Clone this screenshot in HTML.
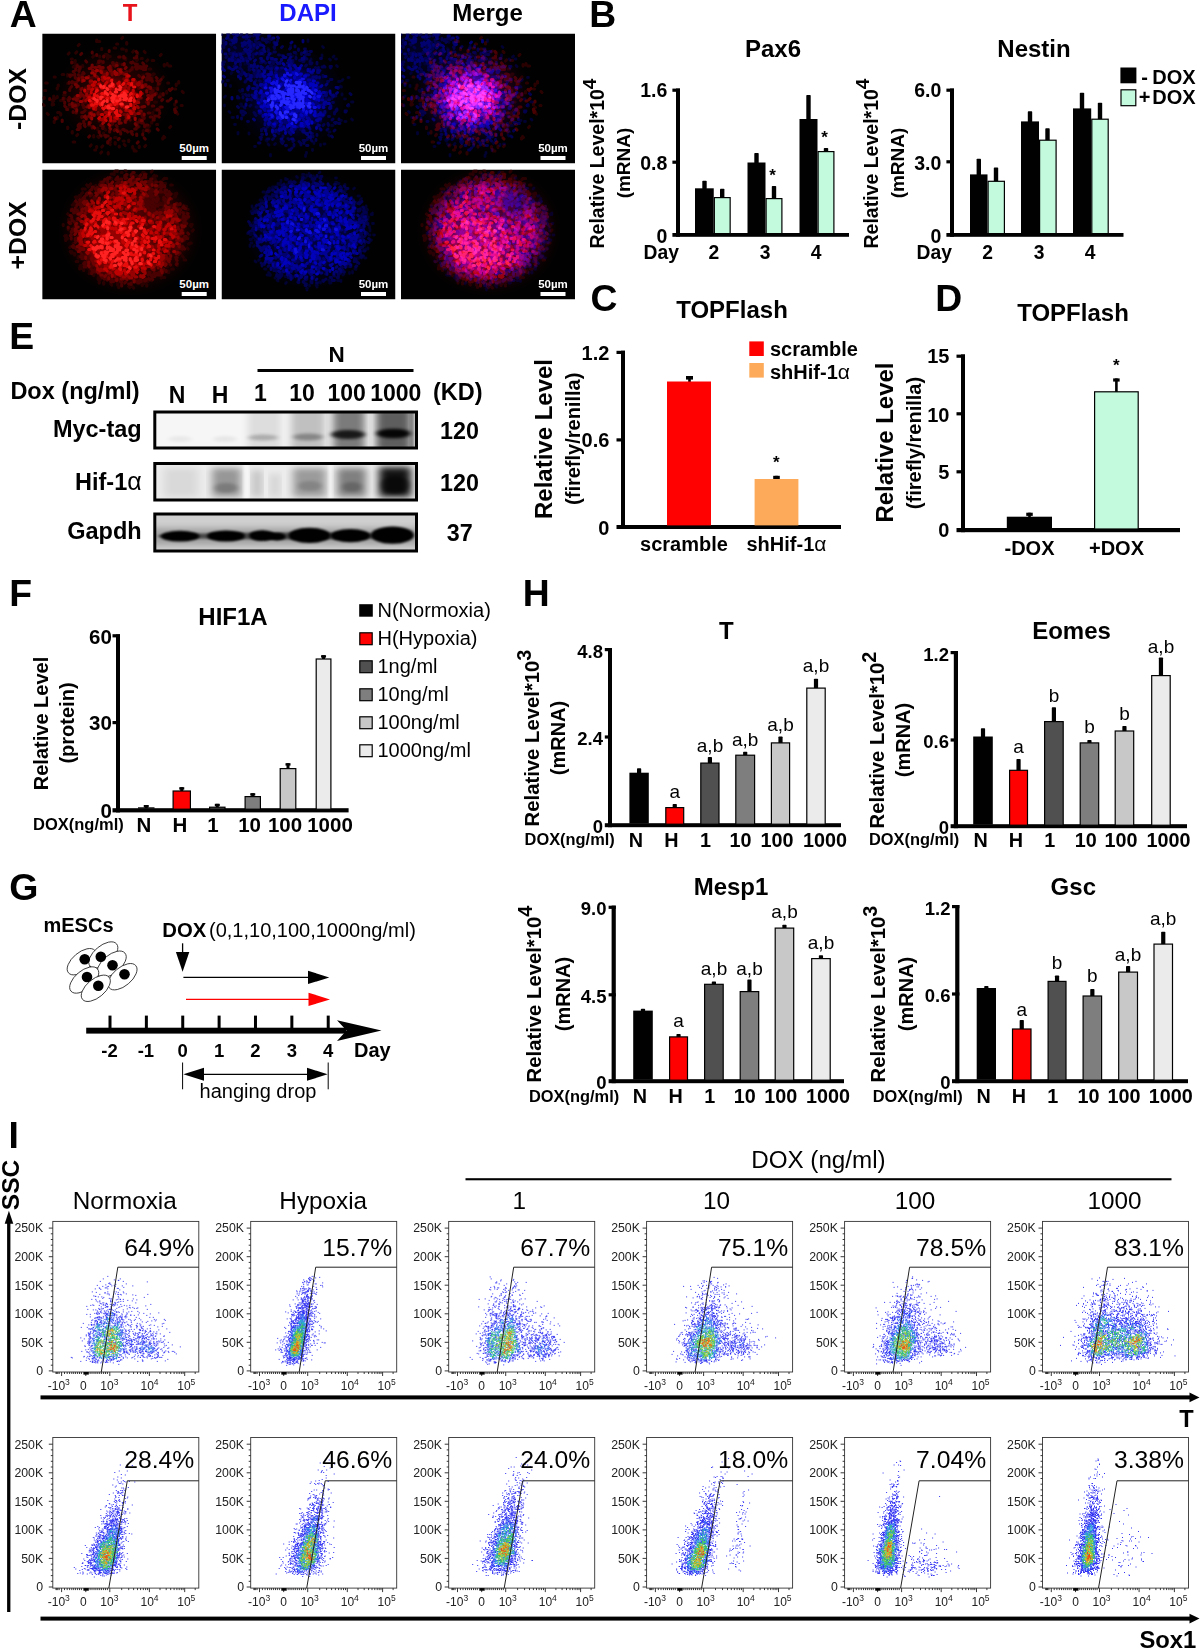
<!DOCTYPE html>
<html><head><meta charset="utf-8"><title>Figure</title>
<style>
html,body{margin:0;padding:0;background:#fff;}
svg{display:block;font-family:"Liberation Sans",sans-serif;}
</style></head><body>
<svg width="1200" height="1649" viewBox="0 0 1200 1649">
<defs>
<filter id="b1" x="-10%" y="-10%" width="120%" height="120%"><feGaussianBlur stdDeviation="0.7"/></filter>
<filter id="b6" x="-30%" y="-30%" width="160%" height="160%"><feGaussianBlur stdDeviation="6"/></filter>
<filter id="b12" x="-40%" y="-40%" width="180%" height="180%"><feGaussianBlur stdDeviation="11"/></filter>
<g id="fr0">
<ellipse cx="70" cy="63" rx="20" ry="17" fill="#ff0000" opacity="0.45" filter="url(#b6)"/>
<ellipse cx="72" cy="61" rx="44" ry="34" fill="#900000" opacity="0.28" filter="url(#b12)"/>
<g filter="url(#b1)">
<path transform="scale(.5)" d="M67 39l2-2M119 227l2-2M202 194v3M265 111h2M184 232v3M268 101v3M234 124v3M103 204v3M144 29h3M269 159l2 2M30 126v2M213 197l2-2M105 233h2M111 60v2M154 225v2M229 182h2M225 137h3M251 99h2M69 204l2-2M273 96v3M240 89l2-2M219 177v2M141 58h2M201 83h2M169 18v3M237 121l2 2M234 100l2-2M109 226v2M221 158v3M37 160v3M43 132l2-2M20 141v2M51 187v3M278 144h2M2 142l2 2M133 46h3M4 128v2M24 87h2M131 48v2M151 61h3M189 54l2-2M10 160l2 2M159 10l2-2M223 110h3M21 133l2 2M178 73h2M67 62h3M96 225l2-2M250 60v3M204 36l2 2M113 16h2M151 193h3M117 239l2-2M149 21h2M244 62v3M51 100h2M51 131l2-2M62 67h3M134 220l2 2M23 125v3M132 238v3M168 33v2M66 54v3M81 64v2M205 226l2-2M5 114h2M123 199v3M192 186h2M235 147v2M191 61v3M63 66h3M159 31h3M58 147h3M136 214v3M63 58l2-2M119 30v2M236 44l2-2M214 71h3M101 47l2-2M32 103v2M37 134h3M111 189v3M218 88l2 2M225 153h2M62 217h3M52 148l2-2M125 191l2 2M249 116v3M198 50h2M209 55l2-2M181 226v3M23 130h3M30 109v2M74 81v3M255 188l2-2M116 59l2 2M126 42h2M181 37l2-2M194 225v3M111 206l2 2M209 188v2M267 150l2-2M254 65h3M173 213v3M241 209v2M20 133v2M220 83h2M265 141v2M167 49v3M222 81h2M71 74l2-2M7 99h3M43 123h3M220 54h3M30 167v3M21 140l2 2M60 196v3M205 184v3M129 45l2-2M51 82v3M24 175v3M58 51h2M280 116l2 2M52 41l2-2M109 13v3M163 46l2 2M145 208h3M164 222l2 2M231 105v3M115 45v2M31 158h3M212 193h2M243 206l2 2M40 82h3M162 215h2M185 235h3M189 39l2 2M146 218v3M72 24l2-2M213 187l2-2" stroke="#2c0000" stroke-width="6.2" stroke-linecap="round" fill="none"/>
<path transform="scale(.5)" d="M73 67l2 2M236 94l2-2M222 172l2-2M175 75l2-2M135 68l2 2M89 122h2M129 205h3M76 186v3M114 55h3M83 179l2 2M42 129v2M144 194l2-2M179 59l2-2M207 69v3M214 106l2 2M201 201v2M53 132v3M66 87v2M70 64v2M63 147l2 2M177 58h3M195 172v2M204 168v2M116 203l2 2M218 127v3M122 185v2M122 56v2M122 74v2M189 45v3M239 134l2-2M96 90l2 2M56 86l2-2M193 177h3M209 89l2-2M138 183l2-2M144 64l2 2M185 191h3M201 168h2M193 84l2 2M231 110v2M198 174l2 2M110 161l2-2M186 61h2M83 145v3M229 94l2 2M187 127l2-2M216 118l2 2M84 156l2-2M215 91v2M66 127h2M76 67v3M232 165l2 2M104 105l2-2M131 167v2M149 59v2M180 58h2M166 78h2M122 87v2M169 76v2M258 112l2-2M99 89v3M52 133l2-2M254 112l2 2M113 55v3M113 69l2 2M55 83h3M100 37v2M86 109l2 2M54 97v2M72 83l2 2M195 66v3M156 196v2M134 34v2M88 109v3M235 158v2M84 184l2 2M109 42v2M219 116l2-2M81 141v2M215 82v2M40 173v3M256 132l2-2M148 184l2 2M127 205v2M135 212l2-2M79 166h3M237 147h3M81 79h2M141 162h2M192 146v3M61 98h3M151 79h2M232 152l2 2M201 87v2M200 161v2M219 117v3M206 102h2M212 91l2-2M45 137v3M87 55l2 2M197 66v2M77 110v2M152 212l2-2M79 168l2-2M58 83h2M250 135h2M268 135v2M191 149h2M114 196v2M85 137h2M45 145l2 2M202 66v3M68 157v2M212 159h3M175 153h3M181 163l2 2M220 145h3M216 90h2M161 192h3M225 165h3M93 207l2-2M189 105l2 2M101 186l2 2M188 71h2M98 67v2M80 83v2M222 173h2M189 66h2M174 171l2 2M72 183v3M135 69h3M68 147l2-2M212 138l2-2M242 120v3M167 155l2 2M187 190l2-2M201 59l2 2M209 90v3M100 105v3M140 175l2-2M141 58v2M65 81v2M70 135l2-2M68 98l2-2M71 142h2M94 122v2M100 186v3M82 78l2 2M228 88l2 2M74 73v3M25 169l2 2M57 108l2-2M207 65h2M114 173v2M196 106l2-2M121 187v3M198 161l2-2M49 152h2M123 45v2M220 117l2-2M146 172v2M55 111v3M87 116h3M234 127h2M265 151v3M186 67l2-2M62 76h2M177 196h3M125 204h3M204 209l2 2M208 137l2-2M117 184h3M54 128l2 2M220 94v2M59 57v2M74 181h3M143 62h2M137 78v2M184 49h2M163 192l2 2M157 199v2M101 87h3M120 79h2M112 162l2 2M190 219l2-2M211 86l2 2M141 178v3M60 96v3M68 90h2M209 81h3M126 78l2-2M153 47h3M70 192h3M190 185l2 2M193 156h2M131 216v3M232 101h2M67 101l2 2M180 68v3M186 180l2-2M187 62h3M176 163v2M77 42l2-2M188 63v3M150 190v3M199 179h3M78 125l2-2M205 183v3M179 200l2 2M169 195l2 2M230 151v2M163 47l2 2M216 167h3M198 70h2M189 201v3M71 106h2M135 194v3M83 175v2M230 191l2 2M62 156v2M44 118h2M208 183h3M67 71v2M228 119v2M63 141h3M15 130v2M163 46v3M167 175v3M190 182v3M160 62h2M202 72h3M208 194h3M93 183h2M142 61v2M266 158l2-2M200 162v3M95 129l2 2M193 108v2M214 108v3M54 142h2M79 158h2M95 178h2M74 127v3M188 36l2 2" stroke="#4a0000" stroke-width="6.2" stroke-linecap="round" fill="none"/>
<path transform="scale(.5)" d="M121 105h3M172 98l2 2M217 108v2M121 144l2-2M157 77v3M94 110l2 2M209 114v3M94 178v2M102 128h3M179 153v3M84 167l2-2M204 161v2M198 174h2M99 158v2M94 70h3M91 113v3M78 112l2-2M155 72v2M194 97h3M168 97v3M69 130h2M127 135l2-2M186 160v2M126 91h2M79 88h3M123 135v3M143 161v3M139 94l2-2M118 172l2 2M149 194l2 2M137 137l2 2M132 145h2M152 172h3M82 134h2M154 160l2-2M147 167h3M103 187l2 2M216 126v3M168 166v3M195 129h3M161 79l2 2M175 100h2M135 189l2 2M186 181l2 2M89 147h3M186 99l2-2M114 103l2-2M155 72h3M135 176h3M129 101l2 2M169 169v3M136 102h2M108 85v2M66 131l2 2M152 72l2 2M61 144v2M93 165l2 2M202 146h3M174 104l2-2M172 115l2 2M133 103h2M60 139v3M148 64h2M69 152v3M119 74v2M99 145v2M107 139h3M98 106l2 2M195 99v2M112 117l2-2M168 144l2-2M65 144h2M187 103v2M136 65v3M88 168v3M196 155h2M166 70l2-2M163 162h3M220 124v3M174 135v3M174 166v2M163 91l2 2M77 118v3M181 94h2M119 68h3M153 82l2-2M211 107h3M141 78h2M132 68h3M212 138v3M154 177v3M204 103v3M101 73v2M74 124l2 2M105 68h3M91 128l2 2M195 124v3M199 147h2M201 89l2-2M112 158v3M155 179h3M93 86v2M197 108h3M108 87h2M205 105l2-2M114 136l2-2M123 82h3M140 80v3M68 133h2M73 90v3M81 123l2 2M118 111l2-2M164 60v3M99 102l2-2M66 102h2M88 88h3M105 76l2 2M217 132h2M100 63v3M80 93v3M156 103v2M181 118h2M136 75l2-2M184 103v3M132 158v2M211 124h3M181 144l2-2M92 144h2M199 95v3M96 95v3M124 174v3M69 107l2-2M225 121v2M134 95v3M84 125v3M95 159v2M171 93l2 2M192 131v3M134 70v2M87 118h2M189 121v2M191 122h2M113 66h2M103 136h3M129 144v3M166 174v3M62 131h2M117 69v3M118 76v2M183 115v2" stroke="#6e0000" stroke-width="6.2" stroke-linecap="round" fill="none"/>
<path transform="scale(.5)" d="M210 132l2-2M135 119l2-2M191 138h2M116 172h2M163 123h3M99 168v3M190 146l2 2M192 100l2 2M155 139h2M170 83l2 2M141 111l2-2M104 144v3M92 110h3M95 124v2M143 175h3M153 105h3M131 112l2-2M88 89h3M149 165l2 2M164 145v3M120 87h3M105 82v2M187 136l2 2M181 117v3M121 171l2 2M149 145v2M138 108l2 2M177 134h3M174 130h2M92 105h2M117 125l2 2M159 140v3M161 133v2M97 160l2 2M96 95h3M107 149v3M168 114l2 2M87 134l2-2M194 98v3M156 73v2M186 121l2 2M118 107h2M145 76l2 2M186 169v3M121 180l2-2M180 156h3M107 109h3M168 130l2 2M110 128v3M173 108v3M70 124h2M180 145h3M180 98l2-2M159 109h3M133 182l2 2M190 101l2 2M104 104l2-2M149 79v3M99 79h2M167 104v3M128 91h3M172 154h3M158 110h3M89 121v3M110 130v3M200 104v3M120 92l2 2M82 94h2M126 120l2 2M129 125h3M144 140v2M184 140h3M135 104l2-2M126 158h3M165 112v2M101 135l2-2M197 120h3M166 101v2M146 79v2M143 123l2 2M174 126l2-2M149 163l2-2M171 169h2M188 139l2-2M109 136h2M104 162v2M168 88l2 2M142 141l2 2M171 162v2M117 76l2 2M125 87h3M131 93l2 2M167 154h2M94 145v3M76 136h3M108 74h3M166 127v3M127 107l2 2M144 169l2 2M134 165h2M167 82h3M156 75l2 2M133 150l2 2M112 122h2M120 137h2M147 78v3M130 79v3M147 82l2-2M194 124v2M165 97l2-2M139 155h2M191 160h3" stroke="#960202" stroke-width="6.2" stroke-linecap="round" fill="none"/>
<path transform="scale(.5)" d="M100 129h2M182 113v2M107 142l2 2M151 100h3M116 137l2-2M167 94h3M150 168v2M134 156h3M145 137l2 2M145 142l2-2M98 142v2M183 150l2-2M176 103l2-2M167 132l2 2M113 101h2M173 127v3M141 105h2M143 102v2M135 145h2M129 164h3M125 120l2 2M140 143l2-2M137 129v3M124 121h3M121 127h2M127 122l2 2M137 130l2-2M85 113v2M159 145l2-2M107 136l2 2M171 146h2M97 138h3M151 139v2M171 85h3M153 105h3M137 142h2M115 133h3M173 166v2M106 143v3M195 125l2-2M103 148v3M145 127l2-2M102 102v2M140 150v2M132 89h2M175 156h2M181 92h3M93 128h3M100 103h3M134 109l2 2M197 117v3M137 171v3M182 120v2M113 91v2M118 162h3M172 100h3M147 168l2-2M124 88l2 2M168 148v3M147 123v3M137 167v2M156 155l2 2M185 148v3M98 117v2M99 113l2-2M130 127h3M109 112l2 2M104 123v3M127 100l2-2M113 170l2-2M154 97v2M104 97h3M177 160h3M153 128l2 2M125 167h2M126 172l2 2M181 127l2 2M117 134v2M129 123v3" stroke="#c00606" stroke-width="6.2" stroke-linecap="round" fill="none"/>
<path transform="scale(.5)" d="M136 118l2 2M139 93v2M150 134h3M99 143h3M127 146v2M129 130h2M133 143h3M146 131l2 2M108 116l2-2M159 120l2-2M179 100v3M115 141l2 2M147 139h2M123 107l2-2M184 133v3M119 109h2M140 104l2 2M161 102l2-2M145 126l2 2M119 120h2M121 149l2 2M134 159v2M167 130v3M176 122l2-2M149 127l2 2M149 154v3M150 161v3M110 125l2 2M168 117h2M190 123v3M94 134h2M146 139v3M183 107h2M146 158l2 2M102 130h2M165 115h2M106 140h3M177 141v3M154 164h2M124 121l2-2M105 121v3" stroke="#e80c0c" stroke-width="6.2" stroke-linecap="round" fill="none"/>
<path transform="scale(.5)" d="M154 112h2M140 150h3M155 106l2 2M130 134v2M148 111v2M176 131l2-2M149 135h2M165 123h3M163 132h3M139 129l2-2M157 141h3M139 104l2-2M122 137l2-2M146 117h3M157 124h3M132 149h3M162 123v3M117 127h3M140 100v3M141 122l2 2M143 129v3M154 125h3M117 127v3M123 106v2M140 135l2 2M117 104v2M129 110l2 2M126 116v3M167 130h2M156 131v2M157 124v2M120 139v3M143 125h3M135 105h2M168 147h3M104 130l2 2M174 134h3M110 133v3M129 120l2 2M165 130l2-2M164 119l2 2M131 146h2" stroke="#ff2424" stroke-width="6.2" stroke-linecap="round" fill="none"/>
</g>
</g>
<g id="fb0">
<ellipse cx="69" cy="65" rx="30" ry="27" fill="#0000ff" opacity="0.4" filter="url(#b6)"/>
<ellipse cx="69" cy="65" rx="42" ry="38" fill="#0000a0" opacity="0.3" filter="url(#b12)"/>
<ellipse cx="18" cy="18" rx="30" ry="20" fill="#000080" opacity="0.3" filter="url(#b12)"/>
<g filter="url(#b1)">
<path transform="scale(.5)" d="M40 79h3M19 80l2-2M179 51v2M230 64l2 2M106 222l2-2M215 197h2M205 221h2M89 213l2 2M201 43v3M238 105l2 2M168 243v3M21 168h3M198 222v2M75 39l2 2M6 143v2M253 88h2M18 104v2M84 36v3M96 15v3M185 218v2M42 122h2M26 182h2M223 47l2-2M67 69v2M6 127l2-2M98 242v3M39 145h2M93 221l2 2M228 51h2M173 13v3M170 238v2M238 174h2M141 45h2M36 114l2 2M260 137h3M11 94h3M253 145h2M99 40h2M15 156l2 2M33 198v3M110 19v3M241 94l2-2M47 61h3M234 96h3M247 176h2M202 26l2 2M55 199v2M38 141h2M260 171l2 2M214 203l2 2M138 25v3M66 226h2M216 51l2 2M60 68v2M182 232v2M220 184h3M241 121v2M246 131h2M55 43l2 2M82 42h3M149 40v2M93 30l2 2" stroke="#000030" stroke-width="5.8" stroke-linecap="round" fill="none"/>
<path transform="scale(.5)" d="M136 43l2-2M191 58v3M43 127v2M218 143v3M87 71h3M79 209v3M43 77v2M234 180h3M136 31l2-2M166 45l2-2M169 38l2-2M100 54h2M58 85h2M102 212l2-2M65 158l2 2M247 157h2M165 218v2M57 145l2-2M65 79l2 2M201 67h3M32 126v3M133 210l2 2M196 166v3M247 155h3M107 54l2 2M235 171v2M170 224h3M80 114h3M46 157l2 2M211 193l2-2M48 122l2 2M84 190h2M94 44v3M122 216h2M145 38h3M42 163h2M88 177v2M162 196l2 2M98 63l2 2M225 195l2-2M192 74v3M39 155v3M191 202v2M145 222v3M76 94l2 2M189 212v2M183 205v2M130 196h3M128 66h2M198 50h2M69 125h2M121 44l2 2M231 151v3M191 70v3M221 173l2-2M114 43h2M214 166h2M226 158v3M155 216l2 2M205 65l2 2M158 192l2-2M198 173v2M67 96l2-2M77 208h3M67 162l2 2M177 36h3M92 187l2-2M149 48v3M233 110l2-2M52 109v2M53 132h3M204 158l2-2M74 82l2 2M193 181v3M141 72h2M74 219h3M160 39v3M107 67l2-2M173 42h3M32 146l2 2M72 75h2M74 74v3M68 79v2M33 127l2 2M213 180v2M52 176h2M226 125h3M165 214h3M198 129h3M195 145v3M88 163v2M180 59v2M105 68h3M252 144l2-2M218 66v3M221 128v2M179 59h2M139 231l2-2M52 83l2-2M70 80v2M172 210v2M105 37h3M229 153v3M214 182v2M135 233h3M119 216h2M159 220v3M143 54v3M215 129v2M123 186l2-2M66 84v3M89 192v3M80 202h2M132 195l2-2M226 178l2 2M166 31h2M80 83h3M104 59v2M69 147h3M113 198l2 2M217 66h3M32 166v2M133 42h3M100 67v2M203 84v3M93 46h2M203 184l2-2M120 218l2 2M186 178l2-2M193 183v3M116 70l2 2M212 96h2M45 147l2 2M43 155v2M111 72v3M177 55v2M162 56h3M58 131l2 2M55 73h2M257 120l2 2M222 138h2M76 83v3M48 95v2M47 97l2-2M209 130v2M220 205l2 2M57 84v3M228 178h2M188 68l2 2M143 216l2-2M90 82h3M169 182l2-2M123 205v2M180 202l2-2M40 169v2M169 49l2 2M128 224h2M92 172l2 2M75 159l2-2M92 211h3M163 214h2M194 68v3M218 92h3M55 123v2M179 213l2 2M154 31v3M80 192v3M65 26v2M88 88v2M16 13h3M68 13v3M49 11h2M-3 58v3M72 8l2 2M26 27l2 2M38 81l2 2M70 21l2-2M5 20l2 2M64 5l2-2M79 55v3M-28 44l2 2M142 -17l2 2M41 73v3M-54 77h3M22 39v3M36 70h2M25 66l2-2M69 -25l2-2M-28 79l2 2M-6 -2v2M51 22l2-2M-34 13v2M-42 36l2 2M18 52v2M105 17v2M77 36v3M74 -10l2 2M-82 49h2M-6 67v3M75 -9v2M164 53h2M33 -4h3M42 26h2M120 28l2-2M23 -5h2M-26 19v2M60 29h2M80 34v3M76 87l2-2M42 112v3M-12 94h2M46 -14h3M63 46v2M56 7l2-2M79 79l2 2M32 42l2-2M48 50h2M25 14l2 2M-48 62l2 2M-23 112v3M56 39v2M-3 2h3M99 102h3M82 10v3M-38 39v2M51 1v3M-69 24l2-2M61 22v3M-27 57v3M77 19v2M100 57l2-2M70 22v3M98 10l2 2M12 2h3M177 58v3M75 41h3M-101 48v2M106 21h3M56 18h3M74 18v2M-6 -22l2-2M38 3l2-2M94 34v3M38 40v2M52 59l2 2M80 34l2-2M-59 50l2 2M93 10h2M145 -4h3M-13 59v3M51 35v2M66 25h2M34 41v2M41 -15l2-2M50 26h2M112 14v2M105 27l2-2M86 57l2 2M18 21l2 2M64 -4v2M8 101v3M121 -15h2M27 51v3M168 65l2-2M43 55h2M26 38l2 2M147 25v2M-3 28v3M62 33l2-2M113 -7l2-2M111 85l2-2M-59 52v3M49 52l2-2M106 28v2M75 1h2M69 73l2-2M59 18h2M42 40h2M15 11l2 2M53 36h2M86 14l2-2M39 -13h2M-36 -23l2-2M-13 47h3M9 48l2-2M63 41h3M55 67v2M2 64l2-2M89 126v3M16 40h3M89 -12l2 2M1 97l2-2M78 58h3M-2 63l2-2M20 46l2-2M-78 51l2 2M-13 38h3M4 13v2M98 74v3M30 11v3M-65 39h3M-10 1h2M90 18l2-2M156 54h2M36 45h3M65 -3h3M5 25v3M44 38h2M14 67v2M-14 68v3M53 38v3M33 52v3M68 65l2 2M-91 4h3M-21 18l2 2M-14 46v2M-26 52h3M-17 -34h3M38 61v3M3 57h3M-16 19v3" stroke="#00004e" stroke-width="5.8" stroke-linecap="round" fill="none"/>
<path transform="scale(.5)" d="M165 48v3M208 141h2M77 140v3M123 186v3M95 164h2M144 92h3M188 121v3M112 167l2-2M197 190l2 2M182 90l2-2M134 76l2 2M85 133l2 2M101 184l2 2M153 166l2 2M119 185v3M108 177l2 2M99 50h3M121 187v2M193 109l2-2M207 124h3M172 200v3M148 83h2M184 138h3M131 99v3M101 139l2-2M174 111l2 2M111 58l2 2M168 199l2 2M183 87v3M153 82v2M88 193v2M209 103l2-2M136 62l2 2M136 181v2M104 185l2 2M177 72v2M187 146l2-2M193 75v2M163 196l2-2M126 48h3M145 193l2-2M140 211h3M87 172l2 2M214 133h2M171 186h2M190 141h3M151 169l2 2M76 159h3M229 108h3M195 76l2-2M104 185v2M197 191l2 2M196 87v2M74 134v2M145 187h3M190 86v3M153 86l2 2M193 73l2 2M201 143l2 2M176 159h2M82 107l2 2M161 50v2M64 171l2 2M88 152l2 2M104 98v2M131 179l2 2M169 182l2-2M63 124v3M86 149h2M102 195v3M90 200v2M139 59l2 2M207 86h2M108 72h3M131 93h3M191 132v2M230 120l2-2M126 191h3M186 87h3M120 52v2M87 180v3M132 59h3M175 189l2 2M109 195l2-2M183 104l2 2M198 158v3M49 141v3M101 101h3M105 84v3M126 85h2M61 123l2 2M131 160h2M208 142l2-2M181 177v3M100 70v2M84 74h3M218 121l2 2M117 101l2 2M168 86v3M134 54l2-2M86 91l2 2M97 182l2-2M91 145v2M101 158v3M224 123v3M139 200v2M86 98h2M108 145v2M193 184h3M117 58v2M196 170h3M51 131v3M106 103h3M70 103l2 2M128 103l2 2M144 65l2-2M127 175v3M143 77h3M70 126v3M130 77l2 2M136 197v2M203 161l2 2M92 156h2M90 147l2 2M193 172v3M163 194l2 2M210 118v3M84 106h3M121 169v3M116 155l2 2M68 125l2-2M192 78h3M195 167h2M175 207h3M81 137h2M71 84v3M62 110h3M79 82v2M180 79h2M202 126v2M121 93v3M136 75l2 2M217 147l2-2M137 49l2-2M177 197l2 2M116 190v3M216 150h2M98 78v3M91 143v3M80 70l2-2M161 152h2M82 131l2-2M105 203l2 2M70 110l2-2M190 143v3M72 134l2-2M140 191v3M201 163l2 2M119 211h2M148 76h3M139 54v2M108 194v3M108 78l2 2M88 173l2-2M133 179v2M73 80v3M100 110h3M95 58h2M103 104v2M190 139v2M121 166h3M207 156v3M216 149h3M178 206v3M173 95l2 2M154 186l2-2M94 5h3M-64 63h3M73 -19h3M33 53v3M107 52h3M12 -5v3M38 -69h3M153 154h3M-46 80h3M107 19h3M52 91h3M-61 75h3M79 66v2M29 -9l2 2M-3 -8l2 2M16 68l2 2M26 8v3M95 42l2-2M24 13l2-2M-27 41h2M21 -5h3M-31 46l2-2M-14 42v3M10 10l2-2M49 82v3M-48 55h2M165 38l2-2M21 14l2 2M43 7h3M93 68l2 2M66 61v3M-56 -22v2M63 72l2 2M15 32v2M83 24l2 2M68 -22h2M-25 38h3M13 5v2M56 21v3M59 64v2M74 1v3M77 23h3M-9 78h2M23 19h2M41 19l2 2M28 58v2M-48 16v2M55 106v3M-8 77h2M26 17l2-2M66 1h3M-16 22l2 2M-9 -2h2M91 68l2-2M34 85v2M30 42v3M21 72h3M120 69h3M26 13v3M-48 32l2-2M104 -20h3M66 98v3M-40 58v3M92 48v3M15 51v3M0 35v2M39 49l2-2M-28 -8h3M-24 66h2M-21 -30l2 2M108 22h3M9 18v3M53 110v3M20 52h2M51 55h2M-16 40h3M82 -25v2M-50 -39h2M29 69l2-2M42 23v2M58 94h2M27 12l2-2M-15 1h2M-32 48l2 2M-65 48v2M77 86h2M56 49l2 2M37 42h2M54 33l2-2M2 69v3M30 4h2M38 89v2M66 55l2-2M21 54h2M46 32l2 2M21 49l2-2M46 17v3M-43 7h2M-4 27h2M53 40h3M-15 43v3M48 33h3M-6 49v2M23 1h3M-32 48v3M55 16h2M29 14v3M34 -38h2M64 64v3M103 9h2M58 84h2M71 29l2-2M72 9v2M4 85l2 2M-37 81h3M-23 15l2 2M139 19l2-2M21 128v3M71 6v2M36 54l2 2M81 -5h2M79 40h3M52 18h3M-7 32h2M163 14v3M74 75h2M65 22v2M112 7l2 2M32 75l2 2M-46 62v3M29 14v3M85 31v2M47 22l2-2M50 5l2 2M100 -13h2M33 -23l2-2M50 33v3M85 34l2 2M55 14l2 2M119 106v2M-5 -19v3M124 45v3M-10 19v2M54 -14l2 2M60 -26l2 2M-3 34v3M47 32h2M78 50h2M57 36h2M81 55h3M19 -9v2M28 69l2-2M24 41v2M46 -30h2M58 25v3M71 67l2-2M69 3l2 2M46 79v2M-25 5l2 2M69 41l2-2M-61 -7v3M32 -1v3M7 41h2M-26 62l2 2M57 88h3M-2 62h2M62 -7l2-2M4 72l2 2M-28 63h3M-2 -32l2 2M54 -43h3M55 45l2-2M43 51v3M-46 30h2M-13 29h2M-3 23l2 2" stroke="#000070" stroke-width="5.8" stroke-linecap="round" fill="none"/>
<path transform="scale(.5)" d="M76 119h2M171 83h3M150 124v3M87 173l2-2M128 165h2M110 69h2M124 153h2M124 164v3M126 84h2M159 164l2 2M79 114v3M173 72v3M178 77h3M169 102h2M105 134h3M152 91l2-2M147 187h3M165 124h2M111 99l2-2M88 106l2 2M138 70v2M157 168h2M153 76l2-2M66 129h2M147 126h2M152 73v2M134 183l2-2M159 156h3M191 174h2M126 98h3M186 162l2-2M194 162h2M159 168h2M188 133h2M123 60l2 2M162 128v3M175 173l2 2M173 185l2 2M84 86h3M95 82v2M78 102v2M169 138h3M100 80v2M114 156h3M107 116v3M168 85v2M138 70v3M143 137v2M82 123l2 2M190 173h2M126 128v3M149 158v3M139 130h2M90 125l2-2M141 155h3M125 190l2 2M107 181v3M151 156l2-2M67 125v2M113 134l2-2M174 155l2 2M86 149v2M195 171h3M83 81v3M147 88v3M149 151h2M108 97h3M200 163h3M191 165l2-2M205 139v3M191 99h2M188 112l2-2M190 188v2M136 107h2M187 114v3M110 105v3M83 122h2M151 176l2-2M146 64l2 2M92 96h3M174 93h3M177 100h3M150 106l2 2M140 184l2-2M116 165v3M94 179v3M86 136h2M169 153h3M157 164h3M163 168l2-2M217 115v3M89 167h2M93 145l2 2M167 181l2-2M80 132v3M104 105h2M154 152v2M120 100l2 2M130 136h2M126 122l2-2M201 133h2M168 150h2M164 173l2 2M94 140v2M141 78v3M162 107l2-2M165 160v3M135 63v2M106 121v3M93 141v3M117 184l2-2M150 122l2-2M139 192l2-2M162 113l2 2M67 119l2 2M91 136v2M174 174l2-2M144 184l2 2M93 83h3M203 148h2M136 73h2M203 118h3M102 193v3M164 187l2-2M95 178h2M150 84v2M125 100h2M181 145h3M199 106l2-2M152 121v2M84 150l2-2M94 172h2M75 155h3M128 198v2M159 183v3M144 136h3M197 121l2-2M140 186h2M108 106v2M158 66l2-2M175 176l2-2M213 140h3M116 191v3M100 120v3M156 83h3M115 165v3M119 179h2M184 73v2M81 127l2-2M156 101v3M196 144v3M196 126v2M100 77v3M165 151l2 2M92 164l2-2M195 125v2M83 164v2M125 187v2M134 174l2 2M120 191v2M78 102h3M149 70h2M207 137h2M86 76v2M166 163l2-2M170 123h3M138 69v3M159 127l2-2M169 83h2M117 120l2-2M198 159v2M152 70v3M171 169h3M126 116l2 2M68 116h2M142 196l2 2M86 103v3M157 88l2 2M147 76l2 2M160 143h3M80 115v3M105 95l2-2M148 68l2 2M79 146l2-2M85 152l2 2" stroke="#020296" stroke-width="5.8" stroke-linecap="round" fill="none"/>
<path transform="scale(.5)" d="M166 85h2M109 143l2-2M89 102v2M181 177v2M176 136v3M79 147h3M178 155h3M101 115h2M116 143h2M172 181h3M91 146h2M139 113v2M168 161l2 2M197 122h2M158 94l2 2M161 109l2-2M159 184h3M188 124v2M90 120h3M194 123l2-2M183 106v3M120 120v3M100 122l2 2M137 148v2M170 124l2-2M132 149l2 2M94 90h3M138 107v3M113 90v2M115 150l2 2M177 101h2M131 122l2-2M123 148h2M177 158h2M143 148h2M164 136v2M136 121l2-2M106 122h3M175 114v3M73 139h2M94 155h3M95 97l2-2M154 172h2M135 149v3M187 156v3M132 184v3M94 143v2M98 170l2-2M149 172l2 2M116 130h3M170 177l2-2M185 112h2M124 154h3M137 101l2-2M184 128v2M133 111h2M131 99v2M127 113h2M159 143v3M183 95h3M155 70h2M156 123v3M182 103l2-2M104 140v3M103 140v3M182 140l2 2M117 174v2M134 140v3M195 132v2M86 141v3M149 97h3M104 134l2 2M152 128l2 2M128 71l2 2M119 120l2-2M177 102v3M194 118l2-2M131 93l2-2M104 181h2M185 163l2 2M187 104h3M138 139h2M120 90l2-2M152 95v2M175 139v2M112 115h3M138 128v2M159 162l2 2M134 170v3M138 133v2M110 84v3M113 165l2 2M170 126h3M144 186h3M103 166v2M131 164v3M144 167l2-2M163 119h2M95 162h3M132 139l2 2M169 128h2M89 95l2-2M163 106l2-2M182 113v2M128 87l2 2M136 181v3M172 139v2M112 134h3M146 81l2 2M157 121h2M177 140v2M128 84v3M119 142h2M118 102v3M112 134h3M157 81h3M87 162h2M152 103l2 2M176 156l2-2M153 136h3M172 124l2 2M160 108v2M141 157l2 2M149 116l2 2M112 164v3M146 87v2M144 79h3M151 99v3M79 116v2M159 180h3M193 146l2 2M189 131h3M151 150h2M170 134h3M163 156h2M133 137l2-2" stroke="#0606bc" stroke-width="5.8" stroke-linecap="round" fill="none"/>
<path transform="scale(.5)" d="M147 163h2M131 142h3M122 91l2 2M118 134h2M185 148h3M141 141l2-2M141 113v3M149 175v3M108 117v2M170 110v3M108 119l2 2M179 155v2M111 129h3M118 168l2 2M174 148h2M110 102l2 2M165 104l2-2M183 121h3M164 123v3M142 172h2M162 108l2-2M136 119v2M140 136v3M93 129l2 2M141 179v2M132 79v2M90 119h2M97 125h2M86 135l2 2M137 95l2-2M164 119v2M193 126h3M141 105h2M100 112h3M147 123v3M165 98h2M156 129h3M100 100h3M101 163v3M104 97l2 2M131 147h2M95 128l2-2M154 133h2M170 156v3M87 109h2M185 128v2M126 83v2M112 117l2-2M101 151v2M110 154l2-2M99 114v3M146 122v3M113 108l2-2M188 114h2M126 162l2 2M108 157l2 2M112 170l2-2M138 161h3M136 83h3M151 139h2M113 124h3M143 137l2 2M149 146l2-2M156 94l2 2M111 96v3M169 140l2 2M130 109l2 2M164 151v2M161 91h3M132 149v3M160 119h2M128 148h3M97 109h3M121 129l2 2M144 130h2M150 80l2 2" stroke="#0c0ce0" stroke-width="5.8" stroke-linecap="round" fill="none"/>
<path transform="scale(.5)" d="M134 118h2M115 105v3M102 138v3M118 159v3M112 148v2M159 146l2-2M152 144v3M134 113v3M101 125h3M123 124h2M149 122h3M163 131v2M137 116h3M179 117l2 2M131 130h3M144 134l2-2M152 127l2-2M108 115l2 2M137 118v2M107 117l2 2M125 129v3M138 111h2M162 115v3M115 129l2-2M143 113v3M145 141v2M100 128h2M153 114l2 2M128 102v2M149 164v3M173 114h3M176 125l2 2M166 120h3M110 124h3M131 136v2M155 98h3M149 98h3M131 157h2M134 113v2M157 124h2M143 105h3M124 134v2M141 113l2-2M121 117v3M107 111v3M140 146h2M162 128h2M159 141h3M124 135h2M139 105v2M164 115v3M156 138l2 2M140 130l2-2M137 147h2M129 96l2-2M117 158v3M153 142l2 2M127 158l2-2M158 119v3M133 138l2-2M156 119l2 2M133 105l2-2M157 129l2-2M170 107l2 2M135 111l2 2M114 128l2-2M115 116h2M141 118h2M173 145h2M150 112v3M108 129v2M162 107l2-2M153 121v2M157 122v2M111 114h2M146 161v3M144 138l2 2M124 120v3M155 103h2M126 135v2M129 168h2M133 114l2-2M109 145v2M121 166l2 2M118 144l2-2M101 131h2M144 171l2 2M175 145l2 2M149 141l2 2M123 118l2 2M120 136v3M165 110l2 2M156 146v3M121 164l2 2M99 143h3M138 119l2 2M125 138h3M138 143l2 2M123 126l2-2M140 123v2M150 108h2M163 137v3M100 147l2-2M153 139h3M121 119l2-2M154 114v3M156 132l2-2M125 120h3M93 134l2-2M142 148h2M163 147l2-2M139 147v3M130 141h3M132 122h3M175 140h2M156 107l2-2M141 125h2" stroke="#2626ff" stroke-width="5.8" stroke-linecap="round" fill="none"/>
</g>
</g>
<g id="fr1">
<ellipse cx="76" cy="78" rx="30" ry="26" fill="#ff0000" opacity="0.5" filter="url(#b6)"/>
<ellipse cx="88" cy="61" rx="54" ry="47" fill="#b00000" opacity="0.45" filter="url(#b12)"/>
<g filter="url(#b1)">
<path transform="scale(.5)" d="M167 225h2M235 56v2M248 194h2M114 212v3M83 39h3M94 208h3M64 115h3M286 89l2 2M235 209l2-2M227 13h2M92 32v3M158 223h2M225 23l2 2M123 226v3M230 63v2M290 157l2 2M42 110v2M116 25l2 2M236 57h2M201 230l2-2M66 55h3M208 224h3M297 110h3M79 48l2-2M200 229v3M188 222v3M224 26h2M150 1v3M269 47v2M218 71v2M76 192h3M219 219v3M264 55h2M251 206h2M58 79h2M221 72v3M50 137v2M240 45l2 2M151 228v3M67 73l2 2M48 132v3M68 69h3M218 71l2 2M137 229l2 2M51 89l2 2M228 210h3M236 76h3M209 230v3M60 71h2M296 112l2 2M144 8v2M166 1l2 2M75 55l2-2M222 64v2M72 174v3M89 31l2 2M181 235l2 2M55 156l2-2M101 210l2 2M286 85h2M257 31h3M77 198h2M145 4l2-2M138 17v2M69 80h3M265 49l2 2M86 189h2M138 9h3M242 20l2-2M276 160h2M284 181h3M280 173l2 2M47 139v3M75 196v3M251 205l2-2M95 31l2-2M285 73l2 2M125 25h3M95 203l2-2M231 60v3M234 51l2-2M63 68l2-2M222 14l2-2M173 234l2 2M273 159l2-2M265 54h2M217 69l2-2M201 223v3M290 80h2M115 221l2-2M236 60l2 2M203 16h3M242 216h3M235 54h2M59 130v2M268 184v3M65 65l2-2M236 211l2 2M65 168v3M224 63l2-2M150 225h2M54 102l2-2M285 74h3M56 164h3M187 12h2M290 95l2 2M68 184h3M80 39h3M246 18h3M292 149h2M62 156h3M201 6h3M238 217l2-2M300 123l2-2M45 133l2 2M62 148h2M282 72l2 2M182 9v2M218 5l2-2M259 199h3M206 9h2M83 200v2M226 19v3M105 34l2-2M58 167h3M251 58l2-2M52 120l2-2M53 99v3M91 194v3M69 57v2M295 147h3M79 193l2-2M233 204h3M288 134l2 2M213 221h3M289 135h3M242 41h3M236 53l2-2M96 204v3M244 28h3M218 222l2-2M181 223h2M80 192h3M243 203l2 2M217 66v3M270 190v2M112 217v3M114 225v2M279 159l2 2M125 19v2M158 6h2M153 234v2M274 160l2 2M74 52h2M286 74h3M229 79h2" stroke="#2c0000" stroke-width="6.2" stroke-linecap="round" fill="none"/>
<path transform="scale(.5)" d="M281 86l2 2M98 192v2M231 96h3M195 19h3M118 214l2 2M269 122v2M208 82v3M262 74l2 2M183 24v2M213 71h2M246 189v2M260 131h3M165 227l2-2M269 111l2-2M233 206h2M224 108v2M100 35h2M139 222v3M128 214l2-2M284 134h3M147 20h3M237 188h3M88 72l2-2M98 80l2 2M235 103v3M215 65v2M106 192h3M111 49l2-2M165 16l2-2M153 24v3M66 139v2M55 106l2 2M103 71l2 2M80 147h3M253 46v3M140 36l2 2M221 81v3M187 223h2M282 92v2M222 44l2-2M234 43h3M248 119h3M111 38h2M285 78h2M95 47v2M131 41h3M230 211h2M239 178h2M275 142l2 2M279 154v2M67 83h2M223 214h2M105 54h3M236 32h3M159 230v3M90 65l2 2M218 24l2 2M205 69l2 2M139 35v3M193 214l2 2M236 45h3M79 178h3M76 66v3M288 134v2M178 214v2M204 56l2-2M70 87v2M219 218l2 2M275 86v3M221 43v2M119 25h2M246 58v3M78 168l2 2M286 101l2-2M96 51v2M205 221v2M121 213h2M138 223h3M75 60v3M290 88h2M265 91v3M147 29l2-2M66 138l2 2M246 183v2M218 80l2 2M208 33h3M234 114l2-2M257 73h2M243 177v2M139 219v3M279 155h2M266 70l2-2M217 29l2-2M241 80l2-2M232 58v3M206 24h3M213 30v3M287 106l2 2M124 219l2-2M223 208h2M83 59l2-2M284 94h2M271 70h2M83 93v2M199 84h3M263 157v3M268 180l2 2M217 53l2-2M97 184h3M181 6h3M90 184l2 2M251 110v3M110 36v2M270 68v2M63 84v3M289 138h2M141 44l2-2M263 165h2M270 146h2M233 34l2-2M78 77h2M143 224l2-2M212 24h3M118 204h2M158 211h2M243 82l2 2M78 62v3M99 49v2M219 74h3M272 158h3M260 80v2M245 32v3M209 31h3M236 25h2M272 85l2 2M286 108h3M83 58l2 2M282 126v2M105 200v3M71 135l2 2M83 188l2-2M225 79v3M149 17l2-2M190 27v3M213 53h3M109 37v2M252 53v2M184 19v3M159 220l2-2M273 167h3M155 27v2M92 181v3M67 158l2-2M81 58l2 2M86 189v3M179 204v2M281 76l2-2M70 82l2 2M76 71h2M60 154l2-2M70 98v3M182 59v2M126 53v3M59 94v3M84 195h3M274 147v2M63 104l2 2M148 19l2-2M270 153v2M254 44v2M291 127l2 2M179 23h3M207 37h2M229 62v3M82 61v2M227 36l2 2M243 199v2M173 229h3M237 177h2M198 40v2M178 10v3M238 37l2-2M100 203v3M216 68v2M288 95h3M62 156l2-2M85 67v3M226 91h2M268 190l2-2M246 43v3M165 12h3M198 221v3M245 44v2M84 90v2M79 69h2M83 56l2-2M203 203h3M153 211l2-2M264 154v3M69 160h2M275 79l2 2M128 219l2 2M225 52l2-2M137 224h3M227 25h3M196 57v3M240 188l2 2M228 51l2 2M99 61h3M68 84v2M226 210l2-2M273 170l2-2M75 92l2 2M85 189v3M207 14v2M99 38v2M66 146l2-2M266 78v3M281 98l2-2M124 22l2-2M279 156l2-2M213 36h3M97 198l2 2M189 20h2M280 156h3M204 55v3M237 29h3M204 10h3M134 65v2M238 35v2M219 106h2M227 45v3M225 60l2 2M52 115v2M167 15l2 2M148 217h2M283 104v2M106 39l2 2M274 131h3M104 56l2 2M84 66h3M79 149v3M60 119h2M196 71v3M184 66v3M290 94h3M63 123h3M118 48l2 2M233 83l2-2M247 76h2M115 30v2M75 92l2-2M225 106v3M195 13l2-2M60 100v2M256 51l2-2M100 193h2M131 23v3M53 106l2 2M280 138v2M195 96v2M237 40v2M208 32v2M67 63l2 2M217 19h3M76 174h3M233 92h3M89 48v3M95 43l2-2M203 91l2-2M77 157v2M66 112h2M276 68v2M137 40h2M117 200v2M213 38l2 2M191 227h3M254 182v2M254 94v2M157 218l2-2M201 17l2-2M256 59h3M284 136l2 2M243 56l2 2M66 77v2M267 176h3M182 220l2-2M88 49l2-2M217 20v3M283 157l2 2M77 150l2-2M130 36l2 2M77 75h3M267 135v3M279 120l2 2M190 29l2 2M97 183h2M215 44l2-2M191 226l2-2M94 192v3M225 198v3M69 72l2-2M121 37v2M129 19l2-2M217 54h3M152 22l2 2M238 29l2-2M196 50v2M133 18l2-2M208 219v3M97 51h2M215 53l2 2M220 40l2 2M166 18l2-2M251 78v3M58 124v2M232 45h3M178 227v3M215 46h3M118 32v2M251 60v2M56 92h2M153 220l2 2M170 214v3M281 98l2-2M214 47h3M278 157l2 2M236 92h3M255 189l2 2M93 183l2 2M277 111h3M246 41h3M226 30l2 2M249 81v3M213 218l2 2M216 65h2M89 84l2 2M58 82l2-2M269 166h3M75 162l2-2M272 101h2M193 222h2M268 161l2 2M79 107v3M108 38l2-2M157 19h2M85 173h3M270 78v3M248 202v2M218 211v2M99 206v2M213 206h3M256 74l2 2M206 223l2-2M222 65v3M259 152h3M60 122v3M244 183h3M75 67l2-2M209 64h3M199 25h2M230 53v3M56 132h2M281 125v2M190 223l2 2M58 137v2M168 10h2M119 28h3M104 205h3M167 29h3M243 60l2 2M238 184l2 2M157 225h2M247 71v3M151 15v2M114 203v3M224 207l2 2M248 49v2M247 67v3M222 59v2M191 78h2M269 71h3M195 57l2 2M212 211l2-2M247 186h2M284 139v2M207 96h3M204 11v3M236 211h2M78 72h3" stroke="#4a0000" stroke-width="6.2" stroke-linecap="round" fill="none"/>
<path transform="scale(.5)" d="M110 179h2M274 152v3M126 122h3M126 113l2 2M253 116v2M190 19h3M130 45v2M251 100v3M87 81h3M185 40l2-2M89 82h3M212 144h2M84 68h3M223 188l2 2M177 31l2-2M72 124h3M228 170l2-2M74 151h3M204 29l2 2M76 139h3M184 213h3M67 110l2-2M239 135h3M270 142l2-2M223 198v3M102 100v2M184 222v3M260 82l2 2M169 69v3M106 91v3M264 70h2M121 187h3M121 108l2 2M248 130h2M238 116v3M240 204v3M260 97v2M133 98v2M102 159l2-2M132 208h2M201 78l2-2M167 218h2M80 158v2M271 129h3M92 162v2M168 204v2M185 26h3M243 159h2M262 149l2 2M162 41h2M113 42v3M133 216v3M217 89l2 2M115 74l2-2M248 78l2-2M135 203v2M114 58v2M252 64v3M253 87h3M234 183h3M254 179h2M162 68l2 2M226 32h3M176 42l2 2M198 115v3M122 65v2M239 94h2M102 188l2 2M270 81v2M72 164h2M136 186l2 2M132 207l2 2M206 95v2M134 33h2M246 172h2M186 121v2M187 37h3M93 185v3M181 81v3M246 86h3M178 210v2M207 48v3M224 166h2M188 24v2M222 195v2M153 210l2 2M227 182v3M201 149h2M83 158v2M76 148h2M226 99h2M118 32h3M178 113v2M232 194v3M270 134l2-2M140 70l2-2M271 117l2 2M142 97h2M238 143l2 2M72 98l2 2M238 185l2-2M163 193l2 2M139 84l2-2M242 188l2-2M187 74h2M246 117l2 2M110 202v2M200 145l2 2M279 127h2M149 219v3M133 204v3M107 47l2 2M261 99h2M185 75v2M277 124l2-2M138 33h3M92 120l2-2M207 108l2 2M254 60l2-2M224 194l2-2M116 193h3M68 115v3M65 130l2-2M136 131v3M150 53l2-2M159 76h2M180 106v3M166 86v2M76 88l2-2M267 94h2M237 117l2 2M180 53l2 2M140 50l2-2M75 163l2-2M107 170l2 2M89 63v2M252 182l2 2M118 133v3M87 175v3M145 211v3M190 74h2M96 138l2-2M103 168h2M231 175l2-2M180 42h2M135 55h2M226 164v2M160 31v3M245 160l2-2M238 97h3M241 126v3M220 114h2M158 219l2-2M241 178l2 2M163 87h3M130 83h2M263 76h3M199 43l2-2M209 53h2M108 52l2-2M169 25v2M224 88v2M217 154h2M252 93v2M216 101l2-2M141 206h2M265 89h2M257 172v2M79 81l2-2M198 25h3M274 101h2M184 146v3M182 41l2 2M215 91h3M118 69h2M264 118h2M254 156v3M133 110l2 2M214 90l2 2M133 39l2 2M162 216v3M180 206h3M134 30v2M238 200v3M177 22v2M202 53v3M227 50l2-2M273 150v3M253 85h2M236 109l2 2M160 25l2 2M246 192l2-2M181 42h2M94 47h2M66 119v3M92 148h2M156 202h3M192 29h3M96 71l2-2M125 214l2-2M173 23l2 2M103 179l2 2M145 81v3M160 99h3M143 209l2-2M83 67l2 2M268 166v3M133 105h3M72 142l2 2M267 79l2 2M227 152v3M70 154h3M250 179l2 2M209 35v3M110 175h2M198 141l2-2M112 207h2M231 112l2 2M217 103v3M266 127h3M162 38l2-2M254 123v3M236 161h2M249 89v3M223 160h3M128 97l2-2M217 161l2-2M108 175h3M144 55v3M132 100v2M113 40h3M177 208l2-2M251 76h3M178 182v3M268 119l2-2M68 123h2M191 117l2 2M182 138h2M92 192l2 2M252 152v2M140 116h2M130 40h2M150 112h2M79 94l2-2M138 135l2-2M168 218l2 2M226 44l2-2M193 145v3M247 176h3M86 86v3M98 178l2-2M166 131h2M134 36h2M75 158h3M256 107v3M212 131h2M72 89h2M146 37v3M191 97l2 2M179 28l2 2M171 37l2-2M125 32v2M98 137v2M115 179v2M186 124v3M246 73l2 2M86 142v3M96 110h2M82 66l2-2M248 117l2-2M241 183l2 2M247 112h3M236 107l2 2M256 137v3M280 115h3M270 117l2-2M124 32h3M66 121v2M160 106v2M244 176v2M227 140v3M168 196l2-2M219 121h3M208 32v3M274 141l2-2M175 215l2-2M127 93v2M70 115h2M219 198l2 2M220 30v2M235 86h3M148 178h2M229 165v3M86 125l2-2M259 102h3M229 85v3M187 62v3M211 161h3M117 45h2M231 163h2M212 86v3M80 82v3M92 82l2 2M118 124v2M207 49l2 2M202 97v2M117 99h2M205 191l2 2M117 211h3M116 121l2-2M270 166h2M164 134l2 2M144 60l2 2M244 181l2-2M280 140v3M169 201v2M215 137l2-2M143 198v2M201 63v3M78 129h2M203 201v3M279 112l2 2M171 94h2M247 80l2-2M137 65h3M149 48v2M227 134l2-2M76 100v2M205 25h2M87 80h3M142 195v2M215 151v3M235 89v3M180 17l2-2M160 209l2 2M164 27v2M273 150h2M211 38h2M222 193l2 2M175 20h2M130 104v3M195 132h2M191 79l2-2M157 78h3M139 27l2-2M261 136v2M149 43v3M253 166v2M235 101h3M108 101h2M230 152v3M283 113h3M252 83h3M198 39h3M228 45h3M200 71l2-2M112 192v3M223 179l2-2M99 181h2M239 183l2-2M185 37v2M198 52h3M267 105h3M100 183h3M121 115h3M261 120h3M199 166l2-2M124 202h2M86 77h2M269 142h2M200 67l2 2M174 64l2 2M230 116l2-2M124 152l2 2" stroke="#6e0000" stroke-width="6.2" stroke-linecap="round" fill="none"/>
<path transform="scale(.5)" d="M213 159l2 2M176 170l2-2M196 138h2M192 142l2 2M206 206v2M149 33h2M242 99l2-2M161 160l2-2M85 93l2 2M168 79h3M186 135h3M212 194h3M208 35h2M155 33l2 2M181 96v2M122 121l2-2M126 196h2M169 53h3M113 65v2M157 150l2-2M170 58v2M78 126h2M252 154h2M135 106h2M221 154v3M161 131v3M183 123v2M173 149h3M123 100h2M220 194v2M167 108v2M123 79h2M249 127h3M206 80v3M218 105v2M175 206l2-2M193 79h2M236 192h3M177 217h2M119 136h2M120 182l2 2M154 210l2 2M120 150l2 2M149 120l2-2M137 38h3M197 212v2M118 199v3M235 178h3M84 105v3M81 132h3M238 173l2 2M219 195h3M140 200h2M134 57h2M161 54l2-2M128 37v2M118 122l2 2M205 99v2M156 154v2M135 206h2M241 175l2 2M182 121l2 2M114 141h2M238 179v2M206 41h2M261 101v3M178 180l2-2M183 147v2M76 144h3M200 185l2-2M184 53l2 2M222 114v3M136 195h3M113 161v2M142 126v2M146 169v3M176 105v2M214 87v3M166 88h3M119 163l2-2M108 83h3M199 62v2M263 99h2M169 161h3M159 135l2 2M100 138l2-2M110 144l2-2M196 61v2M263 135h3M244 159v2M181 53v3M123 200v2M104 89v2M135 81h3M138 152v2M200 157h3M146 96v2M171 153h2M106 97l2-2M122 81h2M130 146l2 2M91 150v3M196 30l2 2M217 119v3M157 188h3M256 153h2M137 77l2 2M183 203v2M183 42l2 2M198 178v2M193 35l2 2M92 146v2M166 26v3M239 181l2-2M183 209v3M232 122h2M165 100h2M115 200v3M255 118v2M203 126l2-2M87 114h2M94 75v2M178 57h3M174 134v2M247 143v2M158 36v2M73 137v2M170 167v3M169 62l2-2M138 155h3M111 62h3M186 81l2 2M147 75l2 2M174 74v3M99 63l2 2M247 154h3M77 146v3M251 152h3M104 147v2M76 134l2-2M258 89l2 2M148 109h3M256 130l2-2M164 158v3M174 105h3M151 175h3M190 192v3M233 106h2M119 42h2M162 86h2M126 193h3M98 113l2-2M96 153h3M186 177h3M104 142h3M171 175l2 2M229 106h2M155 49h3M182 97l2-2M221 173v2M218 107h3M132 112h2M256 87v2M79 94l2-2M207 137v3M89 166l2 2M92 164v3M87 101h3M162 215h3M240 172h3M195 161l2 2M169 165v2M158 44v2M150 68h2M241 187v3M265 129h3M217 191l2-2M151 202l2-2M130 150l2-2M140 211v3M200 202l2 2M87 132v2M97 124v3M127 39v2M215 106l2-2M201 213v3M187 79h3M196 71l2-2M132 145v2M142 85v2M246 85v2M173 121h3M158 31v2M200 38h3M130 179l2 2M141 127v3M114 95h2M159 93l2 2M232 155h2M155 62v3M152 109h3M80 149l2 2M249 88h2M208 186l2-2M168 34h2M262 151v3M131 54v2M159 56l2 2M226 135h2M237 143v3M165 104l2 2M258 125h3M109 191v2M78 104h3M133 174v3M115 138l2-2M241 133v2M230 96h2M201 176v2M110 157l2-2M181 89v2M258 106h3M165 37h3M114 100h3M272 135v2M181 41h2M205 99v3M203 201l2 2M96 82v2M115 163l2-2M99 163h2M197 78h3M236 192l2 2M156 211h2M202 212l2 2M122 131v3M131 79h3M166 67v3M219 153v2M114 136v2M249 163h2M229 123h2M193 114l2-2M155 123h2M127 124v3M166 132l2-2M164 30v3M191 101l2-2M181 66v3M235 111l2 2M230 190h3M266 99h2M234 114l2 2M183 150v3M174 113v2M148 57h3M143 56l2 2M111 198v2M180 209v2M199 109v2M98 162l2-2M271 102h2M99 79l2 2M232 150v2M90 124v3M76 140l2-2M104 169h3M269 101l2-2M104 73v3M159 118l2-2M166 132h2M220 104v3M113 159h3M203 203l2 2M148 182l2-2M121 39l2-2M203 157l2-2M259 82v3M173 73h3M224 131v2M122 92l2-2M169 185v3M157 169v3M191 28v3M222 92v2M173 215l2 2M87 99h2M121 175h2M100 86v3M174 92v3M90 71l2-2M180 147l2-2M101 67h2M192 66v3M242 159h3M116 137h3M197 109h2M133 122v3M117 176l2 2M269 148h2M186 215h3M190 156v2M147 112h3M93 108v3M211 172v2M252 84l2-2M263 164h2M168 212l2-2M153 104h3M78 121v2M196 56h2M107 183h3M141 65h2M197 74v2M133 132l2 2M139 92h3M136 156h2M151 204h3M261 100h2M204 119l2 2M183 50l2-2M81 126h3M113 118h2M232 128v2M202 48l2 2M157 79h2M75 128v2M207 196v2M202 160h3M244 97l2 2M237 168v2M119 128h2M196 109v2M166 198l2-2M179 39l2 2M188 38v2M164 115v2M260 133l2 2M92 100l2 2M193 193h3M105 82l2-2M139 99h3M114 57v2M102 106h2M135 143v3M110 150v3" stroke="#960202" stroke-width="6.2" stroke-linecap="round" fill="none"/>
<path transform="scale(.5)" d="M237 105v2M152 103h2M247 163h2M178 122l2 2M174 44h3M243 120h3M254 93h3M192 159h2M157 88v2M203 124l2-2M111 76h3M178 158h3M183 42h2M85 152h2M119 115l2-2M203 138v3M196 155h3M266 121v2M174 97l2 2M133 109l2 2M87 107v2M197 104v2M129 172l2-2M88 102l2-2M164 118h3M173 142h3M120 73l2-2M203 196l2 2M207 143v2M166 103v3M250 92v3M169 142h3M130 72l2 2M182 97l2 2M112 94v3M111 183h3M232 111h3M200 197h2M182 40v2M202 164v2M233 152v2M227 126h2M130 145l2 2M201 97v3M194 160v3M218 125l2 2M166 168h2M184 187l2-2M124 166v3M185 199l2-2M172 64h2M252 109v3M225 141v3M158 57v2M228 135h2M142 101h2M127 140h2M190 198l2 2M222 175h2M135 68h2M209 137l2-2M210 156l2-2M172 93l2 2M156 37h2M217 127h3M111 65v2M173 95l2-2M234 185v3M114 177l2-2M155 70l2-2M161 124h3M160 61h3M118 179v2M83 122h2M94 122h3M175 194h3M233 118v2M115 189l2-2M205 134v2M167 207v2M231 114v3M150 122v2M147 117v2M157 168l2-2M231 164l2 2M185 94h3M135 108h2M176 98h2M182 68h3M189 191l2 2M155 73v3M157 193v3M134 96v3M144 74l2 2M203 188v3M161 145l2 2M147 205l2-2M145 64l2-2M114 178h2M152 171l2 2M185 46v2M165 42l2 2M164 34l2 2M152 148v3M107 78l2-2M118 133h2M112 87l2 2M129 52l2 2M133 171h3M248 115l2-2M96 133l2-2M184 81l2-2M134 67l2-2M157 99v2M166 49l2 2M167 128v2M253 150v3M214 103h3M213 171v2M193 97l2-2M141 117l2 2M196 164h2M133 75l2 2M155 43h3M189 146v2M131 110l2-2M209 188h2M129 64l2-2M185 198l2 2M136 116l2 2M233 119l2-2M253 109l2 2M191 136v2M97 116l2 2M196 117h2M248 145l2-2M257 129l2 2M150 59v3M237 134v2M161 143l2 2M153 209h3M139 85h3M171 57h3M135 194v3M148 58v3M240 146h3M233 139h2M145 172l2-2M173 90l2-2M103 146l2-2M257 117l2-2M131 47l2-2M228 117l2-2M164 202l2 2M148 207l2 2M154 201v3M189 173h2M227 182l2-2M134 185l2-2M153 152v3M202 129v3M159 205v2M193 114h3M175 62h2M82 134l2-2M196 115v3M154 56v3M99 83h2M200 139h2M122 105h3M199 100h2M120 72v3M214 137v2M172 40h2M142 198h2M149 73h2M233 116l2 2M169 106v2M128 201l2 2M261 136l2-2M171 146h2M247 152h3M210 135h3M114 87h3M81 127v2M96 104l2 2M172 42h2M244 126v2M105 91h2M181 39v3M150 58v2M105 97v2M94 83l2-2M231 137l2-2M160 65v3M97 121h2M184 126v3M188 204l2 2M245 164l2-2M113 83l2 2M153 58h3M130 114h2M113 75h3M148 170v2M201 106h3M199 145v2M232 161l2-2M107 106v3M184 127h2M210 124l2-2M245 119v2M170 123l2 2M201 151l2 2M125 199h3M265 113v2M255 146h3M89 146l2 2M126 53v2M159 47h2" stroke="#c00606" stroke-width="6.2" stroke-linecap="round" fill="none"/>
<path transform="scale(.5)" d="M123 115h3M122 165v3M161 133v2M167 152l2 2M198 156v3M144 101l2-2M118 143v2M211 135v2M117 143l2-2M139 81h2M199 112l2-2M183 171h2M182 129v3M118 181h2M211 146l2-2M258 119h2M120 72v2M123 133h3M180 151v3M227 178h2M126 99h2M111 88h2M123 102h2M213 154h2M171 205l2-2M151 102v3M112 185l2 2M187 169h2M138 190v2M117 94h3M140 185l2-2M144 109l2-2M97 122l2-2M185 195h3M104 163v3M143 144l2 2M213 152v2M146 89h3M88 111l2-2M106 134h2M205 143v3M105 113l2-2M172 146h2M156 113v2M91 130v3M238 151h2M235 143l2 2M123 143v2M123 106l2-2M152 180v2M169 99h2M184 182h2M123 146l2 2M233 173v3M177 110v3M201 102h3M148 107v3M196 189h3M126 114h3M192 155v3M103 145h3M112 155l2 2M223 114h2M125 67l2-2M91 145h2M178 167v3M177 181l2 2M163 99v2M126 175h3M99 158h3M142 97h2M154 183h2M143 161v3M221 168h2M132 126l2 2M211 183l2 2M131 55v2M234 143v3M173 130v3M125 186h2M129 137l2 2M126 143v2M106 86h2M107 173l2 2M172 75l2-2M130 130h3M135 147l2-2M86 117v2M216 189l2 2M224 184h3M121 146h2M105 143v2M170 191v3M105 87l2-2M156 190v2M206 126l2 2M120 82h3M97 152l2 2M137 195h3M222 161h2M111 100l2-2M112 87h3M200 131l2 2M94 126v2M163 105l2 2M191 173v3M160 104l2-2M102 91l2 2M244 140h3M162 132h2M155 106h3M166 189l2-2M200 179v3M93 160h3M205 165v2M178 154v2M150 126h2M163 192h3M102 99v3M204 120v2M129 87l2 2M213 170v2M169 149l2 2M169 188v3M179 107h3M181 157l2 2M110 113l2 2M164 130h3M155 198l2 2M217 178v3M220 138h3M162 47h2M201 152v2M185 156v2M98 103h2M190 160h2M121 174l2 2M97 117v3M227 136v3M158 124v2M105 124h2M125 168h2M114 94l2-2M99 129l2-2M188 102l2 2M131 86h3M162 118h2M131 109h2" stroke="#e80c0c" stroke-width="6.2" stroke-linecap="round" fill="none"/>
<path transform="scale(.5)" d="M131 116v3M150 151h2M121 173l2 2M136 157h2M187 122v3M158 108h2M120 154v2M146 183l2-2M174 123l2-2M155 121h2M212 186l2 2M118 142v2M166 174l2 2M141 162l2-2M139 174h2M180 187v2M149 143v2M125 172v3M128 181v2M137 136h3M164 179v2M167 162h2M129 132l2 2M110 154l2 2M168 126h2M139 172h3M107 156h3M168 161h3M149 180l2-2M146 152v2M154 179h2M176 178v3M189 181h2M136 162h3M162 166l2 2M150 163v3M118 139h3M146 105l2 2M139 170h3M196 169v2M199 158v2M130 149l2-2M184 143h2M128 106l2-2M186 123h3M166 180l2 2M160 176h2M128 147l2 2M111 175l2-2M121 171v2M179 185v2M126 164v2M118 166v2M156 190l2-2M186 138h2M166 140l2 2M135 177l2 2M166 173l2-2M172 167v3M166 174v2M107 160l2-2M115 144h3M186 182h3M150 158h2M128 165h3M175 116h3M110 136l2-2M166 181l2-2M146 166v3M134 155l2 2M155 159v2M108 170v2M156 156h2M174 196l2 2M121 145v2M157 119h3M144 192h3M130 136v3M160 135v2M130 155v3M117 153v3M146 143h3M137 159h2M140 174h2M187 152l2 2M171 132l2-2M129 103l2 2M121 112l2-2M133 129v2M180 147v3M216 171l2 2M150 152h2M186 178l2-2M134 105v2M153 189l2 2M135 157l2 2M188 165l2-2M102 156v3M197 117h2M120 155v2M127 170l2-2M124 178v3M183 160h2M151 150l2-2M195 188h3M128 166v3" stroke="#ff2424" stroke-width="6.2" stroke-linecap="round" fill="none"/>
</g>
</g>
<g id="fb1">
<ellipse cx="88" cy="61" rx="48" ry="43" fill="#0000a0" opacity="0.4" filter="url(#b12)"/>
<g filter="url(#b1)">
<path transform="scale(.5)" d="M84 64v2M146 27l2-2M201 223l2-2M214 221l2 2M286 177h3M66 83l2 2M57 151v3M191 233v2M295 138l2 2M128 18v2M243 211l2-2M262 204v3M85 188v2M79 66h2M152 225l2-2M289 159v2M299 90h3M291 79v3M280 78l2-2M94 39h3M57 130h3M77 61h3M97 209v3M196 14v2M280 174v3M283 162l2-2M63 80l2-2M127 214h2M280 77v2M204 223l2-2M74 182l2-2M89 49l2 2M245 206v2M170 11l2 2M121 36l2-2M162 10h3M232 222l2-2M189 232h3M129 32l2-2M289 73v2M298 143l2-2M180 21h3M113 28v2M138 23v3M104 202h2M67 83l2 2M96 211h2M165 17h3M111 221l2 2M59 147h2M297 120v3M284 83h3M102 39v3M300 89l2-2M64 154l2-2M171 238v3M286 149v3M304 131h2M270 177l2 2M296 114v3M64 106h3M109 34l2 2M118 29v2M96 37v3M129 20h3M216 227h3M269 197v3M116 29l2-2M290 79l2 2M239 222v2M150 14l2 2M228 17h2M52 128h2M273 53h3M67 183l2 2M176 231v2M83 45h3M264 39l2-2M293 157v2M267 199h2M61 73v2M288 90h3M86 199h3M91 211h3M293 97v3M253 194h3M117 215v2M119 22v2M134 215l2 2M128 228l2-2M295 131h2M175 8v3M287 76v3M67 141h3M161 15l2 2M277 63h3M195 7l2-2M273 177h2M278 60l2-2M256 206v2M247 30v2M57 140h3M102 35h3M170 238h2M228 26h3M270 66l2 2M184 13v3M196 225l2 2M76 72l2 2M269 193h2M232 28h3M59 84h2M68 77v2M292 95h2M302 108h2M63 136h2M62 85h3M247 40l2 2M66 111l2 2M107 217l2-2M233 222h3M94 206l2 2M56 109h3" stroke="#000030" stroke-width="5.6" stroke-linecap="round" fill="none"/>
<path transform="scale(.5)" d="M212 74l2-2M167 218l2-2M175 205v2M77 70l2-2M75 143l2 2M65 111l2 2M276 146h2M244 44l2 2M276 157h3M232 75v3M241 45h2M242 201v2M293 146h2M274 67l2 2M105 202h2M103 191l2-2M278 174l2 2M261 68l2 2M177 14l2-2M261 74h3M117 60h3M149 204l2-2M248 190h2M208 171v3M271 184v2M188 127v3M217 181l2-2M203 143v2M67 101v3M132 205v2M114 158h2M293 108v2M245 33l2 2M190 227h2M91 163h3M218 66v3M241 204h2M91 130v3M211 129v2M250 38h3M85 119l2 2M221 141l2-2M119 179v2M206 187l2-2M81 191v2M269 145h2M121 210v2M158 179l2-2M228 67l2 2M61 88h2M212 168h3M278 156h2M181 225v2M111 190l2-2M250 50v2M233 209v3M151 182v2M86 56l2-2M164 147v3M187 64l2-2M187 17v2M129 172v3M234 43h2M104 84v3M88 153v3M123 31l2-2M147 38h3M235 76h2M127 49v2M54 104l2 2M119 42v3M155 75l2-2M277 162l2 2M184 24v2M238 206v2M260 82h2M167 232h3M103 194v3M122 93l2-2M174 27v2M265 102v2M232 160h2M67 109h2M192 181h3M79 75h2M258 90h2M139 25v3M171 46l2 2M150 52l2-2M216 73v3M254 143v2M117 213v3M234 211v3M279 117h3M135 195v2M77 155l2 2M109 175v3M252 65l2 2M212 89v2M183 114l2 2M88 162l2 2M165 28v3M168 48h2M94 45l2-2M117 205h2M223 76l2 2M144 85l2-2M180 127l2 2M73 117v2M119 83h2M163 190v3M247 57l2-2M134 199l2-2M180 218l2 2M153 133h3M199 14h2M232 73h3M108 196v3M269 141h3M112 55v2M281 139l2-2M254 138h3M181 18l2 2M121 32h2M273 80l2 2M287 94h2M191 12v2M127 36v2M283 75l2 2M95 54l2 2M83 67l2 2M281 97l2-2M231 216h3M108 202l2 2M130 145h3M276 109v3M246 189h3M131 202v3M167 38l2 2M92 95l2 2M133 216h2M161 20h2M110 44l2 2M175 189h2M266 182l2-2M131 201v3M70 135l2 2M241 60l2 2M58 112h2M279 133v2M145 194l2 2M118 204l2 2M120 90h2M184 125l2 2M212 139l2-2M111 210v2M87 77v3M264 61v2M290 126l2 2M168 27h2M273 109l2-2M106 95l2 2M280 92v2M184 60l2 2M122 39l2 2M155 197h3M178 210l2 2M128 43l2-2M266 166v3M96 171l2-2M133 205h3M207 221l2-2M116 46l2 2M121 106h2M169 105l2-2M266 178v3M69 73l2-2M167 228l2 2M78 120l2 2M86 187v3M73 113l2-2M190 73h3M253 100h2M277 79v3M222 86v3M183 216l2-2M287 86h3M102 41h2M127 99l2-2M75 70l2 2M200 71h3M281 93h2M279 142l2-2M168 229h2M131 73v3M66 84l2 2M157 194h3M294 138l2 2M285 135l2-2M89 72v3M141 154v3M221 220v2M273 68l2-2M225 47v3M283 117v2M169 46h3M197 196h2M217 216h3M268 195l2-2M156 72v2M191 194h3M124 201h3M283 114h3M202 184l2 2M152 186l2-2M280 118h2M135 212v2M284 82h2M137 215l2-2M105 53l2-2M71 82l2 2M162 18l2-2M288 130v2M97 94v3M154 110v2M169 221l2-2M285 87h2M279 66l2-2M223 222h3M120 90l2-2M190 64v2M161 25h3M286 97v2M108 36h3M100 101l2-2M281 133v2M130 36l2 2M164 224v2M287 108h2M153 226h2M63 115l2-2M196 191h2M88 55l2-2M131 206v3M238 39l2-2M273 83h3M254 75l2-2M254 145l2 2M252 58h3M265 69v3M115 211h3M91 180l2 2M242 201l2 2M79 94v3M113 83v3M110 211v2M208 209l2-2M158 122v3M278 139h2M258 153h2M162 137h2M98 114h3M287 146l2-2M166 204l2 2M282 89v2M197 179h3M257 194h2M273 139v3M207 188v3M111 197h2M124 78v2M95 58v2M114 106l2 2M291 106v2M145 24l2 2M137 64v3M97 140l2 2M98 181v3M224 211l2 2M231 83v3M166 85v2M204 222v2M182 197v2M189 28h3M176 45v3M111 109h2M285 163h2M262 80h2M202 179l2 2M221 65l2-2M278 167v2M106 186v2M147 171l2 2M234 202l2 2M158 211h3M244 205h2M266 104h3M98 184h2M179 223v3M198 57l2-2M164 62l2-2M161 40h2M102 50v2M134 153h3M144 86h3M156 212v3M158 127v2M239 172v2M205 61h2M98 58h2M65 126v3M253 153h2M150 154v2M118 61v2M268 145v3M119 211v3M207 104l2-2M62 119l2 2M142 174h3M237 139h2M104 108l2 2M72 144l2 2M274 130l2 2M281 98l2 2M117 142v3M91 45l2-2M111 47v2M141 27l2-2M243 85v3M79 187l2 2M184 214v3M170 33v3M118 198h3M267 162v2M98 81l2 2M214 39v2M161 34l2 2M104 142h3M166 40h2M183 80l2 2M114 177h2M149 174v2M183 70v3M163 225l2-2M108 156v2M236 36l2-2M183 134l2 2M139 52l2 2M273 186l2 2M270 140v3M59 123h2M106 144l2 2M278 128h3M154 223v2M126 204h2M177 202v3M100 54l2-2M143 153l2-2M213 157l2-2M54 126l2-2M266 150v3M279 126v2M93 194l2-2M260 56v2M265 184h2M101 183v2M114 215v3M274 117h2M252 183l2 2M215 69v2M211 183l2-2M225 209v3M115 122h3M240 196h2M260 69h3M134 175v3M105 176h2M267 180h2M117 161h2M201 44l2-2M128 55l2 2M114 184l2 2M142 214v3M129 75h2M281 173h3M281 156l2-2M226 30h2M182 29l2-2M159 28h2M186 165l2-2M262 158v2M135 25v2M141 40v2M206 138v3M197 17l2 2M105 177h3M244 182v3" stroke="#00004e" stroke-width="5.6" stroke-linecap="round" fill="none"/>
<path transform="scale(.5)" d="M68 106h2M132 70l2-2M98 90l2-2M180 159v2M111 187v3M211 207v3M79 97v2M138 95v2M213 40h2M121 146v3M267 140l2 2M272 91l2 2M231 171l2 2M181 35v2M202 141v3M165 95h3M176 167h2M167 36v3M284 120v2M138 33h2M107 152l2-2M96 100l2 2M173 129h2M76 108l2 2M253 158v2M187 27l2 2M188 33h2M261 147v3M74 145h2M210 98v2M148 103l2-2M240 185h3M264 78h3M235 156h3M174 89v2M136 75l2-2M221 42v2M109 88l2 2M209 202h3M120 186l2 2M157 112v2M164 171v2M140 201v3M239 202v2M226 110l2 2M69 114v3M180 145v3M173 43v2M159 40h2M280 146v2M125 170h2M108 149l2-2M189 185v3M97 107l2-2M201 50h3M98 146l2 2M194 68l2-2M206 92l2 2M78 161l2 2M143 97l2-2M268 144l2-2M110 53v2M192 202h3M131 200v3M157 36h3M176 52l2 2M252 189l2-2M112 128h2M77 79h3M201 72h3M142 133h2M166 101v2M160 182h3M146 79l2 2M270 124l2-2M209 146h3M126 68v3M113 194v3M157 50v3M214 37h3M241 157h3M245 103l2-2M262 91h3M143 101h3M262 128h3M247 95h3M122 85h2M129 175v2M241 170h3M242 144v3M209 79l2-2M150 117v2M193 195l2 2M148 212v2M253 171v2M239 133l2 2M169 28h3M114 106l2 2M77 89v3M236 75l2 2M145 197l2 2M72 153h2M219 127h2M191 112v3M175 115l2 2M102 125l2-2M229 196l2-2M263 65h3M109 109h3M155 218v2M205 132v3M210 66v2M227 132v3M285 111v3M252 106h3M81 74l2 2M153 201h2M241 103l2 2M206 51h2M267 151h2M116 164l2-2M199 139h2M139 217v3M107 88v2M108 177l2-2M123 141l2 2M265 81v3M111 90l2-2M103 70v2M105 195h3M179 210l2-2M138 193v2M219 174l2 2M92 177v3M256 112h3M135 123l2 2M87 157l2-2M245 181v2M178 132v2M254 183h3M121 49v2M223 134l2-2M171 48v3M135 174l2 2M169 32l2 2M244 92l2-2M240 59v2M196 47h2M203 94h3M85 125h2M190 85h3M218 138h2M79 99h2M150 191l2 2M114 203l2 2M198 194l2-2M131 139h3M184 80h3M197 136h3M264 163h2M168 206v2M77 174l2-2M149 62v2M79 173l2-2M155 177l2 2M164 210l2-2M88 183v3M145 73l2-2M79 133v2M125 150h3M265 66v3M73 87l2-2M112 88v2M225 206v3M241 107v2M174 160h2M67 131l2 2M90 63v2M76 157h3M234 101h3M197 183v2M197 124h2M287 125v3M238 168v3M214 121v2M179 138l2-2M187 192v2M111 190h2M113 172l2-2M173 111v3M170 203h3M273 135h3M99 131l2 2M141 30l2 2M159 213v2M198 207h3M233 113v2M202 157h3M124 158v3M161 28v3M235 137l2 2M126 177l2-2M228 83v2M216 33l2 2M97 96l2 2M149 124h2M194 31l2 2M231 47l2-2M193 116v3M235 199h2M217 66l2-2M143 64h3M117 128l2-2M159 139l2 2M245 141v3M230 72v3M103 111h2M230 140h3M75 115l2-2M183 70l2 2M129 195h3M165 28l2-2M216 108h2M118 151l2 2M129 132v3M123 94l2-2M161 162v3M80 138l2 2M80 145l2-2M147 181v3M225 145v3M280 103h3M115 123h3M201 65v3M212 53v3M208 106l2-2M182 193v2M171 34h2M89 140v3M105 127l2-2M247 67h3M175 202v3M154 197v3M256 107v2M188 63h3M264 72v3M170 48v3M258 144v2M179 66l2 2M119 168v3M260 82v3M93 118h2M174 61v2M167 218l2-2M245 59v3M234 55l2 2M130 159h2M167 41v2M90 126v3M252 133v2M162 86l2-2M285 95h3M140 32h2M103 61h2M268 150h2M216 149l2 2M210 37v2M113 40l2 2M107 72h2M171 32v3M264 138v3M251 84l2 2M177 153l2 2M137 124v3M187 41v2M265 166h3M94 138v3M155 94h2M110 142v2M146 33l2 2M253 65l2 2M217 65v2M240 97l2 2M170 74l2-2M79 78l2-2M204 160v3M109 132l2-2M192 160l2 2M233 139v2M171 67l2-2M285 142v2M145 93l2-2M247 122v3M216 151h2M75 89v2M202 134l2-2M129 157v2M136 90v2M207 62v3M138 211v2M238 121h3M118 140l2-2M144 121v3M151 80v3M194 127l2 2M131 165v3M184 187l2-2M160 24v2M200 29h3M174 121v2M72 150v3M237 42h3M144 160l2 2M257 189l2 2M154 91h3M104 132l2-2M274 105h2M125 36v2M127 35v2M249 64h2M169 157v3M96 124l2-2M109 127v2M98 109l2-2M211 42l2-2M153 87v3M136 135h3M81 110h2M99 197v3M164 104l2 2M264 132v3M119 69h2M226 120l2-2M132 208v3M188 165h2M233 77l2-2M157 39h2M71 145v2M192 80v2M176 184l2-2M155 201h2M152 35v2M140 82l2 2M234 61v2M106 111v2M242 183l2 2M197 24l2 2M152 193l2 2M83 160l2-2M161 110h2M146 137v3M175 172l2 2M221 125h2M193 177l2-2M130 82v2M130 106v3M151 34l2 2M172 102l2 2M257 130h3M94 186h3M154 119l2 2M94 170l2-2M206 201l2-2M240 61l2-2M199 37h3M119 40l2-2M134 141v3M147 84h3M170 116v3M219 89v2M129 115v3M107 45h3M88 113l2-2M81 78h2M143 105l2 2M144 84l2-2M243 141v3M214 47v3M88 59v2M266 125v3M277 106h3M135 184v2M159 26l2 2M199 139h3M276 161v3M82 82l2-2M137 186l2 2M237 73v2M161 190h3M112 86v2M169 144l2 2M168 215h3M119 167v2M285 107v3M110 110l2 2M204 178l2 2M175 205l2 2M288 102l2-2M201 183l2 2M201 56h2M115 76l2 2M121 171h3M150 90l2-2M209 84h3M206 89v2M90 171h2M137 72v2M240 99v2M123 203l2 2M154 139v2M205 46h2M86 127l2 2M161 200l2-2M229 51l2-2M174 131v3M107 145l2-2M169 99v3M153 65h3M135 196l2-2M147 109l2-2M93 161h2M177 69l2 2M160 78l2 2M230 102h2M222 139l2-2M90 103l2 2M159 216l2-2M252 72l2 2M275 100l2-2M108 63l2 2M181 143v2M68 98l2 2M141 187v2M236 92v3M213 29v2M74 105v3M189 221l2-2M210 131v3M227 86v3M116 62l2-2M83 156l2-2M75 140l2 2M223 117v3M132 82v3M246 154h2M264 139h2M229 203l2 2M181 75l2-2M219 176l2 2M249 95v3M265 164h3M125 99h3M251 160l2 2M220 170v2M102 187h3M248 194v2M90 168l2 2M71 106h3M272 106v3M199 50h2M234 131l2-2M191 30h3M134 149h2" stroke="#000070" stroke-width="5.6" stroke-linecap="round" fill="none"/>
<path transform="scale(.5)" d="M255 150v3M199 128v3M103 67h3M137 34h3M101 124v3M125 178v3M108 86l2-2M207 166h3M192 91h3M225 38l2-2M260 153v2M270 115h3M147 81l2 2M152 68h2M134 112l2-2M154 168h2M164 30l2 2M140 162h3M201 68v3M90 72v3M120 121l2-2M163 79l2 2M256 84h3M191 46v3M263 77h3M258 174l2 2M154 197v3M185 111l2 2M174 65l2-2M162 37l2-2M179 132l2-2M187 123h2M228 63h2M238 85h3M140 190l2-2M189 197v2M242 157l2-2M123 131h2M120 176v3M146 79l2-2M212 70v2M131 72v2M164 33v2M169 147v2M246 158v2M160 73l2-2M89 66v3M157 140l2 2M131 183v3M144 95l2 2M137 144h2M190 166l2 2M217 191l2 2M143 154l2 2M246 135v3M272 112h2M191 139h2M238 85l2-2M227 50l2-2M123 47v2M147 140v3M127 130h3M147 60l2 2M183 85h2M231 178h3M177 124l2 2M76 107l2 2M256 132v3M74 102l2 2M105 145l2-2M148 47v3M266 156h2M238 57v2M239 53h2M180 200v2M190 177v2M127 130v3M175 142v3M224 66l2 2M169 101v3M125 152v2M113 70v2M208 43h3M150 90l2-2M205 60l2 2M236 68h2M198 114v3M242 135l2 2M163 149h3M69 118v3M209 53v3M243 186v3M156 168l2-2M196 177v2M94 112v3M240 104v2M103 190v2M136 87h2M214 181l2 2M90 159v3M160 89v3M150 211l2 2M151 86v3M208 170l2 2M247 173h2M128 69v2M191 55h2M254 180v3M224 165l2 2M185 128l2 2M180 112v2M192 41v2M119 46h2M185 168v2M158 128v3M176 80l2 2M128 108l2 2M166 54l2-2M198 187l2-2M169 138h2M158 49l2-2M197 50h3M96 178v2M92 92l2 2M171 94h3M249 79l2-2M271 133l2-2M227 82v3M164 30v2M114 172v2M185 204v2M103 93l2 2M232 127v2M214 48v2M138 45v3M108 73h3M101 66l2-2M247 54h2M181 81v2M114 100v2M257 131h3M195 189l2 2M127 159v3M206 46h3M230 50v2M218 68l2 2M252 73l2 2M159 119l2 2M144 196v3M158 172l2-2M248 75v3M141 197l2 2M113 145l2-2M180 205h2M127 52h2M168 46v3M257 60l2-2M150 193v3M99 178h3M186 57l2 2M256 109v3M177 78h2M89 177v2M183 34v2M240 101l2 2M168 150h2M247 146v2M231 62v3M181 98v3M199 105h2M206 154h3M264 163v3M166 77v3M269 139v3M220 45l2 2M181 55h3M126 55v2M252 86h2M170 55h2M220 191l2-2M187 153l2 2M172 139v2M131 57l2-2M196 71h3M164 35l2-2M215 157l2-2M179 54v2M181 166h2M194 56l2-2M220 139v2M255 102h3M99 180v2M175 30v2M116 162l2 2M205 168l2-2M99 127h3M127 44l2 2M136 82v3M138 57v3M234 153v3M147 158h3M249 86l2 2M128 115h2M170 189l2-2M170 65h3M262 95l2 2M156 32v3M190 80v3M137 66h2M114 64l2 2M178 106v3M184 37v2M225 91v3M215 117v3M94 140h3M187 178v2M158 193v3M181 216v2M90 84h3M139 119l2 2M130 184l2 2M155 147v3M141 118h2M264 114l2 2M258 65l2 2M195 122v3M262 138h3M97 160l2 2M206 153l2 2M238 67v3M264 146h3M266 107h3M248 172v3M184 34v2M212 46v2M186 172l2-2M235 134v3M141 151l2 2M124 148h3M211 84l2 2M231 168l2 2M224 52l2 2M249 137h3M230 65l2 2M210 175l2 2M164 93l2 2M243 73h3M91 172v3M199 110v3M181 112v2M125 98v2M194 63l2-2M104 108l2 2M190 116h3M245 110h3M204 144v3M268 132v3M165 112v3M197 101l2 2M213 163l2-2M173 53h3M104 118v3M176 146v3M242 74h2M136 71l2 2M235 110v3M265 77h2M206 162l2 2M208 106v3M231 166h2M95 162v2M150 52l2 2M238 187h3M163 75v2M110 80v3M113 101h2M223 55v2M212 176h2M249 120h2M236 157l2-2M258 140l2 2M225 86h2M214 64h2M248 99v3M157 172l2-2M209 48v3M257 167l2 2M190 65l2 2M85 140h2M116 196l2 2M256 116v2M117 166l2 2M193 207l2-2M215 147h3M111 64l2-2M250 85h2M268 135l2 2M150 84l2-2M97 168l2-2M78 108h2M101 137v2M228 154h3M205 77v2M209 124h3M142 96l2 2M231 99v3M93 90v2M171 100l2-2M202 151l2 2M223 198v2M115 86l2 2M142 181h3M220 178v3M168 34l2 2M246 188h3M126 142v3M269 133l2 2M203 117l2 2M164 124l2-2M113 78v2M159 61v3M278 122h2M159 180l2 2M257 130v2M250 169h2M238 166v3M194 136v3M93 130h3M140 128l2 2M264 136v2M261 106h2M129 192h3M262 81v3M211 68v2M184 70v2M169 137v3M151 35h2M213 105v2M208 98v2M228 186l2-2M276 144l2-2M230 159v2M193 46h2M132 121l2-2M196 159v2M167 170v2M111 124v3M208 156h2M154 170h2M190 48v3M189 46v3M127 150h2M166 192l2 2M258 101l2 2M270 168h2M205 160v3M230 116h3M166 206v3M236 189l2 2M145 60v2M168 127h2M187 101h2M130 136l2-2M199 168h2M85 99l2 2M95 168v2M171 46l2 2M86 166h3M104 139l2-2M118 89v2M217 202v2M86 97l2-2M160 73h3M136 147h2M237 177h2M192 172v2M256 133l2 2M83 141h2M186 139v2M231 169v3M88 95v2M144 66h3M132 174l2-2M77 101l2-2M187 130h2M96 130v3M180 76v3M246 190l2-2M144 192h2M159 148h3M94 154l2 2M78 88l2-2M247 104v2M172 50h2M124 62v2M121 185l2-2M111 190v3M96 91v3M92 178h3M187 117v3M188 49l2 2M133 205l2 2M151 39h3M226 178l2 2M155 61h2M230 147l2-2M255 106v2M225 164v3M217 90h3M103 143v3M189 46l2-2M257 107h3M85 139l2-2M75 139h2M75 108v3M220 106h3M124 126h3M137 51v2" stroke="#020296" stroke-width="5.6" stroke-linecap="round" fill="none"/>
<path transform="scale(.5)" d="M197 117v2M263 152l2-2M150 172v3M112 124l2 2M241 176v2M108 168l2 2M96 137h2M217 85v2M259 114v3M123 149v3M146 135h2M159 151l2-2M124 77v2M234 69l2 2M189 134h2M200 108l2-2M109 134l2 2M245 173v2M152 164h2M196 44l2-2M265 153l2 2M107 86h3M242 141l2 2M168 176h3M119 81l2 2M139 89h2M264 115l2 2M129 180v2M141 81l2 2M168 113h2M238 170v3M228 183l2 2M204 118h2M178 181v3M253 133l2 2M267 111l2 2M197 132h3M207 68l2-2M169 90v2M158 205l2 2M148 45h3M231 121l2 2M187 186l2 2M221 59h2M206 103l2-2M182 179h3M210 142h2M266 127v2M100 166v3M251 118h3M249 178l2 2M203 198h2M229 90l2 2M120 88l2 2M238 96v2M133 145v3M155 72v2M218 51h3M114 94l2-2M227 124l2 2M194 150l2-2M135 41l2 2M249 112l2-2M156 156h2M191 63l2-2M115 123l2 2M113 84h2M194 155h2M138 139h3M222 71v2M131 106l2 2M234 185h3M137 133v2M148 59l2 2M138 154v3M166 62l2-2M119 83h2M228 125l2 2M148 97v3M218 176v3M217 121v3M209 75l2 2M247 180l2-2M203 141l2-2M133 98v3M209 64l2-2M205 37h3M190 107l2-2M195 52l2 2M198 37h2M127 147l2-2M194 92v2M190 209h2M194 147h3M143 138v3M138 104l2 2M252 83v3M196 151l2 2M127 185l2 2M171 124h2M198 99h2M200 157l2-2M171 113h2M129 119v3M219 135h3M209 117l2-2M194 153v3M87 131l2 2M258 89l2 2M251 169h3M154 161h2M139 130v3M222 69v2M236 116v2M122 112l2 2M176 147h3M183 169v3M169 163h3M108 74h3M194 71h3M134 186l2 2M203 52h2M122 116l2-2M209 68l2 2M163 38l2 2M113 188v3M233 122v2M249 71v2M131 76v2M117 91v2M126 79l2-2M176 155v3M218 61l2-2M125 188h3M166 60h2M128 73l2 2M138 114v2M141 117v3M191 49h3M236 103h3M228 117l2 2M186 164l2 2M226 169l2-2M148 39l2 2M211 146h2M104 108v3M186 87v3M88 135h3M145 160v3M151 115h3M192 105l2 2M181 172v3M246 100l2-2M167 39l2-2M137 94l2 2M144 111l2 2M180 158v3M225 144v3M121 193l2-2M169 171h3M127 140h2M222 109h2M130 201v2M211 76v3M186 45l2 2M115 131l2-2M186 173v2M231 131h2M124 144l2 2M159 75v2M120 100h3M194 136v2M251 113l2 2M124 116v3M98 125h2M223 94v2M112 156h2M181 195h3M135 152v3M121 176v2M110 93l2-2M241 54l2-2M233 144v3M168 138h3M167 167h3M145 167l2 2M190 66v3M206 143v2M211 63h2M221 168v3M149 176v2M222 198v2M153 109h2M210 100v2M230 181l2 2M158 155v3M119 179l2 2M135 159v2M180 74v2M180 80v3M80 112v3M204 187l2-2M214 90h2M115 138l2 2M215 56h3M119 54h3M213 71h2M247 105l2-2M204 119l2-2M232 154v3M191 88v2M192 166l2 2M195 90v3M151 146v3M155 93v2M92 100v2M122 125v2M85 113v2M191 113h2M173 45h3M159 132h3M181 60h3M231 71l2 2M234 160l2-2M158 175l2 2M242 167h3M158 67h3M170 97l2-2M180 58h2M160 204l2-2M85 103l2-2M159 46h3M124 129v3M161 190l2 2M185 81h3M167 205h2M236 87h3M155 59l2 2M233 59l2 2M181 160v3M195 107v3M166 75v3M202 154v3M242 133l2 2M121 109h3M230 82h2M122 123l2 2M101 113v2M249 105h2" stroke="#0606bc" stroke-width="5.6" stroke-linecap="round" fill="none"/>
<path transform="scale(.5)" d="M191 88h3M192 125h2M208 112h3M159 100h2M140 109h3M205 99l2 2M165 79v3M176 125l2 2M148 159v3M215 146l2 2M201 161h3M188 122h3M149 163v3M156 136v2M153 139l2-2M175 151v3M207 113l2-2M168 143v2M209 133v2M196 113v2M151 121h3M138 124h2M203 120h3M175 126l2-2M228 120h2M132 104v2M170 120v3" stroke="#0c0ce0" stroke-width="5.6" stroke-linecap="round" fill="none"/>
</g>
</g>
<clipPath id="c00"><rect x="42.2" y="33.5" width="174" height="130"/></clipPath>
<clipPath id="c01"><rect x="221.5" y="33.5" width="174" height="130"/></clipPath>
<clipPath id="c02"><rect x="401" y="33.5" width="174" height="130"/></clipPath>
<clipPath id="c10"><rect x="42.2" y="169.5" width="174" height="130"/></clipPath>
<clipPath id="c11"><rect x="221.5" y="169.5" width="174" height="130"/></clipPath>
<clipPath id="c12"><rect x="401" y="169.5" width="174" height="130"/></clipPath>
<filter id="wb" x="-20%" y="-50%" width="140%" height="200%"><feGaussianBlur stdDeviation="2.6 1.8"/></filter>
<filter id="wb2" x="-20%" y="-50%" width="140%" height="200%"><feGaussianBlur stdDeviation="4 3"/></filter>
<filter id="wb3" x="-20%" y="-50%" width="140%" height="200%"><feGaussianBlur stdDeviation="1.6 1.1"/></filter>
<clipPath id="wbc0"><rect x="154.8" y="412.0" width="261.7" height="36.0"/></clipPath>
<clipPath id="wbc1"><rect x="154.8" y="463.5" width="261.7" height="36.5"/></clipPath>
<clipPath id="wbc2"><rect x="154.8" y="514.0" width="261.7" height="37.0"/></clipPath>
</defs>
<rect width="1200" height="1649" fill="#fff"/>
<g opacity="0.999">
<text x="9.7" y="26.8" font-size="37.3" font-weight="bold">A</text>
<text x="130" y="20.5" font-size="24" font-weight="bold" text-anchor="middle" fill="#e8141c">T</text>
<text x="308" y="20.5" font-size="24" font-weight="bold" text-anchor="middle" fill="#1a1aff">DAPI</text>
<text x="487.5" y="20.5" font-size="24" font-weight="bold" text-anchor="middle">Merge</text>
<text x="25.8" y="99" font-size="24.8" font-weight="bold" text-anchor="middle" transform="rotate(-90 25.8 99)">-DOX</text>
<text x="25.8" y="235.3" font-size="24.8" font-weight="bold" text-anchor="middle" transform="rotate(-90 25.8 235.3)">+DOX</text>
<g clip-path="url(#c00)" style="isolation:isolate"><rect x="42.2" y="33.5" width="174" height="130" fill="#000"/>
<use href="#fr0" x="42.2" y="33.5"/>
</g>
<rect x="181.7" y="156.0" width="25" height="4" fill="#fff"/>
<text x="194.2" y="151.5" font-size="11.5" font-weight="bold" fill="#fff" text-anchor="middle">50µm</text>
<g clip-path="url(#c01)" style="isolation:isolate"><rect x="221.5" y="33.5" width="174" height="130" fill="#000"/>
<use href="#fb0" x="221.5" y="33.5"/>
</g>
<rect x="361.0" y="156.0" width="25" height="4" fill="#fff"/>
<text x="373.5" y="151.5" font-size="11.5" font-weight="bold" fill="#fff" text-anchor="middle">50µm</text>
<g clip-path="url(#c02)" style="isolation:isolate"><rect x="401" y="33.5" width="174" height="130" fill="#000"/>
<use href="#fr0" x="401" y="33.5"/>
<use href="#fb0" x="401" y="33.5" style="mix-blend-mode:screen" opacity="1"/>
</g>
<rect x="540.5" y="156.0" width="25" height="4" fill="#fff"/>
<text x="553" y="151.5" font-size="11.5" font-weight="bold" fill="#fff" text-anchor="middle">50µm</text>
<g clip-path="url(#c10)" style="isolation:isolate"><rect x="42.2" y="169.5" width="174" height="130" fill="#000"/>
<use href="#fr1" x="42.2" y="169.5"/>
</g>
<rect x="181.7" y="292.0" width="25" height="4" fill="#fff"/>
<text x="194.2" y="287.5" font-size="11.5" font-weight="bold" fill="#fff" text-anchor="middle">50µm</text>
<g clip-path="url(#c11)" style="isolation:isolate"><rect x="221.5" y="169.5" width="174" height="130" fill="#000"/>
<use href="#fb1" x="221.5" y="169.5"/>
</g>
<rect x="361.0" y="292.0" width="25" height="4" fill="#fff"/>
<text x="373.5" y="287.5" font-size="11.5" font-weight="bold" fill="#fff" text-anchor="middle">50µm</text>
<g clip-path="url(#c12)" style="isolation:isolate"><rect x="401" y="169.5" width="174" height="130" fill="#000"/>
<use href="#fr1" x="401" y="169.5"/>
<use href="#fb1" x="401" y="169.5" style="mix-blend-mode:screen" opacity="0.8"/>
</g>
<rect x="540.5" y="292.0" width="25" height="4" fill="#fff"/>
<text x="553" y="287.5" font-size="11.5" font-weight="bold" fill="#fff" text-anchor="middle">50µm</text>
<text x="589.2" y="26.8" font-size="37.3" font-weight="bold">B</text>
<text x="773" y="56.5" font-size="24" font-weight="bold" text-anchor="middle">Pax6</text>
<rect x="676.00" y="88.50" width="4.00" height="148.30" fill="#000"/>
<rect x="672.40" y="233.00" width="176.60" height="3.80" fill="#000"/>
<rect x="672.40" y="88.60" width="7.60" height="3.20" fill="#000"/>
<rect x="672.40" y="160.60" width="7.60" height="3.20" fill="#000"/>
<text x="667.3" y="97.4" font-size="19.5" font-weight="bold" text-anchor="end">1.6</text>
<text x="667.3" y="169.6" font-size="19.5" font-weight="bold" text-anchor="end">0.8</text>
<text x="667.3" y="243.4" font-size="19.5" font-weight="bold" text-anchor="end">0</text>
<rect x="702.30" y="180.70" width="4.4" height="8.60" rx="0.7" fill="#000"/>
<rect x="695.00" y="188.30" width="18.75" height="44.70" fill="#000"/>
<rect x="720.00" y="188.80" width="4.4" height="9.20" rx="0.7" fill="#000"/>
<rect x="714.35" y="197.60" width="15.80" height="36.00" fill="#c3f9dd" stroke="#000" stroke-width="1.2"/>
<rect x="754.30" y="153.00" width="4.4" height="10.50" rx="0.7" fill="#000"/>
<rect x="747.50" y="162.50" width="18.00" height="70.50" fill="#000"/>
<rect x="771.80" y="186.00" width="4.4" height="13.00" rx="0.7" fill="#000"/>
<rect x="766.10" y="198.60" width="15.80" height="35.00" fill="#c3f9dd" stroke="#000" stroke-width="1.2"/>
<rect x="806.30" y="95.00" width="4.4" height="25.00" rx="0.7" fill="#000"/>
<rect x="799.50" y="119.00" width="18.00" height="114.00" fill="#000"/>
<rect x="823.80" y="148.00" width="4.4" height="4.00" rx="0.7" fill="#000"/>
<rect x="818.10" y="151.60" width="15.80" height="82.00" fill="#c3f9dd" stroke="#000" stroke-width="1.2"/>
<text x="772.5" y="181" font-size="17" font-weight="bold" text-anchor="middle">*</text>
<text x="824.5" y="143" font-size="17" font-weight="bold" text-anchor="middle">*</text>
<text x="643.5" y="258.8" font-size="19.3" font-weight="bold">Day</text>
<text x="713.75" y="258.8" font-size="19.3" font-weight="bold" text-anchor="middle">2</text>
<text x="765" y="258.8" font-size="19.3" font-weight="bold" text-anchor="middle">3</text>
<text x="816" y="258.8" font-size="19.3" font-weight="bold" text-anchor="middle">4</text>
<text x="604" y="163.5" font-size="19.5" font-weight="bold" text-anchor="middle" transform="rotate(-90 604 163.5)">Relative Level*10<tspan dy="-8.2" font-size="19.1">4</tspan></text>
<text x="630.3" y="163" font-size="19" font-weight="bold" text-anchor="middle" transform="rotate(-90 630.3 163)">(mRNA)</text>
<text x="1034" y="56.5" font-size="24" font-weight="bold" text-anchor="middle">Nestin</text>
<rect x="950.00" y="88.50" width="4.00" height="148.30" fill="#000"/>
<rect x="946.40" y="233.00" width="177.10" height="3.80" fill="#000"/>
<rect x="946.40" y="88.60" width="7.60" height="3.20" fill="#000"/>
<rect x="946.40" y="160.20" width="7.60" height="3.20" fill="#000"/>
<text x="941.3" y="97.4" font-size="19.5" font-weight="bold" text-anchor="end">6.0</text>
<text x="941.3" y="169.6" font-size="19.5" font-weight="bold" text-anchor="end">3.0</text>
<text x="941.3" y="243.4" font-size="19.5" font-weight="bold" text-anchor="end">0</text>
<rect x="976.60" y="158.80" width="4.4" height="16.60" rx="0.7" fill="#000"/>
<rect x="970.00" y="174.40" width="17.50" height="58.60" fill="#000"/>
<rect x="993.80" y="167.40" width="4.4" height="14.30" rx="0.7" fill="#000"/>
<rect x="988.10" y="181.30" width="16.30" height="52.30" fill="#c3f9dd" stroke="#000" stroke-width="1.2"/>
<rect x="1027.80" y="111.20" width="4.4" height="11.20" rx="0.7" fill="#000"/>
<rect x="1021.00" y="121.40" width="18.00" height="111.60" fill="#000"/>
<rect x="1045.30" y="128.20" width="4.4" height="12.40" rx="0.7" fill="#000"/>
<rect x="1039.60" y="140.20" width="16.50" height="93.40" fill="#c3f9dd" stroke="#000" stroke-width="1.2"/>
<rect x="1079.80" y="92.80" width="4.4" height="16.60" rx="0.7" fill="#000"/>
<rect x="1073.00" y="108.40" width="18.20" height="124.60" fill="#000"/>
<rect x="1097.80" y="102.70" width="4.4" height="16.90" rx="0.7" fill="#000"/>
<rect x="1091.80" y="119.20" width="16.40" height="114.40" fill="#c3f9dd" stroke="#000" stroke-width="1.2"/>
<text x="916.5" y="258.8" font-size="19.3" font-weight="bold">Day</text>
<text x="987.5" y="258.8" font-size="19.3" font-weight="bold" text-anchor="middle">2</text>
<text x="1039" y="258.8" font-size="19.3" font-weight="bold" text-anchor="middle">3</text>
<text x="1090" y="258.8" font-size="19.3" font-weight="bold" text-anchor="middle">4</text>
<text x="877.5" y="163.5" font-size="19.5" font-weight="bold" text-anchor="middle" transform="rotate(-90 877.5 163.5)">Relative Level*10<tspan dy="-8.2" font-size="19.1">4</tspan></text>
<text x="903.8" y="163" font-size="19" font-weight="bold" text-anchor="middle" transform="rotate(-90 903.8 163)">(mRNA)</text>
<rect x="1120.40" y="67.50" width="16.00" height="15.80" fill="#000"/>
<rect x="1121.00" y="89.80" width="14.80" height="15.90" fill="#c3f9dd" stroke="#000" stroke-width="1.2"/>
<text x="1141.2" y="83.75" font-size="20" font-weight="bold">-</text>
<text x="1152.3" y="83.75" font-size="20" font-weight="bold">DOX</text>
<text x="1138.8" y="104.2" font-size="20" font-weight="bold">+</text>
<text x="1152.3" y="104.2" font-size="20" font-weight="bold">DOX</text>
<text x="590.6" y="310.8" font-size="37.3" font-weight="bold">C</text>
<text x="732" y="317.6" font-size="24" font-weight="bold" text-anchor="middle">TOPFlash</text>
<rect x="621.00" y="350.70" width="4.00" height="178.30" fill="#000"/>
<rect x="616.50" y="525.00" width="224.50" height="4.00" fill="#000"/>
<rect x="616.50" y="350.80" width="8.50" height="3.20" fill="#000"/>
<rect x="616.50" y="438.30" width="8.50" height="3.20" fill="#000"/>
<text x="609.4" y="360.3" font-size="20" font-weight="bold" text-anchor="end">1.2</text>
<text x="609.4" y="446.5" font-size="20" font-weight="bold" text-anchor="end">0.6</text>
<text x="609.4" y="534.9" font-size="20" font-weight="bold" text-anchor="end">0</text>
<rect x="688.20" y="376.00" width="2.6" height="6.50" fill="#000"/>
<rect x="686.00" y="376.00" width="7" height="3.6" fill="#000"/>
<rect x="667.00" y="381.50" width="44.00" height="143.90" fill="#ff0000"/>
<rect x="775.20" y="475.80" width="2.6" height="4.20" fill="#000"/>
<rect x="773.20" y="475.80" width="6.6" height="3.4" fill="#000"/>
<rect x="754.60" y="479.00" width="43.80" height="46.40" fill="#fdab5b"/>
<text x="776.3" y="468" font-size="17" font-weight="bold" text-anchor="middle">*</text>
<text x="684" y="551" font-size="20" font-weight="bold" text-anchor="middle">scramble</text>
<text x="746.5" y="551" font-size="20" font-weight="bold">shHif-1<tspan font-weight="normal" font-size="21">α</tspan></text>
<text x="552" y="439" font-size="24" font-weight="bold" text-anchor="middle" transform="rotate(-90 552 439)">Relative Level</text>
<text x="580" y="438.8" font-size="20" font-weight="bold" text-anchor="middle" transform="rotate(-90 580 438.8)">(firefly/renilla)</text>
<rect x="749.30" y="341.40" width="14.50" height="14.60" fill="#ff0000"/>
<rect x="749.30" y="363.00" width="14.50" height="14.60" fill="#fdab5b"/>
<text x="770" y="356.4" font-size="20" font-weight="bold">scramble</text>
<text x="770" y="379.4" font-size="20" font-weight="bold">shHif-1<tspan font-weight="normal" font-size="21">α</tspan></text>
<text x="935.2" y="311.2" font-size="37.3" font-weight="bold">D</text>
<text x="1073" y="320.6" font-size="24" font-weight="bold" text-anchor="middle">TOPFlash</text>
<rect x="961.00" y="354.40" width="4.00" height="177.80" fill="#000"/>
<rect x="956.50" y="528.00" width="223.50" height="4.20" fill="#000"/>
<rect x="956.50" y="354.60" width="8.50" height="3.20" fill="#000"/>
<rect x="956.50" y="412.20" width="8.50" height="3.20" fill="#000"/>
<rect x="956.50" y="470.20" width="8.50" height="3.20" fill="#000"/>
<text x="949.4" y="363.3" font-size="20" font-weight="bold" text-anchor="end">15</text>
<text x="949.4" y="421.70000000000005" font-size="20" font-weight="bold" text-anchor="end">10</text>
<text x="949.4" y="479.0" font-size="20" font-weight="bold" text-anchor="end">5</text>
<text x="949.4" y="537.1" font-size="20" font-weight="bold" text-anchor="end">0</text>
<rect x="1028.20" y="512.70" width="2.6" height="5.00" fill="#000"/>
<rect x="1026.25" y="512.70" width="6.5" height="3.2" fill="#000"/>
<rect x="1006.80" y="516.70" width="45.20" height="11.70" fill="#000"/>
<rect x="1115.10" y="378.40" width="2.6" height="13.80" fill="#000"/>
<rect x="1113.15" y="378.40" width="6.5" height="3.2" fill="#000"/>
<rect x="1094.60" y="391.80" width="43.60" height="137.20" fill="#c3f9dd" stroke="#000" stroke-width="1.2"/>
<text x="1116.4" y="371" font-size="17" font-weight="bold" text-anchor="middle">*</text>
<text x="1029.5" y="555" font-size="20" font-weight="bold" text-anchor="middle">-DOX</text>
<text x="1116.5" y="555" font-size="20" font-weight="bold" text-anchor="middle">+DOX</text>
<text x="892.7" y="442.5" font-size="24" font-weight="bold" text-anchor="middle" transform="rotate(-90 892.7 442.5)">Relative Level</text>
<text x="920.5" y="443" font-size="20" font-weight="bold" text-anchor="middle" transform="rotate(-90 920.5 443)">(firefly/renilla)</text>
<text x="9.2" y="349.3" font-size="37.3" font-weight="bold">E</text>
<text x="336.7" y="362.3" font-size="22.5" font-weight="bold" text-anchor="middle">N</text>
<rect x="257.50" y="369.00" width="156.00" height="3.00" fill="#000"/>
<text x="10.4" y="398.5" font-size="23.5" font-weight="bold">Dox (ng/ml)</text>
<text x="177" y="403" font-size="23" font-weight="bold" text-anchor="middle">N</text>
<text x="220" y="403" font-size="23" font-weight="bold" text-anchor="middle">H</text>
<text x="260.4" y="400.8" font-size="23" font-weight="bold" text-anchor="middle">1</text>
<text x="302" y="400.8" font-size="23" font-weight="bold" text-anchor="middle">10</text>
<text x="346.7" y="400.8" font-size="23" font-weight="bold" text-anchor="middle">100</text>
<text x="395.8" y="400.8" font-size="23" font-weight="bold" text-anchor="middle">1000</text>
<text x="433" y="400" font-size="23.5" font-weight="bold">(KD)</text>
<text x="141.7" y="437" font-size="23.5" font-weight="bold" text-anchor="end">Myc-tag</text>
<text x="141.7" y="490" font-size="23.5" font-weight="bold" text-anchor="end">Hif-1<tspan font-weight="normal" font-size="25">α</tspan></text>
<text x="141.7" y="538.5" font-size="23.5" font-weight="bold" text-anchor="end">Gapdh</text>
<text x="459.5" y="438.8" font-size="23.3" font-weight="bold" text-anchor="middle">120</text>
<text x="459.5" y="490.8" font-size="23.3" font-weight="bold" text-anchor="middle">120</text>
<text x="459.8" y="541.3" font-size="23.3" font-weight="bold" text-anchor="middle">37</text>
<rect x="154.8" y="412.0" width="261.7" height="36.0" fill="#f6f6f6"/>
<g clip-path="url(#wbc0)">
<rect x="248" y="408" width="33" height="44" fill="#000" opacity="0.1" filter="url(#wb2)"/>
<rect x="291" y="408" width="34" height="44" fill="#000" opacity="0.22" filter="url(#wb2)"/>
<rect x="333" y="408" width="32" height="44" fill="#000" opacity="0.5" filter="url(#wb2)"/>
<rect x="376" y="408" width="35" height="44" fill="#000" opacity="0.62" filter="url(#wb2)"/>
<ellipse cx="263" cy="437.5" rx="15" ry="3.0" fill="#000" opacity="0.22" filter="url(#wb)"/>
<ellipse cx="308" cy="437" rx="15" ry="3.4" fill="#000" opacity="0.3" filter="url(#wb)"/>
<ellipse cx="348" cy="434.5" rx="17" ry="4.6" fill="#000" opacity="0.8" filter="url(#wb)"/>
<ellipse cx="393.5" cy="433.5" rx="17" ry="4.8" fill="#000" opacity="0.95" filter="url(#wb)"/>
<ellipse cx="180" cy="439" rx="12" ry="3" fill="#000" opacity="0.05" filter="url(#wb)"/>
<ellipse cx="225" cy="439" rx="12" ry="3" fill="#000" opacity="0.06" filter="url(#wb)"/>
<rect x="410.5" y="408" width="3.5" height="44" fill="#000" opacity="0.35" filter="url(#wb3)"/>
</g>
<rect x="154.8" y="412.0" width="261.7" height="36.0" fill="none" stroke="#000" stroke-width="3"/>
<rect x="154.8" y="463.5" width="261.7" height="36.5" fill="#ececec"/>
<g clip-path="url(#wbc1)">
<rect x="164" y="468" width="34" height="29" fill="#000" opacity="0.08" filter="url(#wb2)"/>
<rect x="212" y="468" width="29" height="29" fill="#000" opacity="0.36" filter="url(#wb2)"/>
<rect x="252" y="470" width="10" height="27" fill="#000" opacity="0.18" filter="url(#wb2)"/>
<rect x="270" y="474" width="10" height="23" fill="#000" opacity="0.1" filter="url(#wb2)"/>
<rect x="293" y="468" width="33" height="29" fill="#000" opacity="0.34" filter="url(#wb2)"/>
<rect x="337" y="468" width="29" height="29" fill="#000" opacity="0.46" filter="url(#wb2)"/>
<ellipse cx="352" cy="487" rx="10" ry="5" fill="#000" opacity="0.2" filter="url(#wb)"/>
<rect x="379" y="467" width="32" height="30" fill="#000" opacity="0.92" filter="url(#wb2)"/>
<ellipse cx="395" cy="485" rx="14" ry="9" fill="#000" opacity="0.5" filter="url(#wb)"/>
<ellipse cx="226" cy="488" rx="12" ry="5" fill="#000" opacity="0.18" filter="url(#wb)"/>
<ellipse cx="310" cy="486" rx="12" ry="5" fill="#000" opacity="0.14" filter="url(#wb)"/>
<rect x="243.5" y="460" width="5.0" height="45" fill="#fff" opacity="0.7" filter="url(#wb3)"/>
<rect x="328.5" y="460" width="4.5" height="45" fill="#fff" opacity="0.6" filter="url(#wb3)"/>
</g>
<rect x="154.8" y="463.5" width="261.7" height="36.5" fill="none" stroke="#000" stroke-width="3"/>
<rect x="154.8" y="514.0" width="261.7" height="37.0" fill="#cfcfcf"/>
<g clip-path="url(#wbc2)">
<rect x="150" y="528" width="270" height="17" fill="#000" opacity="0.22" filter="url(#wb2)"/>
<ellipse cx="180" cy="536.2" rx="19.5" ry="5.4" fill="#000" opacity="1" filter="url(#wb3)"/>
<ellipse cx="226" cy="536" rx="19" ry="5.6" fill="#000" opacity="1" filter="url(#wb3)"/>
<ellipse cx="262" cy="535.6" rx="13" ry="5.4" fill="#000" opacity="1" filter="url(#wb3)"/>
<ellipse cx="277" cy="536.6" rx="9" ry="3.8" fill="#000" opacity="1" filter="url(#wb3)"/>
<ellipse cx="309.5" cy="535.4" rx="21" ry="7.6" fill="#000" opacity="1" filter="url(#wb3)"/>
<ellipse cx="350.5" cy="535.6" rx="20" ry="6.6" fill="#000" opacity="1" filter="url(#wb3)"/>
<ellipse cx="392.5" cy="535.2" rx="21.5" ry="8.6" fill="#000" opacity="1" filter="url(#wb3)"/>
<ellipse cx="285" cy="536" rx="128" ry="3.4" fill="#000" opacity="0.55" filter="url(#wb3)"/>
</g>
<rect x="154.8" y="514.0" width="261.7" height="37.0" fill="none" stroke="#000" stroke-width="3"/>
<text x="9.2" y="605.7" font-size="37.3" font-weight="bold">F</text>
<text x="233" y="624.5" font-size="24" font-weight="bold" text-anchor="middle">HIF1A</text>
<rect x="116.00" y="634.40" width="4.00" height="178.00" fill="#000"/>
<rect x="112.50" y="808.20" width="236.10" height="4.20" fill="#000"/>
<rect x="112.50" y="634.20" width="7.50" height="3.20" fill="#000"/>
<rect x="112.50" y="721.00" width="7.50" height="3.20" fill="#000"/>
<text x="111.8" y="643.8" font-size="20.5" font-weight="bold" text-anchor="end">60</text>
<text x="111.8" y="730.3" font-size="20.5" font-weight="bold" text-anchor="end">30</text>
<text x="111.8" y="818.3" font-size="20.5" font-weight="bold" text-anchor="end">0</text>
<rect x="144.75" y="805.00" width="3" height="3.30" fill="#000"/>
<rect x="143.75" y="805.00" width="5" height="2.4" fill="#000"/>
<rect x="138.00" y="807.30" width="16.50" height="1.30" fill="#000"/>
<rect x="180.25" y="787.20" width="3" height="4.20" fill="#000"/>
<rect x="179.25" y="787.20" width="5" height="2.4" fill="#000"/>
<rect x="173.10" y="791.00" width="17.30" height="18.20" fill="#ff0000" stroke="#000" stroke-width="1.2"/>
<rect x="215.80" y="803.80" width="3" height="3.80" fill="#000"/>
<rect x="214.80" y="803.80" width="5" height="2.4" fill="#000"/>
<rect x="209.60" y="807.20" width="15.40" height="2.00" fill="#505050" stroke="#000" stroke-width="1.2"/>
<rect x="251.25" y="793.20" width="3" height="3.80" fill="#000"/>
<rect x="250.25" y="793.20" width="5" height="2.4" fill="#000"/>
<rect x="245.10" y="796.60" width="15.30" height="12.60" fill="#7e7e7e" stroke="#000" stroke-width="1.2"/>
<rect x="286.50" y="763.20" width="3" height="5.80" fill="#000"/>
<rect x="285.50" y="763.20" width="5" height="2.4" fill="#000"/>
<rect x="280.20" y="768.60" width="15.60" height="40.60" fill="#c8c8c8" stroke="#000" stroke-width="1.2"/>
<rect x="322.05" y="655.20" width="3" height="4.20" fill="#000"/>
<rect x="321.05" y="655.20" width="5" height="2.4" fill="#000"/>
<rect x="316.20" y="659.00" width="14.70" height="150.20" fill="#ebebeb" stroke="#000" stroke-width="1.2"/>
<text x="33" y="830" font-size="16.5" font-weight="bold">DOX(ng/ml)</text>
<text x="144" y="832" font-size="20.5" font-weight="bold" text-anchor="middle">N</text>
<text x="180" y="832" font-size="20.5" font-weight="bold" text-anchor="middle">H</text>
<text x="213" y="832" font-size="20.5" font-weight="bold" text-anchor="middle">1</text>
<text x="249.6" y="832" font-size="20.5" font-weight="bold" text-anchor="middle">10</text>
<text x="285" y="832" font-size="20.5" font-weight="bold" text-anchor="middle">100</text>
<text x="330" y="832" font-size="20.5" font-weight="bold" text-anchor="middle">1000</text>
<text x="47.5" y="723.5" font-size="20" font-weight="bold" text-anchor="middle" transform="rotate(-90 47.5 723.5)">Relative Level</text>
<text x="73.5" y="723" font-size="20" font-weight="bold" text-anchor="middle" transform="rotate(-90 73.5 723)">(protein)</text>
<rect x="359.20" y="604.20" width="13.60" height="12.50" fill="#000"/>
<text x="377.5" y="616.7" font-size="20">N(Normoxia)</text>
<rect x="359.80" y="632.80" width="12.40" height="11.90" fill="#ff0000" stroke="#000" stroke-width="1.2"/>
<text x="377.5" y="644.7" font-size="20">H(Hypoxia)</text>
<rect x="359.80" y="660.80" width="12.40" height="11.90" fill="#505050" stroke="#000" stroke-width="1.2"/>
<text x="377.5" y="672.7" font-size="20">1ng/ml</text>
<rect x="359.80" y="688.80" width="12.40" height="11.90" fill="#7e7e7e" stroke="#000" stroke-width="1.2"/>
<text x="377.5" y="700.7" font-size="20">10ng/ml</text>
<rect x="359.80" y="716.80" width="12.40" height="11.90" fill="#c8c8c8" stroke="#000" stroke-width="1.2"/>
<text x="377.5" y="728.7" font-size="20">100ng/ml</text>
<rect x="359.80" y="744.80" width="12.40" height="11.90" fill="#ebebeb" stroke="#000" stroke-width="1.2"/>
<text x="377.5" y="756.7" font-size="20">1000ng/ml</text>
<text x="9.3" y="899.8" font-size="37.5" font-weight="bold">G</text>
<text x="43.5" y="931.6" font-size="20" font-weight="bold">mESCs</text>
<text x="162.3" y="936.7" font-size="20.3" font-weight="bold">DOX</text>
<text x="209" y="936.7" font-size="20">(0,1,10,100,1000ng/ml)</text>
<ellipse cx="81.7" cy="961.7" rx="17.3" ry="9.2" fill="#fff" stroke="#222" stroke-width="0.8" transform="rotate(-40 81.7 961.7)"/>
<ellipse cx="103.3" cy="955" rx="17.3" ry="9.2" fill="#fff" stroke="#222" stroke-width="0.8" transform="rotate(-40 103.3 955)"/>
<ellipse cx="111.7" cy="964.2" rx="17.3" ry="9.2" fill="#fff" stroke="#222" stroke-width="0.8" transform="rotate(-40 111.7 964.2)"/>
<ellipse cx="84.2" cy="980" rx="17.3" ry="9.2" fill="#fff" stroke="#222" stroke-width="0.8" transform="rotate(-40 84.2 980)"/>
<ellipse cx="122.5" cy="976.7" rx="17.3" ry="9.2" fill="#fff" stroke="#222" stroke-width="0.8" transform="rotate(-40 122.5 976.7)"/>
<ellipse cx="95.8" cy="988.3" rx="17.3" ry="9.2" fill="#fff" stroke="#222" stroke-width="0.8" transform="rotate(-40 95.8 988.3)"/>
<circle cx="84.7" cy="959.2" r="5.3" fill="#000"/>
<circle cx="100.8" cy="956.7" r="5.3" fill="#000"/>
<circle cx="112.5" cy="965.3" r="5.3" fill="#000"/>
<circle cx="124.5" cy="974.2" r="5.3" fill="#000"/>
<circle cx="87" cy="977" r="5.3" fill="#000"/>
<circle cx="98.3" cy="985.8" r="5.3" fill="#000"/>
<line x1="182.60" y1="943.30" x2="182.60" y2="958.00" stroke="#000" stroke-width="1.3"/>
<path d="M175.9 952 L189.3 952 L182.6 971.8Z" fill="#000"/>
<line x1="183.40" y1="977.40" x2="312.00" y2="977.40" stroke="#000" stroke-width="1.4"/>
<path d="M308 970.7 L329.3 977.4 L308 984.1Z" fill="#000"/>
<line x1="186.00" y1="999.40" x2="312.00" y2="999.40" stroke="#ff0000" stroke-width="1.4"/>
<path d="M308.5 992.7 L330 999.4 L308.5 1006.1Z" fill="#ff0000"/>
<rect x="86.20" y="1027.70" width="259.80" height="5.90" fill="#000"/>
<path d="M381.5 1030.6 L337 1020.2 L346.5 1030.6 L337 1041Z" fill="#000"/>
<rect x="108.50" y="1015.60" width="3.00" height="12.40" fill="#000"/>
<text x="109.5" y="1057.2" font-size="18.5" font-weight="bold" text-anchor="middle">-2</text>
<rect x="144.87" y="1015.60" width="3.00" height="12.40" fill="#000"/>
<text x="145.87" y="1057.2" font-size="18.5" font-weight="bold" text-anchor="middle">-1</text>
<rect x="181.24" y="1015.60" width="3.00" height="12.40" fill="#000"/>
<text x="182.74" y="1057.2" font-size="18.5" font-weight="bold" text-anchor="middle">0</text>
<rect x="217.61" y="1015.60" width="3.00" height="12.40" fill="#000"/>
<text x="219.10999999999999" y="1057.2" font-size="18.5" font-weight="bold" text-anchor="middle">1</text>
<rect x="253.98" y="1015.60" width="3.00" height="12.40" fill="#000"/>
<text x="255.48" y="1057.2" font-size="18.5" font-weight="bold" text-anchor="middle">2</text>
<rect x="290.35" y="1015.60" width="3.00" height="12.40" fill="#000"/>
<text x="291.85" y="1057.2" font-size="18.5" font-weight="bold" text-anchor="middle">3</text>
<rect x="326.72" y="1015.60" width="3.00" height="12.40" fill="#000"/>
<text x="328.21999999999997" y="1057.2" font-size="18.5" font-weight="bold" text-anchor="middle">4</text>
<text x="354" y="1057.2" font-size="20" font-weight="bold">Day</text>
<line x1="182.60" y1="1062.50" x2="182.60" y2="1089.30" stroke="#000" stroke-width="1"/>
<line x1="328.20" y1="1062.50" x2="328.20" y2="1089.30" stroke="#000" stroke-width="1"/>
<line x1="200.00" y1="1074.30" x2="310.00" y2="1074.30" stroke="#000" stroke-width="1.3"/>
<path d="M183.4 1074.3 L204 1067.8 L204 1080.8Z" fill="#000"/>
<path d="M327.6 1074.3 L307 1067.8 L307 1080.8Z" fill="#000"/>
<text x="258" y="1097.5" font-size="20" text-anchor="middle">hanging drop</text>
<text x="522.8" y="605.8" font-size="37.3" font-weight="bold">H</text>
<text x="726.4" y="638.5" font-size="24" font-weight="bold" text-anchor="middle">T</text>
<rect x="608.00" y="648.00" width="4.00" height="179.20" fill="#000"/>
<rect x="604.80" y="823.20" width="236.20" height="4.00" fill="#000"/>
<rect x="604.80" y="648.00" width="7.20" height="3.20" fill="#000"/>
<rect x="604.80" y="735.40" width="7.20" height="3.20" fill="#000"/>
<text x="603" y="657.6" font-size="18.5" font-weight="bold" text-anchor="end">4.8</text>
<text x="603" y="745.1" font-size="18.5" font-weight="bold" text-anchor="end">2.4</text>
<text x="603" y="832.6" font-size="18.5" font-weight="bold" text-anchor="end">0</text>
<rect x="637.00" y="768.30" width="4.2" height="5.40" rx="0.7" fill="#000"/>
<rect x="629.40" y="772.70" width="19.40" height="50.90" fill="#000"/>
<rect x="672.65" y="804.00" width="4.2" height="4.00" rx="0.7" fill="#000"/>
<rect x="665.80" y="807.60" width="17.90" height="16.60" fill="#ff0000" stroke="#000" stroke-width="1.2"/>
<rect x="707.80" y="757.00" width="4.2" height="6.50" rx="0.7" fill="#000"/>
<rect x="700.80" y="763.10" width="18.20" height="61.10" fill="#505050" stroke="#000" stroke-width="1.2"/>
<rect x="743.10" y="751.70" width="4.2" height="3.90" rx="0.7" fill="#000"/>
<rect x="735.80" y="755.20" width="18.80" height="69.00" fill="#7e7e7e" stroke="#000" stroke-width="1.2"/>
<rect x="778.40" y="736.50" width="4.2" height="6.80" rx="0.7" fill="#000"/>
<rect x="771.40" y="742.90" width="18.20" height="81.30" fill="#c8c8c8" stroke="#000" stroke-width="1.2"/>
<rect x="813.90" y="678.70" width="4.2" height="9.80" rx="0.7" fill="#000"/>
<rect x="806.80" y="688.10" width="18.40" height="136.10" fill="#ebebeb" stroke="#000" stroke-width="1.2"/>
<text x="674.7" y="798.3" font-size="19" text-anchor="middle">a</text>
<text x="710" y="751.7" font-size="19" text-anchor="middle">a,b</text>
<text x="745.2" y="745.8" font-size="19" text-anchor="middle">a,b</text>
<text x="780.5" y="730.7" font-size="19" text-anchor="middle">a,b</text>
<text x="816" y="672.3" font-size="19" text-anchor="middle">a,b</text>
<text x="524.6" y="845.0" font-size="16.4" font-weight="bold">DOX(ng/ml)</text>
<text x="636" y="846.5" font-size="19.8" font-weight="bold" text-anchor="middle">N</text>
<text x="671.3" y="846.5" font-size="19.8" font-weight="bold" text-anchor="middle">H</text>
<text x="705.4" y="846.5" font-size="19.8" font-weight="bold" text-anchor="middle">1</text>
<text x="740.4" y="846.5" font-size="19.8" font-weight="bold" text-anchor="middle">10</text>
<text x="776.9" y="846.5" font-size="19.8" font-weight="bold" text-anchor="middle">100</text>
<text x="825" y="846.5" font-size="19.8" font-weight="bold" text-anchor="middle">1000</text>
<text x="539" y="738" font-size="20.3" font-weight="bold" text-anchor="middle" transform="rotate(-90 539 738)">Relative Level*10<tspan dy="-8.5" font-size="19.9">3</tspan></text>
<text x="565" y="738" font-size="20" font-weight="bold" text-anchor="middle" transform="rotate(-90 565 738)">(mRNA)</text>
<text x="1071.5" y="639.4" font-size="24" font-weight="bold" text-anchor="middle">Eomes</text>
<rect x="953.80" y="651.00" width="4.20" height="177.20" fill="#000"/>
<rect x="950.60" y="824.20" width="236.40" height="4.00" fill="#000"/>
<rect x="950.60" y="651.00" width="7.40" height="3.20" fill="#000"/>
<rect x="950.60" y="738.40" width="7.40" height="3.20" fill="#000"/>
<text x="949" y="660.6" font-size="18.5" font-weight="bold" text-anchor="end">1.2</text>
<text x="949" y="747.6" font-size="18.5" font-weight="bold" text-anchor="end">0.6</text>
<text x="949" y="833.6" font-size="18.5" font-weight="bold" text-anchor="end">0</text>
<rect x="980.90" y="728.30" width="4.2" height="9.20" rx="0.7" fill="#000"/>
<rect x="973.20" y="736.50" width="19.60" height="88.10" fill="#000"/>
<rect x="1016.45" y="759.00" width="4.2" height="11.70" rx="0.7" fill="#000"/>
<rect x="1009.60" y="770.30" width="17.90" height="54.90" fill="#ff0000" stroke="#000" stroke-width="1.2"/>
<rect x="1051.80" y="707.30" width="4.2" height="14.70" rx="0.7" fill="#000"/>
<rect x="1044.60" y="721.60" width="18.60" height="103.60" fill="#505050" stroke="#000" stroke-width="1.2"/>
<rect x="1087.35" y="740.00" width="4.2" height="3.30" rx="0.7" fill="#000"/>
<rect x="1080.20" y="742.90" width="18.50" height="82.30" fill="#7e7e7e" stroke="#000" stroke-width="1.2"/>
<rect x="1122.35" y="726.00" width="4.2" height="5.40" rx="0.7" fill="#000"/>
<rect x="1115.20" y="731.00" width="18.50" height="94.20" fill="#c8c8c8" stroke="#000" stroke-width="1.2"/>
<rect x="1158.85" y="657.50" width="4.2" height="18.50" rx="0.7" fill="#000"/>
<rect x="1151.70" y="675.60" width="18.50" height="149.60" fill="#ebebeb" stroke="#000" stroke-width="1.2"/>
<text x="1018.5" y="753" font-size="19" text-anchor="middle">a</text>
<text x="1054" y="701.5" font-size="19" text-anchor="middle">b</text>
<text x="1089.5" y="732.7" font-size="19" text-anchor="middle">b</text>
<text x="1124.5" y="719.6" font-size="19" text-anchor="middle">b</text>
<text x="1161" y="652.5" font-size="19" text-anchor="middle">a,b</text>
<text x="869" y="845.0" font-size="16.4" font-weight="bold">DOX(ng/ml)</text>
<text x="980.7" y="846.5" font-size="19.8" font-weight="bold" text-anchor="middle">N</text>
<text x="1016" y="846.5" font-size="19.8" font-weight="bold" text-anchor="middle">H</text>
<text x="1049.8" y="846.5" font-size="19.8" font-weight="bold" text-anchor="middle">1</text>
<text x="1085.7" y="846.5" font-size="19.8" font-weight="bold" text-anchor="middle">10</text>
<text x="1121" y="846.5" font-size="19.8" font-weight="bold" text-anchor="middle">100</text>
<text x="1168.5" y="846.5" font-size="19.8" font-weight="bold" text-anchor="middle">1000</text>
<text x="884.4" y="740" font-size="20.3" font-weight="bold" text-anchor="middle" transform="rotate(-90 884.4 740)">Relative Level*10<tspan dy="-8.5" font-size="19.9">2</tspan></text>
<text x="909.8" y="740" font-size="20" font-weight="bold" text-anchor="middle" transform="rotate(-90 909.8 740)">(mRNA)</text>
<text x="731" y="894.8" font-size="24" font-weight="bold" text-anchor="middle">Mesp1</text>
<rect x="611.60" y="905.60" width="4.20" height="177.60" fill="#000"/>
<rect x="608.60" y="1079.20" width="235.40" height="4.00" fill="#000"/>
<rect x="608.60" y="905.70" width="7.20" height="3.20" fill="#000"/>
<rect x="608.60" y="993.20" width="7.20" height="3.20" fill="#000"/>
<text x="606.5" y="915.1" font-size="18.5" font-weight="bold" text-anchor="end">9.0</text>
<text x="606.5" y="1002.6" font-size="18.5" font-weight="bold" text-anchor="end">4.5</text>
<text x="606.5" y="1088.6" font-size="18.5" font-weight="bold" text-anchor="end">0</text>
<rect x="640.90" y="1008.80" width="4.2" height="2.80" rx="0.7" fill="#000"/>
<rect x="633.20" y="1010.60" width="19.60" height="69.00" fill="#000"/>
<rect x="676.45" y="1034.00" width="4.2" height="3.30" rx="0.7" fill="#000"/>
<rect x="669.60" y="1036.90" width="17.90" height="43.30" fill="#ff0000" stroke="#000" stroke-width="1.2"/>
<rect x="711.80" y="981.40" width="4.2" height="3.30" rx="0.7" fill="#000"/>
<rect x="704.60" y="984.30" width="18.60" height="95.90" fill="#505050" stroke="#000" stroke-width="1.2"/>
<rect x="747.35" y="979.40" width="4.2" height="12.60" rx="0.7" fill="#000"/>
<rect x="740.20" y="991.60" width="18.50" height="88.60" fill="#7e7e7e" stroke="#000" stroke-width="1.2"/>
<rect x="782.35" y="924.80" width="4.2" height="3.70" rx="0.7" fill="#000"/>
<rect x="775.20" y="928.10" width="18.50" height="152.10" fill="#c8c8c8" stroke="#000" stroke-width="1.2"/>
<rect x="818.85" y="955.20" width="4.2" height="3.80" rx="0.7" fill="#000"/>
<rect x="811.70" y="958.60" width="18.50" height="121.60" fill="#ebebeb" stroke="#000" stroke-width="1.2"/>
<text x="678.5" y="1027" font-size="19" text-anchor="middle">a</text>
<text x="714" y="975" font-size="19" text-anchor="middle">a,b</text>
<text x="749.5" y="975" font-size="19" text-anchor="middle">a,b</text>
<text x="784.5" y="918" font-size="19" text-anchor="middle">a,b</text>
<text x="821" y="949.3" font-size="19" text-anchor="middle">a,b</text>
<text x="529" y="1101.8" font-size="16.4" font-weight="bold">DOX(ng/ml)</text>
<text x="639.8" y="1103.3" font-size="19.8" font-weight="bold" text-anchor="middle">N</text>
<text x="675.7" y="1103.3" font-size="19.8" font-weight="bold" text-anchor="middle">H</text>
<text x="709.8" y="1103.3" font-size="19.8" font-weight="bold" text-anchor="middle">1</text>
<text x="744.8" y="1103.3" font-size="19.8" font-weight="bold" text-anchor="middle">10</text>
<text x="780.7" y="1103.3" font-size="19.8" font-weight="bold" text-anchor="middle">100</text>
<text x="828" y="1103.3" font-size="19.8" font-weight="bold" text-anchor="middle">1000</text>
<text x="540.6" y="994" font-size="20.3" font-weight="bold" text-anchor="middle" transform="rotate(-90 540.6 994)">Relative Level*10<tspan dy="-8.5" font-size="19.9">4</tspan></text>
<text x="569.8" y="994" font-size="20" font-weight="bold" text-anchor="middle" transform="rotate(-90 569.8 994)">(mRNA)</text>
<text x="1073.3" y="894.8" font-size="24" font-weight="bold" text-anchor="middle">Gsc</text>
<rect x="955.20" y="905.00" width="4.20" height="178.20" fill="#000"/>
<rect x="952.00" y="1079.20" width="236.00" height="4.00" fill="#000"/>
<rect x="952.00" y="905.00" width="7.40" height="3.20" fill="#000"/>
<rect x="952.00" y="992.40" width="7.40" height="3.20" fill="#000"/>
<text x="950.5" y="914.6" font-size="18.5" font-weight="bold" text-anchor="end">1.2</text>
<text x="950.5" y="1002.1" font-size="18.5" font-weight="bold" text-anchor="end">0.6</text>
<text x="950.5" y="1088.6" font-size="18.5" font-weight="bold" text-anchor="end">0</text>
<rect x="984.25" y="986.00" width="4.2" height="3.00" rx="0.7" fill="#000"/>
<rect x="976.70" y="988.00" width="19.30" height="91.60" fill="#000"/>
<rect x="1019.65" y="1020.00" width="4.2" height="9.40" rx="0.7" fill="#000"/>
<rect x="1012.50" y="1029.00" width="18.50" height="51.20" fill="#ff0000" stroke="#000" stroke-width="1.2"/>
<rect x="1054.95" y="975.60" width="4.2" height="6.20" rx="0.7" fill="#000"/>
<rect x="1048.10" y="981.40" width="17.90" height="98.80" fill="#505050" stroke="#000" stroke-width="1.2"/>
<rect x="1090.25" y="989.00" width="4.2" height="7.40" rx="0.7" fill="#000"/>
<rect x="1083.10" y="996.00" width="18.50" height="84.20" fill="#7e7e7e" stroke="#000" stroke-width="1.2"/>
<rect x="1126.00" y="966.00" width="4.2" height="6.50" rx="0.7" fill="#000"/>
<rect x="1118.70" y="972.10" width="18.80" height="108.10" fill="#c8c8c8" stroke="#000" stroke-width="1.2"/>
<rect x="1161.15" y="931.80" width="4.2" height="12.70" rx="0.7" fill="#000"/>
<rect x="1154.00" y="944.10" width="18.50" height="136.10" fill="#ebebeb" stroke="#000" stroke-width="1.2"/>
<text x="1021.7" y="1015.8" font-size="19" text-anchor="middle">a</text>
<text x="1057" y="969" font-size="19" text-anchor="middle">b</text>
<text x="1092.3" y="982.3" font-size="19" text-anchor="middle">b</text>
<text x="1128" y="961" font-size="19" text-anchor="middle">a,b</text>
<text x="1163.2" y="924.8" font-size="19" text-anchor="middle">a,b</text>
<text x="872.7" y="1101.8" font-size="16.4" font-weight="bold">DOX(ng/ml)</text>
<text x="983.6" y="1103.3" font-size="19.8" font-weight="bold" text-anchor="middle">N</text>
<text x="1019" y="1103.3" font-size="19.8" font-weight="bold" text-anchor="middle">H</text>
<text x="1052.7" y="1103.3" font-size="19.8" font-weight="bold" text-anchor="middle">1</text>
<text x="1088.6" y="1103.3" font-size="19.8" font-weight="bold" text-anchor="middle">10</text>
<text x="1124" y="1103.3" font-size="19.8" font-weight="bold" text-anchor="middle">100</text>
<text x="1170.8" y="1103.3" font-size="19.8" font-weight="bold" text-anchor="middle">1000</text>
<text x="885" y="994" font-size="20.3" font-weight="bold" text-anchor="middle" transform="rotate(-90 885 994)">Relative Level*10<tspan dy="-8.5" font-size="19.9">3</tspan></text>
<text x="912.7" y="994" font-size="20" font-weight="bold" text-anchor="middle" transform="rotate(-90 912.7 994)">(mRNA)</text>
<text x="8.4" y="1147.8" font-size="37.3" font-weight="bold">I</text>
<text x="18.9" y="1185" font-size="24.5" font-weight="bold" text-anchor="middle" transform="rotate(-90 18.9 1185)">SSC</text>
<rect x="7.10" y="1222.00" width="3.30" height="390.00" fill="#000"/>
<path d="M8.9 1210.8 L13.3 1223.8 L4.7 1223.8Z" fill="#000"/>
<rect x="40.50" y="1395.40" width="1150.50" height="4.00" fill="#000"/>
<path d="M1199.5 1397.4 L1189.5 1392.6 L1189.5 1402.2Z" fill="#000"/>
<rect x="40.50" y="1616.60" width="1150.50" height="4.00" fill="#000"/>
<path d="M1199.5 1618.6 L1189.5 1613.8 L1189.5 1623.4Z" fill="#000"/>
<text x="1186.5" y="1427.3" font-size="23.6" font-weight="bold" text-anchor="middle">T</text>
<text x="1196.3" y="1647.5" font-size="23.8" font-weight="bold" text-anchor="end">Sox1</text>
<text x="818.4" y="1167.5" font-size="24.2" text-anchor="middle">DOX (ng/ml)</text>
<rect x="465.50" y="1178.20" width="706.00" height="2.10" fill="#000"/>
<text x="124.8" y="1208.5" font-size="24.3" text-anchor="middle">Normoxia</text>
<text x="323.24" y="1208.5" font-size="24.3" text-anchor="middle">Hypoxia</text>
<text x="519.3800000000001" y="1208.5" font-size="24.3" text-anchor="middle">1</text>
<text x="716.4199999999998" y="1208.5" font-size="24.3" text-anchor="middle">10</text>
<text x="915.06" y="1208.5" font-size="24.3" text-anchor="middle">100</text>
<text x="1114.5" y="1208.5" font-size="24.3" text-anchor="middle">1000</text>
<g transform="translate(52.8 1221.4) scale(.5)" stroke-width="1.9" stroke-linecap="square" fill="none">
<path d="M56 280h0M255 251h0M228 215h0M212 183h0M186 169h0M234 222h0M230 276h0M141 120h0M68 170h0M68 186h0M189 176h0M190 146h0M57 212h0M147 145h0M225 279h0M247 265h0M70 176h0M209 280h0M78 156h0M188 188h0M210 211h0M61 204h0M110 110h0M76 168h0M101 115h0M64 249h0M173 183h0M58 260h0M183 152h0M166 163h0M147 125h0M79 141h0M168 157h0M166 148h0M39 273h0M132 118h0M189 121h0M160 129h0M231 242h0M123 117h0M100 130h0M161 155h0M242 260h0M196 166h0M219 210h0M197 275h0M219 205h0M156 188h0M157 199h0M163 188h0M160 147h0M80 167h0M85 135h0M155 173h0M75 191h0M126 126h0M95 120h0M244 262h0M93 133h0M139 129h0M149 175h0M131 118h0M223 229h0M142 132h0M227 248h0M195 214h0M176 197h0M196 207h0M215 225h0M150 158h0M212 217h0M98 151h0M231 260h0M207 197h0M163 198h0M132 286h0M158 180h0M59 239h0M96 136h0M203 208h0M81 177h0M93 168h0M155 197h0M37 272h0M159 159h0M170 173h0M125 130h0M171 187h0M86 156h0M164 275h0M63 235h0M223 196h0M87 159h0M102 152h0M194 192h0M201 192h0M114 123h0M75 186h0M182 184h0M193 208h0M149 185h0M222 230h0M104 143h0M222 263h0M152 196h0M169 204h0M239 260h0M203 196h0M224 249h0M170 271h0M63 270h0M114 125h0M94 134h0M143 168h0M89 128h0M173 194h0M87 142h0M205 199h0M123 141h0M56 233h0M168 174h0M123 128h0M141 177h0M132 172h0M174 205h0M168 211h0M82 149h0M225 198h0M109 131h0M62 271h0M163 270h0M195 185h0M84 184h0M127 157h0M129 134h0M133 280h0M158 206h0M105 133h0M135 156h0M147 187h0M218 272h0M153 228h0M167 208h0M155 211h0M82 168h0M138 185h0M118 155h0M168 208h0M86 150h0M222 204h0M206 224h0M160 172h0M148 191h0M158 273h0M66 257h0M90 283h0M135 115h0M152 181h0M239 247h0M190 200h0M160 272h0M149 273h0M148 183h0M69 212h0M184 272h0M125 145h0M127 141h0M153 172h0M232 262h0M195 220h0M110 141h0M134 137h0M216 272h0M153 217h0M153 221h0M121 151h0M98 281h0M141 181h0M137 147h0M198 199h0M232 253h0M154 168h0M78 198h0M110 135h0M80 282h0M67 278h0M100 154h0M67 227h0M171 268h0M88 185h0M187 202h0M218 255h0M107 133h0M220 268h0M131 146h0M170 180h0M181 271h0M90 161h0M135 156h0M136 166h0M179 201h0M141 156h0M156 187h0M95 164h0M210 262h0M206 274h0M167 192h0M85 150h0M77 202h0M146 271h0M77 206h0M219 259h0M138 170h0M115 166h0M129 280h0M196 220h0M102 281h0M112 145h0M91 183h0M185 220h0M170 280h0M204 267h0M202 235h0M130 156h0M221 240h0M223 245h0M180 278h0M94 146h0M65 250h0M148 169h0M131 142h0M74 270h0M90 181h0M134 171h0M153 257h0M204 272h0M129 280h0M118 166h0M141 141h0M195 218h0M136 160h0M180 280h0M130 146h0M182 265h0M112 124h0M86 283h0M222 252h0M113 147h0M179 277h0M142 143h0M131 134h0M107 164h0M68 261h0M106 127h0M179 218h0M157 211h0M162 232h0M141 160h0M109 145h0M93 184h0M230 254h0M204 273h0M127 181h0M137 267h0M169 229h0M216 235h0M108 170h0M119 160h0M216 239h0M133 182h0M205 230h0M116 171h0M174 223h0M209 272h0M119 168h0M210 241h0M163 174h0M217 242h0M165 196h0M203 235h0M113 154h0M178 214h0M110 282h0M213 272h0M141 201h0M135 267h0M116 126h0M194 221h0M97 165h0M169 210h0M162 262h0M111 130h0M192 237h0M102 184h0M175 272h0M203 244h0M128 189h0M203 248h0M181 271h0M94 161h0M146 250h0M157 216h0M71 262h0M162 237h0M139 191h0M224 237h0M68 273h0M132 161h0M163 216h0M91 151h0M168 213h0M116 158h0M210 254h0M69 261h0M116 155h0M75 234h0M87 276h0M182 229h0M226 259h0M105 143h0M145 267h0M124 162h0M72 207h0M132 153h0M131 192h0M153 266h0M92 174h0M118 129h0M200 274h0M168 240h0M73 215h0M187 233h0M162 226h0M161 224h0M89 281h0M80 280h0M189 226h0M213 241h0M141 274h0M75 232h0M156 256h0M110 170h0M187 232h0M193 245h0M158 246h0M147 220h0M224 261h0M90 278h0M74 253h0M157 202h0M156 258h0M159 261h0M180 214h0M146 193h0M154 258h0M176 207h0M155 261h0M126 163h0M117 174h0M146 209h0M143 262h0M210 244h0M94 159h0M198 235h0M105 172h0M208 240h0M154 220h0M202 240h0M169 243h0M129 167h0M67 229h0M116 161h0M181 210h0M128 182h0M72 241h0M207 257h0M152 224h0M223 262h0M84 194h0M164 250h0M88 184h0M139 202h0M121 277h0M207 235h0M211 269h0M212 253h0M131 181h0M202 242h0M205 258h0M79 282h0M216 256h0M199 270h0M206 229h0M150 206h0M135 146h0M160 220h0M70 241h0M149 247h0M175 209h0M131 150h0M200 229h0M220 242h0M190 230h0M150 206h0M100 163h0M195 268h0M146 217h0M178 211h0M182 264h0M75 222h0M72 243h0M74 270h0M208 221h0M208 225h0M128 174h0M96 182h0M173 233h0M121 283h0M198 228h0M132 272h0M152 208h0M93 176h0M152 265h0M72 225h0M105 184h0M181 217h0M82 220h0M114 176h0M83 282h0M159 240h0M155 208h0M200 224h0M179 231h0M131 279h0M85 193h0M148 201h0M73 265h0M194 231h0M151 229h0M117 276h0M185 218h0M89 179h0M81 207h0M138 277h0M136 276h0M146 189h0M174 231h0M70 244h0M191 266h0M198 249h0M173 216h0M142 197h0M212 239h0M201 227h0M147 261h0M210 266h0M164 238h0M72 215h0M154 252h0M80 216h0M207 248h0M141 272h0M189 273h0M164 242h0M87 193h0M85 214h0M100 175h0M145 190h0M110 177h0M207 265h0M183 234h0M134 199h0M130 162h0M79 254h0M78 206h0M173 233h0M102 163h0M151 218h0M94 191h0M191 223h0M142 223h0M96 200h0M201 232h0M142 231h0M196 229h0M138 270h0M174 231h0M90 192h0M85 220h0M129 196h0M81 229h0M139 187h0M165 227h0M190 269h0M79 280h0M96 283h0M116 160h0M172 237h0M74 241h0M137 208h0M189 215h0M80 197h0M188 260h0M174 217h0M164 228h0M80 259h0M97 171h0M147 262h0M76 216h0M109 186h0M185 222h0M129 280h0M177 229h0M153 241h0M73 276h0M175 272h0M155 246h0M135 261h0M80 263h0M135 259h0M185 249h0M166 224h0M210 247h0M86 277h0M202 253h0M74 261h0M207 259h0M171 226h0M179 225h0M207 243h0M70 270h0M101 167h0M116 201h0M165 267h0M157 249h0M210 267h0M97 179h0M83 273h0M173 245h0M72 274h0M169 224h0M87 198h0M92 196h0M184 240h0M181 232h0M122 166h0M125 204h0M118 176h0M142 259h0M86 281h0M107 204h0M116 188h0M121 204h0M128 195h0M180 234h0M158 239h0M171 240h0M86 177h0M79 235h0M140 222h0M184 243h0M140 227h0M188 271h0M83 271h0M72 247h0M89 192h0M91 226h0M120 197h0M125 165h0M208 272h0M79 274h0M107 164h0M129 199h0M167 246h0M149 244h0M121 184h0M108 191h0M121 193h0M116 198h0M97 192h0M137 219h0M142 235h0M177 212h0M176 255h0M87 207h0M126 199h0M137 192h0M116 184h0M147 232h0M166 234h0M188 226h0M197 264h0M129 201h0M142 250h0M154 244h0M82 277h0M203 254h0M180 219h0M88 183h0M182 242h0M200 252h0M108 280h0M138 194h0M139 221h0M90 210h0M135 257h0M87 228h0M146 218h0M76 220h0M136 201h0M197 261h0M175 232h0M187 220h0M145 225h0M128 187h0M193 255h0M86 218h0M136 207h0M179 243h0M108 165h0M122 169h0M168 250h0M124 203h0M192 236h0M167 255h0M155 246h0M169 246h0M72 225h0M185 232h0M97 175h0M137 230h0M74 236h0M124 188h0M151 232h0M144 263h0M168 253h0M170 264h0M93 225h0M108 279h0M89 281h0M94 176h0M211 262h0M156 251h0M74 226h0M188 250h0M82 238h0M105 167h0M130 211h0M98 274h0M191 249h0M135 240h0M93 222h0M91 207h0M202 221h0M115 281h0M150 262h0M98 183h0M109 171h0M122 185h0M201 235h0M72 228h0M136 189h0M107 196h0M90 186h0M90 223h0M170 233h0M147 236h0M115 194h0M174 254h0M101 277h0M109 184h0M125 165h0M190 247h0M184 254h0M112 272h0M181 241h0M93 207h0M101 204h0M144 257h0M76 251h0M164 253h0M137 196h0M144 260h0M71 256h0M92 279h0M176 263h0M128 181h0M211 264h0M171 231h0M195 260h0M195 251h0M148 259h0M78 214h0M109 166h0M149 264h0M138 212h0M124 186h0M135 199h0M71 223h0M84 203h0M144 191h0M119 271h0M183 252h0M165 223h0M122 166h0M140 218h0M189 236h0M101 174h0M193 242h0M81 212h0M79 277h0M105 201h0M176 246h0M125 208h0M143 215h0M141 211h0M82 273h0M209 256h0M186 228h0M118 209h0M118 183h0M139 247h0M92 196h0M123 187h0M194 241h0M156 260h0M82 263h0M78 208h0M202 261h0M95 193h0M117 276h0M172 223h0M179 235h0M157 243h0M105 168h0M94 197h0M107 193h0M124 168h0M110 200h0M84 219h0M145 242h0M114 274h0M180 268h0M200 255h0M175 217h0M89 192h0M112 185h0M135 278h0M102 274h0M114 208h0M167 235h0M183 224h0M116 275h0M72 239h0M195 269h0M200 257h0M195 243h0M130 265h0M118 278h0M118 200h0M74 233h0M101 190h0M172 243h0M95 180h0M79 274h0M177 268h0M133 228h0M197 244h0M114 209h0M207 247h0M130 195h0M166 257h0M103 179h0M80 235h0M201 245h0M199 263h0M103 270h0M140 207h0M171 227h0M89 206h0M129 204h0M83 217h0M179 260h0M107 171h0M130 226h0M113 201h0M196 225h0M154 234h0M129 206h0M114 271h0M101 210h0M102 271h0M111 272h0M81 243h0M106 282h0M118 214h0M137 249h0M73 248h0M113 176h0M193 266h0M210 270h0M81 261h0M84 267h0M93 207h0M121 265h0M107 179h0M136 211h0M187 239h0M152 248h0M195 246h0M103 231h0M168 253h0M75 267h0M77 207h0M175 218h0M144 202h0M151 243h0M135 235h0M78 250h0M148 244h0M211 269h0M115 183h0M107 281h0M136 191h0M114 185h0M178 237h0M82 238h0M178 240h0M204 254h0M170 233h0M179 225h0M78 239h0M144 203h0M124 185h0M110 195h0M156 235h0M130 223h0M98 202h0M192 232h0M141 237h0M141 247h0M144 253h0M179 269h0M183 235h0M179 246h0M107 204h0M160 257h0M179 251h0M102 210h0M86 274h0M89 230h0M118 177h0M95 202h0M196 239h0M127 274h0M130 202h0M192 262h0M101 167h0M89 202h0M140 223h0M84 272h0M199 262h0M188 241h0M97 204h0M101 204h0M158 255h0M124 267h0M109 197h0M74 227h0M75 230h0M204 245h0M168 239h0M84 199h0M148 244h0M132 215h0M179 247h0M96 219h0M135 223h0M117 214h0M107 186h0M110 171h0M73 230h0M93 185h0M174 222h0M88 241h0M118 195h0M105 213h0M114 271h0M147 244h0M103 205h0M74 244h0M91 191h0M168 260h0M86 232h0M120 275h0M93 273h0M104 181h0M106 282h0M73 225h0M86 198h0M114 189h0M145 228h0M123 275h0M75 280h0M121 199h0M175 218h0M169 263h0M94 228h0M141 255h0M116 197h0M194 247h0M136 249h0M180 265h0M137 223h0M195 263h0M160 254h0M165 262h0M81 273h0M178 261h0M127 192h0M115 176h0M145 221h0M182 255h0M141 249h0M197 227h0M130 228h0M183 243h0M111 267h0M80 254h0M182 230h0M119 203h0M111 267h0M143 260h0M161 236h0M123 187h0M121 178h0M85 266h0M106 270h0M106 188h0M129 208h0M94 269h0M103 221h0M117 270h0M94 217h0M139 238h0M124 270h0M80 224h0M97 198h0M105 211h0M131 224h0M103 233h0M110 229h0M154 230h0M84 209h0M138 193h0M138 256h0M74 242h0M85 266h0M140 197h0M142 256h0M101 277h0M119 183h0M98 194h0M193 244h0M108 187h0M128 267h0M89 201h0M110 215h0M132 202h0M181 229h0M193 263h0M181 245h0M129 223h0M107 195h0M101 245h0M125 177h0M109 192h0M146 247h0M77 248h0M136 216h0M148 239h0M136 254h0M105 189h0M127 269h0M93 193h0M126 220h0M94 202h0M149 226h0M103 185h0M84 245h0M72 235h0M109 228h0M104 202h0M148 261h0M73 245h0M138 235h0M192 254h0M93 211h0M165 257h0M121 276h0M141 248h0M121 198h0M106 212h0M153 238h0M125 243h0M95 271h0M97 210h0M114 204h0M89 271h0M135 228h0M134 267h0M84 247h0M84 249h0M113 204h0M106 246h0M108 185h0M112 237h0M134 272h0M95 225h0M77 268h0M78 233h0M115 270h0M103 228h0M149 239h0M114 205h0M200 260h0M113 237h0M174 254h0M171 231h0M138 226h0M123 208h0M106 232h0M121 272h0M76 215h0M160 258h0M109 276h0M142 256h0M155 250h0M91 245h0M181 261h0M130 205h0M180 244h0M119 196h0M134 225h0M91 236h0M97 210h0M127 234h0M181 239h0M99 217h0M145 248h0M135 241h0M90 195h0M173 259h0M90 229h0M83 263h0M89 271h0M147 225h0M124 185h0M112 231h0M101 278h0M157 250h0M171 244h0M133 212h0M121 188h0M98 223h0M206 250h0M191 252h0M193 255h0M89 200h0M104 251h0M89 240h0M202 256h0M89 239h0M187 234h0M157 246h0M158 248h0M146 232h0M102 244h0M139 219h0M106 242h0M174 262h0M88 204h0M197 249h0M142 261h0M93 191h0M172 246h0M91 216h0M147 255h0M104 243h0M97 243h0M76 224h0M119 213h0M179 259h0M161 246h0M125 236h0M164 236h0M74 239h0M160 246h0M140 234h0M165 258h0M187 250h0M81 212h0M81 218h0M77 255h0M103 203h0M129 269h0M86 247h0M190 263h0M132 200h0M162 260h0M105 219h0M101 275h0M79 248h0M202 261h0M188 257h0M114 192h0M137 242h0M183 241h0M122 195h0M96 230h0M134 225h0M82 269h0M91 277h0M175 262h0M104 261h0M168 256h0M114 195h0M84 269h0M127 275h0M126 245h0M134 191h0M111 242h0M107 278h0M109 271h0M85 280h0M148 236h0M121 238h0M134 191h0M129 216h0M84 218h0M133 195h0M120 260h0M116 180h0M89 238h0M176 263h0M140 244h0M181 241h0M87 265h0M184 235h0M104 236h0M128 258h0M97 227h0M116 278h0M103 230h0M87 230h0M101 219h0M116 213h0M114 194h0M100 248h0M187 248h0M186 260h0M101 199h0M133 248h0M81 222h0M92 221h0M156 238h0M84 278h0M111 278h0M111 180h0M139 204h0M112 254h0M112 238h0M99 230h0M115 214h0M139 235h0M89 204h0M151 238h0M179 229h0M116 237h0M101 193h0M137 228h0M175 255h0M186 260h0M122 242h0M106 182h0M139 245h0M89 206h0M142 263h0M95 228h0M182 256h0M180 257h0M99 216h0M90 209h0M95 251h0M112 258h0M117 261h0M194 270h0M102 240h0M102 241h0M103 236h0M85 254h0M158 237h0M100 220h0M78 258h0M137 223h0M144 236h0M89 252h0M118 188h0M125 207h0M115 221h0M137 206h0M175 257h0M132 272h0M113 277h0M192 269h0M116 239h0M195 269h0M118 227h0M132 247h0M147 240h0M173 259h0M101 217h0M96 201h0M112 203h0M98 240h0M152 237h0M91 209h0M135 218h0M157 239h0M110 250h0M101 249h0M109 193h0M107 185h0M89 213h0M108 257h0M123 234h0M160 252h0M88 220h0M195 245h0M94 273h0M121 269h0M132 258h0M104 223h0M107 191h0M121 272h0M93 217h0M81 268h0M98 225h0M85 200h0M198 254h0M89 200h0M157 239h0M176 259h0M186 260h0M176 242h0M188 261h0M139 233h0M139 196h0M157 237h0M179 234h0M109 258h0M103 271h0M108 192h0M82 227h0M93 234h0M106 197h0M97 211h0M120 183h0M117 192h0M75 257h0M125 199h0M96 240h0M83 206h0M107 236h0M83 229h0M98 273h0M109 228h0M192 252h0M106 244h0" stroke="#2a2af2"/>
<path d="M176 244h0M96 255h0M117 261h0M78 260h0M195 260h0M170 255h0M102 257h0M92 216h0M137 210h0M112 228h0M110 204h0M143 248h0M165 260h0M90 205h0M111 215h0M125 222h0M137 259h0M135 222h0M129 226h0M121 224h0M133 241h0M120 259h0M199 257h0M110 260h0M79 270h0M129 253h0M83 238h0M99 265h0M98 206h0M105 219h0M127 266h0M95 224h0M106 234h0M121 243h0M119 202h0M84 227h0M176 231h0M182 253h0M107 253h0M100 208h0M121 212h0M133 260h0M104 222h0M93 239h0M134 211h0M101 218h0M82 231h0M116 239h0M83 241h0M122 263h0M82 274h0M135 241h0M184 248h0M88 237h0M92 218h0M126 264h0M119 234h0M111 229h0M128 211h0M133 202h0M120 230h0M127 246h0M120 227h0M134 197h0M136 227h0M175 252h0M88 238h0M140 217h0M108 261h0M113 188h0M119 183h0M83 260h0M81 227h0M127 234h0M96 271h0M126 240h0M115 239h0M124 251h0M79 244h0M100 268h0M193 246h0M89 253h0M83 254h0M127 211h0M158 240h0M140 264h0M109 268h0M186 242h0M113 200h0M181 247h0M102 250h0M158 243h0M113 265h0M124 180h0M141 258h0M80 235h0M112 182h0M120 231h0M110 205h0M105 220h0M91 235h0M86 257h0M119 241h0M128 272h0M141 234h0M92 197h0M114 249h0M121 264h0M116 216h0M139 219h0M140 234h0M116 262h0M103 196h0M82 235h0M93 226h0M96 197h0M94 208h0M90 238h0M86 224h0M80 214h0M83 244h0M102 226h0M119 247h0M80 248h0M103 240h0M124 257h0M90 248h0M87 244h0M133 231h0M76 242h0M99 251h0M117 234h0M94 224h0M123 275h0M105 256h0M119 196h0M98 199h0M137 249h0M93 207h0M145 255h0M110 188h0M101 223h0M104 257h0M102 275h0M204 259h0M197 252h0M110 267h0M145 230h0M178 251h0M89 223h0M121 215h0M189 251h0M121 238h0M134 267h0M92 233h0M102 206h0M187 256h0M129 242h0M133 213h0M131 226h0M176 242h0M132 203h0M124 226h0M128 236h0M86 268h0M124 243h0M110 236h0M180 257h0M75 240h0M186 252h0M81 240h0M191 257h0M108 238h0M91 238h0M108 246h0M118 267h0M201 259h0M104 226h0M144 225h0M200 257h0M133 227h0M94 218h0M86 236h0M123 227h0M133 251h0M116 255h0M128 232h0M117 224h0M121 266h0M128 226h0M202 254h0M111 196h0M185 247h0M111 210h0M109 276h0M111 231h0M178 253h0M121 198h0M128 213h0M82 235h0M127 219h0M135 250h0M124 205h0M120 241h0M116 199h0M89 271h0M113 242h0M99 243h0M177 256h0M88 232h0M113 260h0M119 187h0M115 234h0M186 258h0M81 263h0M111 188h0M93 267h0M81 219h0M108 225h0M113 259h0M96 231h0M83 268h0M118 224h0M127 272h0M88 268h0M85 251h0M104 236h0M125 243h0M180 238h0M109 254h0M85 247h0M95 206h0M90 232h0M130 259h0M101 248h0M141 242h0M139 234h0M83 234h0M112 236h0M202 252h0M113 247h0M84 261h0M144 234h0M187 247h0M94 217h0M122 258h0M107 274h0M104 251h0M108 214h0M88 249h0M134 236h0M85 260h0M92 231h0M120 189h0M127 274h0M107 233h0M132 264h0M100 244h0M124 260h0M124 274h0M112 235h0M192 252h0M110 251h0M90 271h0M120 227h0M90 232h0M137 220h0M97 227h0M101 222h0M123 232h0M133 225h0M128 211h0M123 191h0M136 232h0M127 203h0M180 255h0M112 271h0M126 226h0M197 259h0M120 221h0M132 260h0M92 265h0M108 194h0M101 214h0M181 254h0M102 226h0M99 263h0M112 219h0M133 254h0M91 242h0M91 211h0M196 254h0M115 195h0M117 245h0M123 258h0M103 257h0M115 189h0M118 191h0M88 212h0M104 248h0M117 238h0M90 205h0M89 238h0M104 204h0M116 196h0M104 213h0M108 208h0M92 241h0M197 261h0M94 268h0M85 253h0M103 226h0M96 218h0M114 245h0M115 259h0M132 206h0M105 261h0M121 274h0M84 256h0M102 240h0" stroke="#2f74f5"/>
<path d="M100 257h0M91 244h0M191 261h0M124 225h0M84 256h0M81 253h0M103 218h0M113 245h0M88 212h0M126 274h0M101 226h0M131 242h0M102 205h0M85 225h0M96 254h0M133 203h0M103 200h0M96 237h0M131 214h0M136 255h0M128 273h0M136 228h0M98 262h0M116 258h0M84 256h0M89 258h0M94 217h0M101 267h0M103 240h0M110 217h0M84 266h0M89 217h0M194 256h0M129 245h0M94 232h0M198 251h0M129 229h0M119 185h0M105 272h0M115 231h0M102 257h0M196 254h0M100 249h0M105 272h0M126 211h0M99 232h0M117 226h0M128 225h0M100 271h0M95 262h0M113 218h0M119 263h0M126 213h0M112 224h0M95 247h0M118 225h0M99 251h0M134 258h0M129 269h0M119 220h0M106 215h0M120 234h0M84 252h0M86 248h0M118 270h0M124 216h0M109 198h0M99 222h0M104 240h0M121 229h0M111 268h0M117 258h0M91 237h0M133 252h0M139 217h0M119 229h0M97 210h0M123 211h0M125 236h0M127 252h0M131 254h0M95 249h0M91 241h0M103 244h0M118 240h0M100 262h0M113 196h0M125 239h0M100 269h0M128 250h0M118 225h0M109 209h0M133 246h0M100 248h0M127 266h0M106 241h0M124 237h0M89 207h0M108 202h0M86 246h0M109 227h0M89 256h0M98 262h0M116 251h0M92 205h0M111 208h0M131 208h0M122 211h0M139 224h0M114 211h0M110 254h0M81 245h0M91 254h0M123 246h0M85 260h0M101 214h0M89 209h0M101 242h0M108 210h0M128 252h0M128 213h0M107 235h0M97 274h0M114 206h0M108 272h0M94 259h0M110 193h0M91 244h0M134 232h0M103 255h0M92 254h0M96 218h0M108 213h0M109 273h0M130 235h0M89 226h0M96 272h0M139 254h0M87 223h0M193 255h0M114 255h0M89 213h0M105 235h0M105 226h0M131 255h0M92 235h0M119 261h0M88 219h0M96 216h0M115 219h0M104 228h0M127 254h0M128 216h0M125 248h0M84 244h0M85 252h0M91 208h0M129 210h0M101 269h0M134 221h0M88 252h0M96 259h0M126 236h0M137 242h0M91 264h0M82 259h0M98 252h0M121 255h0M117 257h0M93 254h0M121 212h0M106 271h0M127 213h0M92 256h0M98 229h0M120 233h0M91 235h0M134 224h0M117 252h0M112 254h0M111 204h0M108 211h0M112 210h0M111 244h0M104 259h0M132 220h0M113 225h0M131 257h0M121 268h0M94 212h0M85 262h0M92 215h0M107 260h0M116 242h0M100 230h0M94 245h0M120 210h0M94 265h0M137 250h0M91 232h0M115 212h0M136 247h0M110 268h0M107 260h0M88 236h0M122 244h0M129 206h0M107 246h0M111 270h0M128 242h0M120 230h0M127 219h0M108 212h0M121 263h0M129 232h0M92 212h0M121 233h0M129 213h0M108 213h0M105 267h0M81 255h0M116 238h0M137 241h0M111 195h0M95 242h0M110 195h0M136 226h0M101 219h0M118 255h0M84 243h0M108 262h0M126 267h0M133 230h0M105 241h0M135 244h0M109 253h0M106 268h0M120 230h0M98 267h0M103 255h0M117 222h0M125 247h0M102 228h0M112 223h0M91 243h0M114 257h0M119 263h0M115 235h0M85 213h0M97 260h0M124 215h0" stroke="#2cb8c4"/>
<path d="M126 262h0M132 235h0M127 232h0M120 227h0M97 251h0M133 252h0M112 246h0M127 250h0M129 269h0M102 261h0M94 242h0M94 252h0M128 215h0M93 215h0M108 243h0M129 243h0M94 267h0M105 221h0M117 245h0M107 239h0M95 265h0M132 251h0M132 219h0M112 244h0M119 229h0M86 259h0M119 248h0M110 228h0M93 261h0M113 274h0M117 215h0M99 217h0M105 248h0M107 248h0M110 243h0M91 252h0M137 245h0M134 244h0M114 243h0M114 227h0M114 235h0M118 248h0M116 216h0M109 230h0M119 232h0M117 215h0M96 251h0M108 214h0M85 266h0M127 255h0M89 236h0M91 247h0M129 243h0M85 232h0M127 239h0M114 266h0M130 216h0M115 233h0M126 251h0M88 243h0M133 236h0M124 214h0M87 210h0M93 261h0M96 241h0M130 265h0M117 233h0M111 223h0M112 214h0M88 251h0M114 244h0M107 264h0M104 267h0M118 229h0M128 230h0M116 246h0M96 261h0M126 267h0M89 263h0M130 247h0M98 222h0M123 255h0M128 224h0M104 250h0M96 262h0M123 256h0M117 267h0M102 238h0M94 238h0M112 218h0M100 240h0M108 235h0M123 210h0M86 251h0M112 258h0M128 212h0M134 243h0M87 261h0M90 261h0M103 267h0M89 263h0M117 253h0M101 266h0M97 237h0M96 252h0M109 245h0M127 244h0M114 247h0M121 222h0M138 247h0M126 248h0M106 262h0M104 247h0M90 237h0M139 248h0M98 261h0M134 243h0M125 260h0M122 224h0M131 242h0M133 218h0M117 238h0M86 253h0M118 242h0M89 255h0M109 245h0M93 269h0M127 220h0M129 250h0M95 238h0M121 270h0M106 230h0M123 259h0M115 257h0M129 236h0M115 216h0M124 233h0M129 252h0M111 252h0M130 223h0M94 264h0M98 264h0M102 262h0M86 269h0M125 219h0M100 227h0M130 235h0M118 221h0M94 256h0M89 260h0M125 262h0M117 243h0M132 240h0M123 257h0M112 267h0M113 265h0M102 237h0M108 268h0M111 212h0M93 268h0M119 230h0M129 258h0M115 246h0M90 239h0M89 253h0M122 252h0M90 270h0M109 250h0M112 263h0M113 225h0M106 225h0M129 262h0M95 267h0M120 216h0M101 227h0M113 217h0M90 231h0M114 225h0M130 221h0M109 254h0M100 221h0M121 264h0M107 255h0M118 256h0M120 233h0M121 233h0M119 215h0M133 253h0M100 222h0M119 226h0M119 251h0M111 260h0M96 249h0M99 263h0M92 234h0M119 251h0M106 253h0M107 216h0M121 217h0M101 223h0M128 231h0M128 230h0M87 241h0M108 261h0M99 263h0M90 261h0M131 240h0M101 225h0M109 242h0M124 217h0M124 231h0M115 235h0M89 246h0M107 249h0M106 228h0M89 250h0M93 265h0M94 258h0M109 261h0M123 234h0M117 224h0M111 220h0M107 266h0M120 238h0M94 250h0M128 236h0M91 245h0M112 227h0M108 258h0M99 245h0M118 238h0M118 252h0M93 240h0M103 270h0M120 259h0M121 232h0M118 239h0M113 261h0M131 251h0M125 253h0M117 246h0M111 260h0M118 260h0M115 226h0M132 247h0M132 249h0M122 247h0M87 248h0M123 217h0M96 262h0M125 262h0M97 262h0M105 249h0M96 250h0M85 253h0M92 243h0M91 267h0M114 246h0M105 254h0M107 221h0M116 242h0M102 254h0" stroke="#3cc45a"/>
<path d="M115 258h0M113 224h0M108 221h0M120 259h0M91 245h0M114 240h0M91 248h0M125 255h0M107 226h0M107 240h0M117 231h0M121 248h0M96 262h0M121 218h0M98 257h0M92 255h0M105 265h0M126 237h0M112 226h0M97 241h0M114 219h0M119 241h0M93 241h0M108 269h0M127 256h0M123 237h0M99 250h0M113 244h0M91 242h0M104 252h0M100 256h0M90 258h0M92 254h0M98 238h0M126 237h0M124 264h0M113 218h0M124 244h0M117 252h0M130 258h0M94 255h0M123 245h0M109 255h0M94 257h0M111 235h0M111 235h0M114 230h0M114 255h0M128 241h0M126 258h0M127 249h0M89 255h0M94 256h0M125 223h0M113 264h0M105 263h0M120 244h0M105 263h0M94 241h0M121 264h0M122 227h0M121 250h0M104 245h0M122 250h0M124 230h0M97 258h0M112 245h0M85 251h0M118 218h0M99 239h0M119 239h0M115 257h0M120 240h0M112 253h0M124 259h0M112 219h0M100 258h0M112 219h0M120 243h0M120 218h0M117 250h0M125 221h0M120 222h0M124 249h0M116 225h0M110 257h0M101 241h0M116 254h0M95 246h0M94 257h0M113 225h0M122 219h0M110 259h0M103 257h0M114 225h0M114 239h0M101 249h0M124 228h0" stroke="#b8d030"/>
<path d="M89 258h0M95 263h0M115 251h0M89 250h0M88 256h0M123 252h0M121 256h0M95 259h0M85 259h0M100 243h0M119 264h0M114 220h0M124 259h0M110 248h0M113 256h0M111 256h0M117 241h0M114 252h0M130 254h0M96 265h0M118 217h0M119 254h0M89 255h0M95 243h0M113 228h0M102 259h0M118 228h0M119 219h0M121 228h0M119 255h0M111 229h0M100 259h0M112 223h0M119 240h0M98 265h0M116 256h0M117 216h0M126 251h0M121 246h0M124 236h0M120 219h0M117 252h0M123 257h0M118 216h0M126 246h0M125 248h0M112 220h0M119 215h0M99 264h0M126 253h0M94 257h0" stroke="#f0a020"/>
<path d="M116 219h0M129 252h0M125 243h0M113 240h0M117 247h0M121 254h0M115 224h0M117 247h0M115 248h0M122 253h0M121 253h0M124 249h0M97 265h0M123 260h0M116 256h0M117 242h0M116 256h0M119 255h0M123 257h0M123 248h0M124 250h0M117 252h0" stroke="#ee4416"/>
</g>
<rect x="52.8" y="1221.4" width="146" height="150.6" fill="none" stroke="#333" stroke-width="0.9"/>
<text x="43.1" y="1232.4" font-size="12.3" text-anchor="end" fill="#222">250K</text>
<text x="43.1" y="1261.0" font-size="12.3" text-anchor="end" fill="#222">200K</text>
<text x="43.1" y="1289.5" font-size="12.3" text-anchor="end" fill="#222">150K</text>
<text x="43.1" y="1318.1" font-size="12.3" text-anchor="end" fill="#222">100K</text>
<text x="43.1" y="1346.6" font-size="12.3" text-anchor="end" fill="#222">50K</text>
<text x="43.1" y="1375.2" font-size="12.3" text-anchor="end" fill="#222">0</text>
<path d="M48.8 1228.1h4M48.8 1256.7h4M48.8 1285.2h4M48.8 1313.8h4M48.8 1342.3h4M48.8 1370.9h4M50.8 1233.8h2M50.8 1239.5h2M50.8 1245.2h2M50.8 1250.9h2M50.8 1262.4h2M50.8 1268.1h2M50.8 1273.8h2M50.8 1279.5h2M50.8 1290.9h2M50.8 1296.6h2M50.8 1302.4h2M50.8 1308.1h2M50.8 1319.5h2M50.8 1325.2h2M50.8 1330.9h2M50.8 1336.6h2M50.8 1348.1h2M50.8 1353.8h2M50.8 1359.5h2M50.8 1365.2h2M61.6 1372.0v4M85.8 1372.0v4M109.8 1372.0v4M149.4 1372.0v4M184.7 1372.0v4M64.5 1372.0v2M67.2 1372.0v2M69.6 1372.0v2M71.8 1372.0v2M73.7 1372.0v2M75.6 1372.0v2M77.6 1372.0v2M79.5 1372.0v2M81.4 1372.0v2M90.1 1372.0v2M92.0 1372.0v2M94.0 1372.0v2M95.9 1372.0v2M97.8 1372.0v2M99.7 1372.0v2M101.6 1372.0v2M103.6 1372.0v2M105.5 1372.0v2M107.4 1372.0v2M121.7 1372.0v2M128.7 1372.0v2M133.6 1372.0v2M137.5 1372.0v2M140.6 1372.0v2M143.3 1372.0v2M145.6 1372.0v2M147.6 1372.0v2M160.0 1372.0v2M166.2 1372.0v2M170.7 1372.0v2M174.1 1372.0v2M176.9 1372.0v2M179.2 1372.0v2M181.3 1372.0v2M183.1 1372.0v2M195.2 1372.0v2M59.2 1372.0v2M57.8 1372.0v2M56.8 1372.0v2M56.0 1372.0v2" stroke="#222" stroke-width="0.9" fill="none"/>
<rect x="83.4" y="1372.0" width="5.4" height="2.6" fill="#000"/>
<text x="58.8" y="1389.5" font-size="12" text-anchor="middle" fill="#222">-10<tspan dy="-4.5" font-size="8.5">3</tspan></text>
<text x="83.4" y="1389.5" font-size="12" text-anchor="middle" fill="#222">0</text>
<text x="109.4" y="1389.5" font-size="12" text-anchor="middle" fill="#222">10<tspan dy="-4.5" font-size="8.5">3</tspan></text>
<text x="149.5" y="1389.5" font-size="12" text-anchor="middle" fill="#222">10<tspan dy="-4.5" font-size="8.5">4</tspan></text>
<text x="186.3" y="1389.5" font-size="12" text-anchor="middle" fill="#222">10<tspan dy="-4.5" font-size="8.5">5</tspan></text>
<path d="M101.3 1372.0 L117.8 1267.2 L198.8 1267.2" stroke="#222" stroke-width="1" fill="none"/>
<text x="194.3" y="1255.7" font-size="24.7" text-anchor="end">64.9%</text>
<g transform="translate(250.7 1221.4) scale(.5)" stroke-width="1.9" stroke-linecap="square" fill="none">
<path d="M122 277h0M140 252h0M50 257h0M137 225h0M123 268h0M135 182h0M138 112h0M68 212h0M106 287h0M133 257h0M146 215h0M144 123h0M54 234h0M151 219h0M136 237h0M78 167h0M137 219h0M70 181h0M93 153h0M75 183h0M57 276h0M144 131h0M73 195h0M140 195h0M85 157h0M143 242h0M79 170h0M127 110h0M127 119h0M132 136h0M89 165h0M130 113h0M70 214h0M129 228h0M138 208h0M129 248h0M90 150h0M143 128h0M131 179h0M67 231h0M53 243h0M138 184h0M147 243h0M85 182h0M127 158h0M149 243h0M81 180h0M126 130h0M58 251h0M92 139h0M133 166h0M133 237h0M131 146h0M106 117h0M75 224h0M141 210h0M108 120h0M140 128h0M128 194h0M108 121h0M102 130h0M117 262h0M121 140h0M129 221h0M131 125h0M141 213h0M131 173h0M126 159h0M132 136h0M133 202h0M131 172h0M124 144h0M128 231h0M79 286h0M61 237h0M126 211h0M64 281h0M64 280h0M59 255h0M104 122h0M116 248h0M64 262h0M60 243h0M126 119h0M93 141h0M104 144h0M61 261h0M131 132h0M129 174h0M72 229h0M133 244h0M96 148h0M131 230h0M131 191h0M69 281h0M123 248h0M83 188h0M63 252h0M129 125h0M112 273h0M67 244h0M112 119h0M69 248h0M127 241h0M59 239h0M99 163h0M120 262h0M123 217h0M62 283h0M135 200h0M105 155h0M127 191h0M64 241h0M116 133h0M132 142h0M87 179h0M113 262h0M127 229h0M105 123h0M126 238h0M64 247h0M70 223h0M122 146h0M122 216h0M81 177h0M111 266h0M130 145h0M128 162h0M106 126h0M66 236h0M119 144h0M86 186h0M113 127h0M115 140h0M113 276h0M118 259h0M125 225h0M122 248h0M123 227h0M116 138h0M65 239h0M86 287h0M127 244h0M94 169h0M126 239h0M74 284h0M121 138h0M93 145h0M55 255h0M106 133h0M115 253h0M84 187h0M121 114h0M128 174h0M123 116h0M122 187h0M118 122h0M77 286h0M66 273h0M116 230h0M83 186h0M112 123h0M79 204h0M121 232h0M77 283h0M124 141h0M125 175h0M101 153h0M57 258h0M120 135h0M119 238h0M97 163h0M90 283h0M92 174h0M127 144h0M91 171h0M122 165h0M109 143h0M125 137h0M123 206h0M82 200h0M118 134h0M68 235h0M98 141h0M127 198h0M123 155h0M102 146h0M131 171h0M123 184h0M109 135h0M78 202h0M92 173h0M106 143h0M70 255h0M65 281h0M70 231h0M114 259h0M106 130h0M108 135h0M68 259h0M119 113h0M79 194h0M128 189h0M83 285h0M128 180h0M113 265h0M110 141h0M128 186h0M108 152h0M70 267h0M95 284h0M66 271h0M116 123h0M118 119h0M100 135h0M124 216h0M87 185h0M129 201h0M84 280h0M116 256h0M95 157h0M119 118h0M82 186h0M129 170h0M72 288h0M120 156h0M118 112h0M130 200h0M122 177h0M82 191h0M105 135h0M111 254h0M99 139h0M113 150h0M122 215h0M111 252h0M117 234h0M121 179h0M105 159h0M81 195h0M97 145h0M123 149h0M96 275h0M95 178h0M104 134h0M61 256h0M116 114h0M103 139h0M79 281h0M89 180h0M117 135h0M126 203h0M109 279h0M72 246h0M69 259h0M119 251h0M98 173h0M121 152h0M111 142h0M120 159h0M112 135h0M116 159h0M122 166h0M103 143h0M121 211h0M102 279h0M76 208h0M106 258h0M103 157h0M127 141h0M123 110h0M90 181h0M86 189h0M117 236h0M60 256h0M74 258h0M99 285h0M112 256h0M61 262h0M62 258h0M116 241h0M93 192h0M125 165h0M119 154h0M102 170h0M106 174h0M104 270h0M120 139h0M111 252h0M92 281h0M68 272h0M115 122h0M91 275h0M120 118h0M67 255h0M122 170h0M94 280h0M81 196h0M110 274h0M107 266h0M111 257h0M106 275h0M105 280h0M77 220h0M105 160h0M78 226h0M120 159h0M97 275h0M120 151h0M117 213h0M123 200h0M87 188h0M123 149h0M115 127h0M80 227h0M86 204h0M116 205h0M81 200h0M113 120h0M92 282h0M104 276h0M119 196h0M116 246h0M124 174h0M116 136h0M91 194h0M115 184h0M117 210h0M94 167h0M99 173h0M115 153h0M118 167h0M122 150h0M114 138h0M82 198h0M117 153h0M89 209h0M76 220h0M108 169h0M106 278h0M123 216h0M79 220h0M118 116h0M73 239h0M112 230h0M91 170h0M73 232h0M105 168h0M111 181h0M123 190h0M114 223h0M125 204h0M110 145h0M117 206h0M122 189h0M110 164h0M112 150h0M100 135h0M102 154h0M116 169h0M113 146h0M110 194h0M116 115h0M121 155h0M112 241h0M109 274h0M123 170h0M120 245h0M99 173h0M82 204h0M118 218h0M71 252h0M83 214h0M109 168h0M118 201h0M72 256h0M86 276h0M111 232h0M112 149h0M106 278h0M118 116h0M106 266h0M106 179h0M114 141h0M117 216h0M72 268h0M98 173h0M106 260h0M105 138h0M101 165h0M122 182h0M108 169h0M105 269h0M108 137h0M114 201h0M120 195h0M85 199h0M101 175h0M96 174h0M91 193h0M83 202h0M123 201h0M77 277h0M69 279h0M108 157h0M111 248h0M109 177h0M111 213h0M71 239h0M121 152h0M122 206h0M120 183h0M87 204h0M71 265h0M81 209h0M109 154h0M74 275h0M112 140h0M93 192h0M112 213h0M122 199h0M97 183h0M91 203h0M72 259h0M80 206h0M74 273h0M115 150h0M74 267h0M116 226h0M95 183h0M81 219h0M117 229h0M68 268h0M117 165h0M72 281h0M117 163h0M104 158h0M87 284h0M72 252h0M94 179h0M109 173h0M75 274h0M79 273h0M117 230h0M65 269h0M103 160h0M117 232h0M73 246h0M109 160h0M75 261h0M115 238h0M103 267h0M91 280h0M95 166h0M88 197h0M120 184h0M116 163h0M111 185h0M85 280h0M76 277h0M111 231h0M114 236h0M92 193h0M112 246h0M116 178h0M88 284h0M108 150h0M95 182h0M111 242h0M117 221h0M115 178h0M89 198h0M86 275h0M113 150h0M103 157h0M118 172h0M116 153h0M101 260h0M119 207h0M73 284h0M84 276h0M115 140h0M114 240h0M122 155h0M104 161h0M97 167h0M116 184h0M117 176h0M115 215h0M103 177h0M114 139h0M111 204h0M87 275h0M110 219h0M102 163h0M114 201h0M104 159h0M88 203h0M98 272h0M85 212h0M113 186h0M97 271h0M124 210h0M73 241h0M90 208h0M113 148h0M115 234h0M100 167h0M78 235h0M89 212h0M97 187h0M108 145h0M79 275h0M106 189h0M90 182h0M74 282h0M100 181h0M113 165h0M78 270h0M118 172h0M106 153h0M74 281h0M112 226h0M114 198h0M91 188h0M120 171h0M73 261h0M101 156h0M118 165h0M110 212h0M102 172h0M89 272h0M110 243h0M111 238h0M81 208h0M91 196h0M112 216h0M115 157h0M113 217h0M100 259h0M75 248h0M82 218h0M104 187h0M109 157h0M80 235h0M100 263h0M112 192h0M107 184h0M99 194h0M96 191h0M104 174h0M111 191h0M99 174h0M80 233h0M97 197h0M105 269h0M114 146h0M114 159h0M87 209h0M95 186h0M115 176h0M100 261h0M112 182h0M97 182h0M115 163h0M72 276h0M116 151h0M108 243h0M96 276h0M80 283h0M106 192h0M71 252h0M113 236h0M111 248h0M108 142h0M76 232h0M111 152h0M112 175h0M109 237h0M85 229h0M110 211h0M103 171h0M113 160h0M117 207h0M102 278h0M124 181h0M125 184h0M96 189h0M72 246h0M105 142h0M120 205h0M118 171h0M114 253h0M111 195h0M81 223h0M81 211h0M111 168h0M103 189h0M111 162h0M80 283h0M82 204h0M76 236h0M111 221h0M116 204h0M70 264h0M109 167h0M81 216h0M87 211h0M85 279h0M116 193h0M83 200h0M82 207h0M106 254h0M107 165h0M101 194h0M94 282h0M111 195h0M112 192h0M111 171h0M115 214h0M103 175h0M112 189h0M97 273h0M119 189h0M114 183h0M76 249h0M74 247h0M103 180h0M112 149h0M113 211h0M82 224h0M112 186h0M73 258h0M103 262h0M107 156h0M98 183h0M116 212h0M91 182h0M77 282h0M85 210h0M91 195h0M76 230h0M85 236h0M104 270h0M101 251h0M86 282h0M112 226h0M112 209h0M116 172h0M114 154h0M100 258h0M95 168h0M73 278h0M88 277h0M108 165h0M70 250h0M101 193h0M106 247h0M107 258h0M81 273h0M105 164h0M71 270h0M113 219h0M113 175h0M117 207h0M73 269h0M82 215h0M90 204h0M85 210h0M114 203h0M83 226h0M76 221h0M101 254h0M116 180h0M93 198h0M118 185h0M106 244h0M84 237h0M73 272h0M85 237h0M86 271h0M114 153h0M85 238h0M72 261h0M93 194h0M87 276h0M111 200h0M109 161h0M80 222h0M100 198h0M107 197h0M113 217h0M110 156h0M109 259h0M107 236h0M103 266h0M118 220h0M112 206h0M94 186h0M116 166h0M108 225h0M87 204h0M109 263h0M117 164h0M116 220h0M104 162h0M88 204h0M107 207h0M96 189h0M93 205h0M104 274h0M92 190h0M103 169h0M80 273h0M117 164h0M84 243h0M88 273h0M91 208h0M79 258h0M79 278h0M96 197h0M111 198h0M95 172h0M79 241h0M106 184h0M104 196h0M94 277h0M89 273h0M90 196h0M115 170h0M111 183h0M95 190h0M79 279h0M109 172h0M89 219h0M96 214h0M105 214h0M88 205h0M117 162h0M117 199h0M111 180h0M82 210h0M108 223h0M105 172h0M106 212h0M84 284h0M104 191h0M98 194h0M94 204h0M78 228h0M101 268h0M94 212h0M97 273h0M101 181h0M87 276h0M86 208h0M112 230h0M114 208h0M73 273h0M77 238h0M83 223h0M118 194h0M89 217h0M101 195h0M101 199h0M111 219h0M100 185h0M114 164h0M106 241h0M94 203h0M119 199h0M108 181h0M94 220h0M75 278h0M83 243h0M105 247h0M99 273h0M116 195h0M114 228h0M96 194h0M84 229h0M109 234h0M105 245h0M112 220h0M99 174h0M77 270h0M106 241h0M110 210h0M114 206h0M99 211h0M77 260h0M93 278h0M106 244h0M105 165h0M90 200h0M104 168h0M106 229h0M100 193h0M111 187h0M115 171h0M94 204h0M81 278h0M117 170h0M98 195h0M106 179h0M104 250h0M95 193h0M112 236h0M102 242h0M83 228h0M111 203h0M108 165h0M106 179h0M99 275h0M112 201h0M109 220h0M102 186h0M119 179h0M83 229h0M118 185h0M74 250h0M102 195h0M78 234h0M105 177h0M85 199h0M108 215h0M103 271h0M101 204h0M105 158h0M103 208h0M117 190h0M84 234h0M82 268h0M95 260h0M112 191h0M107 172h0M110 231h0M119 187h0M85 218h0M80 243h0M115 182h0M104 183h0M102 192h0M112 219h0M83 245h0M77 256h0M103 186h0M109 221h0M84 230h0M103 260h0M97 192h0M95 178h0M100 220h0M84 212h0M78 267h0M79 241h0M90 213h0M112 192h0M99 180h0M97 204h0M73 259h0M119 200h0M103 186h0M101 257h0M96 177h0M105 179h0M81 213h0M101 180h0M111 206h0M102 199h0M85 276h0M95 219h0M78 277h0M114 217h0M112 216h0M113 167h0M77 261h0M113 157h0M106 242h0M105 161h0M111 231h0M79 246h0M89 276h0M104 253h0M81 275h0M117 188h0M101 188h0M79 273h0M111 171h0M96 203h0M78 260h0M111 169h0M111 196h0M104 207h0M84 229h0M103 273h0M109 231h0M106 248h0M80 254h0M111 170h0M104 181h0M108 199h0M71 264h0M85 202h0M83 229h0M104 263h0M96 194h0M114 226h0M114 191h0M112 208h0M103 187h0M109 190h0M102 218h0M109 197h0M103 179h0M77 265h0M104 256h0M72 254h0M86 203h0M106 240h0M100 263h0M103 217h0M70 267h0M108 166h0M98 256h0M87 238h0M99 209h0M107 200h0M85 213h0M103 224h0M88 220h0M79 275h0M101 265h0M94 218h0M103 202h0M100 273h0M101 244h0M82 240h0M88 276h0M114 166h0M76 264h0M108 215h0M75 274h0M115 191h0M109 250h0M111 239h0M114 170h0M105 204h0M96 184h0M113 173h0M81 215h0M113 193h0M97 210h0M105 215h0M89 234h0M109 192h0M88 278h0M89 237h0M116 203h0M90 211h0M112 187h0M84 220h0M107 225h0M109 235h0M80 221h0M82 242h0M110 188h0M97 201h0M112 177h0M95 259h0M112 164h0M104 209h0M85 263h0M113 169h0M84 235h0M85 227h0M103 200h0M78 273h0M87 268h0M83 250h0M104 235h0M86 216h0M97 182h0M105 223h0M110 220h0M108 233h0M86 269h0M98 207h0M104 173h0M111 181h0M89 216h0M89 230h0M82 228h0M116 187h0M92 223h0M97 201h0M107 230h0M113 178h0M112 180h0M78 234h0M95 268h0M107 225h0M112 174h0M79 257h0M102 211h0M85 212h0M82 247h0M97 211h0M99 181h0M105 224h0M80 269h0M102 233h0M108 247h0M107 185h0M112 181h0M104 214h0M110 196h0M102 219h0M88 233h0M113 229h0M110 167h0M104 200h0M102 221h0M93 274h0M86 228h0M89 238h0M80 272h0M89 215h0M104 255h0M101 232h0M108 205h0M86 234h0M102 263h0M78 235h0M107 194h0M81 247h0M93 203h0M98 239h0M112 169h0M77 262h0M79 241h0M88 279h0M85 200h0M77 238h0M83 212h0M100 186h0M102 264h0M109 214h0M78 240h0M106 232h0M110 213h0M83 241h0M84 258h0M75 251h0M106 192h0M105 232h0M85 277h0M113 221h0M83 219h0M97 270h0M82 277h0M89 266h0M89 221h0M99 252h0M107 250h0M106 193h0M80 232h0M83 243h0M107 179h0M103 229h0M76 245h0M86 227h0M112 208h0M99 257h0M95 199h0M100 212h0M93 269h0M100 267h0M95 221h0M100 208h0M104 186h0M98 255h0M91 275h0M75 260h0M89 228h0M97 215h0M82 250h0M98 224h0M113 227h0M102 217h0M101 232h0M94 217h0M102 251h0M77 267h0M79 248h0M106 237h0M104 209h0M97 187h0M104 229h0M105 183h0M80 269h0M78 265h0M113 218h0M107 192h0M105 254h0M104 188h0M113 203h0M112 185h0M106 233h0M95 242h0M106 183h0M105 183h0M106 184h0M78 259h0M85 279h0M104 203h0M103 243h0M94 222h0M89 224h0M106 236h0M94 230h0M113 209h0M92 237h0M91 231h0M104 212h0M78 253h0M104 247h0M77 272h0M98 237h0M94 208h0M86 244h0M95 239h0M80 255h0M103 204h0M87 248h0M96 269h0M106 202h0M80 247h0M86 274h0M99 267h0M99 212h0M103 218h0M107 183h0M98 261h0M89 246h0M104 186h0M82 240h0M83 244h0M78 274h0M97 242h0M100 251h0M105 206h0M93 204h0M113 209h0M108 243h0M112 194h0M91 241h0M93 240h0M96 209h0M93 210h0M107 194h0M88 234h0M97 218h0M113 199h0M108 207h0M106 182h0M99 206h0M104 196h0M104 189h0M96 191h0M84 261h0M99 206h0M105 240h0M108 192h0M88 213h0M102 237h0M81 272h0M84 239h0M106 193h0M100 191h0M91 271h0M105 246h0M79 256h0M102 203h0M112 193h0M104 183h0M87 237h0M83 255h0M76 235h0M86 268h0M105 218h0M88 213h0M78 254h0M77 241h0M85 263h0M91 199h0M95 273h0M89 231h0M81 256h0M93 213h0M100 275h0M97 235h0M100 200h0M102 266h0M86 265h0M83 233h0M87 213h0M105 212h0M91 196h0M88 246h0M86 228h0M97 194h0M113 197h0M84 267h0M97 204h0M82 237h0M109 245h0M81 216h0M101 269h0M79 253h0M85 265h0M86 270h0M96 243h0M95 201h0M102 257h0M103 233h0M82 259h0M79 263h0M84 235h0M100 248h0M101 214h0M100 230h0M96 252h0M79 273h0M96 242h0M95 228h0M93 263h0M100 248h0M94 239h0M113 219h0M88 260h0M85 228h0M94 229h0M93 232h0M105 208h0M82 229h0M104 218h0M100 189h0M84 229h0M101 212h0M76 248h0M100 249h0M93 214h0M81 227h0M86 231h0M100 243h0M84 265h0M99 222h0M90 210h0M89 260h0" stroke="#2a2af2"/>
<path d="M80 239h0M92 266h0M113 202h0M98 202h0M83 263h0M96 220h0M105 186h0M104 249h0M109 221h0M96 216h0M111 217h0M102 212h0M91 243h0M86 256h0M84 244h0M95 217h0M99 253h0M97 264h0M91 217h0M84 275h0M95 229h0M87 225h0M96 204h0M107 230h0M104 188h0M95 250h0M102 202h0M84 268h0M108 229h0M85 269h0M85 219h0M80 249h0M98 266h0M83 239h0M104 262h0M102 241h0M88 266h0M92 254h0M104 221h0M105 213h0M81 246h0M102 206h0M95 265h0M86 227h0M86 239h0M85 216h0M87 263h0M93 232h0M86 266h0M93 269h0M93 249h0M87 240h0M109 207h0M109 237h0M109 208h0M102 196h0M91 229h0M97 264h0M103 232h0M105 211h0M84 268h0M95 267h0M106 205h0M88 236h0M90 267h0M93 267h0M97 223h0M95 269h0M87 211h0M104 253h0M95 203h0M93 265h0M102 187h0M99 272h0M99 233h0M100 243h0M96 219h0M80 249h0M88 227h0M84 261h0M104 197h0M82 255h0M96 248h0M88 234h0M96 253h0M90 245h0M99 267h0M89 232h0M84 247h0M99 239h0M98 275h0M81 246h0M97 273h0M110 232h0M99 197h0M103 265h0M105 207h0M101 260h0M84 223h0M96 251h0M104 263h0M100 198h0M91 256h0M104 217h0M104 198h0M95 256h0M77 247h0M106 228h0M107 241h0M79 248h0M93 257h0M101 258h0M91 246h0M95 261h0M100 223h0M76 262h0M91 251h0M92 273h0M83 272h0M104 193h0M97 266h0M80 266h0M104 228h0M95 269h0M80 265h0M92 272h0M87 251h0M107 219h0M80 250h0M89 233h0M104 188h0M101 203h0M105 187h0M99 215h0M81 222h0M99 238h0M83 234h0M83 224h0M85 220h0M80 247h0M97 207h0M91 221h0M86 232h0M93 250h0M99 241h0M100 213h0M93 257h0M87 268h0M94 215h0M87 260h0M96 238h0M88 256h0M94 262h0M91 243h0M98 266h0M107 191h0M82 234h0M80 260h0M104 200h0M88 219h0M88 257h0M92 243h0M88 263h0M88 226h0M87 238h0M89 257h0M97 212h0M103 193h0M98 209h0M97 264h0M82 235h0M80 258h0M108 234h0M99 221h0M108 237h0M93 227h0M99 249h0M94 215h0M105 225h0M108 242h0M90 216h0M100 213h0M76 261h0M102 239h0M101 224h0M106 228h0M84 235h0M93 259h0M75 248h0M90 239h0M83 250h0M82 247h0M107 203h0M104 215h0M82 269h0M82 243h0M103 250h0M96 217h0M98 231h0M99 243h0M80 266h0M90 212h0M104 231h0M78 245h0M84 261h0M99 230h0M102 248h0M92 228h0M93 269h0M79 249h0M92 238h0M101 257h0M76 266h0M94 265h0M96 228h0M88 264h0M84 272h0M98 216h0M104 210h0M78 267h0M103 189h0M100 237h0M89 249h0M84 254h0M96 253h0M94 216h0M99 248h0M100 239h0M100 239h0M81 230h0M102 219h0M99 220h0M87 234h0M106 200h0M96 246h0M91 236h0M89 228h0M97 219h0M93 234h0M93 263h0M79 255h0M85 220h0M101 222h0M98 205h0M83 228h0M96 246h0M98 264h0M98 253h0M106 218h0M87 247h0M103 202h0M91 239h0M95 252h0M89 238h0M96 251h0M86 270h0M100 197h0M107 229h0M95 270h0M85 252h0M75 247h0M97 248h0M83 253h0M104 198h0M107 209h0M103 204h0M98 225h0M80 234h0M86 251h0M84 258h0M90 222h0M100 219h0M78 262h0M100 226h0M91 264h0M108 206h0M83 248h0M86 242h0M91 251h0M106 208h0M102 193h0M84 261h0M101 194h0M81 263h0M86 232h0M103 233h0M100 227h0M88 272h0M109 226h0M94 260h0M106 214h0M102 211h0M96 220h0M104 242h0M101 186h0M101 190h0M93 240h0M86 245h0M100 208h0M98 250h0M95 270h0M98 265h0M88 241h0M95 214h0M88 239h0M93 220h0M85 265h0M102 209h0M93 222h0M100 262h0M105 223h0M105 204h0M91 244h0M100 203h0M102 228h0" stroke="#2f74f5"/>
<path d="M86 216h0M78 257h0M90 242h0M84 233h0M92 267h0M87 228h0M109 228h0M92 265h0M98 248h0M104 204h0M107 199h0M107 223h0M84 266h0M101 205h0M98 253h0M88 215h0M98 201h0M103 240h0M94 220h0M92 213h0M97 241h0M89 238h0M105 219h0M77 257h0M87 267h0M109 230h0M93 215h0M97 265h0M103 240h0M89 253h0M109 218h0M103 234h0M106 192h0M82 261h0M108 196h0M100 256h0M80 254h0M93 229h0M102 240h0M84 252h0M99 204h0M102 224h0M104 222h0M107 212h0M90 268h0M93 259h0M88 247h0M95 238h0M96 253h0M80 261h0M106 207h0M85 252h0M90 211h0M98 241h0M86 266h0M88 262h0M82 267h0M90 248h0M92 268h0M103 242h0M87 225h0M104 204h0M86 227h0M102 199h0M97 202h0M94 211h0M84 258h0M99 263h0M104 238h0M85 248h0M98 245h0M108 224h0M88 229h0M80 239h0M85 254h0M103 244h0M95 248h0M95 222h0M109 204h0M94 228h0M88 245h0M97 222h0M91 268h0M101 212h0M86 257h0M85 226h0M103 239h0M100 224h0M109 220h0M85 258h0M85 231h0M97 212h0M106 227h0M105 221h0M107 220h0M87 268h0M82 261h0M104 228h0M107 212h0M100 203h0M106 212h0M96 234h0M93 219h0M84 265h0M92 245h0M88 265h0M90 231h0M89 221h0M103 219h0M89 224h0M98 252h0M91 265h0M90 222h0M95 257h0M101 209h0M90 235h0M99 247h0M103 238h0M104 205h0M95 261h0M104 219h0M105 203h0M93 230h0M81 254h0M104 253h0M84 232h0M100 238h0M92 249h0M80 256h0M92 228h0M96 258h0M98 266h0M97 245h0M96 213h0M88 247h0M107 234h0M86 218h0M83 249h0M89 241h0M100 199h0M99 220h0M101 251h0M94 245h0M109 205h0M84 234h0M105 232h0M106 202h0M100 227h0M101 214h0M102 215h0M99 226h0M85 242h0M85 270h0M94 256h0M94 262h0M83 248h0M90 253h0M83 268h0M107 217h0M91 250h0M82 253h0M93 253h0M106 203h0M88 256h0M101 226h0M88 241h0M99 201h0M93 259h0M92 262h0M100 255h0M108 205h0M99 261h0M104 201h0M104 229h0M80 240h0M86 216h0M101 250h0M86 251h0M94 267h0M101 237h0M85 263h0M96 203h0M85 262h0M99 236h0M94 258h0M106 203h0M87 222h0M94 234h0M105 197h0M80 252h0M86 258h0M81 269h0M93 235h0M87 257h0M95 226h0M103 235h0M93 216h0M103 213h0M100 228h0M98 232h0M98 234h0M90 226h0M97 210h0M93 252h0M92 236h0M97 266h0M104 238h0M103 202h0M83 241h0M101 241h0M91 246h0M103 203h0M96 228h0M101 225h0M100 199h0M96 268h0M98 228h0M92 233h0M100 198h0M101 213h0M96 226h0M98 212h0M102 229h0M88 227h0M101 211h0M96 247h0M81 248h0M90 221h0M89 224h0M103 200h0M81 256h0M86 228h0M93 245h0M109 214h0M90 242h0M86 270h0M89 235h0M92 231h0M84 245h0M83 253h0M96 242h0M93 233h0M98 245h0M97 233h0M82 257h0M95 216h0M83 244h0M93 247h0" stroke="#2cb8c4"/>
<path d="M96 249h0M93 230h0M94 216h0M104 207h0M91 245h0M87 257h0M103 247h0M92 244h0M83 257h0M94 216h0M90 268h0M90 261h0M104 244h0M97 224h0M107 210h0M86 248h0M93 218h0M94 219h0M90 238h0M93 224h0M88 267h0M96 241h0M83 242h0M85 248h0M109 212h0M104 237h0M96 248h0M88 242h0M97 216h0M95 253h0M87 243h0M101 221h0M96 235h0M104 249h0M92 225h0M95 252h0M82 243h0M82 251h0M104 222h0M102 225h0M94 252h0M83 263h0M90 236h0M97 247h0M100 212h0M82 255h0M83 257h0M101 209h0M93 244h0M104 226h0M99 260h0M91 241h0M102 205h0M82 251h0M97 264h0M93 234h0M90 257h0M81 255h0M99 228h0M104 211h0M103 212h0M97 235h0M97 228h0M90 229h0M92 261h0M94 237h0M88 245h0M87 267h0M101 210h0M93 245h0M99 220h0M99 225h0M100 247h0M84 253h0M90 227h0M86 239h0M102 241h0M104 211h0M101 214h0M86 244h0M85 230h0M101 228h0M96 229h0M97 215h0M91 255h0M104 237h0M81 247h0M100 231h0M103 226h0M101 241h0M96 230h0M90 260h0M96 253h0M93 220h0M88 249h0M90 223h0M100 242h0M90 226h0M103 225h0M102 216h0M95 232h0M89 255h0M88 249h0M94 248h0M103 218h0M93 268h0M102 241h0M103 210h0M89 228h0M92 258h0M97 254h0M94 258h0M100 237h0M89 255h0M85 270h0M104 209h0M88 268h0M101 228h0M93 225h0M97 223h0M99 229h0M90 265h0M90 222h0M101 217h0M85 263h0M84 251h0M100 240h0M103 241h0M84 248h0M96 234h0M102 229h0M94 241h0M98 227h0M97 253h0M93 235h0M93 247h0M92 236h0M91 249h0M98 243h0M87 256h0M96 220h0M92 240h0M94 246h0M99 255h0M102 237h0M93 248h0M87 257h0M89 258h0M104 237h0M87 228h0M102 233h0M93 222h0M102 225h0M100 226h0M104 209h0M89 269h0M93 248h0M96 259h0M104 237h0M87 264h0M83 255h0M89 260h0M88 234h0M91 253h0M93 260h0M95 248h0M103 245h0M91 256h0M85 265h0M81 259h0M99 251h0M93 263h0M83 250h0M104 225h0M92 220h0M82 260h0M91 225h0M100 239h0M91 264h0M90 264h0M86 260h0M87 239h0M104 223h0M100 226h0M93 226h0M89 226h0M93 250h0M85 243h0M91 244h0M96 248h0M88 236h0M101 230h0M87 263h0M91 232h0M97 216h0M91 224h0M92 236h0M91 253h0M87 256h0M81 253h0M88 256h0M84 254h0M94 238h0M92 261h0M80 259h0M92 233h0M88 247h0M98 237h0M90 241h0M103 223h0M91 226h0M89 250h0M99 227h0M91 264h0M95 242h0M93 232h0M98 252h0M87 251h0M102 226h0M102 225h0M90 230h0M94 262h0M92 225h0M85 263h0M90 259h0M97 247h0M99 231h0M94 229h0M87 262h0M101 228h0M94 221h0M100 225h0M81 265h0M103 233h0M86 262h0M93 233h0M93 253h0M100 228h0M92 243h0M89 260h0M92 230h0M95 253h0M81 255h0M98 226h0M91 262h0M94 235h0M99 230h0M92 236h0M99 230h0M96 255h0M91 236h0M97 226h0M103 230h0M94 223h0M93 226h0M93 227h0M95 247h0M90 230h0M99 249h0" stroke="#3cc45a"/>
<path d="M97 250h0M92 263h0M96 231h0M95 234h0M82 251h0M90 244h0M94 228h0M93 229h0M91 221h0M98 232h0M101 228h0M99 254h0M95 226h0M86 257h0M89 229h0M94 251h0M84 263h0M86 236h0M97 227h0M94 265h0M89 264h0M91 248h0M94 233h0M92 244h0M92 258h0M102 228h0M97 227h0M80 256h0M94 247h0M99 255h0M95 255h0M84 262h0M89 264h0M94 241h0M91 258h0M86 252h0M99 244h0M98 243h0M92 221h0M81 260h0M84 257h0M96 241h0M94 250h0M87 241h0M89 254h0M95 245h0M93 242h0M92 222h0M87 255h0M91 255h0M98 231h0M93 233h0M94 243h0M88 245h0M91 256h0M100 240h0M95 246h0M97 255h0M95 247h0M82 255h0M97 234h0M90 254h0M84 258h0M87 257h0M93 265h0M96 224h0M89 246h0M99 238h0M96 245h0M97 231h0M98 242h0M85 256h0M91 228h0M94 241h0M96 230h0M91 253h0M95 257h0M84 255h0M99 225h0M92 239h0M94 236h0M91 261h0M100 225h0M91 232h0M96 243h0M99 239h0M97 231h0M82 255h0M90 247h0M93 245h0M89 265h0M91 256h0M93 233h0M90 246h0M99 234h0M99 252h0" stroke="#b8d030"/>
<path d="M92 232h0M91 250h0M98 231h0M91 231h0M92 260h0M95 257h0M91 261h0M88 252h0M93 226h0M87 264h0M88 246h0M94 237h0M95 245h0M96 240h0M88 262h0M96 251h0M86 263h0M86 252h0M92 240h0M98 248h0M88 251h0M95 264h0M93 245h0M94 244h0M92 230h0M86 259h0M97 230h0M97 229h0M86 255h0M90 250h0M92 246h0M95 242h0M94 255h0M95 255h0M95 240h0M94 250h0M95 235h0M93 253h0M86 255h0M86 250h0M92 259h0M95 252h0M99 244h0M97 249h0M85 258h0M88 262h0M92 243h0M92 259h0M94 258h0M93 259h0" stroke="#f0a020"/>
<path d="M91 245h0M95 249h0M95 254h0M93 242h0M88 258h0M85 256h0M95 253h0M88 254h0M94 259h0M86 258h0M90 257h0M90 255h0M92 248h0M93 252h0M87 258h0M89 256h0M90 251h0M94 248h0M88 257h0M92 249h0M90 258h0M94 246h0" stroke="#ee4416"/>
</g>
<rect x="250.7" y="1221.4" width="146" height="150.6" fill="none" stroke="#333" stroke-width="0.9"/>
<text x="244.0" y="1232.4" font-size="12.3" text-anchor="end" fill="#222">250K</text>
<text x="244.0" y="1261.0" font-size="12.3" text-anchor="end" fill="#222">200K</text>
<text x="244.0" y="1289.5" font-size="12.3" text-anchor="end" fill="#222">150K</text>
<text x="244.0" y="1318.1" font-size="12.3" text-anchor="end" fill="#222">100K</text>
<text x="244.0" y="1346.6" font-size="12.3" text-anchor="end" fill="#222">50K</text>
<text x="244.0" y="1375.2" font-size="12.3" text-anchor="end" fill="#222">0</text>
<path d="M246.7 1228.1h4M246.7 1256.7h4M246.7 1285.2h4M246.7 1313.8h4M246.7 1342.3h4M246.7 1370.9h4M248.7 1233.8h2M248.7 1239.5h2M248.7 1245.2h2M248.7 1250.9h2M248.7 1262.4h2M248.7 1268.1h2M248.7 1273.8h2M248.7 1279.5h2M248.7 1290.9h2M248.7 1296.6h2M248.7 1302.4h2M248.7 1308.1h2M248.7 1319.5h2M248.7 1325.2h2M248.7 1330.9h2M248.7 1336.6h2M248.7 1348.1h2M248.7 1353.8h2M248.7 1359.5h2M248.7 1365.2h2M259.5 1372.0v4M283.7 1372.0v4M307.7 1372.0v4M347.3 1372.0v4M382.6 1372.0v4M262.4 1372.0v2M265.1 1372.0v2M267.5 1372.0v2M269.7 1372.0v2M271.6 1372.0v2M273.6 1372.0v2M275.5 1372.0v2M277.4 1372.0v2M279.4 1372.0v2M288.1 1372.0v2M290.0 1372.0v2M291.9 1372.0v2M293.8 1372.0v2M295.7 1372.0v2M297.7 1372.0v2M299.6 1372.0v2M301.5 1372.0v2M303.4 1372.0v2M305.3 1372.0v2M319.7 1372.0v2M326.6 1372.0v2M331.6 1372.0v2M335.4 1372.0v2M338.6 1372.0v2M341.2 1372.0v2M343.5 1372.0v2M345.5 1372.0v2M358.0 1372.0v2M364.2 1372.0v2M368.6 1372.0v2M372.0 1372.0v2M374.8 1372.0v2M377.2 1372.0v2M379.2 1372.0v2M381.0 1372.0v2M393.1 1372.0v2M257.1 1372.0v2M255.7 1372.0v2M254.7 1372.0v2M253.9 1372.0v2" stroke="#222" stroke-width="0.9" fill="none"/>
<rect x="281.3" y="1372.0" width="5.4" height="2.6" fill="#000"/>
<text x="259.1" y="1389.5" font-size="12" text-anchor="middle" fill="#222">-10<tspan dy="-4.5" font-size="8.5">3</tspan></text>
<text x="283.7" y="1389.5" font-size="12" text-anchor="middle" fill="#222">0</text>
<text x="309.7" y="1389.5" font-size="12" text-anchor="middle" fill="#222">10<tspan dy="-4.5" font-size="8.5">3</tspan></text>
<text x="349.8" y="1389.5" font-size="12" text-anchor="middle" fill="#222">10<tspan dy="-4.5" font-size="8.5">4</tspan></text>
<text x="386.6" y="1389.5" font-size="12" text-anchor="middle" fill="#222">10<tspan dy="-4.5" font-size="8.5">5</tspan></text>
<path d="M299.2 1372.0 L315.7 1267.2 L396.7 1267.2" stroke="#222" stroke-width="1" fill="none"/>
<text x="392.2" y="1255.7" font-size="24.7" text-anchor="end">15.7%</text>
<g transform="translate(448.7 1221.4) scale(.5)" stroke-width="1.9" stroke-linecap="square" fill="none">
<path d="M61 156h0M223 236h0M231 242h0M211 193h0M174 280h0M155 122h0M84 132h0M191 169h0M73 155h0M222 209h0M183 189h0M78 286h0M177 160h0M175 202h0M211 208h0M55 225h0M47 276h0M60 171h0M184 171h0M145 155h0M153 155h0M221 269h0M111 128h0M199 184h0M141 137h0M48 239h0M74 192h0M197 198h0M116 125h0M130 116h0M83 111h0M85 115h0M174 173h0M62 209h0M152 138h0M160 183h0M202 276h0M156 171h0M92 132h0M142 147h0M224 261h0M88 145h0M71 177h0M85 151h0M203 205h0M186 172h0M186 185h0M100 133h0M79 165h0M219 205h0M123 144h0M194 191h0M43 272h0M221 247h0M77 203h0M57 264h0M63 272h0M69 200h0M102 149h0M170 184h0M174 183h0M120 138h0M204 201h0M81 285h0M59 220h0M115 134h0M63 224h0M74 184h0M74 204h0M81 172h0M142 157h0M172 202h0M188 201h0M168 177h0M74 281h0M114 132h0M96 159h0M102 165h0M127 137h0M168 209h0M110 136h0M63 236h0M149 165h0M84 137h0M97 136h0M101 125h0M81 158h0M217 226h0M98 133h0M84 198h0M129 118h0M105 117h0M159 221h0M94 123h0M91 130h0M66 205h0M109 154h0M105 145h0M65 237h0M138 161h0M89 168h0M214 246h0M113 138h0M128 159h0M101 176h0M69 214h0M189 213h0M142 165h0M191 279h0M167 180h0M68 278h0M142 175h0M73 272h0M190 196h0M93 152h0M85 203h0M216 240h0M64 258h0M68 274h0M100 171h0M70 264h0M119 281h0M139 137h0M95 282h0M215 241h0M162 219h0M127 147h0M212 265h0M148 144h0M105 148h0M92 135h0M203 216h0M220 262h0M143 148h0M147 273h0M190 213h0M161 271h0M161 190h0M110 287h0M146 167h0M104 119h0M82 136h0M111 152h0M102 156h0M156 198h0M182 217h0M96 121h0M189 202h0M108 158h0M129 142h0M88 173h0M86 150h0M65 245h0M91 280h0M92 170h0M140 174h0M63 252h0M169 181h0M212 242h0M196 189h0M134 140h0M95 169h0M196 190h0M138 276h0M158 178h0M73 204h0M155 195h0M116 163h0M151 214h0M129 167h0M159 274h0M151 208h0M219 246h0M60 265h0M188 277h0M56 250h0M96 123h0M194 195h0M91 283h0M185 215h0M155 190h0M95 153h0M105 145h0M148 176h0M156 177h0M174 216h0M67 228h0M116 141h0M71 211h0M188 206h0M145 186h0M181 209h0M75 210h0M170 220h0M69 275h0M67 235h0M101 170h0M64 259h0M65 249h0M63 232h0M213 258h0M105 181h0M189 275h0M119 160h0M146 181h0M87 177h0M85 195h0M69 248h0M90 167h0M138 177h0M157 233h0M172 217h0M125 163h0M132 170h0M161 209h0M102 185h0M146 229h0M76 277h0M147 196h0M134 125h0M153 196h0M79 213h0M112 173h0M68 229h0M184 210h0M88 181h0M101 166h0M69 264h0M186 201h0M151 235h0M115 157h0M95 185h0M150 266h0M143 204h0M72 218h0M113 135h0M89 186h0M165 198h0M167 188h0M153 248h0M144 187h0M93 172h0M108 141h0M142 214h0M74 239h0M79 214h0M80 177h0M138 122h0M120 169h0M147 199h0M64 246h0M162 270h0M160 267h0M133 159h0M93 282h0M107 163h0M204 246h0M160 244h0M164 260h0M148 268h0M146 183h0M64 234h0M132 176h0M158 216h0M150 275h0M159 200h0M203 237h0M198 237h0M206 233h0M207 266h0M181 209h0M111 187h0M91 155h0M131 181h0M114 142h0M73 221h0M104 162h0M117 172h0M200 266h0M168 270h0M203 226h0M138 184h0M165 260h0M98 155h0M154 256h0M154 182h0M93 283h0M75 272h0M169 273h0M78 277h0M93 161h0M135 189h0M149 274h0M145 190h0M76 187h0M142 210h0M165 251h0M133 275h0M144 188h0M128 134h0M76 283h0M170 273h0M142 219h0M95 199h0M133 130h0M129 186h0M134 171h0M148 218h0M71 253h0M164 235h0M79 201h0M163 180h0M196 232h0M121 146h0M210 231h0M183 219h0M110 185h0M174 227h0M123 177h0M129 132h0M116 179h0M87 211h0M161 224h0M183 223h0M171 267h0M149 184h0M112 168h0M169 214h0M150 214h0M152 248h0M180 236h0M204 264h0M90 181h0M160 219h0M157 247h0M110 142h0M210 232h0M161 239h0M205 258h0M160 211h0M112 160h0M77 265h0M175 235h0M199 238h0M209 258h0M100 195h0M179 265h0M150 183h0M115 160h0M158 227h0M68 243h0M110 182h0M133 169h0M91 202h0M210 246h0M130 167h0M99 174h0M147 261h0M129 162h0M61 253h0M109 191h0M110 183h0M186 214h0M144 241h0M116 196h0M161 200h0M193 227h0M151 247h0M142 174h0M167 212h0M130 275h0M146 221h0M150 265h0M134 180h0M136 129h0M84 176h0M146 260h0M155 229h0M142 204h0M129 279h0M130 133h0M63 243h0M150 242h0M127 148h0M132 121h0M123 151h0M90 209h0M95 161h0M156 216h0M175 228h0M76 210h0M144 191h0M114 148h0M130 161h0M157 204h0M139 176h0M167 252h0M205 225h0M113 281h0M211 257h0M130 170h0M140 216h0M195 266h0M83 276h0M131 176h0M172 221h0M165 271h0M101 276h0M100 165h0M189 240h0M142 199h0M130 171h0M145 221h0M84 279h0M164 267h0M174 255h0M96 186h0M141 244h0M70 256h0M184 279h0M157 236h0M103 183h0M147 229h0M112 180h0M147 235h0M109 280h0M166 227h0M167 244h0M162 244h0M205 221h0M146 233h0M129 157h0M190 246h0M126 171h0M77 267h0M143 213h0M150 206h0M218 252h0M120 282h0M216 253h0M96 191h0M141 173h0M165 219h0M155 207h0M81 178h0M96 188h0M158 265h0M161 270h0M79 180h0M208 234h0M93 282h0M161 238h0M170 225h0M200 271h0M206 269h0M188 224h0M135 125h0M164 200h0M164 261h0M168 226h0M121 156h0M191 241h0M165 196h0M148 210h0M115 179h0M143 217h0M130 162h0M175 248h0M200 240h0M199 247h0M122 278h0M161 242h0M131 267h0M160 253h0M73 264h0M118 186h0M93 189h0M90 165h0M219 256h0M142 201h0M61 259h0M191 260h0M195 217h0M102 161h0M127 189h0M177 270h0M120 154h0M74 227h0M106 279h0M157 190h0M154 235h0M74 258h0M143 238h0M75 263h0M74 241h0M68 223h0M80 225h0M84 189h0M94 193h0M141 261h0M188 222h0M87 204h0M178 250h0M201 252h0M138 207h0M206 258h0M65 245h0M183 222h0M126 188h0M137 228h0M213 264h0M141 272h0M120 187h0M105 178h0M144 218h0M209 260h0M102 208h0M195 248h0M138 268h0M121 183h0M192 251h0M132 129h0M80 228h0M102 276h0M172 259h0M152 207h0M203 239h0M151 249h0M134 133h0M163 249h0M83 187h0M194 229h0M160 254h0M192 242h0M113 151h0M105 183h0M163 196h0M86 197h0M80 266h0M77 255h0M153 193h0M152 207h0M122 185h0M170 268h0M133 267h0M196 246h0M158 214h0M150 230h0M147 246h0M153 211h0M136 231h0M154 238h0M195 267h0M121 154h0M102 203h0M79 217h0M87 206h0M112 151h0M146 230h0M165 227h0M109 220h0M182 229h0M214 256h0M98 185h0M124 174h0M207 249h0M158 251h0M199 221h0M167 234h0M156 260h0M131 130h0M77 269h0M148 246h0M136 194h0M209 262h0M188 277h0M141 191h0M189 267h0M124 175h0M136 196h0M117 164h0M92 185h0M136 236h0M97 195h0M180 222h0M121 177h0M83 224h0M120 178h0M163 245h0M178 228h0M201 269h0M138 260h0M127 192h0M93 281h0M184 245h0M153 243h0M136 229h0M213 238h0M207 230h0M116 171h0M91 206h0M118 205h0M73 217h0M163 241h0M73 244h0M155 196h0M76 220h0M154 247h0M155 260h0M114 279h0M84 228h0M96 194h0M74 209h0M130 211h0M148 255h0M158 199h0M100 189h0M141 194h0M197 254h0M186 215h0M191 269h0M147 229h0M123 184h0M71 259h0M190 233h0M213 237h0M141 243h0M171 267h0M81 176h0M140 177h0M140 175h0M212 257h0M179 236h0M209 230h0M146 270h0M203 255h0M80 246h0M182 271h0M98 214h0M119 173h0M95 271h0M173 233h0M211 230h0M212 232h0M159 263h0M200 269h0M196 259h0M80 211h0M70 227h0M181 233h0M201 248h0M181 268h0M198 265h0M122 275h0M138 259h0M202 256h0M94 215h0M77 234h0M196 264h0M136 255h0M134 199h0M117 156h0M193 248h0M93 283h0M172 238h0M175 232h0M169 260h0M214 236h0M165 255h0M87 208h0M120 188h0M72 227h0M123 171h0M103 201h0M94 215h0M180 261h0M130 187h0M103 220h0M139 245h0M111 156h0M146 197h0M103 213h0M199 257h0M155 224h0M95 201h0M137 222h0M179 267h0M126 267h0M193 265h0M145 222h0M189 229h0M78 245h0M198 221h0M145 187h0M165 237h0M79 258h0M184 222h0M178 266h0M115 178h0M120 200h0M128 179h0M124 156h0M106 208h0M135 255h0M181 229h0M139 257h0M123 195h0M106 218h0M127 279h0M158 226h0M173 244h0M106 271h0M189 233h0M148 190h0M84 265h0M177 242h0M204 240h0M99 191h0M197 224h0M130 168h0M201 245h0M155 227h0M142 270h0M121 202h0M204 242h0M107 189h0M147 205h0M128 271h0M133 201h0M78 260h0M117 182h0M87 217h0M182 252h0M139 263h0M107 276h0M184 244h0M189 229h0M102 194h0M143 207h0M195 245h0M186 224h0M72 243h0M93 204h0M211 231h0M86 212h0M118 193h0M135 214h0M177 239h0M165 268h0M118 208h0M163 258h0M172 251h0M91 199h0M187 243h0M94 201h0M86 225h0M200 268h0M134 261h0M189 240h0M82 255h0M157 233h0M166 232h0M92 217h0M127 275h0M171 228h0M109 204h0M142 248h0M77 211h0M173 244h0M207 237h0M89 187h0M193 256h0M142 216h0M127 202h0M99 202h0M141 191h0M79 270h0M112 186h0M191 271h0M85 276h0M136 233h0M202 266h0M200 226h0M114 183h0M171 252h0M139 267h0M139 204h0M166 235h0M152 237h0M82 279h0M80 275h0M177 250h0M96 208h0M74 252h0M182 275h0M173 249h0M211 259h0M189 269h0M191 260h0M187 225h0M126 178h0M112 205h0M95 213h0M191 270h0M109 189h0M111 219h0M112 196h0M83 184h0M107 203h0M79 227h0M124 273h0M140 245h0M188 274h0M167 231h0M86 193h0M118 206h0M168 240h0M191 232h0M79 279h0M95 185h0M127 201h0M132 183h0M83 264h0M203 245h0M195 228h0M162 232h0M90 205h0M134 191h0M84 184h0M133 233h0M110 199h0M79 256h0M80 227h0M130 272h0M89 244h0M82 238h0M153 241h0M115 195h0M109 215h0M192 262h0M151 243h0M80 218h0M130 203h0M78 247h0M113 277h0M141 225h0M139 199h0M192 242h0M136 205h0M127 179h0M163 258h0M120 205h0M137 269h0M200 268h0M86 251h0M131 220h0M79 211h0M182 243h0M100 265h0M206 231h0M112 271h0M85 249h0M105 227h0M79 220h0M193 239h0M199 251h0M95 190h0M127 195h0M84 266h0M185 250h0M140 257h0M137 204h0M108 188h0M180 234h0M194 272h0M139 221h0M88 273h0M84 277h0M88 251h0M196 259h0M148 232h0M194 271h0M83 212h0M81 251h0M197 235h0M105 279h0M141 265h0M214 255h0M151 248h0M85 209h0M115 202h0M138 260h0M201 228h0M93 200h0M197 231h0M196 227h0M173 247h0M192 251h0M80 234h0M148 232h0M79 234h0M104 258h0M140 235h0M96 216h0M128 210h0M142 206h0M202 244h0M85 227h0M133 176h0M132 203h0M178 252h0M89 226h0M134 182h0M114 184h0M94 228h0M106 212h0M80 235h0M146 227h0M122 278h0M99 212h0M204 254h0M179 265h0M86 209h0M99 250h0M178 263h0M95 253h0M97 205h0M104 274h0M92 268h0M113 215h0M178 249h0M150 231h0M154 243h0M124 203h0M201 233h0M105 271h0M188 255h0M114 210h0M133 202h0M77 247h0M84 223h0M133 212h0M150 243h0M179 251h0M165 242h0M93 200h0M93 256h0M91 268h0M137 213h0M125 267h0M149 260h0M127 201h0M123 203h0M164 269h0M182 270h0M113 191h0M139 212h0M87 253h0M110 273h0M109 207h0M135 180h0M85 255h0M181 270h0M87 230h0M130 247h0M169 261h0M95 202h0M113 278h0M88 187h0M142 256h0M186 251h0M174 239h0M180 238h0M162 235h0M184 256h0M108 278h0M86 185h0M104 191h0M170 255h0M197 233h0M145 260h0M168 254h0M192 249h0M135 247h0M143 264h0M176 226h0M90 260h0M80 263h0M141 251h0M108 202h0M205 256h0M74 257h0M142 203h0M125 201h0M93 253h0M177 236h0M139 247h0M108 219h0M105 196h0M87 183h0M79 251h0M71 221h0M196 237h0M193 266h0M105 261h0M123 180h0M92 273h0M163 243h0M130 202h0M89 248h0M148 253h0M125 268h0M109 203h0M83 214h0M179 266h0M192 242h0M96 245h0M210 238h0M94 230h0M99 252h0M82 224h0M137 206h0M195 227h0M195 227h0M76 247h0M163 235h0M185 253h0M73 262h0M100 229h0M80 235h0M96 193h0M101 189h0M79 227h0M196 229h0M185 262h0M161 268h0M77 270h0M145 217h0M110 209h0M182 265h0M97 266h0M95 262h0M175 261h0M128 197h0M70 255h0M80 210h0M175 239h0M125 179h0M136 221h0M121 213h0M135 251h0M74 225h0M168 257h0M187 240h0M179 267h0M118 184h0M171 266h0M130 207h0M178 251h0M207 261h0M105 237h0M193 265h0M95 275h0M202 242h0M109 222h0M137 267h0M136 244h0M70 248h0M188 239h0M84 228h0M79 238h0M147 241h0M95 188h0M121 209h0M191 229h0M194 247h0M82 267h0M95 189h0M165 258h0M126 222h0M93 221h0M170 260h0M94 264h0M101 241h0M193 234h0M83 276h0M133 275h0M96 249h0M107 271h0M132 249h0M177 254h0M181 261h0M140 260h0M173 254h0M137 236h0M75 252h0M179 257h0M143 255h0M102 261h0M138 237h0M94 251h0M82 279h0M99 217h0M141 250h0M130 217h0M147 252h0M80 239h0M130 268h0M191 267h0M136 232h0M127 263h0M109 215h0M136 267h0M111 211h0M124 187h0M180 253h0M126 250h0M137 257h0M175 264h0M114 195h0M102 242h0M190 259h0M82 233h0M128 272h0M183 252h0M74 233h0M94 185h0M79 225h0M170 242h0M81 240h0M90 276h0M190 239h0M108 252h0M133 262h0M79 252h0M118 200h0M110 254h0M184 231h0M134 221h0M87 216h0M174 251h0M96 235h0M114 202h0M97 244h0M122 280h0M170 249h0M200 254h0M178 235h0M189 271h0M135 247h0M166 238h0M177 262h0M121 190h0M126 215h0M77 238h0M87 249h0M87 275h0M175 234h0M138 261h0M110 216h0M95 236h0M128 255h0M78 242h0M126 251h0M94 232h0M135 232h0M114 209h0M113 238h0M133 271h0M134 195h0M86 256h0M105 269h0M127 274h0M133 228h0M196 246h0M174 235h0M117 189h0M101 219h0M104 265h0M91 275h0M137 209h0M91 204h0M81 236h0M130 272h0M114 278h0M93 233h0M129 212h0M119 188h0M100 227h0M92 268h0M103 199h0M178 237h0M92 214h0M124 211h0M129 196h0M124 236h0M92 218h0M174 231h0M108 204h0M87 245h0M122 269h0M184 248h0M101 232h0M185 258h0M104 197h0M81 262h0M176 261h0M83 247h0M171 255h0M174 262h0M86 208h0M184 259h0M111 225h0M94 264h0M103 198h0M126 214h0M190 259h0M97 257h0M88 217h0M108 215h0M132 198h0M185 264h0M116 200h0M118 265h0M101 268h0M102 222h0M87 216h0M114 244h0M117 224h0M115 214h0M198 242h0M95 261h0M93 258h0M135 240h0M83 224h0M139 206h0M91 233h0M90 249h0M105 210h0M99 274h0M186 274h0M187 235h0M80 247h0M203 262h0M91 188h0M185 252h0M98 260h0M193 254h0M181 233h0M118 221h0M78 249h0M80 233h0M93 258h0M174 240h0M120 214h0M80 226h0M109 245h0M132 230h0M104 267h0M100 216h0M132 269h0M125 196h0M112 241h0M197 263h0M117 265h0M96 246h0M187 266h0M87 250h0M127 188h0M81 255h0M123 212h0M76 229h0M127 193h0M129 267h0" stroke="#2a2af2"/>
<path d="M134 216h0M111 247h0M102 234h0M130 233h0M133 260h0M92 219h0M138 260h0M118 267h0M123 276h0M104 275h0M180 255h0M106 197h0M121 236h0M118 257h0M123 218h0M104 216h0M131 217h0M117 243h0M117 196h0M120 204h0M105 231h0M194 269h0M127 197h0M79 250h0M94 214h0M119 260h0M130 223h0M108 197h0M136 230h0M127 226h0M94 216h0M121 252h0M114 261h0M122 275h0M96 227h0M185 261h0M168 238h0M93 275h0M124 231h0M102 266h0M104 234h0M100 225h0M118 216h0M112 272h0M75 238h0M200 255h0M95 246h0M101 232h0M92 227h0M101 231h0M96 210h0M138 241h0M193 248h0M186 263h0M139 258h0M106 205h0M116 196h0M137 249h0M198 255h0M123 195h0M100 211h0M120 214h0M98 235h0M96 263h0M188 239h0M107 197h0M101 235h0M83 218h0M126 194h0M105 270h0M137 248h0M122 253h0M99 264h0M143 262h0M102 267h0M75 234h0M176 261h0M189 235h0M113 257h0M105 260h0M180 260h0M99 210h0M96 240h0M137 240h0M83 255h0M140 251h0M87 261h0M135 255h0M113 260h0M106 232h0M128 190h0M176 255h0M95 272h0M182 246h0M183 255h0M117 244h0M178 255h0M181 245h0M142 256h0M188 245h0M127 225h0M113 212h0M87 241h0M199 253h0M171 256h0M181 257h0M133 232h0M104 199h0M90 236h0M97 225h0M126 211h0M118 219h0M195 257h0M100 236h0M121 238h0M132 230h0M174 251h0M125 207h0M129 210h0M125 210h0M111 230h0M130 248h0M140 210h0M88 272h0M189 267h0M131 241h0M104 209h0M107 214h0M108 269h0M99 272h0M100 264h0M109 203h0M136 207h0M96 207h0M83 258h0M122 253h0M116 266h0M84 229h0M193 248h0M117 274h0M87 267h0M104 201h0M198 258h0M128 212h0M101 247h0M80 244h0M182 268h0M107 217h0M115 246h0M99 261h0M125 269h0M133 238h0M87 243h0M128 203h0M118 275h0M90 266h0M143 257h0M88 247h0M96 232h0M102 255h0M179 249h0M118 272h0M181 263h0M101 222h0M130 226h0M113 255h0M122 246h0M182 256h0M123 242h0M126 200h0M120 212h0M136 206h0M105 213h0M114 212h0M118 271h0M190 254h0M125 269h0M104 205h0M94 226h0M103 250h0M90 234h0M103 238h0M87 235h0M86 240h0M113 227h0M119 246h0M126 235h0M100 250h0M173 253h0M114 259h0M93 226h0M84 259h0M86 243h0M129 198h0M88 274h0M185 254h0M79 243h0M118 214h0M117 243h0M107 263h0M187 260h0M114 256h0M99 249h0M100 235h0M125 255h0M112 264h0M86 220h0M129 194h0M88 248h0M109 265h0M98 229h0M112 200h0M97 247h0M191 246h0M112 230h0M114 259h0M124 194h0M85 259h0M84 233h0M143 253h0M133 227h0M130 215h0M120 192h0M138 235h0M180 258h0M94 238h0M89 221h0M99 263h0M95 222h0M109 231h0M83 235h0M79 225h0M123 199h0M111 269h0M186 265h0M120 268h0M114 219h0M132 208h0M124 231h0M91 242h0M88 274h0M120 245h0M97 253h0M78 256h0M102 261h0M83 270h0M109 246h0M87 225h0M95 214h0M119 234h0M127 266h0M114 272h0M111 261h0M79 263h0M91 243h0M79 240h0M78 235h0M103 267h0M95 247h0M127 207h0M110 232h0M100 228h0M112 280h0M102 239h0M103 241h0M86 240h0M92 262h0M110 238h0M85 267h0M90 233h0M89 267h0M81 249h0M141 252h0M122 230h0M106 262h0M188 251h0M111 234h0M86 225h0M122 242h0M191 247h0M83 253h0M131 216h0M128 264h0M85 251h0M141 256h0M90 211h0M80 232h0M98 222h0M116 273h0M144 262h0M122 219h0M113 264h0M102 216h0M121 260h0M85 245h0M199 250h0M98 213h0M85 267h0M85 242h0M180 256h0M178 252h0M137 245h0M131 226h0M122 194h0M87 239h0M128 242h0M197 254h0M137 250h0M107 271h0M125 210h0M98 227h0M126 242h0M123 273h0M101 250h0M99 247h0M108 211h0M94 213h0M119 256h0M122 191h0" stroke="#2f74f5"/>
<path d="M125 258h0M99 258h0M102 275h0M108 266h0M93 243h0M104 218h0M102 254h0M88 256h0M87 262h0M104 241h0M97 216h0M128 246h0M104 258h0M91 253h0M115 247h0M91 245h0M110 256h0M120 210h0M125 200h0M115 230h0M78 251h0M97 240h0M102 235h0M94 269h0M109 266h0M100 220h0M118 216h0M86 231h0M125 211h0M130 208h0M130 262h0M136 253h0M91 237h0M98 221h0M92 256h0M126 251h0M116 259h0M122 261h0M87 239h0M118 219h0M76 262h0M95 260h0M111 242h0M120 227h0M137 245h0M132 254h0M132 209h0M126 210h0M134 229h0M93 268h0M126 201h0M134 237h0M92 233h0M124 198h0M130 232h0M122 204h0M96 239h0M84 269h0M116 222h0M117 226h0M99 268h0M118 273h0M134 242h0M116 274h0M118 233h0M117 216h0M99 254h0M123 272h0M132 217h0M120 207h0M108 202h0M89 251h0M89 226h0M82 234h0M90 245h0M127 228h0M101 219h0M113 221h0M108 203h0M80 237h0M125 213h0M118 263h0M138 260h0M78 238h0M113 251h0M81 246h0M111 237h0M118 256h0M96 230h0M97 268h0M104 232h0M118 257h0M105 243h0M119 226h0M81 227h0M131 227h0M110 243h0M106 238h0M114 233h0M89 272h0M123 224h0M119 245h0M124 220h0M77 241h0M106 250h0M95 221h0M114 273h0M109 243h0M138 250h0M118 237h0M82 261h0M83 256h0M85 270h0M132 233h0M101 238h0M101 256h0M123 252h0M127 253h0M105 243h0M77 240h0M188 252h0M125 239h0M84 254h0M124 245h0M122 202h0M130 256h0M123 227h0M138 247h0M139 258h0M183 253h0M86 229h0M127 253h0M134 250h0M106 202h0M104 219h0M81 245h0M133 257h0M133 219h0M113 215h0M128 262h0M107 201h0M110 221h0M89 256h0M92 268h0M103 231h0M122 212h0M98 225h0M132 239h0M119 214h0M93 224h0M95 248h0M94 258h0M118 261h0M81 260h0M130 218h0M98 248h0M90 273h0M100 239h0M121 267h0M129 222h0M103 247h0M113 250h0M134 224h0M108 265h0M180 257h0M139 247h0M114 249h0M119 245h0M124 262h0M98 223h0M129 238h0M85 258h0M116 206h0M120 270h0M117 230h0M108 272h0M105 255h0M93 264h0M110 226h0M113 258h0M109 274h0M126 251h0M87 244h0M91 229h0M129 195h0M108 230h0M126 238h0M96 228h0M109 252h0M107 266h0M94 237h0M109 229h0M84 266h0M137 248h0M111 209h0M111 208h0M91 265h0M123 223h0M124 247h0M122 207h0M82 235h0M118 217h0M86 262h0M105 256h0M90 242h0M124 208h0M104 239h0M86 227h0M80 248h0M90 250h0M85 269h0M94 227h0M86 260h0M116 271h0M125 231h0M120 240h0M112 232h0M89 248h0M110 266h0M118 210h0M181 257h0M89 241h0M94 235h0M115 219h0M88 223h0M82 257h0M127 199h0M92 266h0M102 238h0M117 247h0M106 265h0M101 246h0M118 268h0M108 229h0M107 260h0M120 268h0M108 254h0M128 237h0M127 258h0M104 226h0M120 251h0M81 261h0M114 244h0M113 243h0M103 220h0M113 251h0M134 231h0M90 269h0M127 264h0M116 252h0" stroke="#2cb8c4"/>
<path d="M86 221h0M105 243h0M114 234h0M179 251h0M125 256h0M128 217h0M133 238h0M87 225h0M88 270h0M88 256h0M118 268h0M101 258h0M121 259h0M99 254h0M119 249h0M105 228h0M122 215h0M128 261h0M84 245h0M127 244h0M111 272h0M120 222h0M130 259h0M97 262h0M104 255h0M127 220h0M123 235h0M132 222h0M90 260h0M113 243h0M115 272h0M94 255h0M129 245h0M135 244h0M101 235h0M107 255h0M91 248h0M125 257h0M123 218h0M117 258h0M133 232h0M113 225h0M88 271h0M123 239h0M111 217h0M107 267h0M129 262h0M117 235h0M107 255h0M96 256h0M119 222h0M94 228h0M115 231h0M91 222h0M131 239h0M121 228h0M106 251h0M104 245h0M94 250h0M83 262h0M113 223h0M138 253h0M89 270h0M114 228h0M115 274h0M109 245h0M109 262h0M109 250h0M87 238h0M100 239h0M130 219h0M120 247h0M81 239h0M126 240h0M129 244h0M135 239h0M124 226h0M126 261h0M80 261h0M118 274h0M134 241h0M105 231h0M93 264h0M106 264h0M126 256h0M100 249h0M86 227h0M110 238h0M112 243h0M83 244h0M125 220h0M121 222h0M110 258h0M116 241h0M99 223h0M116 244h0M98 239h0M83 240h0M116 256h0M90 269h0M83 254h0M114 273h0M86 262h0M128 214h0M104 239h0M113 228h0M121 237h0M126 216h0M106 235h0M133 250h0M105 234h0M124 234h0M92 229h0M110 268h0M110 242h0M110 262h0M90 237h0M81 243h0M105 249h0M129 246h0M101 246h0M112 250h0M129 243h0M115 234h0M131 225h0M131 253h0M95 248h0M84 233h0M129 253h0M102 252h0M89 234h0M126 226h0M115 270h0M133 254h0M93 237h0M95 246h0M123 234h0M120 235h0M134 247h0M114 264h0M129 212h0M115 262h0M123 254h0M107 226h0M135 248h0M106 254h0M86 255h0M104 255h0M95 249h0M86 228h0M123 232h0M87 236h0M126 264h0M127 262h0M116 265h0M131 255h0M113 221h0M117 263h0M91 238h0M127 226h0M119 261h0M81 242h0M100 268h0M89 229h0M114 247h0M96 241h0M111 259h0M126 227h0M114 226h0M104 227h0M122 218h0M116 252h0M91 262h0M121 246h0M134 238h0M120 258h0M89 254h0M84 250h0M89 241h0M117 267h0M118 247h0M120 232h0M92 235h0M105 235h0M90 267h0M114 245h0M106 238h0M91 235h0M97 239h0M103 261h0M107 251h0M105 234h0M103 244h0M131 242h0M126 241h0M120 210h0M126 219h0M108 262h0M110 245h0M127 218h0M133 238h0M87 264h0M119 243h0M129 240h0M122 230h0M118 261h0M103 247h0M124 251h0M124 268h0M126 226h0M120 261h0M120 258h0M130 240h0M109 242h0M106 226h0M91 253h0M91 227h0M120 251h0M95 254h0M112 235h0M115 231h0M116 259h0M86 245h0M123 220h0M113 247h0M126 221h0M122 227h0M109 227h0M104 244h0M111 269h0M119 219h0M109 249h0M122 234h0M115 269h0M102 231h0M102 245h0M111 249h0M115 230h0M130 239h0M101 234h0M108 259h0M107 242h0M121 234h0M120 235h0M110 254h0M107 266h0M119 239h0M130 222h0M117 247h0M86 257h0M118 249h0M111 256h0M110 223h0M120 249h0M129 246h0M127 222h0M123 227h0M113 237h0M115 243h0M128 258h0M116 221h0M108 261h0" stroke="#3cc45a"/>
<path d="M103 253h0M122 233h0M130 250h0M134 243h0M119 229h0M110 263h0M115 267h0M105 270h0M119 244h0M105 268h0M101 245h0M113 252h0M101 241h0M126 258h0M109 229h0M111 256h0M108 265h0M116 235h0M107 230h0M96 231h0M99 240h0M129 217h0M125 235h0M116 218h0M112 263h0M124 228h0M122 266h0M121 258h0M118 263h0M118 265h0M122 268h0M103 245h0M107 260h0M127 233h0M127 244h0M118 223h0M125 221h0M115 256h0M116 234h0M119 243h0M108 249h0M129 222h0M121 254h0M122 236h0M127 253h0M119 240h0M115 229h0M105 227h0M128 242h0M114 245h0M105 248h0M115 237h0M103 250h0M130 237h0M120 224h0M121 262h0M96 232h0M127 253h0M127 231h0M126 250h0M118 245h0M120 229h0M101 232h0M120 248h0M116 244h0M125 221h0M98 249h0M113 239h0M111 265h0M97 235h0M124 255h0M118 223h0M126 244h0M120 257h0M121 247h0M124 221h0M119 226h0M112 235h0M110 233h0M127 235h0M122 222h0M125 258h0M121 227h0M127 230h0M117 221h0M118 255h0M120 226h0M118 233h0M128 231h0M125 244h0M126 252h0M129 227h0M107 254h0M105 237h0M112 259h0M124 215h0M115 245h0M98 246h0" stroke="#b8d030"/>
<path d="M112 228h0M125 221h0M119 222h0M106 232h0M126 241h0M121 216h0M127 243h0M113 265h0M125 249h0M120 240h0M120 236h0M113 248h0M125 224h0M109 231h0M116 233h0M116 243h0M128 249h0M114 259h0M124 258h0M96 249h0M111 257h0M128 241h0M116 237h0M117 239h0M113 256h0M111 239h0M113 255h0M121 235h0M110 245h0M121 257h0M122 242h0M117 247h0M104 233h0M124 254h0M120 225h0M120 225h0M114 251h0M122 221h0M119 232h0M123 250h0M118 230h0M112 248h0M123 254h0M113 250h0M116 256h0M124 225h0M120 244h0M125 252h0M120 257h0M121 224h0" stroke="#f0a020"/>
<path d="M124 240h0M112 256h0M123 224h0M123 245h0M119 246h0M116 244h0M118 256h0M119 242h0M121 222h0M123 229h0M121 248h0M112 260h0M121 249h0M111 263h0M111 262h0M118 252h0M115 258h0M121 254h0M121 251h0M124 249h0M124 253h0M115 243h0" stroke="#ee4416"/>
</g>
<rect x="448.7" y="1221.4" width="146" height="150.6" fill="none" stroke="#333" stroke-width="0.9"/>
<text x="442.0" y="1232.4" font-size="12.3" text-anchor="end" fill="#222">250K</text>
<text x="442.0" y="1261.0" font-size="12.3" text-anchor="end" fill="#222">200K</text>
<text x="442.0" y="1289.5" font-size="12.3" text-anchor="end" fill="#222">150K</text>
<text x="442.0" y="1318.1" font-size="12.3" text-anchor="end" fill="#222">100K</text>
<text x="442.0" y="1346.6" font-size="12.3" text-anchor="end" fill="#222">50K</text>
<text x="442.0" y="1375.2" font-size="12.3" text-anchor="end" fill="#222">0</text>
<path d="M444.7 1228.1h4M444.7 1256.7h4M444.7 1285.2h4M444.7 1313.8h4M444.7 1342.3h4M444.7 1370.9h4M446.7 1233.8h2M446.7 1239.5h2M446.7 1245.2h2M446.7 1250.9h2M446.7 1262.4h2M446.7 1268.1h2M446.7 1273.8h2M446.7 1279.5h2M446.7 1290.9h2M446.7 1296.6h2M446.7 1302.4h2M446.7 1308.1h2M446.7 1319.5h2M446.7 1325.2h2M446.7 1330.9h2M446.7 1336.6h2M446.7 1348.1h2M446.7 1353.8h2M446.7 1359.5h2M446.7 1365.2h2M457.5 1372.0v4M481.7 1372.0v4M505.7 1372.0v4M545.3 1372.0v4M580.6 1372.0v4M460.4 1372.0v2M463.0 1372.0v2M465.5 1372.0v2M467.6 1372.0v2M469.6 1372.0v2M471.5 1372.0v2M473.5 1372.0v2M475.4 1372.0v2M477.3 1372.0v2M486.0 1372.0v2M487.9 1372.0v2M489.8 1372.0v2M491.8 1372.0v2M493.7 1372.0v2M495.6 1372.0v2M497.5 1372.0v2M499.4 1372.0v2M501.4 1372.0v2M503.3 1372.0v2M517.6 1372.0v2M524.6 1372.0v2M529.5 1372.0v2M533.4 1372.0v2M536.5 1372.0v2M539.1 1372.0v2M541.4 1372.0v2M543.5 1372.0v2M555.9 1372.0v2M562.1 1372.0v2M566.5 1372.0v2M570.0 1372.0v2M572.7 1372.0v2M575.1 1372.0v2M577.2 1372.0v2M579.0 1372.0v2M591.1 1372.0v2M455.1 1372.0v2M453.7 1372.0v2M452.7 1372.0v2M451.9 1372.0v2" stroke="#222" stroke-width="0.9" fill="none"/>
<rect x="479.3" y="1372.0" width="5.4" height="2.6" fill="#000"/>
<text x="457.1" y="1389.5" font-size="12" text-anchor="middle" fill="#222">-10<tspan dy="-4.5" font-size="8.5">3</tspan></text>
<text x="481.7" y="1389.5" font-size="12" text-anchor="middle" fill="#222">0</text>
<text x="507.7" y="1389.5" font-size="12" text-anchor="middle" fill="#222">10<tspan dy="-4.5" font-size="8.5">3</tspan></text>
<text x="547.8" y="1389.5" font-size="12" text-anchor="middle" fill="#222">10<tspan dy="-4.5" font-size="8.5">4</tspan></text>
<text x="584.6" y="1389.5" font-size="12" text-anchor="middle" fill="#222">10<tspan dy="-4.5" font-size="8.5">5</tspan></text>
<path d="M497.2 1372.0 L513.7 1267.2 L594.7 1267.2" stroke="#222" stroke-width="1" fill="none"/>
<text x="590.2" y="1255.7" font-size="24.7" text-anchor="end">67.7%</text>
<g transform="translate(646.6 1221.4) scale(.5)" stroke-width="1.9" stroke-linecap="square" fill="none">
<path d="M56 206h0M211 170h0M186 185h0M80 151h0M241 230h0M189 210h0M74 130h0M223 207h0M54 260h0M192 277h0M221 266h0M258 233h0M232 215h0M51 266h0M135 112h0M88 130h0M236 247h0M238 231h0M62 269h0M79 183h0M82 197h0M61 276h0M221 182h0M180 145h0M142 123h0M161 196h0M171 173h0M93 153h0M89 136h0M76 208h0M194 174h0M60 275h0M210 184h0M202 196h0M142 114h0M113 119h0M60 237h0M77 198h0M190 161h0M80 173h0M164 142h0M204 271h0M176 188h0M178 195h0M213 222h0M90 163h0M151 143h0M103 128h0M198 211h0M159 125h0M183 168h0M207 204h0M77 217h0M68 265h0M98 142h0M157 167h0M171 164h0M207 271h0M210 218h0M230 251h0M166 192h0M201 222h0M78 172h0M225 238h0M165 129h0M154 127h0M88 281h0M163 154h0M73 199h0M158 131h0M157 151h0M207 275h0M222 214h0M198 202h0M190 278h0M161 173h0M174 199h0M206 237h0M156 190h0M93 171h0M143 122h0M90 186h0M169 276h0M165 186h0M172 205h0M148 167h0M95 179h0M64 238h0M178 160h0M120 120h0M145 146h0M192 207h0M171 184h0M150 179h0M196 271h0M224 236h0M149 131h0M170 271h0M88 190h0M77 282h0M78 227h0M155 143h0M210 212h0M59 281h0M101 151h0M221 253h0M217 262h0M75 250h0M111 141h0M66 240h0M155 153h0M205 265h0M116 119h0M195 223h0M199 196h0M132 139h0M134 143h0M158 131h0M93 172h0M69 223h0M225 256h0M141 142h0M204 195h0M208 223h0M74 277h0M161 148h0M217 222h0M216 241h0M106 132h0M64 230h0M66 274h0M92 188h0M86 211h0M119 157h0M98 163h0M110 154h0M173 275h0M66 229h0M166 197h0M80 220h0M126 285h0M103 161h0M85 276h0M89 177h0M110 134h0M195 217h0M119 163h0M155 146h0M150 191h0M191 267h0M170 273h0M175 214h0M194 265h0M136 152h0M178 204h0M145 161h0M136 159h0M119 146h0M91 198h0M133 128h0M168 265h0M162 180h0M87 214h0M206 271h0M167 175h0M70 261h0M221 252h0M80 209h0M91 210h0M145 139h0M90 202h0M98 177h0M131 159h0M183 265h0M102 150h0M111 164h0M71 266h0M201 215h0M112 130h0M83 208h0M150 136h0M146 150h0M155 179h0M121 147h0M121 134h0M146 158h0M151 192h0M175 203h0M115 122h0M115 139h0M104 173h0M130 150h0M123 148h0M61 234h0M147 168h0M137 146h0M168 220h0M143 130h0M213 219h0M175 216h0M128 121h0M158 190h0M157 203h0M113 128h0M178 215h0M151 199h0M71 222h0M127 120h0M104 146h0M186 222h0M163 268h0M128 148h0M141 128h0M185 228h0M127 125h0M120 128h0M140 136h0M190 232h0M155 138h0M213 261h0M179 214h0M167 222h0M146 160h0M211 253h0M125 133h0M101 162h0M130 280h0M197 231h0M217 248h0M72 226h0M127 152h0M147 211h0M95 186h0M174 204h0M113 163h0M138 276h0M100 176h0M206 262h0M162 178h0M92 199h0M73 267h0M135 281h0M164 213h0M173 209h0M198 262h0M131 169h0M93 195h0M99 178h0M112 152h0M129 141h0M147 181h0M141 146h0M154 182h0M135 168h0M151 198h0M112 145h0M182 273h0M84 278h0M130 120h0M111 156h0M128 141h0M157 251h0M179 217h0M102 179h0M137 131h0M136 150h0M67 226h0M169 177h0M181 218h0M139 279h0M198 231h0M145 171h0M146 269h0M203 256h0M173 220h0M106 153h0M126 159h0M94 200h0M97 166h0M162 205h0M147 271h0M113 166h0M145 277h0M140 172h0M82 230h0M184 218h0M120 151h0M151 205h0M161 228h0M126 129h0M164 227h0M160 170h0M191 230h0M120 167h0M65 243h0M77 235h0M105 197h0M178 224h0M104 179h0M117 138h0M176 265h0M110 124h0M221 249h0M136 279h0M98 283h0M157 204h0M179 228h0M97 282h0M104 168h0M109 172h0M145 198h0M155 246h0M164 213h0M196 238h0M173 238h0M161 222h0M195 261h0M128 122h0M221 248h0M125 278h0M144 156h0M91 179h0M112 174h0M196 228h0M184 258h0M106 183h0M144 278h0M134 154h0M92 206h0M178 241h0M164 244h0M202 266h0M115 146h0M71 243h0M213 240h0M141 219h0M99 182h0M143 179h0M136 164h0M151 211h0M150 184h0M184 264h0M186 229h0M142 157h0M185 260h0M84 222h0M80 266h0M109 155h0M136 171h0M110 282h0M193 248h0M91 221h0M127 277h0M82 275h0M132 169h0M133 159h0M164 246h0M195 237h0M189 253h0M138 273h0M74 236h0M158 242h0M167 239h0M161 265h0M179 213h0M176 227h0M205 249h0M172 242h0M112 145h0M108 167h0M162 212h0M181 233h0M147 205h0M151 220h0M131 188h0M178 266h0M196 228h0M206 245h0M176 243h0M111 148h0M130 125h0M162 237h0M121 282h0M162 252h0M215 245h0M85 225h0M183 269h0M149 198h0M133 164h0M93 276h0M139 138h0M201 244h0M144 173h0M168 247h0M157 248h0M193 225h0M155 218h0M103 203h0M175 241h0M215 248h0M126 159h0M167 249h0M92 201h0M81 273h0M82 255h0M94 224h0M91 223h0M84 215h0M187 236h0M75 245h0M153 233h0M134 189h0M156 237h0M86 210h0M75 241h0M103 193h0M161 265h0M153 252h0M175 249h0M79 259h0M146 172h0M119 144h0M85 249h0M160 249h0M188 247h0M131 161h0M117 175h0M155 267h0M76 234h0M143 134h0M108 284h0M156 265h0M159 266h0M80 225h0M201 231h0M95 192h0M115 172h0M141 207h0M106 150h0M204 261h0M124 182h0M189 260h0M197 226h0M138 166h0M182 249h0M156 211h0M102 178h0M198 259h0M148 207h0M182 237h0M136 137h0M92 270h0M117 177h0M144 253h0M171 233h0M138 190h0M167 260h0M135 184h0M167 226h0M97 205h0M158 255h0M81 227h0M208 257h0M163 235h0M181 242h0M133 161h0M92 199h0M101 277h0M141 171h0M196 254h0M112 144h0M197 236h0M154 228h0M87 223h0M94 206h0M161 205h0M171 241h0M164 258h0M206 241h0M177 218h0M200 249h0M102 201h0M99 217h0M141 276h0M85 244h0M135 174h0M162 244h0M85 268h0M113 193h0M178 248h0M109 175h0M152 230h0M114 180h0M143 272h0M77 271h0M203 253h0M135 200h0M150 270h0M79 247h0M153 261h0M89 223h0M168 225h0M118 177h0M140 132h0M141 167h0M151 249h0M91 279h0M147 244h0M89 275h0M108 279h0M186 241h0M138 276h0M195 247h0M178 244h0M209 241h0M200 248h0M168 258h0M97 278h0M148 221h0M161 246h0M177 253h0M141 192h0M189 268h0M190 263h0M183 258h0M136 134h0M72 247h0M209 249h0M142 189h0M111 178h0M90 236h0M170 249h0M163 228h0M109 277h0M150 256h0M149 218h0M116 172h0M210 258h0M79 253h0M142 215h0M119 280h0M152 205h0M84 266h0M145 182h0M167 227h0M95 195h0M135 204h0M146 265h0M140 178h0M146 206h0M103 218h0M78 245h0M83 261h0M194 266h0M206 253h0M139 218h0M200 255h0M107 187h0M173 261h0M172 258h0M81 258h0M137 131h0M86 225h0M197 251h0M195 240h0M137 175h0M191 260h0M175 226h0M159 227h0M172 228h0M148 207h0M115 279h0M141 196h0M180 228h0M114 190h0M157 216h0M182 228h0M76 239h0M102 180h0M157 228h0M143 189h0M155 264h0M88 248h0M112 189h0M109 181h0M158 213h0M99 275h0M102 221h0M149 198h0M157 245h0M114 176h0M203 253h0M126 182h0M153 205h0M100 280h0M119 278h0M190 263h0M145 216h0M130 166h0M143 222h0M100 282h0M139 214h0M151 257h0M99 231h0M151 265h0M181 252h0M96 204h0M137 173h0M142 256h0M119 279h0M116 198h0M120 183h0M139 203h0M122 182h0M106 194h0M161 223h0M136 266h0M119 278h0M94 228h0M133 197h0M187 234h0M163 234h0M127 168h0M88 233h0M82 227h0M74 243h0M190 238h0M144 254h0M98 280h0M196 260h0M109 207h0M149 202h0M162 268h0M118 189h0M189 250h0M123 277h0M116 191h0M198 235h0M155 208h0M127 193h0M143 202h0M183 263h0M79 258h0M179 230h0M86 273h0M90 258h0M113 203h0M99 267h0M145 219h0M151 260h0M183 260h0M109 197h0M160 242h0M125 283h0M156 236h0M158 226h0M93 231h0M157 207h0M140 184h0M140 201h0M169 241h0M136 269h0M100 194h0M155 209h0M123 204h0M140 256h0M96 226h0M167 243h0M119 278h0M89 229h0M140 248h0M137 253h0M83 271h0M169 244h0M143 200h0M101 206h0M157 232h0M154 223h0M198 249h0M146 234h0M164 265h0M157 224h0M177 237h0M86 259h0M189 235h0M141 260h0M90 255h0M87 264h0M128 180h0M103 269h0M201 252h0M76 244h0M98 209h0M110 205h0M195 242h0M140 185h0M109 284h0M100 224h0M134 205h0M130 175h0M153 254h0M120 213h0M109 213h0M149 204h0M189 237h0M94 247h0M141 185h0M177 230h0M89 273h0M163 241h0M120 177h0M197 257h0M108 271h0M147 227h0M141 208h0M136 265h0M157 263h0M117 174h0M162 259h0M173 258h0M130 177h0M159 255h0M102 188h0M90 231h0M137 207h0M86 222h0M139 195h0M103 205h0M99 210h0M88 269h0M127 187h0M138 221h0M154 266h0M202 247h0M86 279h0M92 246h0M203 253h0M175 232h0M103 275h0M77 248h0M91 207h0M179 244h0M137 189h0M168 264h0M120 173h0M111 172h0M94 259h0M183 231h0M124 173h0M89 268h0M120 277h0M105 281h0M97 276h0M133 210h0M175 243h0M123 214h0M88 248h0M92 252h0M126 271h0M170 241h0M129 195h0M86 236h0M116 198h0M169 262h0M194 264h0M95 226h0M96 278h0M109 279h0M150 222h0M98 268h0M90 204h0M158 234h0M127 203h0M152 226h0M171 252h0M85 228h0M90 225h0M167 251h0M183 258h0M142 268h0M90 264h0M158 252h0M84 255h0M118 198h0M207 248h0M135 201h0M120 186h0M119 277h0M191 235h0M191 245h0M104 210h0M119 205h0M180 262h0M156 234h0M137 170h0M111 279h0M129 173h0M140 228h0M131 175h0M139 260h0M95 221h0M121 173h0M164 224h0M146 215h0M143 178h0M185 252h0M129 167h0M174 254h0M194 262h0M137 205h0M148 261h0M135 202h0M156 263h0M131 178h0M195 257h0M197 235h0M128 198h0M190 247h0M156 242h0M83 257h0M83 272h0M133 175h0M134 189h0M95 217h0M185 262h0M142 205h0M148 209h0M158 231h0M103 262h0M124 193h0M122 186h0M101 234h0M97 206h0M94 278h0M193 244h0M135 201h0M118 197h0M94 244h0M148 229h0M109 199h0M131 186h0M101 251h0M155 245h0M116 182h0M139 270h0M118 187h0M76 262h0M99 272h0M170 241h0M88 252h0M104 228h0M113 204h0M113 210h0M107 208h0M103 205h0M177 231h0M107 217h0M146 199h0M90 255h0M126 189h0M83 226h0M153 258h0M131 185h0M148 255h0M121 194h0M104 200h0M141 257h0M157 239h0M111 214h0M106 259h0M152 234h0M115 279h0M99 256h0M131 179h0M109 197h0M80 247h0M118 272h0M80 245h0M146 244h0M194 246h0M103 225h0M150 240h0M161 230h0M194 250h0M182 252h0M100 262h0M102 226h0M156 248h0M160 234h0M136 200h0M180 256h0M113 206h0M83 241h0M158 260h0M176 239h0M132 197h0M164 241h0M137 190h0M177 233h0M140 229h0M203 247h0M109 275h0M154 231h0M136 270h0M129 169h0M108 225h0M141 267h0M130 280h0M147 252h0M84 262h0M84 239h0M88 228h0M108 257h0M122 171h0M100 270h0M137 231h0M88 231h0M109 224h0M194 252h0M193 238h0M185 254h0M194 256h0M105 202h0M180 234h0M95 258h0M110 187h0M126 213h0M143 259h0M148 239h0M143 200h0M121 220h0M154 236h0M141 209h0M125 170h0M135 263h0M108 229h0M122 205h0M76 248h0M114 222h0M98 221h0M82 250h0M140 194h0M102 199h0M89 262h0M134 184h0M107 269h0M98 244h0M112 214h0M170 255h0M113 222h0M105 184h0M161 235h0M138 232h0M143 256h0M126 206h0M132 190h0M90 264h0M113 211h0M186 262h0M125 210h0M98 216h0M138 230h0M106 207h0M84 237h0M177 250h0M77 248h0M193 249h0M135 272h0M106 184h0M121 199h0M107 194h0M189 257h0M91 257h0M141 243h0M89 268h0M95 233h0M108 212h0M139 172h0M88 226h0M164 247h0M102 265h0M200 249h0M110 178h0M95 274h0M115 207h0M94 236h0M96 207h0M146 243h0M133 208h0M123 175h0M141 237h0M112 181h0M81 259h0M90 256h0M124 184h0M108 193h0M97 264h0M185 249h0M94 273h0M81 244h0M142 198h0M136 205h0M110 199h0M129 187h0M90 231h0M146 237h0M188 248h0M144 235h0M131 260h0M82 269h0M87 266h0M137 195h0M88 268h0M109 260h0M140 178h0M144 242h0M109 279h0M194 235h0M120 197h0M106 228h0M140 212h0M151 242h0M107 191h0M142 225h0M154 234h0M188 252h0M111 176h0M100 222h0M180 231h0M168 265h0M134 221h0M153 244h0M120 176h0M99 211h0M162 228h0M129 217h0M91 279h0M130 219h0M184 237h0M100 210h0M193 243h0M191 252h0M117 222h0M102 264h0M101 265h0M100 245h0M84 269h0M93 269h0M201 254h0M138 209h0M138 221h0M134 250h0M117 185h0M103 239h0M126 174h0M131 182h0M179 257h0M131 171h0M172 245h0M112 282h0M131 257h0M95 210h0M150 231h0M103 217h0M177 236h0M93 227h0M79 249h0M118 230h0M117 279h0M118 199h0M143 235h0M174 254h0M142 222h0M187 238h0M111 221h0M120 191h0M112 197h0M144 207h0M132 263h0M131 189h0M121 280h0M137 258h0M96 266h0M136 192h0M176 240h0M104 208h0M112 183h0M115 182h0M165 255h0M136 220h0M81 263h0M116 277h0M97 236h0M108 196h0M191 254h0M170 248h0M140 264h0M141 221h0M139 228h0M114 206h0M116 206h0M171 256h0M130 173h0M134 231h0M126 201h0M106 259h0M140 232h0M129 191h0M135 237h0M126 266h0M105 277h0M140 253h0M117 275h0M127 272h0M174 256h0M95 268h0M93 246h0M170 250h0M172 253h0M129 217h0M91 274h0M97 231h0M106 203h0M85 253h0M147 262h0M129 207h0M109 213h0M166 256h0M133 212h0M190 240h0M130 205h0M106 216h0M96 271h0M110 188h0M132 194h0M187 246h0M111 199h0M137 190h0M112 196h0M164 248h0M111 210h0M136 188h0M123 174h0M130 219h0M109 219h0M131 234h0M137 248h0M139 273h0M143 231h0M178 251h0M134 184h0M132 259h0M87 241h0M145 266h0M101 266h0M116 181h0M104 207h0M129 211h0M91 236h0M104 276h0M111 267h0M131 220h0M143 234h0M167 253h0M95 247h0M146 261h0M124 185h0M106 223h0M117 187h0M110 178h0M91 237h0M84 264h0M123 256h0M149 232h0M147 257h0M130 252h0M121 214h0M130 209h0M111 210h0M148 203h0M177 246h0M97 255h0M124 196h0M91 242h0M127 226h0M90 239h0M135 250h0M124 266h0M119 253h0M81 260h0M107 270h0M185 242h0M119 271h0M136 270h0M140 242h0M98 245h0M105 260h0M171 248h0M134 206h0M113 221h0M133 259h0M107 195h0M112 189h0M128 251h0M130 172h0M140 228h0M109 192h0M127 229h0M130 201h0M137 227h0M148 244h0M104 266h0M108 218h0M145 245h0M115 193h0M140 251h0M89 238h0M108 230h0M137 204h0M90 261h0M87 234h0M147 260h0M135 200h0M112 232h0M108 197h0M109 277h0M118 214h0M95 226h0M100 274h0M141 214h0M122 182h0M187 242h0M99 236h0M144 212h0M170 252h0M94 257h0M99 221h0M140 213h0M113 267h0M86 272h0M118 251h0M138 197h0M148 238h0M86 245h0M91 237h0M120 223h0M174 249h0M132 193h0M117 261h0M95 212h0M117 227h0M94 246h0M90 234h0M173 259h0M86 253h0M107 212h0M94 255h0M127 251h0M111 262h0M126 214h0M107 202h0M103 275h0M140 258h0M125 256h0M134 183h0M103 252h0M97 257h0M89 252h0M132 175h0M117 206h0M171 255h0M86 249h0M121 211h0M140 208h0M105 220h0M134 191h0M101 213h0M127 201h0M104 218h0" stroke="#2a2af2"/>
<path d="M122 230h0M80 253h0M122 204h0M81 256h0M186 242h0M174 244h0M97 216h0M101 247h0M113 228h0M135 232h0M104 247h0M141 232h0M188 247h0M149 238h0M117 229h0M119 201h0M109 221h0M112 197h0M127 265h0M176 250h0M145 233h0M107 261h0M141 252h0M140 239h0M111 264h0M138 238h0M126 274h0M143 257h0M124 180h0M140 219h0M143 261h0M136 267h0M112 269h0M98 270h0M133 250h0M114 196h0M95 242h0M91 247h0M173 260h0M117 220h0M83 244h0M128 226h0M128 258h0M111 199h0M122 194h0M126 258h0M104 269h0M130 209h0M126 199h0M119 231h0M130 203h0M105 220h0M127 261h0M82 256h0M192 244h0M186 247h0M107 269h0M118 203h0M124 204h0M137 214h0M98 239h0M119 275h0M140 231h0M130 218h0M132 240h0M134 224h0M124 200h0M119 252h0M142 249h0M138 226h0M125 232h0M113 276h0M94 252h0M137 220h0M87 242h0M123 221h0M110 221h0M115 260h0M130 176h0M142 204h0M132 183h0M130 198h0M120 197h0M91 265h0M90 235h0M83 262h0M109 232h0M99 248h0M115 279h0M146 239h0M97 228h0M130 197h0M124 194h0M116 254h0M138 212h0M120 223h0M193 242h0M118 224h0M121 259h0M92 229h0M88 265h0M120 193h0M127 196h0M103 222h0M110 270h0M129 226h0M119 268h0M113 230h0M137 241h0M138 207h0M147 234h0M141 258h0M115 267h0M141 254h0M137 259h0M129 212h0M127 203h0M121 194h0M118 178h0M117 247h0M110 269h0M83 243h0M110 276h0M136 215h0M105 266h0M145 244h0M124 215h0M126 234h0M104 230h0M95 273h0M130 218h0M98 228h0M141 246h0M138 232h0M89 269h0M127 233h0M129 238h0M106 243h0M118 257h0M91 255h0M126 248h0M98 251h0M121 207h0M128 245h0M87 234h0M98 259h0M120 193h0M118 246h0M142 222h0M106 213h0M101 269h0M130 207h0M92 261h0M138 229h0M101 250h0M119 260h0M121 193h0M100 255h0M87 242h0M141 239h0M118 188h0M135 219h0M121 200h0M133 211h0M103 224h0M118 213h0M133 216h0M131 225h0M132 222h0M100 211h0M95 268h0M137 262h0M113 215h0M102 239h0M131 208h0M127 222h0M143 245h0M134 264h0M100 270h0M112 243h0M131 215h0M130 273h0M109 257h0M133 253h0M130 248h0M94 229h0M109 274h0M127 205h0M108 238h0M98 241h0M120 245h0M103 252h0M138 207h0M102 210h0M108 216h0M130 274h0M117 208h0M118 188h0M119 212h0M135 239h0M126 265h0M90 268h0M119 190h0M123 202h0M98 227h0M142 241h0M118 201h0M134 262h0M141 240h0M90 245h0M112 251h0M113 271h0M126 270h0M109 249h0M147 238h0M119 239h0M129 200h0M125 228h0M133 267h0M121 255h0M91 233h0M105 278h0M120 238h0M113 239h0M119 219h0M116 253h0M94 242h0M143 227h0M147 240h0M120 257h0M141 240h0M105 223h0M105 208h0M129 231h0M132 225h0M110 269h0M100 273h0M112 236h0M117 253h0M97 260h0M105 271h0M135 202h0M108 207h0M120 247h0M120 262h0M136 260h0M121 270h0M128 257h0M127 199h0M117 232h0M107 220h0M133 271h0M138 264h0M115 245h0M118 227h0M109 252h0M113 213h0M99 240h0M145 241h0M132 233h0M119 217h0M136 244h0M134 269h0M139 254h0M102 230h0M125 268h0M101 267h0M119 227h0M90 263h0M126 224h0M99 249h0M91 255h0M89 252h0M107 266h0M112 218h0M132 272h0M110 258h0M101 259h0M122 225h0M99 262h0M116 232h0M116 257h0M97 257h0M105 205h0M119 245h0M106 249h0M117 241h0M111 247h0M89 244h0M119 273h0M89 268h0M112 275h0M132 248h0M92 240h0M113 204h0M113 240h0M128 271h0M105 209h0M95 251h0M107 217h0M132 265h0M104 257h0M109 268h0M139 233h0M137 223h0M134 265h0M122 270h0M140 245h0M129 249h0M118 268h0M111 201h0M131 258h0M118 224h0M112 197h0M100 258h0M111 201h0M118 233h0M95 260h0M133 220h0M115 220h0" stroke="#2f74f5"/>
<path d="M105 234h0M112 232h0M120 244h0M87 256h0M131 266h0M118 204h0M118 250h0M128 241h0M87 244h0M87 264h0M116 244h0M129 246h0M103 216h0M108 228h0M113 251h0M93 267h0M110 266h0M103 214h0M129 250h0M137 262h0M139 225h0M101 212h0M134 213h0M114 276h0M121 216h0M128 225h0M95 235h0M109 263h0M93 238h0M87 252h0M119 228h0M103 242h0M128 268h0M126 264h0M106 252h0M124 220h0M108 211h0M96 249h0M122 268h0M132 264h0M134 230h0M107 240h0M146 240h0M92 260h0M138 260h0M121 249h0M124 219h0M136 241h0M107 215h0M110 238h0M91 248h0M133 272h0M122 263h0M123 234h0M131 219h0M95 261h0M104 264h0M131 203h0M117 262h0M138 250h0M123 213h0M127 254h0M114 243h0M125 271h0M118 236h0M119 212h0M130 273h0M111 235h0M114 220h0M116 268h0M96 231h0M104 228h0M134 244h0M107 236h0M128 217h0M103 271h0M105 214h0M87 249h0M102 229h0M123 265h0M115 211h0M100 225h0M104 222h0M135 272h0M115 218h0M117 218h0M128 228h0M119 241h0M141 229h0M114 264h0M112 224h0M132 245h0M133 255h0M131 232h0M94 252h0M98 245h0M142 226h0M134 218h0M104 249h0M102 259h0M126 245h0M107 245h0M106 271h0M92 251h0M120 253h0M139 222h0M107 249h0M96 242h0M143 229h0M123 256h0M119 210h0M91 256h0M131 262h0M122 198h0M110 209h0M127 201h0M86 269h0M129 215h0M98 244h0M121 263h0M113 222h0M134 269h0M102 252h0M128 223h0M104 239h0M98 252h0M115 270h0M105 260h0M140 232h0M118 203h0M126 272h0M121 196h0M100 252h0M115 251h0M93 238h0M103 262h0M119 217h0M117 265h0M125 214h0M116 215h0M111 253h0M112 239h0M144 245h0M127 239h0M130 272h0M136 238h0M124 248h0M116 207h0M123 203h0M130 215h0M142 243h0M137 260h0M96 236h0M114 248h0M110 214h0M95 249h0M96 261h0M106 255h0M121 237h0M125 269h0M111 233h0M129 229h0M130 212h0M127 234h0M127 220h0M133 265h0M100 239h0M126 239h0M109 263h0M119 230h0M91 240h0M103 233h0M113 241h0M126 275h0M117 217h0M127 266h0M105 242h0M118 243h0M136 255h0M115 266h0M117 209h0M131 242h0M127 211h0M113 262h0M101 235h0M93 253h0M129 268h0M125 213h0M108 255h0M117 237h0M135 215h0M132 261h0M139 263h0M123 253h0M110 220h0M111 212h0M135 250h0M124 244h0M116 236h0M122 255h0M136 246h0M115 208h0M139 232h0M127 214h0M111 263h0M125 231h0M108 265h0M124 245h0M128 232h0M102 266h0M131 252h0M134 241h0M112 237h0M115 263h0M124 233h0M124 241h0M127 248h0M101 241h0M124 213h0M116 242h0M131 228h0M119 270h0M138 231h0M106 261h0M116 238h0M130 243h0M135 255h0M114 272h0M111 222h0M125 237h0M125 240h0M140 237h0M123 230h0M117 220h0M135 252h0M110 248h0M137 243h0M126 269h0M106 228h0M130 256h0M135 237h0M130 236h0M130 247h0M131 240h0M107 233h0M126 261h0M91 246h0M113 261h0M104 247h0M114 247h0M96 241h0" stroke="#2cb8c4"/>
<path d="M111 262h0M101 262h0M116 266h0M129 218h0M109 249h0M113 230h0M95 236h0M114 270h0M113 245h0M134 250h0M133 219h0M121 226h0M109 248h0M127 217h0M108 235h0M110 263h0M126 246h0M113 258h0M102 251h0M119 258h0M104 231h0M123 235h0M105 260h0M134 229h0M109 254h0M103 246h0M116 265h0M129 223h0M136 243h0M133 254h0M134 215h0M136 248h0M129 252h0M123 223h0M115 266h0M119 254h0M108 242h0M91 255h0M109 256h0M126 229h0M109 261h0M112 272h0M111 256h0M112 232h0M112 246h0M133 221h0M99 245h0M104 241h0M121 266h0M111 220h0M107 240h0M127 257h0M118 238h0M118 224h0M132 264h0M126 247h0M132 238h0M117 242h0M119 222h0M135 243h0M99 239h0M96 252h0M122 256h0M102 239h0M126 253h0M118 248h0M119 274h0M135 247h0M127 231h0M126 224h0M113 215h0M121 238h0M112 256h0M124 228h0M119 267h0M130 235h0M117 239h0M116 215h0M109 232h0M120 233h0M102 252h0M112 264h0M104 236h0M111 252h0M113 237h0M129 234h0M115 238h0M121 255h0M127 247h0M124 264h0M118 247h0M125 220h0M135 241h0M112 231h0M117 233h0M112 229h0M106 257h0M103 239h0M130 239h0M130 235h0M122 217h0M107 250h0M128 252h0M128 269h0M125 224h0M119 225h0M136 229h0M139 241h0M119 225h0M105 246h0M126 218h0M131 237h0M119 262h0M108 255h0M115 269h0M124 265h0M98 247h0M115 266h0M113 268h0M122 255h0M101 241h0M112 244h0M129 242h0M121 247h0M133 250h0M116 235h0M132 241h0M100 251h0M114 244h0M120 239h0M132 236h0M119 242h0M111 249h0M103 243h0M136 232h0M106 252h0M116 263h0M126 266h0M118 253h0M113 266h0M102 243h0M134 215h0M126 221h0M106 252h0M114 230h0M112 228h0M116 222h0M122 238h0M126 217h0M109 250h0M114 245h0M124 265h0M117 258h0M117 269h0M120 239h0M102 239h0M110 230h0M116 273h0M131 250h0M116 249h0M126 252h0M125 249h0M129 238h0M121 261h0M109 244h0M118 271h0M136 234h0M103 244h0M102 243h0M118 258h0M121 235h0M131 226h0M127 233h0M115 233h0M115 264h0M124 222h0M134 248h0M123 244h0M115 273h0M125 265h0M137 235h0M119 233h0M126 249h0M122 235h0M116 267h0M128 220h0M124 261h0M124 255h0M119 257h0M113 245h0M111 230h0M118 263h0M112 272h0M130 263h0M105 252h0M126 228h0M133 224h0M115 263h0M134 227h0M134 243h0M132 229h0M111 234h0M117 241h0M107 234h0M115 258h0M115 231h0M114 227h0M95 241h0M129 251h0M130 237h0M112 259h0M124 229h0M129 265h0M134 238h0M126 221h0M134 226h0M134 241h0M102 249h0M117 269h0M124 237h0M107 238h0M121 268h0M118 243h0M125 250h0M127 240h0M132 245h0M119 237h0M129 221h0M128 239h0M125 263h0M129 245h0M101 242h0M109 232h0M112 233h0M109 235h0M124 240h0M127 266h0M99 245h0M135 240h0M101 247h0M123 263h0M125 258h0M124 222h0M130 259h0M102 240h0M122 231h0M110 233h0M116 251h0M127 253h0M131 253h0M113 247h0M117 258h0M127 228h0M107 241h0M109 237h0M123 225h0M133 248h0M108 233h0M124 263h0M125 253h0M134 254h0M132 221h0" stroke="#3cc45a"/>
<path d="M127 222h0M130 246h0M134 227h0M113 230h0M121 253h0M125 236h0M111 233h0M128 247h0M119 236h0M125 228h0M105 245h0M125 240h0M120 259h0M110 236h0M135 239h0M115 245h0M120 249h0M122 227h0M118 242h0M129 233h0M129 251h0M134 238h0M125 257h0M115 254h0M110 254h0M116 265h0M113 253h0M121 269h0M128 248h0M130 258h0M102 245h0M121 260h0M122 243h0M113 244h0M131 228h0M133 251h0M130 231h0M120 269h0M120 234h0M130 248h0M104 248h0M122 270h0M133 242h0M104 245h0M110 232h0M117 243h0M102 244h0M125 250h0M117 268h0M105 244h0M126 221h0M129 244h0M133 235h0M115 249h0M113 238h0M114 242h0M112 261h0M106 245h0M134 245h0M116 270h0M122 244h0M123 255h0M107 239h0M106 237h0M114 249h0M130 235h0M131 238h0M113 241h0M116 251h0M110 240h0M128 228h0M122 260h0M126 233h0M124 237h0M115 262h0M129 230h0M126 229h0M106 242h0M119 267h0M108 237h0M119 264h0M104 240h0M119 268h0M130 229h0M106 245h0M129 245h0M126 243h0M122 265h0M121 241h0M127 245h0M113 230h0M118 252h0M126 241h0M114 244h0M129 249h0M119 268h0M121 233h0M109 241h0" stroke="#b8d030"/>
<path d="M131 247h0M119 244h0M112 243h0M109 243h0M122 235h0M129 249h0M129 242h0M107 237h0M117 247h0M128 253h0M124 233h0M124 239h0M123 245h0M124 263h0M119 261h0M116 245h0M113 246h0M123 241h0M125 235h0M113 248h0M119 249h0M129 239h0M110 244h0M123 240h0M124 243h0M117 238h0M121 250h0M122 254h0M125 240h0M127 234h0M118 242h0M120 246h0M109 238h0M114 239h0M114 241h0M111 237h0M120 245h0M109 236h0M108 244h0M123 245h0M124 239h0M126 239h0M121 243h0M114 237h0M122 242h0M111 246h0M126 247h0M128 246h0M119 242h0M127 249h0M119 250h0" stroke="#f0a020"/>
<path d="M114 249h0M119 241h0M125 239h0M118 247h0M117 236h0M130 249h0M122 238h0M126 247h0M124 235h0M112 238h0M112 244h0M128 247h0M115 250h0M116 236h0M113 242h0M115 249h0M124 241h0M119 249h0M119 235h0M125 237h0M116 240h0M122 244h0" stroke="#ee4416"/>
</g>
<rect x="646.6" y="1221.4" width="146" height="150.6" fill="none" stroke="#333" stroke-width="0.9"/>
<text x="639.9" y="1232.4" font-size="12.3" text-anchor="end" fill="#222">250K</text>
<text x="639.9" y="1261.0" font-size="12.3" text-anchor="end" fill="#222">200K</text>
<text x="639.9" y="1289.5" font-size="12.3" text-anchor="end" fill="#222">150K</text>
<text x="639.9" y="1318.1" font-size="12.3" text-anchor="end" fill="#222">100K</text>
<text x="639.9" y="1346.6" font-size="12.3" text-anchor="end" fill="#222">50K</text>
<text x="639.9" y="1375.2" font-size="12.3" text-anchor="end" fill="#222">0</text>
<path d="M642.6 1228.1h4M642.6 1256.7h4M642.6 1285.2h4M642.6 1313.8h4M642.6 1342.3h4M642.6 1370.9h4M644.6 1233.8h2M644.6 1239.5h2M644.6 1245.2h2M644.6 1250.9h2M644.6 1262.4h2M644.6 1268.1h2M644.6 1273.8h2M644.6 1279.5h2M644.6 1290.9h2M644.6 1296.6h2M644.6 1302.4h2M644.6 1308.1h2M644.6 1319.5h2M644.6 1325.2h2M644.6 1330.9h2M644.6 1336.6h2M644.6 1348.1h2M644.6 1353.8h2M644.6 1359.5h2M644.6 1365.2h2M655.4 1372.0v4M679.6 1372.0v4M703.6 1372.0v4M743.2 1372.0v4M778.5 1372.0v4M658.3 1372.0v2M661.0 1372.0v2M663.4 1372.0v2M665.6 1372.0v2M667.5 1372.0v2M669.5 1372.0v2M671.4 1372.0v2M673.3 1372.0v2M675.3 1372.0v2M683.9 1372.0v2M685.9 1372.0v2M687.8 1372.0v2M689.7 1372.0v2M691.6 1372.0v2M693.5 1372.0v2M695.5 1372.0v2M697.4 1372.0v2M699.3 1372.0v2M701.2 1372.0v2M715.5 1372.0v2M722.5 1372.0v2M727.5 1372.0v2M731.3 1372.0v2M734.4 1372.0v2M737.1 1372.0v2M739.4 1372.0v2M741.4 1372.0v2M753.8 1372.0v2M760.1 1372.0v2M764.5 1372.0v2M767.9 1372.0v2M770.7 1372.0v2M773.1 1372.0v2M775.1 1372.0v2M776.9 1372.0v2M789.0 1372.0v2M653.0 1372.0v2M651.6 1372.0v2M650.6 1372.0v2M649.8 1372.0v2" stroke="#222" stroke-width="0.9" fill="none"/>
<rect x="677.2" y="1372.0" width="5.4" height="2.6" fill="#000"/>
<text x="655.0" y="1389.5" font-size="12" text-anchor="middle" fill="#222">-10<tspan dy="-4.5" font-size="8.5">3</tspan></text>
<text x="679.6" y="1389.5" font-size="12" text-anchor="middle" fill="#222">0</text>
<text x="705.6" y="1389.5" font-size="12" text-anchor="middle" fill="#222">10<tspan dy="-4.5" font-size="8.5">3</tspan></text>
<text x="745.7" y="1389.5" font-size="12" text-anchor="middle" fill="#222">10<tspan dy="-4.5" font-size="8.5">4</tspan></text>
<text x="782.5" y="1389.5" font-size="12" text-anchor="middle" fill="#222">10<tspan dy="-4.5" font-size="8.5">5</tspan></text>
<path d="M695.1 1372.0 L711.6 1267.2 L792.6 1267.2" stroke="#222" stroke-width="1" fill="none"/>
<text x="788.1" y="1255.7" font-size="24.7" text-anchor="end">75.1%</text>
<g transform="translate(844.6 1221.4) scale(.5)" stroke-width="1.9" stroke-linecap="square" fill="none">
<path d="M173 150h0M64 214h0M218 201h0M164 143h0M191 187h0M97 122h0M169 120h0M182 174h0M63 173h0M156 118h0M150 283h0M232 224h0M185 155h0M167 121h0M74 198h0M106 131h0M173 177h0M201 203h0M99 132h0M223 180h0M182 149h0M208 160h0M153 271h0M242 252h0M228 237h0M64 204h0M154 280h0M229 261h0M227 266h0M233 259h0M91 162h0M64 285h0M80 162h0M192 172h0M176 271h0M230 239h0M159 164h0M69 277h0M218 256h0M171 166h0M127 130h0M87 181h0M64 277h0M171 190h0M66 180h0M176 197h0M202 217h0M153 145h0M72 207h0M96 150h0M113 136h0M214 262h0M184 171h0M200 204h0M67 187h0M94 172h0M144 117h0M58 250h0M197 222h0M119 140h0M142 137h0M135 114h0M140 276h0M124 118h0M75 194h0M123 122h0M136 111h0M71 229h0M138 128h0M151 136h0M78 206h0M227 235h0M197 205h0M106 150h0M175 204h0M161 174h0M179 162h0M169 192h0M66 258h0M57 252h0M218 251h0M222 218h0M187 199h0M211 233h0M77 216h0M148 131h0M150 162h0M79 280h0M144 159h0M105 144h0M222 230h0M66 232h0M105 158h0M109 151h0M136 114h0M212 227h0M180 207h0M134 129h0M66 271h0M180 156h0M219 227h0M112 151h0M219 225h0M98 172h0M113 155h0M232 256h0M78 278h0M213 211h0M217 216h0M135 155h0M160 218h0M216 211h0M85 185h0M96 182h0M163 209h0M134 133h0M58 246h0M122 133h0M214 268h0M219 247h0M142 127h0M213 246h0M113 288h0M82 182h0M219 265h0M215 248h0M179 212h0M158 182h0M122 136h0M220 264h0M205 260h0M163 183h0M87 187h0M72 277h0M62 265h0M137 139h0M178 210h0M148 149h0M74 250h0M130 280h0M187 206h0M215 236h0M102 182h0M103 149h0M148 173h0M149 151h0M104 164h0M117 152h0M130 157h0M187 204h0M203 233h0M155 157h0M153 261h0M160 186h0M147 127h0M164 202h0M156 206h0M81 201h0M169 220h0M151 151h0M194 235h0M111 150h0M133 128h0M145 168h0M148 188h0M206 223h0M78 231h0M106 149h0M157 265h0M149 190h0M154 133h0M201 246h0M208 237h0M193 229h0M167 195h0M151 186h0M217 227h0M211 262h0M143 166h0M80 206h0M160 195h0M127 140h0M189 207h0M155 263h0M113 159h0M157 219h0M219 245h0M100 162h0M198 268h0M168 203h0M146 202h0M73 261h0M176 214h0M204 233h0M159 216h0M135 147h0M105 281h0M70 250h0M97 169h0M213 251h0M153 224h0M149 198h0M141 190h0M149 204h0M193 224h0M187 224h0M203 250h0M154 217h0M191 268h0M63 255h0M193 203h0M135 273h0M211 249h0M104 283h0M85 280h0M171 217h0M125 155h0M154 224h0M84 219h0M208 215h0M132 166h0M122 163h0M130 138h0M78 234h0M171 208h0M180 269h0M180 263h0M150 127h0M206 224h0M214 224h0M130 136h0M82 272h0M145 125h0M155 242h0M173 214h0M145 152h0M190 233h0M159 211h0M195 264h0M141 185h0M84 196h0M192 269h0M159 180h0M91 186h0M189 200h0M161 235h0M152 197h0M137 143h0M171 262h0M166 260h0M190 218h0M138 197h0M192 249h0M75 271h0M202 233h0M88 224h0M210 240h0M215 226h0M194 268h0M105 173h0M160 253h0M141 180h0M157 251h0M139 167h0M180 227h0M174 223h0M154 193h0M149 197h0M143 166h0M73 269h0M102 172h0M132 168h0M77 211h0M80 282h0M166 249h0M104 181h0M157 235h0M114 170h0M83 237h0M196 231h0M164 243h0M140 152h0M185 241h0M79 226h0M189 231h0M152 184h0M167 223h0M81 210h0M192 234h0M74 246h0M196 250h0M178 222h0M182 269h0M76 231h0M189 266h0M140 176h0M68 259h0M145 126h0M158 179h0M84 219h0M191 244h0M68 261h0M79 226h0M77 262h0M148 262h0M79 268h0M203 258h0M87 189h0M152 200h0M165 251h0M145 163h0M122 146h0M103 169h0M92 193h0M147 271h0M149 126h0M87 214h0M160 246h0M208 249h0M192 260h0M170 267h0M142 196h0M146 181h0M80 231h0M119 165h0M75 235h0M89 280h0M76 264h0M136 136h0M165 232h0M82 229h0M189 237h0M177 221h0M205 222h0M160 227h0M149 260h0M145 131h0M171 254h0M173 253h0M127 147h0M139 156h0M86 197h0M181 215h0M134 135h0M146 241h0M162 232h0M77 277h0M113 156h0M150 179h0M156 258h0M190 223h0M184 218h0M136 200h0M148 163h0M112 168h0M145 275h0M165 217h0M132 147h0M111 284h0M184 230h0M174 237h0M146 261h0M82 196h0M145 166h0M132 136h0M151 249h0M181 241h0M154 201h0M174 217h0M158 198h0M154 230h0M198 237h0M121 157h0M181 236h0M187 267h0M147 194h0M142 217h0M147 238h0M113 149h0M168 200h0M136 169h0M123 153h0M96 192h0M171 249h0M201 251h0M133 155h0M151 208h0M150 241h0M166 207h0M103 192h0M189 248h0M205 259h0M79 263h0M172 240h0M159 204h0M126 278h0M133 165h0M169 208h0M147 168h0M187 246h0M115 165h0M84 240h0M187 238h0M169 214h0M126 174h0M101 170h0M92 272h0M158 222h0M93 273h0M87 281h0M184 214h0M164 245h0M107 177h0M183 229h0M164 232h0M97 201h0M210 244h0M184 258h0M210 242h0M132 177h0M204 253h0M132 152h0M156 233h0M145 182h0M142 261h0M161 214h0M169 262h0M122 154h0M186 240h0M165 228h0M84 267h0M145 266h0M151 216h0M133 148h0M85 219h0M167 235h0M203 257h0M109 187h0M150 207h0M150 175h0M104 160h0M124 152h0M155 250h0M184 237h0M148 233h0M194 265h0M191 240h0M96 283h0M94 282h0M136 179h0M168 261h0M152 260h0M209 256h0M118 150h0M127 144h0M138 202h0M83 266h0M130 192h0M94 277h0M181 254h0M177 257h0M93 209h0M111 177h0M122 193h0M150 227h0M94 202h0M200 258h0M124 164h0M91 192h0M195 245h0M114 179h0M137 267h0M165 224h0M93 275h0M179 221h0M189 224h0M182 212h0M142 185h0M84 254h0M145 217h0M164 252h0M153 212h0M126 184h0M148 182h0M185 253h0M204 258h0M165 263h0M85 200h0M76 238h0M74 260h0M146 214h0M139 180h0M161 245h0M150 255h0M164 255h0M158 204h0M141 172h0M147 180h0M86 264h0M155 256h0M189 234h0M174 238h0M106 163h0M202 261h0M128 174h0M84 269h0M198 244h0M173 260h0M204 238h0M205 250h0M145 213h0M74 249h0M142 179h0M106 184h0M174 241h0M71 254h0M147 254h0M84 240h0M125 159h0M179 237h0M139 208h0M146 245h0M147 227h0M105 179h0M142 192h0M125 278h0M82 278h0M75 240h0M107 279h0M121 276h0M82 263h0M131 170h0M120 184h0M119 179h0M148 205h0M85 234h0M204 262h0M180 246h0M152 255h0M109 178h0M136 264h0M131 185h0M147 225h0M105 190h0M87 208h0M129 281h0M180 244h0M169 257h0M116 199h0M164 226h0M110 162h0M139 261h0M153 181h0M111 167h0M107 198h0M181 245h0M82 248h0M93 274h0M85 215h0M94 268h0M188 251h0M88 203h0M87 282h0M95 198h0M104 167h0M116 176h0M127 157h0M88 262h0M97 220h0M86 196h0M132 154h0M140 209h0M78 259h0M86 257h0M104 278h0M103 211h0M157 237h0M95 194h0M85 246h0M85 278h0M86 211h0M102 212h0M163 202h0M209 245h0M119 178h0M141 195h0M126 149h0M140 222h0M143 177h0M142 267h0M139 171h0M115 280h0M103 202h0M117 160h0M73 249h0M183 222h0M176 251h0M191 244h0M125 178h0M146 223h0M198 255h0M138 175h0M160 248h0M134 276h0M96 195h0M120 187h0M171 263h0M90 220h0M180 230h0M152 245h0M131 188h0M169 245h0M134 276h0M81 239h0M151 257h0M139 259h0M123 150h0M172 245h0M160 200h0M175 235h0M144 199h0M124 169h0M75 270h0M151 260h0M108 191h0M107 191h0M167 228h0M125 191h0M117 201h0M183 246h0M118 169h0M185 238h0M100 281h0M85 253h0M149 207h0M78 260h0M95 193h0M130 174h0M200 239h0M86 274h0M173 260h0M108 280h0M152 242h0M167 239h0M115 202h0M118 192h0M132 261h0M96 206h0M141 257h0M202 250h0M97 224h0M143 232h0M130 212h0M97 225h0M123 185h0M90 262h0M81 276h0M195 252h0M136 190h0M108 209h0M79 258h0M114 179h0M101 209h0M161 259h0M135 189h0M170 240h0M114 172h0M97 190h0M139 212h0M114 170h0M94 206h0M129 276h0M188 224h0M159 237h0M147 253h0M163 242h0M167 226h0M84 262h0M145 212h0M144 228h0M145 175h0M145 208h0M199 243h0M171 254h0M120 210h0M122 203h0M94 211h0M192 236h0M183 232h0M121 168h0M153 239h0M181 257h0M89 198h0M103 278h0M121 165h0M90 209h0M191 253h0M152 233h0M105 191h0M95 235h0M148 255h0M79 241h0M131 175h0M86 240h0M140 265h0M79 272h0M109 212h0M98 271h0M140 202h0M81 243h0M180 238h0M79 269h0M162 240h0M99 273h0M129 187h0M100 189h0M141 201h0M114 176h0M192 255h0M150 251h0M195 244h0M108 161h0M88 199h0M115 181h0M88 242h0M130 190h0M139 209h0M169 251h0M91 283h0M187 263h0M77 272h0M96 283h0M120 179h0M137 272h0M95 230h0M191 246h0M99 204h0M138 255h0M99 209h0M120 278h0M86 231h0M100 195h0M94 225h0M126 147h0M124 196h0M146 265h0M94 223h0M97 227h0M88 225h0M89 222h0M170 232h0M168 248h0M188 228h0M170 227h0M146 229h0M141 265h0M106 161h0M152 230h0M77 256h0M151 252h0M88 274h0M131 168h0M118 169h0M136 221h0M182 260h0M196 243h0M107 222h0M142 202h0M134 272h0M142 181h0M106 193h0M106 204h0M122 184h0M130 166h0M178 233h0M112 182h0M107 179h0M185 256h0M91 224h0M112 199h0M140 205h0M147 206h0M83 249h0M89 220h0M95 219h0M119 182h0M94 213h0M123 172h0M101 192h0M182 261h0M89 213h0M97 227h0M120 163h0M96 281h0M167 257h0M194 241h0M103 275h0M87 222h0M127 205h0M141 269h0M133 215h0M195 243h0M118 172h0M192 250h0M131 184h0M179 234h0M138 175h0M191 256h0M79 249h0M121 168h0M113 200h0M118 190h0M136 194h0M97 233h0M84 260h0M128 187h0M129 265h0M144 219h0M109 175h0M119 182h0M133 262h0M180 256h0M136 225h0M91 264h0M103 219h0M130 201h0M147 243h0M100 191h0M200 256h0M150 184h0M148 246h0M136 211h0M94 235h0M125 168h0M101 212h0M100 214h0M145 238h0M94 227h0M83 265h0M112 211h0M103 204h0M91 246h0M175 249h0M96 193h0M111 167h0M180 230h0M111 274h0M141 260h0M185 237h0M93 213h0M95 237h0M77 241h0M107 183h0M192 258h0M111 215h0M170 255h0M178 256h0M99 226h0M172 241h0M85 251h0M143 260h0M122 175h0M136 232h0M143 240h0M96 228h0M96 197h0M141 227h0M93 224h0M97 239h0M100 280h0M114 272h0M136 267h0M136 234h0M79 245h0M141 255h0M100 211h0M90 267h0M115 184h0M141 179h0M180 231h0M111 272h0M199 259h0M94 281h0M140 268h0M122 191h0M179 241h0M140 219h0M128 206h0M101 267h0M103 274h0M145 229h0M134 180h0M199 257h0M143 216h0M180 231h0M85 251h0M101 211h0M91 236h0M144 226h0M102 195h0M140 207h0M86 242h0M190 251h0M129 193h0M143 249h0M139 260h0M80 245h0M142 240h0M118 167h0M89 216h0M93 234h0M83 257h0M134 269h0M96 261h0M192 262h0M100 226h0M82 243h0M134 179h0M90 261h0M102 265h0M91 257h0M165 240h0M189 258h0M183 259h0M149 265h0M125 270h0M106 222h0M102 204h0M91 212h0M140 259h0M143 251h0M124 215h0M109 223h0M184 245h0M113 204h0M130 177h0M114 277h0M143 238h0M122 165h0M123 172h0M140 252h0M106 261h0M108 209h0M135 229h0M166 237h0M120 177h0M85 245h0M130 185h0M181 238h0M87 252h0M109 215h0M141 244h0M144 223h0M147 234h0M146 241h0M80 269h0M86 253h0M178 252h0M95 224h0M95 245h0M120 207h0M130 251h0M107 209h0M111 190h0M125 183h0M93 250h0M136 224h0M116 278h0M176 253h0M106 202h0M135 190h0M107 214h0M136 172h0M103 204h0M86 259h0M115 225h0M99 237h0M180 239h0M174 239h0M108 262h0M98 265h0M137 239h0M128 202h0M114 176h0M182 255h0M133 205h0M146 231h0M133 258h0M117 176h0M132 232h0M126 275h0M95 276h0M181 252h0M114 210h0M130 180h0M100 196h0M127 271h0M114 194h0M124 277h0M110 180h0M112 208h0M99 224h0M77 254h0M140 261h0M120 171h0M99 216h0M94 257h0M89 241h0M185 255h0M123 184h0M197 256h0M110 279h0M98 217h0M128 189h0M95 247h0M147 250h0M100 277h0M140 234h0M134 182h0M85 249h0M112 195h0M136 223h0M177 253h0M90 274h0M133 218h0M118 209h0M98 245h0M126 184h0M186 249h0M180 253h0M120 274h0M133 181h0M124 186h0M183 241h0M119 180h0M106 279h0M134 199h0M149 249h0M100 194h0M130 200h0M134 198h0M113 264h0M184 239h0M90 264h0M92 246h0M142 257h0M96 263h0M96 281h0M196 255h0M88 243h0M177 243h0M93 194h0M92 275h0M199 251h0M87 239h0M112 217h0M130 199h0M139 188h0M135 201h0M116 201h0M174 234h0M148 249h0M180 248h0M86 241h0M126 199h0M143 238h0M96 238h0M144 224h0M135 242h0M109 192h0M109 219h0M106 225h0M88 246h0M180 238h0M100 197h0M91 276h0M98 242h0M134 271h0M123 272h0M176 239h0M122 217h0M141 252h0M118 189h0M175 231h0M101 262h0M134 216h0M81 256h0M174 239h0M142 217h0M116 224h0M132 213h0M179 256h0M182 231h0M124 207h0M140 243h0M127 189h0M186 250h0M144 261h0M172 235h0M99 248h0M104 273h0M99 267h0M132 257h0M107 185h0M139 206h0M128 234h0M119 187h0M91 261h0M114 202h0M136 268h0M99 234h0M125 267h0M98 198h0M133 236h0M141 258h0M118 225h0M118 225h0M134 244h0M99 213h0M97 247h0M109 271h0M148 244h0M95 229h0M83 245h0M134 271h0M123 271h0M132 263h0M122 266h0M127 225h0M133 246h0M148 255h0M116 194h0M133 209h0M129 193h0M130 201h0M105 274h0M107 205h0M110 186h0M149 238h0M138 229h0M111 202h0M133 177h0M98 198h0M136 235h0M122 211h0M84 245h0M127 279h0M183 250h0M131 230h0M117 203h0M94 242h0M109 211h0M123 277h0M111 261h0M109 232h0M127 278h0M85 249h0M125 217h0M84 262h0M131 177h0M92 266h0M141 242h0M140 229h0M118 188h0M123 199h0M189 258h0M95 276h0M94 234h0M132 252h0M117 225h0M97 193h0M132 273h0M132 234h0M113 270h0M130 190h0M189 259h0M105 241h0M118 198h0M120 216h0M118 184h0M138 222h0M128 181h0M104 227h0M135 194h0M87 238h0M91 217h0M132 274h0M130 188h0M135 241h0M83 253h0M97 230h0M99 275h0M138 214h0M104 267h0M196 257h0M132 207h0M115 229h0M126 193h0M117 193h0M89 255h0M89 265h0M130 215h0M129 259h0M136 230h0M118 269h0M96 222h0M100 231h0M137 218h0M98 261h0M114 272h0M136 215h0M130 184h0M182 253h0M135 212h0M113 230h0M122 210h0M120 227h0M101 218h0M92 261h0M133 254h0M89 268h0M122 228h0M119 182h0M140 233h0M178 234h0M113 200h0M118 276h0M102 269h0M100 221h0M129 199h0M125 228h0M148 226h0M106 241h0M82 263h0M108 241h0M110 206h0M106 274h0M119 218h0M112 198h0M110 273h0M98 252h0M123 214h0M116 220h0M86 257h0M141 223h0M129 203h0M128 229h0M122 233h0M115 187h0M81 253h0M118 276h0M131 191h0M138 241h0M132 245h0M135 212h0M104 260h0M111 198h0M104 219h0M116 219h0M140 239h0M90 260h0M93 265h0M109 191h0M126 221h0M138 238h0M91 274h0M122 227h0M88 247h0M96 246h0M116 272h0M103 276h0M135 247h0M95 217h0M88 269h0M108 217h0M133 236h0M128 211h0M109 225h0M109 218h0M123 199h0" stroke="#2a2af2"/>
<path d="M128 240h0M115 275h0M91 227h0M123 213h0M95 237h0M128 275h0M140 225h0M116 264h0M139 251h0M119 221h0M131 272h0M102 253h0M134 215h0M136 207h0M132 258h0M101 256h0M96 237h0M124 220h0M129 269h0M101 264h0M118 197h0M106 269h0M121 271h0M113 202h0M113 243h0M115 220h0M114 196h0M130 274h0M98 275h0M134 221h0M116 200h0M105 241h0M131 182h0M132 269h0M99 225h0M107 209h0M93 266h0M140 242h0M118 240h0M123 230h0M137 214h0M112 241h0M132 226h0M129 205h0M99 249h0M110 202h0M114 186h0M93 237h0M144 260h0M127 216h0M145 222h0M116 204h0M134 181h0M91 275h0M106 214h0M133 270h0M112 237h0M88 255h0M132 224h0M135 207h0M116 270h0M87 262h0M118 259h0M106 224h0M130 186h0M111 276h0M117 212h0M127 250h0M127 269h0M112 229h0M115 244h0M126 203h0M112 226h0M115 213h0M112 253h0M127 262h0M106 222h0M132 255h0M115 229h0M133 201h0M112 191h0M110 196h0M93 249h0M97 274h0M107 217h0M97 216h0M81 265h0M104 261h0M119 193h0M91 250h0M110 257h0M104 251h0M103 213h0M95 251h0M105 278h0M114 267h0M112 211h0M97 246h0M124 196h0M97 272h0M93 224h0M118 197h0M126 264h0M96 255h0M122 180h0M131 189h0M102 254h0M138 223h0M119 235h0M96 245h0M114 208h0M133 237h0M132 247h0M129 263h0M109 193h0M115 264h0M100 256h0M108 250h0M125 202h0M106 254h0M102 273h0M86 269h0M98 242h0M112 255h0M90 241h0M131 238h0M118 180h0M93 252h0M127 260h0M104 228h0M102 237h0M126 202h0M97 246h0M114 191h0M124 262h0M130 245h0M126 239h0M91 232h0M135 228h0M142 234h0M106 196h0M123 186h0M136 256h0M139 224h0M125 230h0M112 244h0M117 182h0M104 221h0M113 197h0M142 232h0M109 235h0M115 237h0M135 240h0M127 248h0M132 228h0M131 229h0M114 237h0M107 236h0M123 235h0M97 265h0M102 234h0M112 213h0M113 193h0M107 274h0M128 230h0M132 239h0M117 188h0M109 260h0M139 257h0M126 201h0M119 242h0M125 227h0M125 189h0M110 230h0M106 196h0M123 231h0M130 206h0M112 236h0M134 249h0M111 222h0M106 227h0M129 222h0M123 268h0M114 195h0M123 236h0M98 229h0M118 268h0M110 264h0M93 261h0M131 247h0M104 249h0M126 218h0M99 244h0M98 225h0M104 269h0M137 235h0M102 275h0M113 279h0M110 212h0M120 273h0M140 241h0M119 218h0M115 217h0M139 248h0M101 210h0M127 227h0M110 235h0M139 241h0M114 275h0M122 205h0M120 215h0M97 234h0M100 262h0M107 243h0M139 220h0M98 216h0M117 273h0M104 222h0M110 235h0M123 198h0M122 225h0M119 229h0M122 197h0M117 228h0M98 250h0M124 223h0M108 233h0M131 237h0M129 208h0M114 237h0M116 257h0M118 208h0M92 258h0M90 247h0M125 228h0M131 238h0M86 245h0M107 268h0M127 188h0M104 215h0M100 226h0M119 206h0M139 233h0M126 225h0M112 240h0M122 263h0M103 221h0M91 238h0M122 218h0M101 226h0M127 253h0M139 224h0M126 209h0M119 260h0M96 268h0M109 275h0M141 236h0M133 219h0M108 199h0M123 207h0M128 245h0M109 269h0M116 219h0M107 215h0M130 223h0M114 195h0M104 270h0M131 252h0M134 240h0M113 273h0M107 232h0M92 253h0M92 253h0M111 229h0M140 232h0M116 260h0M109 246h0M108 243h0M115 258h0M125 225h0M131 207h0M100 235h0M107 272h0M109 210h0M119 216h0M125 245h0M129 200h0M114 252h0M112 195h0M100 225h0M85 249h0M136 254h0M128 216h0M124 238h0M123 252h0M123 271h0M104 257h0M103 269h0M131 241h0M114 237h0M137 230h0M117 210h0M129 248h0M107 239h0M111 216h0M112 221h0M132 209h0M122 235h0M117 245h0M132 228h0M114 259h0M115 214h0M99 240h0M101 270h0M110 219h0M103 255h0M142 232h0M100 257h0M133 213h0" stroke="#2f74f5"/>
<path d="M128 268h0M124 210h0M127 228h0M108 216h0M121 268h0M139 231h0M132 218h0M124 230h0M96 252h0M110 261h0M119 223h0M109 224h0M102 266h0M136 252h0M91 235h0M103 256h0M130 262h0M128 270h0M99 236h0M108 224h0M96 230h0M96 241h0M94 248h0M132 255h0M109 222h0M126 273h0M101 232h0M111 214h0M125 206h0M125 269h0M113 202h0M114 232h0M145 238h0M132 210h0M115 228h0M131 212h0M94 262h0M113 249h0M106 251h0M110 217h0M117 253h0M113 249h0M140 237h0M129 247h0M113 271h0M103 235h0M97 261h0M111 225h0M97 234h0M117 224h0M124 223h0M107 261h0M123 266h0M121 247h0M115 243h0M121 266h0M99 235h0M108 212h0M140 227h0M137 223h0M103 267h0M137 242h0M124 258h0M123 211h0M131 223h0M129 240h0M143 230h0M98 232h0M102 258h0M128 258h0M105 228h0M131 220h0M114 229h0M126 248h0M125 242h0M124 258h0M126 250h0M125 225h0M107 208h0M114 256h0M131 241h0M108 267h0M126 220h0M102 238h0M116 272h0M116 252h0M126 247h0M117 217h0M138 236h0M126 261h0M119 242h0M116 265h0M105 246h0M95 242h0M122 238h0M92 258h0M113 244h0M101 240h0M99 256h0M109 213h0M135 227h0M116 220h0M118 212h0M120 251h0M115 232h0M109 241h0M120 214h0M111 206h0M101 239h0M127 222h0M118 263h0M102 251h0M124 205h0M135 218h0M92 242h0M101 252h0M131 223h0M127 251h0M111 244h0M119 265h0M139 237h0M124 252h0M130 255h0M134 218h0M102 224h0M132 251h0M124 218h0M107 254h0M111 207h0M108 239h0M125 236h0M138 223h0M111 231h0M123 226h0M96 261h0M106 262h0M108 234h0M92 246h0M120 215h0M119 221h0M106 265h0M129 266h0M104 225h0M116 263h0M117 232h0M98 251h0M118 241h0M126 213h0M106 274h0M130 256h0M137 244h0M107 268h0M105 261h0M125 213h0M111 222h0M110 232h0M105 251h0M115 265h0M110 254h0M125 207h0M122 205h0M122 212h0M137 239h0M110 275h0M106 260h0M126 212h0M131 255h0M112 238h0M126 255h0M99 262h0M101 260h0M121 254h0M95 247h0M120 224h0M109 244h0M123 272h0M123 243h0M107 271h0M120 261h0M132 243h0M96 259h0M129 249h0M110 264h0M109 274h0M104 245h0M91 253h0M103 241h0M125 261h0M93 254h0M116 234h0M118 245h0M116 264h0M112 274h0M97 258h0M129 254h0M96 231h0M107 269h0M115 230h0M123 260h0M104 242h0M134 256h0M121 231h0M106 272h0M97 262h0M105 244h0M139 237h0M116 248h0M98 264h0M101 258h0M136 221h0M132 244h0M119 274h0M97 236h0M126 247h0M121 216h0M134 218h0M137 241h0M99 258h0M103 235h0M131 231h0M123 268h0M128 249h0M95 256h0M138 242h0M120 224h0M112 257h0M103 256h0M123 257h0M116 248h0M112 274h0M128 265h0M127 269h0M113 269h0M116 235h0M115 267h0M120 269h0M95 243h0M133 241h0M120 216h0M139 229h0M107 243h0M117 265h0M109 248h0M137 230h0M121 238h0M129 227h0M99 254h0M101 247h0M128 247h0M136 240h0M128 255h0M132 253h0" stroke="#2cb8c4"/>
<path d="M133 238h0M109 237h0M127 225h0M98 256h0M124 236h0M112 234h0M99 241h0M106 235h0M132 233h0M116 212h0M122 218h0M98 243h0M130 236h0M123 274h0M127 233h0M122 261h0M107 263h0M116 254h0M111 268h0M116 223h0M126 246h0M113 270h0M106 226h0M131 239h0M127 224h0M122 226h0M110 245h0M114 213h0M110 249h0M133 220h0M117 247h0M111 235h0M112 254h0M108 252h0M129 252h0M98 235h0M119 244h0M115 262h0M118 231h0M116 240h0M132 235h0M121 261h0M116 259h0M100 247h0M101 239h0M121 246h0M121 213h0M123 235h0M111 272h0M113 260h0M138 243h0M119 218h0M128 255h0M118 210h0M98 249h0M114 245h0M119 230h0M123 256h0M116 268h0M102 257h0M125 248h0M138 232h0M113 263h0M106 232h0M106 253h0M120 213h0M120 266h0M126 251h0M110 253h0M107 259h0M129 250h0M122 243h0M116 252h0M106 231h0M116 243h0M116 236h0M125 217h0M111 226h0M114 217h0M113 225h0M117 243h0M115 220h0M126 256h0M129 248h0M122 262h0M109 250h0M117 253h0M118 272h0M106 262h0M108 265h0M105 254h0M114 216h0M134 247h0M125 227h0M114 239h0M125 257h0M107 260h0M114 240h0M126 230h0M111 262h0M130 237h0M107 227h0M133 248h0M127 220h0M119 249h0M122 248h0M102 244h0M108 240h0M112 263h0M113 247h0M118 215h0M131 257h0M119 214h0M113 267h0M113 228h0M130 225h0M120 253h0M110 229h0M109 231h0M128 264h0M99 249h0M122 238h0M105 258h0M109 229h0M107 241h0M100 249h0M101 232h0M100 263h0M128 220h0M111 257h0M128 243h0M115 244h0M123 248h0M136 232h0M114 231h0M114 216h0M102 253h0M116 221h0M118 234h0M106 264h0M110 229h0M106 268h0M120 270h0M113 231h0M123 260h0M114 227h0M122 226h0M99 245h0M123 235h0M129 219h0M128 245h0M131 254h0M134 247h0M117 243h0M111 256h0M117 223h0M123 246h0M117 259h0M133 231h0M118 254h0M128 262h0M101 258h0M108 257h0M122 263h0M130 260h0M127 250h0M119 232h0M109 249h0M101 241h0M122 248h0M106 230h0M121 225h0M116 262h0M119 250h0M110 232h0M126 239h0M122 237h0M117 246h0M108 245h0M104 235h0M105 249h0M106 247h0M112 235h0M128 262h0M108 263h0M120 267h0M107 250h0M128 243h0M105 254h0M122 230h0M125 223h0M127 229h0M125 251h0M113 250h0M117 238h0M130 226h0M122 219h0M123 256h0M115 264h0M103 248h0M104 248h0M116 240h0M122 235h0M128 259h0M118 264h0M105 258h0M118 250h0M124 225h0M110 241h0M117 267h0M123 236h0M116 252h0M122 226h0M111 226h0M130 229h0M106 255h0M104 239h0M124 258h0M129 263h0M129 231h0M109 254h0M108 238h0M114 265h0M108 232h0M108 251h0M124 236h0M120 241h0M117 218h0M129 247h0M123 264h0M122 242h0M125 254h0M110 255h0M114 252h0M122 269h0M116 238h0M124 223h0M131 247h0M125 221h0M118 247h0M130 241h0M112 250h0M130 231h0M122 223h0M130 228h0M117 225h0M109 241h0M130 239h0M111 253h0M128 243h0M120 266h0M121 248h0M131 247h0M115 253h0M122 241h0M124 263h0M119 260h0M104 236h0M131 249h0M123 238h0M125 246h0M121 255h0" stroke="#3cc45a"/>
<path d="M107 253h0M120 236h0M111 265h0M121 261h0M106 234h0M102 237h0M107 253h0M118 267h0M125 249h0M130 230h0M107 231h0M115 250h0M103 248h0M133 243h0M118 228h0M103 251h0M108 251h0M113 240h0M129 222h0M119 259h0M123 267h0M124 255h0M110 250h0M108 237h0M119 246h0M105 245h0M122 227h0M123 252h0M123 269h0M129 256h0M129 228h0M115 227h0M121 246h0M123 240h0M117 230h0M128 238h0M121 223h0M125 250h0M113 235h0M107 240h0M130 255h0M112 252h0M119 269h0M120 223h0M100 241h0M118 239h0M107 254h0M118 251h0M118 259h0M115 242h0M113 247h0M124 244h0M129 234h0M109 241h0M125 238h0M106 249h0M107 243h0M114 231h0M126 232h0M115 257h0M126 235h0M124 253h0M123 225h0M120 253h0M115 247h0M105 248h0M118 247h0M118 255h0M129 253h0M128 259h0M107 240h0M108 250h0M113 235h0M125 250h0M124 260h0M125 236h0M122 226h0M119 245h0M130 231h0M122 247h0M124 249h0M108 240h0M116 244h0M113 246h0M121 221h0M124 243h0M120 237h0M115 253h0M126 257h0M118 259h0M123 240h0M118 233h0M123 257h0M122 251h0M125 253h0M107 248h0M113 256h0M114 252h0" stroke="#b8d030"/>
<path d="M130 242h0M123 252h0M111 243h0M120 245h0M120 256h0M122 248h0M125 248h0M119 254h0M122 238h0M115 239h0M107 245h0M121 262h0M105 250h0M124 256h0M126 243h0M124 238h0M130 252h0M130 243h0M122 239h0M117 253h0M123 257h0M125 245h0M125 244h0M116 251h0M127 241h0M118 240h0M116 244h0M120 252h0M118 245h0M110 252h0M121 250h0M128 241h0M120 254h0M115 254h0M111 238h0M115 245h0M123 237h0M130 253h0M116 251h0M127 255h0M120 248h0M111 250h0M127 241h0M121 252h0M117 256h0M119 240h0M124 240h0M121 241h0M117 253h0M117 255h0M130 252h0" stroke="#f0a020"/>
<path d="M130 242h0M127 253h0M114 248h0M124 250h0M117 247h0M117 241h0M111 250h0M117 241h0M120 252h0M123 254h0M124 250h0M116 253h0M119 251h0M118 253h0M125 247h0M117 254h0M113 249h0M113 246h0M119 250h0M119 254h0M117 252h0M123 247h0" stroke="#ee4416"/>
</g>
<rect x="844.6" y="1221.4" width="146" height="150.6" fill="none" stroke="#333" stroke-width="0.9"/>
<text x="837.9" y="1232.4" font-size="12.3" text-anchor="end" fill="#222">250K</text>
<text x="837.9" y="1261.0" font-size="12.3" text-anchor="end" fill="#222">200K</text>
<text x="837.9" y="1289.5" font-size="12.3" text-anchor="end" fill="#222">150K</text>
<text x="837.9" y="1318.1" font-size="12.3" text-anchor="end" fill="#222">100K</text>
<text x="837.9" y="1346.6" font-size="12.3" text-anchor="end" fill="#222">50K</text>
<text x="837.9" y="1375.2" font-size="12.3" text-anchor="end" fill="#222">0</text>
<path d="M840.6 1228.1h4M840.6 1256.7h4M840.6 1285.2h4M840.6 1313.8h4M840.6 1342.3h4M840.6 1370.9h4M842.6 1233.8h2M842.6 1239.5h2M842.6 1245.2h2M842.6 1250.9h2M842.6 1262.4h2M842.6 1268.1h2M842.6 1273.8h2M842.6 1279.5h2M842.6 1290.9h2M842.6 1296.6h2M842.6 1302.4h2M842.6 1308.1h2M842.6 1319.5h2M842.6 1325.2h2M842.6 1330.9h2M842.6 1336.6h2M842.6 1348.1h2M842.6 1353.8h2M842.6 1359.5h2M842.6 1365.2h2M853.4 1372.0v4M877.6 1372.0v4M901.6 1372.0v4M941.2 1372.0v4M976.5 1372.0v4M856.3 1372.0v2M858.9 1372.0v2M861.3 1372.0v2M863.5 1372.0v2M865.5 1372.0v2M867.4 1372.0v2M869.3 1372.0v2M871.3 1372.0v2M873.2 1372.0v2M881.9 1372.0v2M883.8 1372.0v2M885.7 1372.0v2M887.6 1372.0v2M889.6 1372.0v2M891.5 1372.0v2M893.4 1372.0v2M895.3 1372.0v2M897.2 1372.0v2M899.2 1372.0v2M913.5 1372.0v2M920.5 1372.0v2M925.4 1372.0v2M929.2 1372.0v2M932.4 1372.0v2M935.0 1372.0v2M937.3 1372.0v2M939.3 1372.0v2M951.8 1372.0v2M958.0 1372.0v2M962.4 1372.0v2M965.8 1372.0v2M968.6 1372.0v2M971.0 1372.0v2M973.0 1372.0v2M974.8 1372.0v2M986.9 1372.0v2M851.0 1372.0v2M849.5 1372.0v2M848.5 1372.0v2M847.8 1372.0v2" stroke="#222" stroke-width="0.9" fill="none"/>
<rect x="875.2" y="1372.0" width="5.4" height="2.6" fill="#000"/>
<text x="853.0" y="1389.5" font-size="12" text-anchor="middle" fill="#222">-10<tspan dy="-4.5" font-size="8.5">3</tspan></text>
<text x="877.6" y="1389.5" font-size="12" text-anchor="middle" fill="#222">0</text>
<text x="903.6" y="1389.5" font-size="12" text-anchor="middle" fill="#222">10<tspan dy="-4.5" font-size="8.5">3</tspan></text>
<text x="943.7" y="1389.5" font-size="12" text-anchor="middle" fill="#222">10<tspan dy="-4.5" font-size="8.5">4</tspan></text>
<text x="980.5" y="1389.5" font-size="12" text-anchor="middle" fill="#222">10<tspan dy="-4.5" font-size="8.5">5</tspan></text>
<path d="M893.1 1372.0 L909.6 1267.2 L990.6 1267.2" stroke="#222" stroke-width="1" fill="none"/>
<text x="986.1" y="1255.7" font-size="24.7" text-anchor="end">78.5%</text>
<g transform="translate(1042.5 1221.4) scale(.5)" stroke-width="1.9" stroke-linecap="square" fill="none">
<path d="M58 279h0M221 138h0M262 237h0M265 269h0M210 139h0M252 180h0M77 280h0M65 198h0M114 113h0M231 181h0M36 248h0M164 114h0M83 149h0M82 132h0M210 152h0M67 202h0M250 233h0M196 156h0M226 171h0M233 171h0M258 247h0M135 128h0M169 128h0M208 125h0M189 134h0M68 274h0M110 118h0M221 165h0M248 239h0M72 164h0M141 116h0M42 232h0M99 115h0M242 261h0M156 144h0M211 274h0M208 158h0M250 215h0M236 272h0M71 208h0M166 146h0M197 136h0M156 128h0M123 120h0M118 286h0M187 120h0M119 128h0M57 220h0M79 154h0M229 213h0M200 131h0M106 179h0M180 122h0M214 166h0M68 168h0M82 165h0M83 196h0M205 174h0M74 211h0M239 246h0M61 247h0M65 230h0M86 159h0M182 141h0M83 225h0M251 216h0M144 160h0M172 125h0M113 168h0M86 182h0M241 233h0M220 152h0M151 162h0M245 240h0M209 139h0M175 146h0M140 282h0M238 231h0M115 131h0M64 241h0M80 182h0M192 153h0M72 244h0M146 149h0M94 176h0M102 143h0M156 153h0M168 136h0M109 283h0M236 263h0M224 269h0M239 268h0M233 231h0M237 246h0M117 141h0M131 120h0M222 200h0M81 201h0M139 152h0M90 281h0M108 128h0M145 153h0M212 149h0M125 282h0M168 141h0M187 151h0M135 125h0M216 159h0M188 152h0M152 130h0M148 134h0M136 170h0M95 157h0M83 179h0M151 138h0M111 126h0M128 120h0M101 150h0M189 142h0M63 248h0M166 137h0M121 120h0M216 215h0M81 195h0M190 169h0M72 228h0M229 223h0M214 181h0M83 210h0M183 277h0M228 198h0M101 283h0M188 149h0M145 276h0M217 167h0M99 171h0M175 276h0M160 154h0M222 186h0M178 142h0M131 136h0M201 164h0M72 267h0M194 167h0M158 280h0M230 230h0M222 193h0M90 162h0M140 140h0M188 172h0M102 145h0M113 283h0M77 226h0M102 161h0M105 166h0M80 170h0M220 200h0M140 164h0M150 134h0M127 127h0M107 144h0M144 149h0M72 238h0M228 189h0M66 256h0M108 147h0M202 132h0M228 263h0M218 187h0M141 160h0M84 172h0M175 135h0M85 195h0M109 185h0M73 255h0M96 183h0M77 212h0M227 265h0M209 187h0M167 276h0M82 208h0M220 188h0M80 259h0M68 251h0M139 140h0M232 234h0M144 277h0M178 159h0M72 212h0M216 163h0M212 273h0M79 234h0M88 199h0M228 183h0M226 193h0M89 279h0M161 276h0M223 266h0M200 168h0M230 241h0M124 134h0M82 165h0M130 278h0M221 205h0M153 173h0M209 188h0M131 162h0M210 187h0M110 148h0M203 168h0M155 165h0M129 144h0M84 205h0M133 168h0M180 150h0M101 175h0M87 168h0M196 167h0M209 198h0M228 259h0M115 176h0M71 266h0M154 167h0M150 172h0M97 167h0M233 245h0M130 125h0M150 159h0M142 143h0M207 193h0M171 167h0M223 223h0M106 158h0M217 189h0M221 233h0M225 245h0M96 177h0M173 169h0M98 163h0M142 154h0M184 168h0M80 249h0M148 178h0M191 165h0M133 275h0M207 208h0M150 147h0M210 203h0M122 128h0M116 131h0M152 171h0M80 252h0M175 161h0M184 170h0M215 261h0M229 211h0M89 196h0M159 162h0M115 157h0M169 165h0M214 202h0M203 186h0M179 275h0M103 163h0M105 165h0M105 184h0M115 281h0M73 264h0M119 137h0M152 139h0M177 155h0M84 241h0M112 148h0M203 271h0M82 245h0M193 183h0M173 171h0M117 138h0M93 187h0M83 225h0M133 139h0M198 163h0M180 150h0M89 212h0M145 157h0M151 181h0M102 159h0M139 185h0M233 241h0M221 235h0M132 135h0M196 179h0M137 180h0M227 264h0M73 236h0M111 159h0M79 248h0M227 226h0M135 147h0M77 238h0M175 177h0M85 270h0M226 262h0M189 181h0M212 200h0M222 208h0M197 195h0M76 264h0M206 200h0M130 172h0M149 166h0M221 251h0M228 205h0M152 156h0M144 171h0M154 175h0M203 198h0M83 226h0M186 155h0M72 264h0M188 181h0M117 172h0M181 164h0M90 263h0M198 180h0M167 157h0M149 271h0M107 145h0M120 278h0M118 147h0M161 279h0M93 224h0M123 151h0M197 275h0M92 193h0M149 273h0M198 178h0M209 266h0M134 150h0M125 168h0M185 172h0M170 159h0M96 200h0M99 280h0M205 190h0M198 170h0M121 140h0M215 248h0M162 157h0M92 214h0M86 212h0M124 122h0M208 216h0M108 282h0M87 213h0M153 165h0M92 273h0M187 190h0M93 223h0M221 255h0M136 187h0M100 165h0M112 275h0M123 126h0M160 195h0M229 244h0M217 210h0M183 156h0M222 238h0M193 184h0M97 188h0M80 243h0M121 170h0M80 268h0M109 275h0M177 158h0M174 171h0M183 182h0M146 179h0M135 183h0M216 248h0M124 146h0M126 180h0M165 162h0M182 160h0M223 217h0M89 237h0M143 180h0M79 229h0M188 275h0M166 159h0M210 269h0M120 271h0M142 272h0M222 196h0M95 277h0M205 210h0M218 218h0M226 251h0M182 192h0M87 233h0M94 215h0M73 262h0M219 235h0M222 199h0M222 214h0M98 190h0M123 170h0M188 183h0M211 256h0M200 187h0M224 224h0M169 176h0M183 167h0M123 165h0M189 164h0M144 145h0M138 269h0M144 155h0M153 273h0M81 269h0M226 258h0M213 218h0M99 181h0M223 250h0M230 254h0M204 271h0M97 194h0M131 166h0M195 198h0M90 184h0M139 184h0M215 254h0M88 243h0M127 149h0M214 186h0M196 202h0M120 147h0M96 276h0M93 278h0M190 185h0M219 188h0M160 179h0M140 275h0M93 267h0M152 184h0M210 241h0M211 209h0M203 203h0M124 278h0M148 190h0M91 213h0M136 187h0M89 245h0M139 181h0M188 272h0M224 187h0M109 189h0M114 173h0M162 166h0M164 171h0M155 179h0M100 166h0M123 168h0M99 195h0M109 146h0M90 258h0M234 239h0M178 276h0M78 252h0M100 273h0M126 157h0M216 234h0M154 275h0M97 208h0M196 175h0M131 158h0M202 194h0M224 203h0M98 221h0M231 236h0M166 181h0M196 212h0M197 213h0M178 173h0M116 156h0M172 183h0M94 206h0M103 165h0M191 177h0M165 186h0M115 184h0M149 198h0M168 163h0M88 233h0M197 209h0M124 178h0M141 192h0M149 180h0M199 193h0M115 168h0M112 189h0M225 243h0M190 272h0M156 193h0M87 233h0M201 219h0M175 158h0M89 263h0M116 157h0M77 250h0M217 220h0M140 272h0M86 275h0M134 152h0M156 199h0M163 163h0M149 187h0M206 210h0M100 170h0M228 243h0M198 186h0M147 205h0M211 212h0M96 232h0M102 187h0M126 177h0M123 166h0M158 173h0M154 204h0M124 158h0M82 232h0M150 261h0M173 180h0M215 258h0M192 276h0M117 155h0M97 188h0M158 263h0M116 162h0M215 218h0M230 245h0M178 272h0M87 247h0M178 177h0M85 255h0M165 204h0M150 188h0M113 272h0M99 181h0M167 169h0M126 185h0M191 169h0M94 214h0M200 187h0M149 201h0M177 276h0M132 194h0M216 264h0M169 163h0M194 200h0M93 262h0M216 244h0M84 242h0M203 272h0M168 195h0M158 209h0M85 232h0M117 175h0M82 268h0M85 225h0M138 172h0M87 267h0M125 182h0M209 204h0M136 174h0M103 272h0M95 265h0M176 176h0M89 238h0M180 271h0M161 173h0M164 189h0M117 180h0M201 270h0M214 206h0M167 277h0M225 251h0M160 266h0M153 197h0M139 177h0M130 155h0M114 185h0M113 272h0M193 178h0M78 236h0M217 224h0M178 273h0M182 198h0M135 156h0M179 176h0M96 269h0M131 167h0M115 159h0M160 261h0M94 219h0M81 250h0M188 200h0M195 271h0M151 186h0M158 195h0M196 207h0M132 206h0M198 272h0M117 278h0M191 200h0M201 268h0M90 260h0M123 179h0M81 252h0M225 242h0M101 187h0M200 197h0M160 189h0M139 171h0M215 245h0M142 186h0M193 175h0M122 270h0M112 192h0M161 180h0M125 275h0M121 157h0M159 204h0M175 175h0M107 200h0M166 179h0M144 198h0M190 201h0M78 240h0M207 273h0M211 239h0M195 184h0M110 183h0M161 189h0M177 190h0M127 212h0M87 231h0M224 259h0M135 268h0M82 254h0M97 230h0M181 217h0M160 262h0M91 252h0M153 269h0M221 254h0M201 189h0M106 194h0M189 221h0M184 212h0M202 197h0M98 235h0M170 218h0M155 206h0M87 256h0M110 196h0M144 267h0M107 194h0M168 271h0M189 274h0M100 197h0M113 199h0M81 263h0M149 191h0M181 194h0M97 206h0M96 207h0M101 203h0M216 256h0M96 240h0M87 254h0M168 174h0M156 177h0M124 187h0M118 165h0M121 272h0M161 172h0M107 196h0M156 179h0M205 250h0M127 219h0M193 270h0M112 190h0M188 219h0M147 214h0M161 187h0M179 194h0M179 205h0M99 229h0M98 270h0M188 187h0M167 184h0M127 156h0M132 165h0M175 207h0M122 154h0M215 218h0M217 241h0M181 180h0M144 210h0M118 272h0M212 259h0M227 259h0M144 180h0M214 228h0M127 161h0M98 238h0M123 159h0M216 234h0M194 215h0M116 270h0M125 177h0M129 183h0M101 181h0M174 181h0M188 188h0M162 179h0M117 278h0M92 259h0M185 220h0M167 220h0M83 228h0M206 203h0M180 205h0M178 209h0M97 266h0M176 217h0M202 223h0M125 155h0M170 225h0M150 201h0M169 194h0M193 202h0M190 196h0M128 207h0M201 215h0M100 224h0M94 222h0M98 262h0M194 221h0M213 212h0M142 209h0M123 159h0M158 182h0M207 214h0M157 188h0M158 173h0M137 200h0M137 261h0M117 178h0M190 271h0M169 222h0M184 182h0M118 173h0M184 266h0M197 222h0M160 182h0M131 204h0M211 231h0M188 209h0M149 187h0M149 211h0M103 223h0M95 235h0M113 276h0M206 204h0M215 259h0M127 268h0M168 220h0M85 248h0M161 269h0M193 271h0M211 232h0M122 270h0M175 162h0M163 201h0M104 212h0M162 194h0M109 279h0M181 221h0M225 256h0M87 248h0M204 197h0M173 224h0M151 273h0M108 274h0M106 278h0M176 185h0M142 198h0M174 176h0M166 180h0M87 230h0M205 232h0M168 193h0M99 227h0M110 202h0M132 266h0M165 208h0M184 204h0M95 260h0M209 225h0M230 257h0M109 202h0M128 152h0M131 217h0M157 273h0M104 197h0M154 180h0M188 189h0M144 205h0M124 261h0M188 204h0M147 251h0M105 214h0M143 177h0M170 221h0M160 206h0M167 267h0M167 170h0M97 191h0M180 188h0M145 265h0M208 229h0M211 242h0M133 233h0M132 209h0M146 207h0M179 206h0M99 204h0M89 233h0M102 240h0M161 263h0M151 197h0M186 187h0M106 232h0M212 263h0M131 206h0M103 186h0M143 177h0M142 257h0M106 186h0M124 167h0M155 250h0M192 264h0M106 219h0M161 183h0M97 277h0M130 188h0M206 226h0M151 238h0M148 208h0M90 219h0M129 165h0M182 266h0M201 208h0M171 267h0M200 231h0M107 231h0M135 199h0M113 202h0M191 204h0M94 215h0M91 270h0M172 186h0M146 217h0M187 207h0M98 209h0M204 206h0M175 193h0M163 175h0M161 252h0M168 227h0M160 210h0M125 214h0M191 183h0M143 211h0M123 211h0M195 261h0M150 253h0M84 238h0M147 255h0M195 219h0M153 226h0M122 191h0M113 204h0M100 195h0M169 182h0M197 196h0M206 251h0M167 268h0M160 269h0M150 185h0M103 198h0M134 233h0M113 265h0M176 206h0M185 212h0M153 185h0M190 250h0M191 271h0M116 214h0M191 193h0M200 248h0M206 232h0M135 274h0M157 209h0M179 184h0M194 211h0M184 225h0M172 223h0M140 214h0M122 220h0M195 218h0M93 230h0M206 212h0M219 255h0M167 265h0M162 172h0M137 185h0M193 252h0M207 262h0M103 217h0M148 199h0M176 216h0M153 214h0M169 165h0M145 254h0M185 196h0M86 266h0M101 277h0M93 249h0M170 197h0M108 227h0M120 155h0M175 202h0M126 243h0M90 251h0M89 261h0M140 222h0M160 198h0M110 268h0M142 249h0M192 223h0M160 214h0M120 187h0M158 211h0M210 262h0M158 251h0M202 268h0M154 199h0M180 209h0M184 194h0M119 197h0M131 223h0M148 191h0M127 207h0M170 204h0M120 221h0M131 188h0M94 271h0M148 267h0M213 235h0M142 263h0M192 265h0M207 262h0M181 210h0M211 249h0M169 257h0M144 201h0M166 211h0M215 223h0M146 224h0M138 268h0M166 250h0M100 200h0M128 170h0M186 218h0M160 252h0M155 217h0M171 266h0M84 247h0M150 234h0M196 196h0M186 202h0M179 213h0M141 260h0M142 252h0M124 150h0M194 257h0M158 232h0M108 237h0M141 215h0M102 200h0M98 277h0M194 207h0M211 239h0M125 155h0M215 242h0M148 256h0M98 195h0M192 254h0M142 211h0M119 179h0M123 270h0M212 261h0M88 264h0M167 197h0M191 251h0M179 193h0M199 207h0M125 178h0M83 248h0M109 229h0M165 244h0M158 202h0M176 205h0M97 204h0M196 190h0M216 236h0M129 175h0M125 167h0M83 234h0M101 220h0M105 191h0M197 198h0M164 202h0M213 238h0M122 193h0M196 245h0M110 199h0M100 207h0M109 268h0M170 241h0M200 242h0M122 211h0M174 234h0M143 226h0M150 196h0M189 221h0M203 190h0M164 194h0M102 185h0M136 187h0M211 243h0M168 258h0M198 219h0M129 187h0M197 257h0M168 232h0M126 239h0M218 247h0M119 209h0M201 209h0M91 240h0M116 180h0M204 264h0M127 209h0M201 263h0M101 210h0M100 233h0M176 234h0M172 189h0M165 257h0M126 261h0M172 223h0M162 199h0M143 238h0M119 270h0M170 207h0M200 211h0M129 206h0M97 235h0M139 245h0M128 169h0M202 267h0M217 246h0M202 246h0M154 236h0M200 236h0M138 199h0M151 218h0M127 170h0M182 213h0M176 203h0M90 218h0M114 274h0M165 225h0M142 214h0M192 181h0M192 262h0M139 221h0M200 223h0M163 240h0M177 217h0M102 215h0M145 240h0M85 262h0M171 227h0M122 184h0M142 261h0M129 266h0M167 244h0M109 222h0M132 245h0M172 207h0M121 208h0M137 189h0M179 253h0M122 224h0M149 226h0M162 231h0M171 220h0M184 204h0M147 204h0M186 205h0M179 188h0M161 235h0M122 179h0M103 199h0M155 239h0M133 249h0M176 197h0M170 195h0M149 267h0M186 253h0M202 232h0M165 267h0M157 266h0M97 258h0M206 242h0M176 221h0M105 261h0M173 218h0M133 237h0M173 233h0M167 197h0M178 270h0M177 213h0M186 226h0M136 224h0M137 195h0M141 238h0M124 167h0M218 252h0M150 216h0M93 271h0M163 235h0M204 218h0M116 213h0M151 249h0M153 249h0M105 196h0M172 183h0M147 194h0M205 260h0M132 187h0M205 242h0M126 249h0M177 230h0M127 206h0M151 224h0M159 223h0M109 225h0M167 200h0M119 267h0M168 266h0M171 261h0M129 268h0M211 249h0M131 268h0M132 256h0M167 273h0M214 253h0M123 196h0M106 217h0M157 232h0M176 260h0M129 256h0M133 244h0M159 270h0M172 180h0M138 273h0M147 198h0M173 213h0M167 211h0M199 264h0M211 229h0M164 237h0M173 246h0M119 207h0M122 257h0M130 224h0M159 259h0M206 215h0M131 196h0M106 264h0M106 264h0M127 223h0M157 199h0M105 218h0M115 200h0M162 219h0M176 190h0M115 263h0M114 223h0M178 211h0M123 191h0M156 229h0M152 217h0M196 249h0M172 208h0M179 224h0M155 235h0M200 235h0M153 266h0M139 219h0M170 267h0M160 224h0M111 216h0M115 196h0M100 252h0M212 225h0M124 242h0M124 210h0M113 212h0M104 197h0M132 207h0M126 219h0M156 222h0M195 205h0M172 237h0M156 228h0M191 197h0M198 205h0M138 258h0M139 271h0M117 193h0M185 221h0M138 235h0M125 261h0M154 254h0M104 271h0M211 255h0M151 193h0M106 273h0M126 266h0M133 208h0M132 254h0M139 272h0M120 214h0M94 232h0M172 193h0M143 236h0M124 229h0M172 265h0M115 219h0M125 221h0M167 200h0M161 249h0M156 175h0M145 194h0M119 225h0M181 255h0M191 275h0M95 220h0M143 266h0M178 253h0M149 253h0M165 237h0M95 248h0M148 225h0M103 214h0M109 212h0M143 236h0M206 230h0M122 239h0M166 245h0M95 213h0M115 217h0M144 223h0M148 264h0M181 201h0M167 269h0M146 234h0M145 230h0M106 263h0M124 266h0M193 206h0M111 226h0M159 251h0M146 207h0M112 197h0M208 222h0M168 201h0M118 204h0M130 220h0M139 214h0M160 241h0M102 191h0M93 261h0M160 198h0M156 219h0M166 193h0M139 273h0M147 211h0M117 225h0M170 184h0M128 195h0M210 224h0M170 254h0M88 231h0M177 200h0M121 172h0M145 269h0M110 269h0M119 207h0M127 263h0M109 210h0M101 269h0M193 204h0M202 234h0M161 270h0M178 258h0M149 192h0M95 236h0M191 232h0M197 229h0M109 222h0M121 244h0M170 272h0M214 235h0M156 255h0M171 204h0M156 222h0M211 245h0M148 231h0M188 201h0M114 268h0M149 217h0M191 260h0M186 212h0M140 266h0M145 247h0M176 226h0M113 264h0M177 257h0M199 255h0M105 240h0M187 203h0M110 228h0M108 206h0M199 220h0M126 234h0M111 228h0M183 248h0M173 223h0M151 265h0M205 248h0M185 267h0M131 236h0M140 246h0M138 220h0M97 225h0M208 246h0M200 241h0M91 232h0M156 228h0M99 253h0M176 216h0M182 267h0M164 202h0M122 247h0M183 207h0M106 239h0M196 256h0M112 209h0M133 249h0M126 257h0M119 263h0M195 213h0M139 238h0M168 194h0M150 249h0M115 199h0M155 201h0M98 275h0M161 236h0M127 253h0M176 272h0M193 271h0M168 243h0M162 267h0M159 198h0M194 219h0M214 225h0M134 187h0M102 270h0M91 212h0M140 212h0M121 221h0M215 252h0M103 230h0M163 215h0M130 228h0M122 261h0M114 228h0M203 241h0M98 272h0M163 211h0M129 221h0M132 210h0M174 213h0M166 201h0M180 249h0M138 249h0M93 260h0M130 247h0M215 248h0M115 220h0M133 222h0M126 235h0M160 230h0M191 219h0M133 212h0M203 264h0M131 225h0M190 251h0M152 216h0M123 186h0M155 234h0M201 255h0M151 192h0M99 263h0M176 226h0M194 267h0M94 258h0M108 272h0M108 210h0M100 210h0M150 240h0M147 252h0M106 250h0M108 240h0M99 221h0M99 273h0M123 259h0M209 244h0M157 256h0M200 265h0M209 243h0M130 228h0M146 219h0M87 237h0M181 209h0M124 261h0M153 260h0M139 264h0M191 224h0M112 218h0M118 255h0M124 172h0M208 227h0M170 268h0M154 232h0M120 183h0M177 199h0M167 193h0M124 274h0M145 263h0M143 227h0M197 264h0M141 196h0M170 204h0M186 262h0M192 204h0M99 225h0M196 216h0M167 231h0M171 256h0M131 203h0M130 235h0M105 225h0M158 205h0M123 223h0M186 240h0M90 233h0M168 215h0M98 218h0M135 195h0M121 210h0M162 251h0M96 249h0M148 252h0M115 241h0M175 228h0M173 235h0M210 246h0M133 259h0M137 208h0M180 205h0M127 225h0M175 231h0M187 201h0M154 230h0M144 235h0M147 246h0M118 251h0M174 219h0M176 205h0M198 262h0M167 204h0M138 246h0M191 252h0M168 209h0M172 239h0M102 212h0M119 241h0M165 272h0M159 253h0M185 218h0M132 230h0M115 185h0M186 201h0M145 217h0M159 260h0M152 200h0M99 236h0M153 254h0M101 230h0M199 237h0M178 247h0M122 241h0M194 211h0M173 240h0M167 244h0M155 218h0M131 266h0M108 197h0M195 251h0M176 263h0M118 188h0M155 263h0M132 240h0M180 268h0M179 196h0M111 253h0M138 208h0M173 257h0M92 246h0M107 217h0M115 202h0M206 259h0M125 236h0M171 244h0M117 192h0M169 222h0M146 207h0M171 196h0M101 213h0M134 227h0M177 233h0M144 192h0M175 250h0M141 219h0M95 248h0M134 197h0M181 264h0M112 250h0M119 264h0M110 194h0M142 219h0M162 237h0M125 181h0M129 236h0M115 212h0M180 260h0M148 261h0M125 266h0M117 208h0M132 234h0M180 238h0M128 198h0M188 247h0M141 252h0M111 215h0M126 194h0M155 251h0M192 261h0M104 244h0M180 244h0M174 268h0M160 240h0M205 221h0M189 244h0M163 235h0M170 249h0M138 260h0M200 209h0M104 244h0M198 201h0M129 251h0M207 257h0M104 250h0M177 196h0M168 205h0M173 213h0M156 205h0M115 203h0M163 274h0M134 260h0M188 207h0M163 209h0M132 240h0M184 265h0M165 247h0M130 212h0M98 262h0M208 236h0M185 241h0M154 205h0M123 230h0M166 271h0M145 225h0M109 245h0M116 251h0M115 192h0M160 249h0M106 194h0M193 218h0M186 266h0M177 236h0M189 216h0M190 250h0M199 246h0M116 251h0M189 230h0M139 262h0M101 261h0M180 257h0M143 225h0M163 262h0M148 244h0M120 255h0M158 238h0M151 236h0M109 196h0M181 232h0M141 210h0M129 230h0M107 262h0M192 257h0M116 265h0M172 244h0M187 269h0M146 211h0M175 237h0M103 225h0M140 235h0M90 249h0M168 199h0M145 220h0M165 211h0M126 220h0M190 204h0M95 249h0M143 222h0M112 261h0M159 214h0M153 206h0M101 228h0M159 211h0M207 257h0M194 239h0M108 214h0M130 206h0M191 211h0M121 183h0M115 258h0M186 217h0M190 233h0M93 269h0M172 262h0M139 197h0M198 231h0M126 186h0M163 256h0M142 263h0M148 194h0M148 194h0M106 242h0M109 205h0M201 265h0M119 229h0M132 266h0M202 255h0M138 191h0M123 197h0M190 232h0M166 259h0M102 259h0M136 207h0M99 212h0M205 262h0M184 263h0M119 218h0M202 216h0M135 241h0M113 261h0M138 239h0M198 217h0M161 254h0M110 207h0M171 269h0M149 243h0M156 202h0M127 252h0M141 204h0M185 223h0M122 218h0M203 268h0M172 256h0M131 237h0M152 249h0M104 219h0M204 263h0M163 213h0M96 232h0M103 241h0M154 263h0M190 210h0M139 208h0M121 244h0M164 243h0M120 190h0M201 227h0M152 197h0M196 264h0M141 215h0M122 228h0M107 253h0M115 268h0M180 259h0M190 222h0M167 195h0M196 227h0M170 217h0M197 222h0M157 247h0M142 249h0M195 260h0M143 257h0M186 201h0M163 267h0M168 222h0M155 238h0M135 240h0M195 254h0M112 259h0M140 209h0M134 249h0M125 226h0M98 241h0" stroke="#2a2af2"/>
<path d="M196 229h0M132 196h0M135 233h0M136 193h0M117 259h0M102 221h0M108 256h0M97 212h0M110 234h0M206 229h0M208 227h0M169 228h0M160 228h0M207 221h0M192 232h0M208 223h0M104 254h0M143 192h0M142 231h0M143 237h0M151 259h0M203 236h0M146 254h0M114 239h0M186 208h0M113 210h0M131 223h0M116 249h0M118 214h0M173 234h0M192 265h0M193 250h0M158 212h0M160 209h0M206 221h0M132 203h0M115 207h0M114 220h0M177 245h0M135 267h0M98 268h0M169 271h0M176 222h0M206 225h0M106 209h0M116 190h0M96 235h0M98 210h0M181 244h0M102 200h0M105 227h0M101 264h0M132 269h0M111 268h0M208 238h0M171 253h0M140 234h0M190 267h0M111 241h0M129 250h0M144 226h0M145 213h0M180 259h0M102 218h0M134 207h0M156 246h0M115 192h0M109 208h0M134 264h0M133 217h0M139 216h0M168 231h0M185 264h0M170 213h0M120 221h0M202 220h0M208 234h0M124 209h0M171 229h0M176 260h0M118 189h0M189 235h0M136 253h0M199 241h0M135 259h0M155 235h0M190 269h0M104 266h0M193 263h0M131 266h0M144 238h0M111 252h0M133 213h0M115 236h0M148 239h0M151 200h0M104 237h0M111 248h0M184 253h0M179 238h0M130 219h0M145 230h0M189 237h0M129 213h0M200 209h0M105 231h0M187 260h0M100 246h0M176 228h0M128 200h0M181 206h0M155 234h0M148 232h0M123 267h0M126 186h0M121 226h0M197 207h0M160 257h0M102 235h0M183 217h0M137 232h0M168 257h0M139 196h0M147 226h0M97 255h0M124 208h0M159 261h0M101 202h0M198 261h0M193 264h0M127 186h0M147 239h0M143 195h0M93 250h0M179 237h0M207 241h0M148 225h0M160 245h0M152 264h0M124 188h0M133 239h0M145 196h0M125 242h0M111 248h0M127 188h0M114 205h0M136 236h0M97 214h0M146 264h0M163 213h0M176 269h0M128 262h0M116 263h0M179 216h0M137 199h0M172 270h0M178 232h0M203 235h0M143 264h0M146 213h0M133 200h0M206 220h0M107 240h0M109 238h0M155 216h0M135 198h0M132 231h0M206 227h0M133 266h0M177 227h0M103 244h0M208 242h0M153 215h0M126 246h0M200 259h0M106 207h0M103 217h0M182 204h0M165 248h0M107 217h0M210 224h0M124 226h0M116 201h0M102 214h0M194 239h0M152 240h0M177 213h0M172 252h0M141 257h0M91 240h0M143 253h0M132 215h0M192 234h0M103 268h0M189 228h0M166 218h0M190 244h0M118 253h0M171 271h0M100 261h0M172 205h0M101 260h0M120 231h0M109 211h0M131 199h0M159 235h0M147 207h0M128 255h0M174 233h0M96 250h0M121 190h0M102 216h0M132 205h0M193 231h0M175 224h0M168 199h0M172 250h0M153 241h0M164 234h0M139 213h0M183 243h0M203 256h0M154 248h0M119 195h0M186 207h0M179 236h0M114 206h0M182 224h0M129 252h0M161 252h0M171 225h0M150 236h0M191 240h0M131 245h0M204 259h0M166 268h0M186 227h0M164 237h0M209 264h0M202 237h0M127 254h0M193 229h0M91 245h0M116 219h0M94 245h0M158 225h0M158 253h0M144 215h0M136 200h0M199 223h0M198 243h0M166 216h0M115 270h0M134 252h0M180 269h0M125 199h0M144 252h0M111 233h0M175 199h0M108 208h0M120 229h0M144 206h0M125 212h0M174 273h0M148 225h0M203 240h0M115 242h0M196 262h0M140 242h0M191 209h0M131 199h0M114 243h0M165 233h0M117 256h0M171 232h0M167 202h0M201 252h0M138 221h0M125 236h0M125 263h0M130 202h0M103 241h0M180 201h0M177 217h0M125 195h0M167 223h0M163 260h0M134 231h0M163 207h0M153 257h0M108 238h0M105 248h0M149 246h0M207 252h0M109 265h0M160 230h0M166 228h0M99 259h0M156 262h0M139 244h0M98 262h0M120 194h0M95 265h0M136 228h0M195 261h0M140 201h0M130 253h0M166 261h0M145 221h0M99 253h0M162 219h0M186 207h0M210 259h0M173 198h0M114 209h0M173 245h0M126 245h0M177 225h0M105 228h0M128 241h0M164 221h0M124 233h0M128 198h0M166 248h0M140 232h0M177 257h0M193 264h0M91 250h0M125 248h0M159 243h0M153 253h0M135 219h0M157 230h0M111 250h0M171 267h0M100 258h0M194 224h0M152 261h0M198 227h0M172 207h0M107 204h0M123 224h0M146 246h0M113 226h0M140 254h0M120 248h0M107 208h0M174 199h0M123 193h0M94 239h0M138 222h0M187 247h0M171 254h0M134 233h0M118 234h0M102 207h0M119 264h0M129 199h0M173 248h0M131 255h0M178 210h0M108 260h0M172 255h0M172 259h0M160 219h0M117 223h0M165 227h0M176 255h0M165 246h0M138 217h0M97 212h0M107 226h0M181 258h0M116 205h0M149 257h0M147 219h0M197 228h0M135 243h0M142 208h0M120 253h0M99 251h0M181 212h0M208 244h0M147 226h0M121 231h0M128 192h0M100 237h0M110 201h0M113 226h0M116 257h0M174 209h0M124 215h0M146 256h0M177 244h0M170 258h0M109 225h0M97 239h0M207 264h0M191 268h0M112 236h0M177 214h0M173 249h0M177 268h0M156 222h0M130 223h0M192 244h0M102 265h0M191 254h0M97 262h0M170 269h0M198 266h0M129 254h0M144 222h0M141 251h0M194 213h0M154 241h0M159 259h0M165 264h0M183 240h0M120 234h0M134 213h0M100 262h0M108 207h0M153 259h0M143 212h0M172 219h0M152 255h0M97 237h0M204 225h0M154 243h0M106 204h0M167 262h0M187 264h0M118 262h0M164 221h0M92 245h0M179 234h0M113 267h0M98 265h0M121 226h0M210 250h0M131 264h0M171 262h0" stroke="#2f74f5"/>
<path d="M99 238h0M108 256h0M113 224h0M184 262h0M140 231h0M139 215h0M190 233h0M196 229h0M132 250h0M126 198h0M110 242h0M103 255h0M176 255h0M127 203h0M206 243h0M139 204h0M163 226h0M160 244h0M204 225h0M142 234h0M116 195h0M190 236h0M137 224h0M155 210h0M179 268h0M155 217h0M114 234h0M119 240h0M198 263h0M158 237h0M115 268h0M119 254h0M146 225h0M186 261h0M139 255h0M204 254h0M117 213h0M121 201h0M147 224h0M184 254h0M126 258h0M154 218h0M145 229h0M101 258h0M117 197h0M121 190h0M195 209h0M204 245h0M203 253h0M98 260h0M180 268h0M192 243h0M175 233h0M170 210h0M113 246h0M159 260h0M204 258h0M114 214h0M142 259h0M141 259h0M166 235h0M195 245h0M105 254h0M197 235h0M120 249h0M150 243h0M166 215h0M138 241h0M128 219h0M183 234h0M121 194h0M161 251h0M145 253h0M182 258h0M101 225h0M187 227h0M117 214h0M186 254h0M134 229h0M142 247h0M168 235h0M187 227h0M142 207h0M203 257h0M105 260h0M201 263h0M134 261h0M132 228h0M111 269h0M133 242h0M117 254h0M103 219h0M119 260h0M114 207h0M157 249h0M155 229h0M199 233h0M106 254h0M166 215h0M117 242h0M101 250h0M197 222h0M121 240h0M132 253h0M178 263h0M203 259h0M145 221h0M122 215h0M166 266h0M110 216h0M109 217h0M101 251h0M158 250h0M169 226h0M143 208h0M160 218h0M206 246h0M173 221h0M104 235h0M115 207h0M193 211h0M129 205h0M174 230h0M160 247h0M174 249h0M106 235h0M181 261h0M106 259h0M121 253h0M191 233h0M146 227h0M135 197h0M184 254h0M203 237h0M191 229h0M160 220h0M123 196h0M97 247h0M128 205h0M188 261h0M118 221h0M136 258h0M202 252h0M150 230h0M145 244h0M116 204h0M172 264h0M158 214h0M131 242h0M205 261h0M114 214h0M134 200h0M187 263h0M157 218h0M115 194h0M175 234h0M173 248h0M205 250h0M106 261h0M200 232h0M121 192h0M160 245h0M156 229h0M161 259h0M165 250h0M183 215h0M190 256h0M116 261h0M156 227h0M119 230h0M128 236h0M98 250h0M167 262h0M123 238h0M137 257h0M117 219h0M204 241h0M158 228h0M165 233h0M180 249h0M133 241h0M117 214h0M104 253h0M115 198h0M180 209h0M124 203h0M118 221h0M128 258h0M117 207h0M101 261h0M162 254h0M183 244h0M157 217h0M153 232h0M112 234h0M106 207h0M177 213h0M126 255h0M108 260h0M169 269h0M204 259h0M205 234h0M202 254h0M166 232h0M200 242h0M145 231h0M106 229h0M111 266h0M138 221h0M180 215h0M122 262h0M160 214h0M150 238h0M119 227h0M176 256h0M151 259h0M152 244h0M104 246h0M174 245h0M167 261h0M198 224h0M183 214h0M175 232h0M119 254h0M140 250h0M104 248h0M98 241h0M146 240h0M109 224h0M162 247h0M140 242h0M112 246h0M185 266h0M166 242h0M129 242h0M115 242h0M130 236h0M123 203h0M183 230h0M169 258h0M149 222h0M122 197h0M140 240h0M176 229h0M204 253h0M168 239h0M115 195h0M179 254h0M121 239h0M92 250h0M106 265h0M126 207h0M208 248h0M139 252h0M129 244h0M128 199h0M130 222h0M163 216h0M144 213h0M197 228h0M117 219h0M97 243h0M195 242h0M128 247h0M201 259h0M195 235h0M143 220h0M168 221h0M195 223h0M121 212h0M125 255h0M172 253h0M103 215h0M117 258h0M157 215h0M125 210h0M194 242h0M151 253h0M141 240h0M186 264h0M132 226h0M152 248h0M153 256h0M164 217h0M192 243h0M111 201h0M119 194h0M92 249h0M140 234h0M163 237h0M204 260h0M115 247h0M102 235h0M200 255h0M112 266h0M111 254h0M178 263h0M111 222h0M96 248h0M121 197h0M127 247h0M162 220h0M119 235h0M153 241h0M183 251h0M136 242h0M184 231h0M171 226h0M122 210h0M144 231h0M191 232h0M96 244h0M114 254h0M159 247h0M200 253h0M167 248h0M182 232h0M98 242h0M210 252h0M163 227h0M103 247h0M108 226h0M127 232h0M115 255h0M120 220h0M155 231h0M204 227h0M148 230h0M165 259h0M172 264h0M117 218h0M192 235h0M161 215h0M110 250h0M145 242h0M171 250h0M192 261h0M102 241h0M178 267h0M176 254h0M210 255h0M117 237h0M107 224h0M121 250h0M103 259h0M199 247h0M119 198h0M162 238h0" stroke="#2cb8c4"/>
<path d="M190 233h0M183 261h0M180 232h0M123 248h0M139 237h0M194 233h0M132 232h0M140 227h0M109 223h0M161 249h0M205 233h0M178 239h0M182 235h0M166 233h0M191 229h0M168 246h0M131 239h0M145 247h0M176 228h0M187 266h0M106 256h0M183 252h0M97 242h0M107 266h0M191 237h0M112 222h0M176 233h0M189 228h0M125 197h0M122 229h0M157 219h0M118 266h0M160 244h0M164 230h0M192 237h0M192 220h0M170 249h0M111 231h0M195 246h0M153 251h0M125 204h0M183 260h0M150 250h0M98 265h0M180 236h0M165 220h0M180 231h0M137 239h0M116 241h0M139 256h0M121 196h0M117 213h0M111 231h0M103 216h0M114 253h0M165 218h0M114 265h0M110 237h0M113 261h0M188 259h0M140 225h0M145 248h0M100 257h0M202 232h0M118 208h0M160 247h0M163 237h0M110 210h0M98 251h0M109 206h0M104 215h0M151 225h0M147 223h0M130 202h0M119 233h0M153 219h0M175 213h0M133 222h0M125 195h0M125 233h0M132 222h0M151 255h0M163 233h0M202 236h0M118 263h0M145 225h0M141 237h0M135 224h0M192 246h0M116 238h0M176 234h0M114 253h0M155 254h0M122 263h0M123 231h0M102 267h0M177 214h0M139 242h0M144 225h0M186 229h0M113 214h0M147 234h0M152 234h0M128 254h0M183 249h0M138 258h0M113 235h0M135 250h0M165 237h0M180 212h0M161 218h0M198 234h0M158 229h0M152 223h0M192 238h0M130 252h0M179 236h0M188 267h0M189 239h0M171 251h0M151 223h0M171 242h0M103 269h0M125 238h0M102 266h0M138 241h0M156 239h0M99 242h0M169 254h0M174 262h0M204 256h0M111 233h0M124 251h0M163 240h0M107 234h0M197 240h0M119 246h0M189 265h0M109 255h0M207 257h0M109 267h0M140 220h0M150 223h0M182 237h0M104 247h0M191 243h0M124 256h0M112 205h0M154 246h0M183 249h0M192 229h0M103 250h0M105 232h0M140 245h0M108 225h0M108 252h0M150 229h0M183 250h0M186 254h0M111 239h0M123 242h0M203 252h0M107 212h0M162 248h0M139 224h0M128 249h0M126 242h0M136 252h0M134 238h0M140 227h0M181 238h0M98 248h0M136 249h0M98 251h0M190 243h0M117 217h0M192 230h0M108 256h0M146 236h0M125 202h0M137 251h0M96 249h0M133 257h0M174 256h0M158 241h0M128 244h0M194 229h0M147 242h0M142 247h0M164 247h0M198 250h0M192 249h0M138 232h0M197 237h0M188 241h0M184 239h0M136 220h0M116 241h0M170 245h0M194 250h0M141 217h0M166 234h0M141 244h0M195 243h0M124 198h0M182 260h0M139 239h0M121 224h0M174 263h0M109 243h0M198 244h0M189 226h0M193 226h0M150 234h0M140 237h0M177 249h0M178 269h0M177 261h0M176 233h0M103 242h0M177 251h0M130 237h0M182 256h0M127 234h0M99 260h0M173 234h0M179 251h0M198 253h0M129 255h0M119 218h0M123 231h0M171 242h0M101 241h0M173 265h0M146 247h0M193 238h0M148 233h0M156 238h0M168 245h0M168 250h0M199 253h0M185 262h0M191 240h0M170 255h0M147 250h0M148 216h0M170 254h0M145 222h0M116 230h0M124 232h0M166 245h0M165 241h0M184 248h0M172 241h0M121 258h0M140 230h0M182 244h0M115 221h0M129 253h0M137 238h0M195 252h0M179 240h0M115 261h0M199 241h0M153 231h0M197 263h0M182 238h0M198 260h0M133 231h0M111 248h0M134 247h0M117 228h0M171 226h0M133 257h0M194 240h0M203 250h0M111 236h0M196 234h0M187 234h0M108 263h0M140 224h0M112 252h0M180 237h0M126 234h0M117 265h0M189 260h0M104 253h0M115 223h0M121 228h0M175 249h0M129 245h0M109 253h0M149 242h0M172 254h0M130 260h0M172 265h0M186 259h0M142 240h0M121 248h0M146 221h0M113 225h0M108 245h0M119 232h0M184 257h0M135 252h0M204 252h0M109 255h0M187 232h0M100 256h0M165 259h0M126 243h0M168 258h0M114 256h0M193 249h0M114 235h0M119 221h0M146 227h0M116 252h0M129 238h0M127 233h0M185 250h0M181 245h0M157 232h0M143 236h0M144 249h0M132 256h0M205 258h0M185 264h0M124 255h0M104 257h0M190 263h0M202 251h0M132 257h0M185 265h0M165 253h0M187 238h0M177 264h0M152 240h0M188 235h0M118 264h0M128 256h0M150 228h0M115 233h0M154 227h0M124 233h0M202 258h0M194 241h0M175 250h0M145 239h0M114 258h0M155 221h0M157 235h0M191 258h0M110 263h0M186 243h0M187 250h0M119 238h0M144 222h0M182 232h0M189 253h0M198 225h0M188 250h0M128 249h0M186 252h0" stroke="#3cc45a"/>
<path d="M148 233h0M98 248h0M117 223h0M131 238h0M111 247h0M126 228h0M111 262h0M173 256h0M190 228h0M167 239h0M114 233h0M105 254h0M175 240h0M131 259h0M191 259h0M148 239h0M170 241h0M122 244h0M151 244h0M108 254h0M106 253h0M176 236h0M106 263h0M107 261h0M155 247h0M122 254h0M111 237h0M166 240h0M121 230h0M108 252h0M137 241h0M127 227h0M152 248h0M192 242h0M135 241h0M117 238h0M167 240h0M147 245h0M143 238h0M173 254h0M113 253h0M113 233h0M107 235h0M187 255h0M122 230h0M119 259h0M113 246h0M164 239h0M113 235h0M122 231h0M115 255h0M110 239h0M191 255h0M117 253h0M107 252h0M112 239h0M184 264h0M104 247h0M116 239h0M112 241h0M181 236h0M171 235h0M182 240h0M117 253h0M191 227h0M177 238h0M187 251h0M112 228h0M116 241h0M126 248h0M196 243h0M121 256h0M170 249h0M198 239h0M119 234h0M177 246h0M122 231h0M107 257h0M117 226h0M123 232h0M185 231h0M186 253h0M146 243h0M106 261h0M128 254h0M108 249h0M182 230h0M113 236h0M172 264h0M127 250h0M186 248h0M185 254h0M187 242h0M96 245h0M99 250h0M112 233h0M115 246h0M190 246h0M194 236h0M188 252h0M189 252h0M103 247h0M133 248h0M200 233h0M119 250h0M195 238h0M194 234h0M173 241h0M185 244h0M191 226h0M119 251h0M185 241h0M194 239h0M131 250h0M184 248h0M195 241h0M196 237h0M182 239h0M175 241h0M189 233h0M99 252h0M133 248h0M123 256h0M130 251h0M116 244h0M112 258h0M186 259h0M141 236h0M196 234h0M144 238h0M124 229h0M125 251h0M115 264h0M176 243h0M109 246h0M199 239h0" stroke="#b8d030"/>
<path d="M117 235h0M185 254h0M109 260h0M118 236h0M183 245h0M185 236h0M102 246h0M185 242h0M107 249h0M111 246h0M184 257h0M182 233h0M117 248h0M192 234h0M125 254h0M117 251h0M120 249h0M197 231h0M185 241h0M187 251h0M117 254h0M113 250h0M118 233h0M190 252h0M175 243h0M102 254h0M112 248h0M193 249h0M110 245h0M193 229h0M117 246h0M189 240h0M114 241h0M114 240h0M124 228h0M104 254h0M186 240h0M108 241h0M175 241h0M175 247h0M182 236h0M195 235h0M115 246h0M179 242h0M197 234h0M111 247h0M105 258h0M181 245h0M107 256h0M105 260h0M188 232h0M101 250h0M186 248h0M119 239h0M104 251h0M107 260h0M106 257h0M104 247h0M119 231h0M186 234h0M189 231h0M108 248h0M188 250h0M180 238h0M188 243h0M117 244h0M111 242h0M178 243h0M111 239h0M192 237h0" stroke="#f0a020"/>
<path d="M117 242h0M113 241h0M117 234h0M116 234h0M119 241h0M115 247h0M105 252h0M107 251h0M118 245h0M109 253h0M101 250h0M105 245h0M106 251h0M189 232h0M107 258h0M112 239h0M113 241h0M190 239h0M108 257h0M181 245h0M187 239h0M194 238h0M183 244h0M181 235h0M110 246h0M191 239h0M184 240h0M112 246h0M188 236h0M192 236h0M187 240h0" stroke="#ee4416"/>
</g>
<rect x="1042.5" y="1221.4" width="146" height="150.6" fill="none" stroke="#333" stroke-width="0.9"/>
<text x="1035.8" y="1232.4" font-size="12.3" text-anchor="end" fill="#222">250K</text>
<text x="1035.8" y="1261.0" font-size="12.3" text-anchor="end" fill="#222">200K</text>
<text x="1035.8" y="1289.5" font-size="12.3" text-anchor="end" fill="#222">150K</text>
<text x="1035.8" y="1318.1" font-size="12.3" text-anchor="end" fill="#222">100K</text>
<text x="1035.8" y="1346.6" font-size="12.3" text-anchor="end" fill="#222">50K</text>
<text x="1035.8" y="1375.2" font-size="12.3" text-anchor="end" fill="#222">0</text>
<path d="M1038.5 1228.1h4M1038.5 1256.7h4M1038.5 1285.2h4M1038.5 1313.8h4M1038.5 1342.3h4M1038.5 1370.9h4M1040.5 1233.8h2M1040.5 1239.5h2M1040.5 1245.2h2M1040.5 1250.9h2M1040.5 1262.4h2M1040.5 1268.1h2M1040.5 1273.8h2M1040.5 1279.5h2M1040.5 1290.9h2M1040.5 1296.6h2M1040.5 1302.4h2M1040.5 1308.1h2M1040.5 1319.5h2M1040.5 1325.2h2M1040.5 1330.9h2M1040.5 1336.6h2M1040.5 1348.1h2M1040.5 1353.8h2M1040.5 1359.5h2M1040.5 1365.2h2M1051.3 1372.0v4M1075.5 1372.0v4M1099.5 1372.0v4M1139.1 1372.0v4M1174.4 1372.0v4M1054.2 1372.0v2M1056.9 1372.0v2M1059.3 1372.0v2M1061.5 1372.0v2M1063.4 1372.0v2M1065.3 1372.0v2M1067.3 1372.0v2M1069.2 1372.0v2M1071.1 1372.0v2M1079.8 1372.0v2M1081.7 1372.0v2M1083.7 1372.0v2M1085.6 1372.0v2M1087.5 1372.0v2M1089.4 1372.0v2M1091.3 1372.0v2M1093.3 1372.0v2M1095.2 1372.0v2M1097.1 1372.0v2M1111.4 1372.0v2M1118.4 1372.0v2M1123.3 1372.0v2M1127.2 1372.0v2M1130.3 1372.0v2M1133.0 1372.0v2M1135.3 1372.0v2M1137.3 1372.0v2M1149.7 1372.0v2M1155.9 1372.0v2M1160.4 1372.0v2M1163.8 1372.0v2M1166.6 1372.0v2M1168.9 1372.0v2M1171.0 1372.0v2M1172.8 1372.0v2M1184.9 1372.0v2M1048.9 1372.0v2M1047.5 1372.0v2M1046.5 1372.0v2M1045.7 1372.0v2" stroke="#222" stroke-width="0.9" fill="none"/>
<rect x="1073.1" y="1372.0" width="5.4" height="2.6" fill="#000"/>
<text x="1050.9" y="1389.5" font-size="12" text-anchor="middle" fill="#222">-10<tspan dy="-4.5" font-size="8.5">3</tspan></text>
<text x="1075.5" y="1389.5" font-size="12" text-anchor="middle" fill="#222">0</text>
<text x="1101.5" y="1389.5" font-size="12" text-anchor="middle" fill="#222">10<tspan dy="-4.5" font-size="8.5">3</tspan></text>
<text x="1141.6" y="1389.5" font-size="12" text-anchor="middle" fill="#222">10<tspan dy="-4.5" font-size="8.5">4</tspan></text>
<text x="1178.4" y="1389.5" font-size="12" text-anchor="middle" fill="#222">10<tspan dy="-4.5" font-size="8.5">5</tspan></text>
<path d="M1091.0 1372.0 L1107.5 1267.2 L1188.5 1267.2" stroke="#222" stroke-width="1" fill="none"/>
<text x="1184.0" y="1255.7" font-size="24.7" text-anchor="end">83.1%</text>
<g transform="translate(52.8 1437.5) scale(.5)" stroke-width="1.9" stroke-linecap="square" fill="none">
<path d="M124 70h0M164 89h0M165 42h0M145 75h0M120 95h0M113 114h0M130 79h0M153 88h0M133 67h0M146 60h0M150 243h0M58 232h0M149 67h0M96 144h0M85 180h0M159 135h0M46 263h0M135 55h0M147 206h0M68 220h0M151 172h0M159 56h0M150 119h0M151 208h0M50 272h0M121 111h0M146 151h0M137 74h0M43 260h0M149 178h0M146 262h0M151 100h0M154 151h0M146 103h0M59 264h0M145 128h0M90 178h0M149 232h0M129 85h0M158 193h0M147 248h0M150 143h0M105 139h0M96 156h0M74 271h0M150 59h0M110 126h0M65 216h0M139 130h0M113 132h0M146 203h0M54 266h0M125 116h0M143 255h0M146 89h0M143 239h0M55 271h0M60 273h0M124 123h0M127 97h0M141 86h0M145 122h0M64 246h0M61 271h0M122 83h0M125 99h0M63 262h0M146 203h0M148 259h0M107 137h0M148 264h0M133 124h0M93 180h0M83 279h0M143 88h0M119 138h0M146 148h0M62 243h0M137 81h0M79 274h0M114 133h0M125 126h0M146 186h0M114 141h0M68 234h0M141 140h0M144 113h0M142 130h0M146 169h0M148 162h0M153 192h0M141 130h0M98 168h0M133 92h0M107 136h0M136 245h0M69 273h0M128 131h0M144 106h0M69 236h0M106 157h0M121 134h0M131 89h0M132 126h0M147 199h0M75 227h0M145 149h0M126 120h0M79 215h0M74 236h0M139 244h0M88 194h0M140 93h0M142 208h0M60 251h0M145 131h0M134 128h0M101 165h0M142 181h0M138 261h0M140 107h0M149 166h0M107 152h0M144 180h0M69 259h0M143 193h0M120 143h0M136 260h0M97 161h0M74 223h0M144 116h0M59 252h0M143 222h0M140 199h0M134 267h0M136 92h0M137 89h0M58 258h0M108 147h0M77 220h0M127 106h0M133 116h0M150 143h0M143 218h0M132 120h0M149 121h0M129 270h0M119 147h0M128 128h0M143 166h0M118 135h0M139 136h0M129 109h0M138 101h0M140 189h0M138 237h0M108 165h0M94 194h0M60 251h0M123 267h0M122 272h0M99 183h0M102 168h0M138 232h0M138 173h0M140 132h0M140 183h0M140 116h0M130 264h0M128 271h0M142 235h0M102 160h0M140 230h0M80 216h0M138 240h0M114 159h0M135 257h0M143 147h0M146 192h0M136 161h0M110 149h0M72 246h0M123 128h0M139 221h0M125 130h0M92 183h0M78 271h0M60 269h0M90 201h0M127 126h0M135 256h0M98 173h0M78 223h0M140 218h0M142 103h0M83 201h0M141 101h0M137 233h0M69 248h0M140 116h0M112 140h0M113 271h0M141 164h0M120 270h0M78 215h0M94 186h0M74 244h0M81 200h0M132 111h0M142 170h0M139 106h0M103 180h0M137 211h0M116 140h0M68 239h0M125 142h0M76 227h0M144 168h0M72 236h0M105 272h0M116 143h0M131 150h0M142 151h0M126 118h0M103 277h0M136 178h0M69 265h0M116 159h0M96 190h0M114 155h0M144 187h0M136 145h0M127 149h0M69 235h0M71 251h0M100 277h0M103 271h0M121 148h0M144 153h0M114 147h0M68 234h0M130 173h0M85 271h0M86 197h0M140 164h0M125 143h0M136 251h0M130 147h0M99 197h0M137 170h0M86 210h0M65 256h0M119 152h0M123 271h0M96 276h0M100 275h0M138 202h0M140 194h0M145 173h0M134 127h0M120 265h0M129 148h0M73 229h0M88 204h0M130 112h0M137 110h0M136 181h0M70 265h0M139 209h0M112 156h0M129 138h0M131 108h0M94 198h0M141 215h0M128 157h0M136 219h0M121 261h0M110 163h0M140 201h0M73 226h0M137 204h0M140 223h0M132 110h0M109 155h0M136 106h0M103 173h0M130 144h0M88 197h0M144 162h0M138 113h0M83 216h0M134 136h0M94 195h0M109 169h0M71 249h0M75 246h0M143 165h0M128 255h0M131 254h0M72 249h0M127 165h0M93 206h0M134 153h0M130 141h0M125 144h0M93 200h0M119 168h0M76 269h0M137 240h0M113 166h0M119 166h0M94 199h0M136 158h0M114 151h0M140 110h0M136 248h0M70 240h0M100 189h0M101 171h0M83 266h0M119 272h0M87 191h0M106 172h0M65 263h0M124 147h0M114 151h0M116 272h0M133 175h0M97 187h0M139 167h0M131 175h0M134 234h0M107 275h0M105 160h0M94 189h0M109 183h0M91 191h0M103 162h0M101 185h0M132 143h0M75 249h0M112 273h0M83 205h0M127 135h0M125 258h0M125 256h0M105 197h0M125 138h0M134 264h0M128 157h0M117 171h0M113 162h0M72 266h0M104 178h0M135 248h0M127 136h0M87 214h0M115 148h0M132 204h0M96 203h0M71 256h0M136 174h0M76 257h0M81 230h0M130 147h0M138 194h0M79 262h0M82 230h0M127 170h0M109 158h0M83 247h0M122 146h0M135 112h0M136 164h0M91 266h0M128 168h0M96 194h0M125 167h0M89 209h0M126 173h0M98 188h0M129 260h0M79 246h0M128 144h0M108 168h0M131 141h0M75 252h0M85 207h0M145 169h0M104 271h0M79 226h0M108 156h0M126 264h0M135 259h0M143 190h0M120 142h0M92 192h0M134 230h0M91 274h0M65 256h0M95 199h0M90 202h0M137 163h0M129 164h0M133 150h0M66 256h0M77 229h0M132 222h0M140 198h0M132 237h0M133 141h0M137 219h0M99 196h0M91 272h0M104 178h0M113 173h0M110 181h0M108 272h0M131 151h0M130 202h0M83 222h0M133 215h0M117 176h0M102 269h0M102 197h0M137 222h0M77 252h0M134 191h0M109 173h0M132 156h0M101 202h0M101 168h0M134 255h0M108 169h0M133 145h0M132 253h0M115 156h0M126 165h0M77 242h0M103 182h0M138 146h0M89 265h0M79 256h0M117 150h0M139 237h0M138 151h0M117 170h0M129 149h0M83 257h0M122 264h0M83 246h0M130 225h0M126 175h0M136 202h0M77 262h0M130 149h0M90 261h0M111 180h0M75 235h0M118 155h0M133 156h0M116 271h0M138 182h0M80 263h0M139 154h0M91 262h0M87 274h0M122 155h0M83 214h0M95 267h0M136 146h0M127 260h0M75 257h0M114 173h0M87 221h0M130 165h0M139 169h0M99 187h0M93 202h0M84 267h0M115 266h0M121 173h0M81 233h0M125 177h0M89 207h0M82 213h0M122 256h0M135 181h0M74 245h0M131 225h0M92 205h0M78 239h0M71 249h0M133 178h0M117 275h0M78 235h0M101 196h0M109 189h0M84 260h0M113 184h0M72 252h0M115 272h0M95 265h0M72 251h0M79 234h0M130 151h0M109 189h0M109 271h0M85 261h0M109 173h0M78 244h0M109 267h0M106 272h0M76 225h0M82 266h0M89 209h0M136 200h0M113 265h0M139 222h0M114 190h0M133 253h0M86 249h0M128 241h0M72 264h0M128 260h0M127 252h0M82 222h0M82 244h0M131 207h0M112 194h0M116 262h0M123 168h0M137 168h0M109 180h0M95 222h0M127 198h0M128 186h0M81 261h0M123 184h0M125 155h0M126 204h0M76 247h0M91 198h0M108 175h0M138 179h0M115 176h0M102 269h0M97 264h0M130 210h0M102 193h0M129 154h0M126 201h0M119 171h0M131 226h0M129 258h0M129 241h0M117 173h0M119 191h0M80 234h0M74 261h0M135 221h0M133 198h0M90 224h0M134 215h0M94 272h0M89 213h0M85 272h0M118 168h0M106 267h0M89 224h0M130 233h0M104 191h0M133 169h0M119 165h0M107 178h0M110 174h0M117 154h0M84 230h0M123 174h0M134 234h0M82 240h0M81 228h0M129 247h0M115 168h0M78 262h0M105 178h0M107 269h0M114 184h0M127 141h0M94 273h0M78 246h0M128 248h0M129 185h0M123 194h0M73 250h0M122 200h0M86 217h0M84 261h0M85 257h0M123 266h0M104 198h0M77 237h0M121 195h0M121 172h0M115 158h0M124 159h0M131 148h0M132 206h0M98 209h0M96 196h0M128 240h0M86 260h0M82 239h0M131 243h0M125 189h0M118 175h0M134 183h0M135 201h0M113 260h0M111 187h0M86 266h0M89 236h0M119 151h0M128 183h0M105 180h0M89 209h0M100 273h0M114 171h0M112 174h0M83 237h0M80 233h0M98 190h0M91 261h0M125 251h0M93 266h0M132 223h0M110 201h0M134 162h0M130 152h0M127 211h0M125 192h0M93 270h0M90 226h0M122 151h0M115 182h0M101 207h0M81 223h0M126 240h0M127 198h0M133 160h0M114 185h0M111 265h0M122 166h0M125 153h0M90 254h0M107 202h0M137 184h0M130 172h0M80 259h0M83 247h0M96 211h0M89 259h0M123 165h0M126 209h0M80 243h0M109 180h0M92 197h0M119 184h0M138 188h0M96 266h0M131 208h0M106 196h0M77 253h0M128 164h0M90 217h0M126 178h0M84 244h0M131 215h0M119 181h0M129 199h0M115 263h0M134 246h0M128 164h0M132 216h0M130 235h0M113 187h0M137 183h0M136 191h0M122 256h0M79 264h0M127 226h0M107 172h0M112 262h0M127 231h0M95 270h0M110 193h0M75 254h0M121 169h0M108 193h0M101 191h0M101 190h0M88 224h0M125 209h0M100 203h0M86 243h0M105 207h0M88 224h0M105 173h0M117 166h0M107 203h0M135 241h0M95 223h0M93 265h0M126 164h0M132 168h0M84 257h0M89 257h0M96 271h0M134 155h0M132 207h0M110 181h0M85 262h0M125 202h0M114 193h0M121 264h0M110 262h0M125 226h0M112 178h0M119 164h0M118 266h0M119 188h0M70 256h0M101 202h0M85 263h0M135 191h0M93 247h0M70 259h0M96 223h0M118 259h0M110 196h0M119 189h0M129 211h0M123 158h0M96 208h0M135 186h0M102 198h0M118 250h0M108 175h0M128 202h0M105 182h0M82 234h0M137 182h0M90 244h0M99 255h0M99 265h0M124 250h0M110 262h0M85 261h0M116 165h0M107 194h0M128 181h0M114 197h0M115 197h0M126 257h0M133 172h0M88 241h0M131 204h0M108 208h0M134 194h0M127 251h0M116 190h0M124 256h0M118 179h0M96 261h0M119 266h0M80 223h0M89 206h0M134 181h0M126 230h0M130 189h0M85 232h0M97 270h0M135 192h0M90 248h0M127 165h0M112 215h0M126 178h0M107 268h0M96 220h0M119 214h0M128 151h0M83 238h0M123 201h0M121 156h0M125 218h0M117 200h0M95 218h0M106 198h0M115 177h0M123 184h0M126 254h0M121 244h0M83 269h0M108 211h0M122 205h0M134 185h0M115 188h0M133 236h0M94 263h0M121 242h0M127 181h0M90 250h0M121 163h0M118 184h0M132 187h0M134 213h0M101 261h0M88 248h0M89 209h0M88 229h0M133 202h0M126 161h0M129 233h0M110 274h0M123 214h0M128 189h0M114 175h0M93 226h0M116 191h0M91 208h0M127 157h0M84 262h0M108 271h0M120 168h0M129 193h0M95 206h0M139 198h0M134 221h0M121 238h0M116 255h0M85 235h0M128 203h0M97 217h0M100 265h0M119 264h0M121 185h0M120 158h0M110 185h0M122 247h0M134 231h0M97 257h0M102 206h0M81 261h0M120 217h0M82 261h0M106 204h0M121 165h0M123 171h0M78 250h0M114 216h0M82 220h0M121 166h0M118 190h0M123 230h0M97 254h0M91 242h0M130 213h0M124 249h0M89 233h0M82 225h0M133 184h0M122 173h0M123 227h0M126 208h0M130 181h0M123 246h0M121 248h0M85 255h0M130 165h0M132 224h0M129 194h0M123 220h0M120 169h0M84 268h0M107 215h0M115 255h0M112 252h0M114 268h0M138 186h0M128 209h0M112 255h0M95 218h0M113 252h0M126 194h0M88 223h0M122 232h0M84 247h0M127 241h0M118 177h0M82 227h0M129 175h0M118 205h0M125 162h0M125 228h0M117 217h0M97 249h0M125 179h0M76 262h0M82 245h0M119 181h0M86 267h0M126 185h0M109 187h0M86 220h0M123 198h0M108 203h0M121 213h0M103 202h0M100 203h0M128 170h0M116 166h0M93 261h0M132 240h0M82 232h0M87 262h0M129 221h0M120 234h0M130 238h0M111 266h0M94 250h0M129 182h0M119 196h0M127 245h0M110 209h0M128 201h0M117 213h0M137 190h0M104 214h0M108 200h0M129 219h0M119 261h0M133 215h0M118 176h0M95 213h0M121 238h0M110 189h0M125 207h0M114 215h0M123 243h0M94 243h0M122 235h0M87 220h0M124 176h0M123 190h0M128 174h0M126 222h0M104 217h0M120 202h0M107 220h0M112 229h0M85 248h0M129 162h0M86 218h0M98 213h0M93 269h0M87 217h0M93 219h0M83 236h0M116 257h0M130 192h0M133 239h0M120 195h0M88 239h0M126 250h0M96 254h0M127 182h0M116 171h0M96 260h0M131 205h0M101 213h0M120 161h0M126 230h0M90 219h0M89 247h0M106 216h0M111 211h0M100 203h0M133 198h0M88 262h0M95 219h0M81 249h0M98 265h0M109 216h0M109 266h0M78 256h0M124 242h0M97 254h0M132 191h0M122 236h0M110 257h0M121 177h0M93 235h0M130 240h0M131 205h0M101 207h0M125 163h0M93 213h0M89 227h0M102 215h0M123 255h0M121 207h0M110 246h0M92 249h0M127 171h0M124 250h0M110 220h0M97 255h0M104 209h0M98 256h0M127 203h0M129 192h0M109 187h0M128 209h0M126 215h0M115 218h0M123 214h0M79 262h0M103 218h0M128 251h0M87 221h0M106 177h0M95 244h0M116 169h0M111 257h0M89 247h0M126 248h0M91 257h0M122 226h0M121 195h0M108 198h0M97 201h0M97 251h0M87 264h0M110 176h0M135 186h0M98 213h0M103 256h0M115 229h0M110 208h0M75 250h0M86 260h0M116 206h0M81 225h0M105 211h0M99 260h0M119 263h0M126 250h0M94 234h0M118 262h0M121 212h0M107 183h0M133 216h0M117 213h0M89 265h0M94 269h0M134 183h0M92 214h0M102 228h0M92 265h0M125 240h0M86 234h0M95 270h0M118 201h0M101 222h0M82 259h0M79 255h0M121 234h0M110 202h0M119 249h0M109 183h0M104 210h0M126 250h0M106 197h0M89 233h0M94 266h0M111 250h0M87 240h0M112 173h0M119 232h0M114 199h0M91 229h0M128 236h0M99 225h0M122 208h0M95 252h0M131 188h0M102 209h0M121 257h0M135 181h0M112 184h0M81 241h0M90 253h0M104 240h0M89 235h0M95 230h0M87 257h0M125 213h0M118 178h0M111 269h0M116 184h0M101 269h0M102 258h0M104 263h0M116 222h0M118 229h0M110 219h0M104 239h0M115 203h0M99 229h0M128 176h0M127 196h0M93 268h0M90 221h0M110 243h0M120 195h0M121 176h0M87 237h0M94 250h0M138 189h0M122 232h0M105 209h0M113 259h0M134 232h0M98 209h0M128 182h0M130 179h0M103 201h0M121 250h0M89 217h0M117 209h0M115 241h0M113 193h0M88 231h0M123 220h0M120 244h0M82 264h0M82 259h0M122 222h0M120 192h0M127 181h0M126 240h0M92 255h0M110 204h0M130 196h0M124 221h0M123 253h0M116 218h0M115 189h0M84 248h0M104 209h0M113 261h0M119 224h0M112 269h0M110 258h0M93 219h0M100 202h0M120 217h0M101 200h0M91 211h0M89 257h0M121 225h0M96 248h0M114 245h0M132 183h0M121 221h0M114 193h0M129 199h0M117 182h0M112 191h0M128 208h0M120 233h0M109 203h0M130 211h0M134 215h0M106 259h0M107 253h0M112 217h0M130 232h0M107 244h0M83 257h0M107 201h0M97 228h0M112 258h0M86 220h0M123 217h0M101 229h0M117 217h0M85 248h0M97 210h0M94 236h0M104 200h0M107 250h0M100 264h0M109 266h0M98 217h0M98 255h0M121 222h0M118 255h0M106 237h0M124 206h0M94 235h0M98 248h0M133 193h0M104 251h0M86 228h0M105 266h0M91 227h0M115 226h0M119 193h0M130 221h0M122 235h0M131 236h0M110 208h0M91 238h0M112 252h0M92 232h0M126 229h0M134 225h0M92 243h0M121 242h0M103 264h0M112 195h0M116 221h0M118 229h0M91 227h0M95 216h0M123 244h0M105 260h0M103 211h0M82 255h0M126 235h0M111 197h0M113 184h0M121 198h0M106 265h0M106 261h0M126 233h0M108 236h0M122 223h0M88 232h0M131 208h0M128 242h0M125 247h0M96 219h0M111 219h0M125 231h0M124 254h0M120 203h0M120 230h0M100 221h0M98 219h0M124 176h0M111 217h0M126 208h0M92 259h0M110 205h0M124 245h0M131 209h0M91 240h0M125 182h0M112 243h0M130 192h0M93 252h0M131 212h0M109 258h0M124 183h0M128 201h0M119 257h0M132 191h0M86 241h0M113 222h0M98 249h0M123 193h0M100 257h0M129 228h0M90 235h0M115 204h0" stroke="#2a2af2"/>
<path d="M130 194h0M111 227h0M98 266h0M95 232h0M124 190h0M122 208h0M122 254h0M94 235h0M121 223h0M131 183h0M133 197h0M108 216h0M85 242h0M100 217h0M125 176h0M92 245h0M122 177h0M107 261h0M115 250h0M122 177h0M120 195h0M105 270h0M108 264h0M109 263h0M113 229h0M130 186h0M92 257h0M102 255h0M112 210h0M127 245h0M121 239h0M104 269h0M99 212h0M123 185h0M129 224h0M106 244h0M111 213h0M108 246h0M123 230h0M120 182h0M104 259h0M96 229h0M81 264h0M116 198h0M117 256h0M101 226h0M111 192h0M124 221h0M94 219h0M128 243h0M109 252h0M86 232h0M102 240h0M131 198h0M112 214h0M104 265h0M99 255h0M127 181h0M114 203h0M85 250h0M124 205h0M123 246h0M92 216h0M93 228h0M94 220h0M122 187h0M81 259h0M116 231h0M116 190h0M104 251h0M107 252h0M108 235h0M129 207h0M125 205h0M95 245h0M87 252h0M90 245h0M106 219h0M108 199h0M105 198h0M109 244h0M93 248h0M105 228h0M96 234h0M92 212h0M86 260h0M94 221h0M124 201h0M123 212h0M120 251h0M113 204h0M125 237h0M96 230h0M116 203h0M127 193h0M129 239h0M125 212h0M104 224h0M105 234h0M90 254h0M129 236h0M109 217h0M94 230h0M120 200h0M100 211h0M108 218h0M122 240h0M125 192h0M114 200h0M103 260h0M88 264h0M127 227h0M112 232h0M94 237h0M117 243h0M119 182h0M104 250h0M128 190h0M109 250h0M104 236h0M114 224h0M91 259h0M86 254h0M117 220h0M135 192h0M119 185h0M96 228h0M105 264h0M106 250h0M110 270h0M125 201h0M97 227h0M116 218h0M133 196h0M124 204h0M118 229h0M85 255h0M123 184h0M111 210h0M107 248h0M90 255h0M123 245h0M124 199h0M119 197h0M108 242h0M125 183h0M111 252h0M116 187h0M120 233h0M98 207h0M95 251h0M101 261h0M85 240h0M104 231h0M112 233h0M108 251h0M120 235h0M123 200h0M120 194h0M113 228h0M105 245h0M92 260h0M90 225h0M115 238h0M116 195h0M130 190h0M117 251h0M133 196h0M111 248h0M127 218h0M109 223h0M121 181h0M105 262h0M102 266h0M109 222h0M99 249h0M129 183h0M100 258h0M124 224h0M118 195h0M127 194h0M134 193h0M116 251h0M111 257h0M116 200h0M113 241h0M100 256h0M100 233h0M102 248h0M124 239h0M110 265h0M90 252h0M125 221h0M112 225h0M94 239h0M118 255h0M119 206h0M110 201h0M89 231h0M113 208h0M111 269h0M107 241h0M114 208h0M131 191h0M122 227h0M97 249h0M109 207h0M107 199h0M96 235h0M116 199h0M125 240h0M98 236h0M112 200h0M105 220h0M126 211h0M128 219h0M114 188h0M104 249h0M95 223h0M126 181h0M108 249h0M89 254h0M101 263h0M97 242h0M93 250h0M86 243h0M87 246h0M106 208h0M104 245h0M127 215h0M126 217h0M128 224h0M114 198h0M103 205h0M110 240h0M110 253h0M127 237h0M116 203h0M129 231h0M125 195h0M92 212h0M112 205h0M85 241h0M125 191h0M85 239h0M114 227h0M102 230h0M87 231h0M124 203h0M122 188h0M113 240h0M114 247h0M99 220h0M116 236h0M129 235h0M117 188h0M88 250h0M105 252h0M113 219h0M117 239h0M114 263h0M118 211h0M95 232h0M98 237h0M91 215h0M111 191h0M94 253h0M108 220h0M104 215h0M125 241h0M102 252h0M122 246h0M113 214h0M94 237h0M118 245h0M134 189h0M98 233h0M118 257h0M93 226h0M108 246h0M98 260h0M125 228h0M112 219h0M100 243h0M127 188h0M110 187h0M112 231h0M107 231h0M132 187h0M118 248h0M114 187h0M122 247h0M103 263h0M88 247h0M108 219h0M124 189h0M130 200h0M88 258h0M114 207h0M125 201h0M94 220h0M100 221h0M104 218h0M94 232h0M91 244h0M85 249h0M90 238h0M102 241h0M113 230h0M102 245h0M99 230h0M114 250h0M116 187h0M122 239h0M127 187h0M116 212h0M130 208h0M96 228h0M134 188h0M120 199h0M107 252h0" stroke="#2f74f5"/>
<path d="M99 214h0M97 212h0M93 239h0M117 185h0M97 236h0M94 257h0M114 246h0M105 223h0M129 220h0M117 187h0M103 219h0M87 259h0M100 219h0M92 225h0M130 191h0M110 264h0M126 218h0M114 215h0M114 255h0M100 257h0M114 202h0M122 217h0M119 204h0M105 256h0M117 210h0M117 203h0M93 242h0M101 229h0M105 225h0M116 186h0M108 216h0M116 257h0M87 249h0M99 233h0M111 201h0M106 257h0M128 212h0M104 221h0M90 234h0M96 216h0M85 243h0M96 253h0M116 243h0M125 216h0M116 218h0M105 226h0M120 210h0M113 260h0M106 240h0M126 242h0M108 210h0M91 258h0M88 242h0M109 248h0M111 221h0M129 212h0M107 227h0M95 238h0M106 229h0M123 209h0M100 249h0M114 191h0M133 188h0M124 247h0M100 250h0M106 242h0M105 210h0M122 190h0M121 195h0M114 260h0M128 203h0M95 257h0M106 207h0M123 235h0M102 243h0M119 213h0M117 234h0M97 257h0M99 254h0M98 264h0M119 205h0M114 204h0M116 217h0M115 242h0M121 194h0M104 237h0M114 195h0M87 247h0M119 243h0M112 210h0M112 201h0M121 218h0M111 238h0M107 255h0M130 224h0M99 232h0M92 232h0M125 241h0M100 212h0M87 242h0M92 239h0M118 204h0M110 224h0M116 252h0M93 229h0M124 249h0M115 197h0M124 235h0M105 222h0M118 188h0M90 249h0M101 208h0M105 260h0M120 198h0M126 226h0M116 197h0M98 256h0M120 236h0M105 229h0M112 193h0M106 260h0M106 221h0M92 232h0M97 248h0M107 262h0M126 240h0M92 241h0M128 230h0M129 216h0M96 213h0M114 237h0M110 245h0M112 239h0M118 248h0M128 215h0M108 262h0M116 249h0M111 223h0M103 230h0M125 219h0M93 235h0M114 261h0M115 254h0M101 239h0M109 237h0M121 209h0M100 213h0M113 240h0M118 248h0M107 229h0M126 204h0M119 236h0M119 246h0M120 230h0M124 222h0M101 236h0M110 210h0M105 210h0M118 202h0M103 262h0M105 249h0M115 244h0M108 208h0M124 187h0M111 208h0M96 213h0M99 240h0M100 210h0M97 220h0M116 245h0M117 200h0M129 207h0M102 252h0M128 216h0M120 213h0M100 262h0M109 204h0M127 212h0M100 235h0M114 209h0M100 253h0M113 227h0M120 206h0M127 222h0M126 231h0M93 229h0M121 227h0M120 224h0M109 207h0M102 242h0M123 237h0M107 251h0M112 252h0M125 232h0M95 219h0M109 217h0M106 239h0M127 217h0M92 233h0M121 231h0M101 220h0M112 213h0M115 220h0M116 241h0M107 223h0M121 205h0M116 227h0M97 215h0M91 242h0M112 249h0M111 206h0M111 209h0M103 229h0M97 229h0M101 255h0M104 262h0M129 210h0M102 242h0M119 243h0M128 212h0M109 263h0M92 237h0M92 241h0M119 222h0M99 250h0M99 226h0M105 201h0M109 222h0M122 212h0M121 210h0M117 250h0M95 228h0M100 251h0M102 223h0M122 236h0M102 247h0M118 215h0M111 212h0M94 229h0M112 237h0M110 253h0M110 218h0M119 240h0M121 233h0M118 232h0M103 227h0M108 232h0M107 259h0M99 214h0M112 219h0M103 211h0M115 244h0M127 229h0" stroke="#2cb8c4"/>
<path d="M116 219h0M102 251h0M108 257h0M117 212h0M109 232h0M114 242h0M128 220h0M102 224h0M116 232h0M99 238h0M98 235h0M96 234h0M102 223h0M99 214h0M115 233h0M102 216h0M104 244h0M102 241h0M104 227h0M103 256h0M107 230h0M114 239h0M106 251h0M98 243h0M112 246h0M100 233h0M115 202h0M120 230h0M110 220h0M97 218h0M100 218h0M106 221h0M95 246h0M115 221h0M110 213h0M117 248h0M104 222h0M94 251h0M101 247h0M102 234h0M109 246h0M117 247h0M117 229h0M114 204h0M109 235h0M110 237h0M112 257h0M110 252h0M124 215h0M118 207h0M102 262h0M105 252h0M111 247h0M107 220h0M116 253h0M117 203h0M102 230h0M119 233h0M121 231h0M115 242h0M91 237h0M119 215h0M114 209h0M110 233h0M115 238h0M97 248h0M103 250h0M104 246h0M114 260h0M98 258h0M115 233h0M120 222h0M105 228h0M115 239h0M110 246h0M119 250h0M101 230h0M93 246h0M98 219h0M122 228h0M116 202h0M121 222h0M117 216h0M112 216h0M120 236h0M110 243h0M123 205h0M98 250h0M111 211h0M114 210h0M108 250h0M103 238h0M105 252h0M95 229h0M124 239h0M119 222h0M123 209h0M121 224h0M102 210h0M117 210h0M129 230h0M109 229h0M101 258h0M114 258h0M100 232h0M101 211h0M123 227h0M111 225h0M96 219h0M94 254h0M109 223h0M103 244h0M114 230h0M104 213h0M119 228h0M111 249h0M101 218h0M130 228h0M115 205h0M113 258h0M113 205h0M103 241h0M111 258h0M119 253h0M122 208h0M119 228h0M96 253h0M120 245h0M92 239h0M114 236h0M110 206h0M115 206h0M99 239h0M93 234h0M109 222h0M119 240h0M112 223h0M117 253h0M94 253h0M96 231h0M104 229h0M104 220h0M97 249h0M110 258h0M115 243h0M115 218h0M117 200h0M94 254h0M114 225h0M124 215h0M100 232h0M117 239h0M95 237h0M111 250h0M102 238h0M121 215h0M100 214h0M108 263h0M112 258h0M117 245h0M108 260h0M96 245h0M116 219h0M111 206h0M100 225h0M96 257h0M98 245h0M109 222h0M112 233h0M124 209h0M112 218h0M113 210h0M117 246h0M106 237h0M121 236h0M108 211h0M114 218h0M108 238h0M105 236h0M104 255h0M119 244h0M109 218h0M97 236h0M102 241h0M108 255h0M124 221h0M122 234h0M125 242h0M120 230h0M108 231h0M112 229h0M107 227h0M99 227h0M117 227h0M96 224h0M103 234h0M102 233h0M105 227h0M108 224h0M99 224h0M119 250h0M125 238h0M120 238h0M102 249h0M110 229h0M120 232h0M100 249h0M102 251h0M105 213h0M104 231h0M117 246h0M119 233h0M124 220h0M112 227h0M101 226h0M121 231h0M119 225h0M105 240h0M112 234h0M104 248h0M119 236h0M108 215h0M105 255h0M110 251h0M108 217h0M113 227h0M115 216h0M118 243h0M118 227h0M118 232h0M105 233h0M99 238h0M108 237h0M108 245h0M108 225h0M102 218h0M111 236h0M110 237h0M120 225h0M104 249h0M98 236h0M100 238h0M112 241h0M113 223h0M116 224h0M111 226h0M105 231h0M120 240h0M115 218h0M109 260h0M104 243h0M103 256h0M102 246h0M101 216h0M107 254h0M100 244h0M100 250h0M96 236h0M115 251h0M96 240h0M124 223h0M106 241h0M121 223h0M99 237h0" stroke="#3cc45a"/>
<path d="M104 222h0M115 222h0M118 220h0M115 227h0M123 237h0M111 246h0M104 258h0M104 231h0M100 221h0M103 254h0M124 237h0M108 238h0M105 226h0M106 238h0M116 241h0M110 240h0M115 218h0M106 259h0M119 216h0M103 225h0M104 243h0M116 231h0M115 247h0M100 252h0M106 241h0M103 228h0M117 237h0M125 227h0M100 232h0M119 231h0M114 252h0M118 237h0M104 243h0M97 240h0M123 227h0M98 247h0M100 229h0M115 248h0M107 223h0M106 242h0M113 245h0M98 247h0M109 242h0M111 243h0M113 218h0M125 232h0M105 218h0M122 235h0M116 218h0M104 255h0M96 251h0M103 231h0M115 232h0M96 239h0M110 230h0M107 231h0M118 223h0M101 257h0M113 238h0M102 260h0M117 217h0M105 232h0M96 238h0M119 219h0M96 240h0M100 230h0M102 222h0M103 240h0M117 242h0M108 241h0M108 251h0M115 232h0M109 222h0M110 225h0M111 234h0M104 250h0M103 259h0M118 229h0M106 216h0M108 243h0M109 228h0M96 231h0M113 235h0M111 230h0M112 223h0M100 239h0M115 236h0M116 235h0M104 229h0M104 239h0M122 221h0M100 251h0M112 232h0M117 239h0M108 236h0M114 237h0M116 222h0M106 236h0M113 232h0" stroke="#b8d030"/>
<path d="M116 227h0M97 231h0M99 232h0M105 220h0M105 249h0M95 236h0M107 225h0M111 234h0M108 247h0M101 245h0M112 230h0M112 234h0M111 227h0M112 236h0M108 228h0M102 228h0M112 221h0M106 228h0M108 242h0M110 246h0M107 250h0M105 252h0M108 253h0M105 236h0M110 243h0M116 229h0M106 250h0M108 240h0M104 227h0M104 241h0M112 236h0M107 231h0M102 242h0M113 235h0M105 247h0M102 249h0M101 237h0M100 227h0M102 243h0M114 222h0M113 244h0M102 237h0M108 252h0M102 240h0M116 231h0M111 234h0M109 236h0M102 232h0M113 236h0M115 231h0M103 228h0" stroke="#f0a020"/>
<path d="M107 244h0M100 240h0M106 240h0M107 241h0M110 232h0M107 226h0M104 239h0M110 230h0M115 242h0M114 243h0M112 236h0M105 238h0M108 237h0M104 233h0M108 236h0M107 239h0M104 232h0M107 239h0M109 244h0M101 235h0M109 237h0M109 240h0" stroke="#ee4416"/>
</g>
<rect x="52.8" y="1437.5" width="146" height="150.6" fill="none" stroke="#333" stroke-width="0.9"/>
<text x="43.1" y="1448.5" font-size="12.3" text-anchor="end" fill="#222">250K</text>
<text x="43.1" y="1477.1" font-size="12.3" text-anchor="end" fill="#222">200K</text>
<text x="43.1" y="1505.6" font-size="12.3" text-anchor="end" fill="#222">150K</text>
<text x="43.1" y="1534.2" font-size="12.3" text-anchor="end" fill="#222">100K</text>
<text x="43.1" y="1562.7" font-size="12.3" text-anchor="end" fill="#222">50K</text>
<text x="43.1" y="1591.3" font-size="12.3" text-anchor="end" fill="#222">0</text>
<path d="M48.8 1444.2h4M48.8 1472.8h4M48.8 1501.3h4M48.8 1529.9h4M48.8 1558.4h4M48.8 1587.0h4M50.8 1449.9h2M50.8 1455.6h2M50.8 1461.3h2M50.8 1467.0h2M50.8 1478.5h2M50.8 1484.2h2M50.8 1489.9h2M50.8 1495.6h2M50.8 1507.0h2M50.8 1512.7h2M50.8 1518.5h2M50.8 1524.2h2M50.8 1535.6h2M50.8 1541.3h2M50.8 1547.0h2M50.8 1552.7h2M50.8 1564.2h2M50.8 1569.9h2M50.8 1575.6h2M50.8 1581.3h2M61.6 1588.1v4M85.8 1588.1v4M109.8 1588.1v4M149.4 1588.1v4M184.7 1588.1v4M64.5 1588.1v2M67.2 1588.1v2M69.6 1588.1v2M71.8 1588.1v2M73.7 1588.1v2M75.6 1588.1v2M77.6 1588.1v2M79.5 1588.1v2M81.4 1588.1v2M90.1 1588.1v2M92.0 1588.1v2M94.0 1588.1v2M95.9 1588.1v2M97.8 1588.1v2M99.7 1588.1v2M101.6 1588.1v2M103.6 1588.1v2M105.5 1588.1v2M107.4 1588.1v2M121.7 1588.1v2M128.7 1588.1v2M133.6 1588.1v2M137.5 1588.1v2M140.6 1588.1v2M143.3 1588.1v2M145.6 1588.1v2M147.6 1588.1v2M160.0 1588.1v2M166.2 1588.1v2M170.7 1588.1v2M174.1 1588.1v2M176.9 1588.1v2M179.2 1588.1v2M181.3 1588.1v2M183.1 1588.1v2M195.2 1588.1v2M59.2 1588.1v2M57.8 1588.1v2M56.8 1588.1v2M56.0 1588.1v2" stroke="#222" stroke-width="0.9" fill="none"/>
<rect x="83.4" y="1588.1" width="5.4" height="2.6" fill="#000"/>
<text x="58.8" y="1605.6" font-size="12" text-anchor="middle" fill="#222">-10<tspan dy="-4.5" font-size="8.5">3</tspan></text>
<text x="83.4" y="1605.6" font-size="12" text-anchor="middle" fill="#222">0</text>
<text x="109.4" y="1605.6" font-size="12" text-anchor="middle" fill="#222">10<tspan dy="-4.5" font-size="8.5">3</tspan></text>
<text x="149.5" y="1605.6" font-size="12" text-anchor="middle" fill="#222">10<tspan dy="-4.5" font-size="8.5">4</tspan></text>
<text x="186.3" y="1605.6" font-size="12" text-anchor="middle" fill="#222">10<tspan dy="-4.5" font-size="8.5">5</tspan></text>
<path d="M108.8 1588.1 L127.3 1480.8 L198.8 1480.8" stroke="#222" stroke-width="1" fill="none"/>
<text x="194.3" y="1467.7" font-size="24.7" text-anchor="end">28.4%</text>
<g transform="translate(250.7 1437.5) scale(.5)" stroke-width="1.9" stroke-linecap="square" fill="none">
<path d="M166 179h0M66 213h0M166 230h0M159 61h0M161 111h0M167 73h0M139 51h0M167 220h0M51 273h0M157 45h0M159 242h0M161 214h0M167 167h0M70 225h0M145 257h0M168 53h0M166 201h0M143 84h0M157 231h0M119 92h0M147 58h0M151 76h0M57 262h0M156 123h0M155 103h0M127 105h0M70 255h0M155 254h0M155 88h0M98 142h0M122 108h0M73 221h0M92 183h0M98 152h0M58 240h0M152 65h0M114 125h0M165 130h0M68 260h0M61 244h0M135 65h0M156 168h0M159 243h0M87 182h0M145 112h0M160 140h0M141 257h0M62 255h0M100 143h0M146 96h0M151 81h0M132 105h0M130 87h0M154 156h0M144 273h0M142 68h0M77 209h0M131 273h0M130 94h0M149 247h0M160 139h0M157 104h0M158 213h0M157 121h0M98 164h0M86 198h0M137 91h0M118 112h0M151 256h0M93 173h0M164 240h0M152 149h0M60 257h0M73 259h0M150 222h0M134 92h0M89 184h0M130 271h0M121 89h0M145 97h0M65 240h0M77 214h0M65 251h0M156 148h0M125 114h0M70 262h0M155 162h0M151 188h0M113 141h0M71 264h0M157 134h0M120 117h0M153 137h0M154 210h0M128 92h0M118 135h0M141 92h0M146 196h0M91 173h0M141 70h0M137 266h0M77 224h0M157 134h0M101 161h0M87 190h0M146 107h0M136 93h0M144 109h0M70 268h0M146 122h0M155 105h0M87 202h0M100 168h0M77 267h0M143 66h0M131 117h0M146 115h0M154 196h0M77 236h0M88 190h0M119 121h0M147 211h0M76 248h0M72 271h0M147 228h0M98 171h0M154 165h0M150 172h0M148 208h0M105 155h0M77 232h0M116 142h0M84 272h0M103 150h0M64 248h0M117 121h0M146 70h0M148 101h0M115 122h0M147 123h0M117 144h0M148 175h0M146 242h0M83 228h0M78 265h0M71 237h0M146 135h0M143 94h0M137 86h0M146 191h0M144 115h0M77 231h0M119 133h0M155 129h0M151 228h0M83 262h0M141 269h0M82 221h0M115 165h0M95 190h0M119 272h0M75 249h0M118 278h0M136 121h0M153 147h0M83 232h0M151 147h0M151 205h0M127 115h0M115 149h0M118 273h0M146 158h0M138 113h0M77 260h0M101 156h0M93 270h0M103 174h0M82 208h0M135 270h0M149 237h0M97 185h0M115 156h0M121 150h0M96 194h0M107 166h0M113 271h0M100 165h0M143 123h0M144 106h0M119 120h0M143 130h0M136 275h0M123 146h0M101 152h0M115 143h0M112 165h0M116 123h0M83 217h0M141 110h0M141 267h0M148 249h0M148 142h0M138 262h0M80 245h0M139 256h0M100 271h0M127 271h0M106 270h0M117 148h0M123 131h0M152 169h0M125 273h0M99 196h0M131 150h0M132 116h0M80 250h0M117 153h0M146 208h0M151 143h0M148 238h0M78 269h0M129 119h0M141 162h0M125 141h0M128 130h0M145 212h0M94 201h0M129 121h0M95 271h0M103 158h0M131 267h0M135 132h0M142 137h0M138 146h0M141 232h0M105 270h0M96 192h0M142 169h0M121 151h0M119 134h0M109 272h0M84 271h0M76 254h0M150 144h0M140 239h0M99 195h0M145 221h0M104 278h0M144 250h0M88 205h0M149 199h0M127 142h0M141 228h0M141 139h0M94 207h0M124 132h0M147 184h0M113 154h0M100 181h0M148 215h0M144 147h0M106 157h0M143 160h0M134 146h0M129 117h0M143 244h0M134 131h0M132 129h0M143 134h0M141 134h0M118 265h0M126 134h0M114 150h0M148 197h0M143 153h0M150 173h0M128 149h0M149 149h0M129 136h0M79 252h0M136 270h0M134 125h0M119 274h0M75 270h0M130 150h0M132 142h0M93 214h0M87 241h0M95 192h0M141 205h0M117 273h0M146 191h0M98 197h0M92 204h0M137 137h0M117 271h0M78 243h0M144 161h0M113 275h0M133 125h0M135 141h0M87 274h0M114 158h0M105 166h0M149 186h0M145 187h0M88 221h0M94 274h0M142 143h0M87 209h0M119 140h0M142 183h0M80 254h0M143 151h0M82 237h0M122 156h0M138 174h0M135 151h0M136 141h0M106 161h0M147 209h0M133 141h0M119 163h0M106 153h0M115 152h0M143 130h0M126 120h0M121 158h0M147 175h0M83 267h0M112 274h0M137 267h0M87 204h0M148 229h0M137 242h0M144 136h0M87 257h0M127 138h0M88 217h0M82 229h0M122 164h0M139 250h0M94 217h0M90 243h0M142 124h0M144 120h0M104 160h0M137 261h0M88 227h0M78 235h0M131 261h0M142 156h0M138 242h0M112 150h0M143 174h0M131 120h0M80 247h0M94 268h0M145 246h0M149 166h0M109 179h0M90 191h0M126 135h0M80 269h0M134 251h0M140 189h0M109 156h0M142 145h0M139 122h0M135 165h0M146 181h0M124 156h0M122 136h0M99 214h0M98 200h0M139 192h0M126 140h0M101 204h0M141 232h0M116 161h0M144 120h0M88 266h0M94 242h0M141 142h0M135 178h0M90 271h0M143 128h0M83 261h0M115 159h0M109 165h0M142 161h0M138 182h0M88 206h0M90 218h0M122 266h0M137 251h0M87 249h0M130 158h0M124 134h0M142 214h0M131 129h0M105 172h0M122 170h0M86 232h0M126 268h0M91 253h0M143 215h0M127 137h0M126 147h0M100 177h0M100 198h0M104 198h0M92 257h0M137 134h0M118 174h0M109 184h0M142 141h0M104 210h0M100 193h0M87 228h0M85 224h0M103 274h0M122 146h0M90 250h0M139 134h0M96 271h0M115 170h0M102 197h0M78 245h0M128 170h0M88 264h0M86 236h0M142 179h0M140 221h0M149 221h0M97 186h0M137 239h0M90 230h0M130 122h0M94 201h0M134 122h0M137 161h0M124 135h0M104 184h0M143 217h0M127 259h0M132 259h0M143 145h0M134 157h0M107 168h0M140 215h0M92 246h0M110 177h0M136 175h0M85 264h0M141 140h0M135 195h0M94 239h0M147 173h0M142 237h0M84 253h0M98 270h0M144 151h0M80 260h0M94 258h0M116 169h0M116 164h0M138 148h0M108 175h0M144 133h0M143 186h0M135 150h0M98 215h0M141 236h0M81 252h0M142 163h0M81 268h0M103 188h0M141 199h0M86 210h0M109 192h0M88 242h0M87 223h0M89 255h0M106 165h0M148 226h0M135 207h0M101 193h0M80 242h0M107 164h0M92 233h0M132 162h0M137 255h0M92 228h0M142 155h0M97 205h0M91 251h0M92 253h0M144 126h0M89 208h0M143 234h0M112 164h0M87 242h0M138 197h0M140 149h0M96 224h0M91 231h0M93 217h0M113 171h0M124 142h0M132 144h0M126 164h0M141 242h0M143 240h0M112 175h0M131 257h0M132 132h0M95 267h0M126 144h0M119 155h0M145 127h0M117 267h0M114 174h0M140 198h0M140 203h0M150 140h0M117 264h0M136 247h0M139 229h0M122 269h0M91 223h0M137 254h0M128 159h0M140 190h0M106 274h0M136 188h0M125 146h0M136 165h0M94 212h0M88 266h0M144 177h0M131 191h0M121 146h0M102 211h0M123 161h0M91 218h0M131 193h0M112 173h0M120 171h0M84 238h0M134 147h0M85 253h0M90 246h0M139 139h0M141 232h0M136 139h0M144 176h0M144 191h0M83 241h0M95 241h0M113 183h0M85 259h0M103 213h0M134 164h0M95 233h0M88 241h0M144 157h0M123 169h0M108 180h0M140 215h0M132 164h0M136 189h0M133 159h0M121 259h0M93 268h0M110 175h0M115 261h0M124 165h0M132 244h0M100 212h0M86 208h0M116 184h0M87 227h0M114 194h0M81 241h0M97 221h0M140 208h0M81 252h0M127 160h0M140 214h0M100 234h0M104 179h0M137 182h0M138 131h0M116 262h0M142 147h0M126 174h0M129 179h0M135 165h0M86 218h0M106 194h0M140 129h0M135 227h0M101 274h0M142 178h0M102 180h0M93 274h0M138 182h0M120 169h0M104 184h0M142 235h0M126 181h0M131 193h0M114 190h0M114 191h0M97 230h0M125 262h0M113 165h0M133 231h0M105 271h0M129 263h0M128 256h0M100 263h0M145 142h0M140 228h0M143 157h0M105 210h0M108 192h0M125 142h0M125 250h0M99 256h0M100 262h0M126 194h0M129 260h0M142 183h0M125 178h0M93 214h0M97 234h0M117 172h0M127 188h0M135 138h0M130 242h0M94 212h0M129 260h0M133 240h0M104 207h0M132 175h0M141 150h0M123 164h0M133 150h0M118 183h0M134 244h0M134 249h0M134 162h0M124 157h0M127 194h0M113 180h0M131 132h0M135 143h0M135 131h0M131 175h0M121 163h0M135 125h0M82 238h0M131 163h0M141 161h0M142 190h0M140 210h0M144 222h0M136 166h0M139 129h0M136 244h0M138 187h0M129 172h0M128 180h0M143 214h0M83 248h0M134 238h0M92 227h0M138 127h0M103 181h0M133 194h0M126 159h0M90 221h0M142 222h0M132 177h0M102 215h0M101 211h0M105 263h0M129 178h0M98 216h0M135 192h0M127 187h0M132 218h0M110 192h0M134 260h0M120 180h0M128 192h0M95 248h0M143 232h0M133 158h0M120 187h0M118 160h0M135 156h0M118 180h0M128 154h0M133 195h0M109 178h0M143 177h0M85 238h0M143 225h0M102 205h0M104 189h0M117 191h0M91 234h0M101 217h0M104 223h0M118 192h0M128 187h0M130 166h0M89 230h0M117 258h0M100 218h0M131 156h0M109 186h0M116 164h0M86 268h0M138 247h0M90 268h0M141 173h0M95 256h0M136 183h0M131 243h0M116 180h0M127 193h0M139 144h0M133 152h0M126 176h0M137 158h0M135 182h0M142 170h0M91 252h0M129 177h0M128 177h0M86 247h0M96 212h0M101 206h0M111 195h0M131 227h0M125 250h0M97 240h0M100 258h0M135 231h0M96 196h0M133 229h0M114 166h0M127 219h0M96 272h0M97 253h0M83 245h0M127 160h0M137 149h0M109 171h0M144 181h0M94 216h0M95 212h0M123 250h0M133 152h0M94 214h0M136 218h0M114 166h0M130 208h0M88 239h0M123 261h0M99 229h0M139 226h0M96 200h0M111 191h0M133 166h0M131 223h0M134 175h0M88 249h0M132 230h0M107 182h0M101 214h0M89 221h0M86 260h0M104 197h0M131 199h0M88 263h0M133 144h0M128 177h0M132 227h0M144 212h0M140 174h0M135 212h0M104 211h0M93 264h0M94 266h0M136 221h0M91 227h0M114 202h0M144 183h0M110 193h0M90 215h0M99 216h0M140 202h0M96 239h0M136 184h0M134 196h0M128 215h0M86 269h0M134 240h0M115 182h0M127 264h0M122 261h0M134 247h0M131 225h0M130 187h0M131 159h0M107 267h0M91 214h0M101 201h0M91 211h0M140 198h0M91 264h0M116 175h0M126 188h0M129 162h0M93 222h0M106 205h0M93 236h0M131 215h0M99 226h0M129 214h0M135 217h0M136 209h0M99 232h0M136 213h0M138 143h0M88 223h0M127 251h0M100 262h0M107 188h0M138 215h0M100 216h0M126 256h0M91 247h0M128 160h0M96 242h0M100 237h0M87 235h0M89 244h0M117 187h0M114 200h0M102 259h0M93 251h0M99 268h0M123 179h0M137 179h0M135 221h0M96 227h0M109 208h0M135 204h0M137 209h0M108 184h0M130 190h0M142 217h0M107 178h0M115 269h0M121 255h0M133 249h0M116 173h0M135 192h0M115 171h0M128 211h0M116 256h0M103 246h0M89 255h0M131 204h0M136 247h0M122 215h0M112 197h0M134 171h0M116 267h0M93 222h0M90 215h0M131 202h0M133 185h0M106 260h0M101 192h0M102 193h0M106 187h0M101 262h0M103 230h0M135 165h0M126 185h0M105 261h0M122 250h0M87 263h0M124 223h0M127 187h0M136 169h0M98 251h0M135 204h0M108 201h0M125 240h0M104 249h0M131 244h0M110 189h0M140 159h0M108 192h0M123 192h0M136 174h0M95 236h0M121 230h0M134 165h0M126 221h0M133 196h0M109 181h0M123 265h0M86 224h0M117 261h0M126 244h0M133 212h0M136 184h0M136 229h0M138 208h0M127 203h0M129 207h0M124 178h0M124 198h0M135 193h0M121 254h0M103 211h0M127 165h0M96 211h0M107 199h0M98 257h0M119 198h0M124 188h0M134 210h0M136 242h0M93 211h0M128 245h0M104 232h0M121 167h0M129 207h0M94 256h0M110 175h0M119 175h0M119 174h0M87 221h0M107 249h0M105 226h0M130 229h0M134 221h0M131 252h0M131 247h0M115 196h0M136 195h0M138 182h0M133 175h0M113 207h0M132 222h0M105 221h0M107 194h0M109 197h0M126 239h0M106 225h0M114 181h0M95 220h0M128 165h0M106 227h0M138 157h0M128 162h0M103 186h0M92 232h0M133 181h0M121 214h0M135 217h0M96 226h0M129 205h0M112 180h0M136 163h0M124 211h0M90 236h0M108 227h0M115 180h0M143 219h0M103 192h0M103 244h0M135 198h0M116 187h0M129 174h0M93 239h0M101 269h0M101 259h0M122 199h0M103 262h0M127 223h0M126 230h0M117 195h0M104 261h0M136 172h0M101 269h0M136 211h0M103 188h0M102 241h0M138 179h0M124 247h0M111 267h0M123 217h0M116 185h0M110 178h0M125 259h0M125 223h0M128 177h0M96 267h0M130 213h0M106 250h0M128 184h0M133 199h0M112 252h0M113 257h0M103 268h0M122 226h0M135 163h0M114 185h0M105 239h0M134 244h0M117 187h0M137 222h0M121 207h0M103 221h0M105 258h0M120 228h0M103 231h0M107 243h0M136 174h0M137 164h0M132 182h0M112 180h0M104 267h0M124 256h0M106 214h0M108 258h0M129 216h0M94 226h0M92 263h0M129 248h0M126 258h0M86 237h0M112 216h0M126 227h0M138 220h0M118 263h0M113 202h0M122 201h0M87 237h0M91 222h0M113 193h0M103 256h0M100 243h0M98 246h0M124 164h0M108 262h0M102 232h0M120 177h0M132 198h0M94 267h0M96 234h0M115 176h0M113 213h0M105 204h0M105 220h0M124 224h0M127 161h0M102 254h0M91 240h0M118 247h0M96 258h0M105 195h0M96 218h0M102 233h0M130 201h0M102 252h0M129 200h0M113 229h0M122 202h0M136 157h0M125 217h0M89 239h0M132 178h0M138 242h0M111 222h0M112 222h0M120 209h0M139 200h0M109 177h0M114 231h0M134 241h0M121 185h0M93 228h0M135 234h0M96 241h0M127 219h0M106 210h0M114 254h0M120 264h0M127 193h0M96 258h0M137 180h0M97 243h0M94 225h0M125 257h0M113 185h0M125 243h0M116 202h0M101 253h0M108 231h0M126 241h0M98 246h0M125 215h0M133 216h0M109 257h0M90 241h0M126 258h0M123 163h0M100 250h0M137 195h0M101 240h0M96 221h0M118 188h0M124 247h0M122 234h0M110 218h0M133 178h0M125 167h0M96 229h0M122 239h0M125 190h0M105 202h0M117 210h0M128 256h0M107 255h0M104 224h0M125 181h0M120 161h0M105 263h0M138 240h0M126 249h0M105 262h0M90 257h0M105 260h0M130 243h0M110 213h0M134 247h0M117 172h0M99 248h0M114 207h0M115 229h0M135 217h0M126 258h0M130 242h0M118 201h0M130 175h0M122 209h0M98 256h0M130 214h0M139 224h0M116 250h0M128 240h0M123 245h0M114 237h0M122 261h0M134 171h0M119 227h0M120 239h0M106 196h0M111 265h0M118 238h0M117 258h0M118 247h0M137 214h0M118 192h0M107 191h0M133 222h0M106 242h0M90 215h0M121 226h0M102 262h0M106 204h0M106 210h0M133 208h0M117 247h0M122 207h0M132 174h0M108 239h0M112 188h0M121 223h0M127 204h0M118 204h0M104 194h0M102 196h0M114 185h0M132 186h0M113 187h0M111 256h0M99 248h0M133 189h0M127 254h0M130 206h0M117 200h0M124 190h0M131 235h0M99 234h0M139 223h0M110 206h0M102 228h0M108 189h0M130 229h0M121 221h0M92 237h0M112 265h0M133 193h0M92 246h0M124 238h0M112 198h0M110 263h0M122 230h0M110 233h0M111 264h0M102 227h0M104 240h0M134 161h0M96 222h0M117 256h0M99 259h0M136 199h0M115 213h0M107 177h0M139 220h0M133 231h0M118 192h0M136 176h0M101 213h0M112 253h0M120 176h0M136 236h0M126 162h0M101 199h0M124 242h0M131 229h0M108 267h0M107 248h0M119 177h0M140 212h0M113 202h0M131 214h0M116 199h0M115 231h0M131 191h0M111 193h0M121 212h0M135 217h0M139 208h0M106 245h0M132 231h0M132 227h0M117 199h0M103 213h0M109 185h0M123 171h0M128 184h0M126 175h0M122 220h0M139 162h0M101 248h0M113 259h0M110 231h0M118 178h0M110 227h0M110 240h0M135 201h0M108 177h0" stroke="#2a2af2"/>
<path d="M101 247h0M110 259h0M115 224h0M97 266h0M120 184h0M102 236h0M93 263h0M137 230h0M127 220h0M105 230h0M111 210h0M122 251h0M121 210h0M100 263h0M131 156h0M93 253h0M125 167h0M116 243h0M98 268h0M115 212h0M109 247h0M125 234h0M96 220h0M109 232h0M107 176h0M104 232h0M108 198h0M127 214h0M130 213h0M115 208h0M132 169h0M132 235h0M139 223h0M96 232h0M134 159h0M114 234h0M106 216h0M133 243h0M134 203h0M111 209h0M122 247h0M122 238h0M128 160h0M100 235h0M101 216h0M98 266h0M124 181h0M113 263h0M93 262h0M113 201h0M129 196h0M122 169h0M125 218h0M98 265h0M135 172h0M112 190h0M115 186h0M125 193h0M120 176h0M115 214h0M110 258h0M103 250h0M119 233h0M126 193h0M128 220h0M131 195h0M109 205h0M93 262h0M114 244h0M118 232h0M118 175h0M103 237h0M110 208h0M123 238h0M126 189h0M117 195h0M97 244h0M114 185h0M122 172h0M93 233h0M118 197h0M109 203h0M100 249h0M127 216h0M130 219h0M129 185h0M105 250h0M121 190h0M114 230h0M126 185h0M107 258h0M115 220h0M106 201h0M108 252h0M103 239h0M107 184h0M111 226h0M113 185h0M115 263h0M128 243h0M120 237h0M125 185h0M103 225h0M105 228h0M112 255h0M120 257h0M106 216h0M137 217h0M125 174h0M100 252h0M131 205h0M113 223h0M117 183h0M126 208h0M116 258h0M106 261h0M122 177h0M120 199h0M120 241h0M101 227h0M135 238h0M134 187h0M130 233h0M98 246h0M111 182h0M107 264h0M136 221h0M112 183h0M96 259h0M122 238h0M118 220h0M131 214h0M133 165h0M127 223h0M109 247h0M112 210h0M95 235h0M111 229h0M135 244h0M100 247h0M131 163h0M128 161h0M133 170h0M109 210h0M114 221h0M102 269h0M109 237h0M116 261h0M107 233h0M100 233h0M124 237h0M109 234h0M101 228h0M99 261h0M96 258h0M126 220h0M122 211h0M124 196h0M117 189h0M113 180h0M122 197h0M134 225h0M99 258h0M125 167h0M105 215h0M129 216h0M130 210h0M96 252h0M110 191h0M116 253h0M116 190h0M104 267h0M128 186h0M130 236h0M126 212h0M137 223h0M115 191h0M97 259h0M115 216h0M128 185h0M111 239h0M117 244h0M114 210h0M123 220h0M118 201h0M127 161h0M130 163h0M96 227h0M94 239h0M123 254h0M135 190h0M128 213h0M119 257h0M119 252h0M125 251h0M113 184h0M110 263h0M124 180h0M108 212h0M91 240h0M126 169h0M131 200h0M129 234h0M123 223h0M106 247h0M108 260h0M134 196h0M112 262h0M124 205h0M127 178h0M125 254h0M130 209h0M118 201h0M115 262h0M123 248h0M109 223h0M125 163h0M131 229h0M102 242h0M127 183h0M96 249h0M110 193h0M117 242h0M117 248h0M100 216h0M97 236h0M105 253h0M124 209h0M121 248h0M101 220h0M120 200h0M126 252h0M129 200h0M104 212h0M118 258h0M128 232h0M129 229h0M103 249h0M101 239h0M108 250h0M125 181h0M108 263h0M122 206h0M118 263h0M133 186h0M109 223h0M124 175h0M120 186h0M128 162h0M133 200h0M127 245h0M123 236h0M119 229h0M121 236h0M108 260h0M114 255h0M121 239h0M117 205h0M120 233h0M128 202h0M115 209h0M111 234h0M114 221h0M115 236h0M116 252h0M118 184h0M109 260h0M128 201h0M96 264h0M118 178h0M118 252h0M134 224h0M118 230h0M128 234h0M112 238h0M105 216h0M128 226h0M116 202h0M113 264h0M108 219h0M111 247h0M108 204h0M110 260h0M130 209h0M105 238h0M112 255h0M97 263h0M106 212h0M113 220h0M108 201h0M100 221h0M125 258h0M113 185h0M130 186h0M122 258h0M117 228h0M118 249h0M107 242h0M134 160h0M100 261h0M113 202h0M108 221h0M118 223h0M122 184h0M108 226h0M134 180h0M102 258h0M113 211h0M118 192h0M108 213h0M115 234h0M134 214h0M101 265h0M113 205h0M97 236h0M134 182h0M100 220h0M128 206h0M132 235h0M129 236h0M126 177h0" stroke="#2f74f5"/>
<path d="M121 222h0M119 215h0M130 197h0M123 214h0M130 241h0M134 194h0M116 218h0M118 257h0M117 216h0M98 242h0M127 239h0M113 259h0M117 233h0M128 199h0M99 225h0M120 231h0M103 250h0M130 235h0M95 235h0M129 183h0M118 204h0M104 238h0M125 233h0M104 227h0M127 163h0M133 236h0M115 201h0M113 262h0M108 228h0M99 225h0M113 224h0M124 208h0M120 247h0M115 212h0M109 200h0M132 182h0M120 189h0M102 235h0M112 220h0M121 202h0M135 243h0M116 200h0M122 184h0M122 241h0M100 229h0M114 182h0M108 253h0M125 190h0M107 230h0M116 196h0M129 185h0M102 262h0M127 238h0M106 256h0M127 227h0M112 217h0M98 247h0M120 231h0M125 252h0M114 235h0M116 207h0M118 191h0M134 219h0M130 197h0M122 206h0M122 185h0M108 211h0M106 246h0M115 222h0M133 242h0M111 236h0M123 234h0M108 223h0M128 183h0M132 203h0M124 238h0M97 246h0M113 198h0M105 240h0M124 203h0M132 214h0M106 228h0M115 230h0M99 245h0M131 218h0M110 241h0M126 176h0M128 181h0M134 193h0M121 238h0M110 258h0M118 237h0M131 226h0M101 217h0M105 253h0M110 213h0M131 195h0M110 216h0M111 235h0M114 262h0M114 249h0M115 202h0M106 208h0M114 259h0M116 218h0M134 205h0M105 259h0M117 184h0M108 255h0M133 207h0M119 250h0M111 234h0M107 245h0M127 228h0M133 207h0M104 233h0M122 221h0M124 230h0M118 218h0M99 242h0M125 216h0M120 180h0M103 247h0M122 246h0M133 197h0M116 203h0M124 239h0M113 202h0M128 248h0M112 245h0M110 214h0M95 259h0M123 206h0M133 211h0M113 216h0M106 245h0M119 246h0M120 211h0M101 248h0M117 193h0M99 235h0M129 177h0M107 263h0M111 230h0M117 231h0M128 231h0M121 209h0M127 181h0M116 198h0M133 219h0M130 222h0M127 230h0M105 241h0M110 231h0M120 227h0M121 186h0M114 222h0M131 198h0M119 215h0M124 239h0M103 221h0M130 237h0M102 247h0M131 232h0M109 226h0M107 235h0M103 259h0M116 224h0M107 233h0M108 236h0M111 224h0M131 233h0M130 200h0M134 232h0M124 196h0M120 191h0M107 217h0M132 243h0M124 212h0M114 197h0M122 220h0M122 219h0M107 221h0M102 228h0M112 261h0M127 232h0M114 257h0M120 224h0M124 222h0M107 215h0M116 217h0M119 243h0M121 192h0M122 247h0M121 240h0M119 207h0M119 216h0M98 250h0M112 199h0M120 217h0M124 192h0M121 189h0M111 220h0M128 215h0M130 243h0M103 252h0M106 233h0M130 247h0M125 198h0M121 209h0M112 240h0M130 224h0M117 212h0M122 190h0M121 207h0M116 249h0M113 248h0M130 232h0M117 234h0M113 212h0M111 206h0M115 245h0M124 194h0M130 224h0M119 193h0M113 244h0M114 197h0M107 220h0M109 212h0M108 214h0M119 251h0M135 230h0M121 184h0M103 257h0M115 244h0M130 229h0M125 195h0M108 261h0M109 230h0M109 255h0M124 200h0M106 219h0M110 247h0M123 238h0M110 238h0M126 207h0M102 234h0M108 248h0M111 219h0M124 222h0M118 238h0M117 202h0" stroke="#2cb8c4"/>
<path d="M129 234h0M132 209h0M123 233h0M107 221h0M119 237h0M128 239h0M122 181h0M114 261h0M115 242h0M102 244h0M130 198h0M129 194h0M120 227h0M127 248h0M128 250h0M105 240h0M124 227h0M117 210h0M133 207h0M123 248h0M122 223h0M110 255h0M115 213h0M124 192h0M108 233h0M115 235h0M120 235h0M127 199h0M99 246h0M121 210h0M121 253h0M129 224h0M132 202h0M118 237h0M115 212h0M116 200h0M113 224h0M109 256h0M112 200h0M104 220h0M122 187h0M102 226h0M116 236h0M126 202h0M106 226h0M106 209h0M112 209h0M111 198h0M115 247h0M126 220h0M121 197h0M106 240h0M110 227h0M124 242h0M107 219h0M113 213h0M109 234h0M128 217h0M104 235h0M113 206h0M126 240h0M128 247h0M102 261h0M124 200h0M121 250h0M130 237h0M107 244h0M127 209h0M97 241h0M129 234h0M129 210h0M126 222h0M117 245h0M125 247h0M111 254h0M114 206h0M115 245h0M119 236h0M125 253h0M107 253h0M128 243h0M103 241h0M116 205h0M130 234h0M133 226h0M134 204h0M111 214h0M112 251h0M113 257h0M118 197h0M107 211h0M103 256h0M106 263h0M115 230h0M126 219h0M122 247h0M126 203h0M125 244h0M116 252h0M118 205h0M99 241h0M102 252h0M122 236h0M107 233h0M124 215h0M112 244h0M103 233h0M104 228h0M104 244h0M104 237h0M121 193h0M113 212h0M116 209h0M123 246h0M113 256h0M127 205h0M113 212h0M117 211h0M129 225h0M120 259h0M117 203h0M123 250h0M117 249h0M121 245h0M119 233h0M113 226h0M109 228h0M113 260h0M103 255h0M110 260h0M121 195h0M126 217h0M119 238h0M130 227h0M130 201h0M108 256h0M128 197h0M120 216h0M120 229h0M119 217h0M127 203h0M101 241h0M121 231h0M105 236h0M105 249h0M113 206h0M115 221h0M115 256h0M109 224h0M107 244h0M112 195h0M125 204h0M117 251h0M118 205h0M126 210h0M117 199h0M120 236h0M125 197h0M129 196h0M109 218h0M108 237h0M107 258h0M128 239h0M119 195h0M128 241h0M103 239h0M124 249h0M118 241h0M121 242h0M101 249h0M101 239h0M111 229h0M112 236h0M102 248h0M116 252h0M106 264h0M107 226h0M115 235h0M118 254h0M113 250h0M117 201h0M108 229h0M123 195h0M117 218h0M122 226h0M125 204h0M122 229h0M113 236h0M111 243h0M119 248h0M124 209h0M110 252h0M107 211h0M113 225h0M119 238h0M120 200h0M120 227h0M105 243h0M117 250h0M107 261h0M103 253h0M115 218h0M103 236h0M115 254h0M121 208h0M117 209h0M109 264h0M103 245h0M120 195h0M118 231h0M116 219h0M121 246h0M107 221h0M101 253h0M104 232h0M107 235h0M108 245h0M123 215h0M112 237h0M115 243h0M121 221h0M119 196h0M110 222h0M129 237h0M126 230h0M128 232h0M115 249h0M111 235h0M109 240h0M117 202h0M113 232h0M115 210h0M127 231h0M125 196h0M106 220h0M124 229h0M102 241h0M116 208h0M108 252h0M125 214h0M120 212h0M110 247h0M101 247h0M123 225h0M107 258h0M110 229h0M113 224h0M125 250h0M114 222h0M119 196h0M116 225h0M122 213h0M130 222h0M119 216h0M116 206h0M114 238h0M122 229h0M126 244h0M115 249h0M117 225h0M114 252h0M116 203h0M119 229h0M116 212h0" stroke="#3cc45a"/>
<path d="M105 241h0M130 233h0M114 226h0M117 248h0M112 219h0M126 209h0M116 239h0M114 253h0M119 245h0M104 242h0M112 232h0M103 247h0M111 221h0M126 234h0M118 254h0M119 250h0M128 202h0M110 240h0M111 226h0M124 228h0M120 224h0M116 196h0M114 241h0M107 238h0M104 253h0M119 241h0M125 242h0M127 215h0M109 228h0M121 230h0M121 241h0M101 246h0M111 221h0M108 258h0M122 207h0M112 216h0M117 207h0M110 241h0M121 219h0M125 211h0M109 257h0M117 229h0M120 211h0M129 202h0M121 217h0M118 218h0M124 201h0M100 245h0M119 200h0M116 227h0M119 231h0M113 259h0M128 204h0M110 236h0M112 234h0M117 215h0M125 240h0M110 222h0M112 228h0M114 248h0M118 244h0M105 218h0M116 250h0M116 214h0M109 231h0M118 216h0M110 248h0M104 240h0M122 225h0M110 254h0M123 208h0M127 232h0M110 220h0M105 237h0M115 243h0M108 217h0M116 221h0M109 219h0M128 240h0M124 249h0M112 248h0M114 252h0M110 222h0M112 256h0M107 257h0M125 239h0M114 256h0M118 234h0M122 204h0M124 208h0M113 230h0M116 212h0M114 213h0M123 218h0M122 246h0M115 216h0M124 215h0M110 210h0M114 255h0" stroke="#b8d030"/>
<path d="M113 221h0M114 240h0M124 203h0M122 206h0M116 219h0M111 242h0M128 208h0M110 222h0M120 231h0M116 210h0M126 202h0M116 201h0M127 210h0M111 244h0M118 225h0M110 220h0M106 235h0M117 236h0M108 226h0M121 241h0M127 210h0M114 228h0M113 229h0M130 210h0M114 215h0M122 244h0M106 240h0M112 244h0M123 201h0M113 214h0M120 208h0M111 238h0M114 212h0M116 233h0M117 249h0M118 228h0M124 211h0M118 218h0M112 240h0M105 234h0M122 204h0M117 232h0M119 246h0M117 220h0M116 216h0M117 240h0M121 240h0M118 208h0M118 238h0M113 241h0M118 237h0" stroke="#f0a020"/>
<path d="M124 244h0M115 237h0M120 240h0M114 232h0M111 224h0M117 237h0M113 226h0M113 234h0M125 205h0M119 242h0M113 230h0M124 236h0M117 242h0M119 235h0M119 244h0M120 237h0M116 240h0M119 234h0M119 240h0M116 236h0M117 242h0M118 237h0" stroke="#ee4416"/>
</g>
<rect x="250.7" y="1437.5" width="146" height="150.6" fill="none" stroke="#333" stroke-width="0.9"/>
<text x="244.0" y="1448.5" font-size="12.3" text-anchor="end" fill="#222">250K</text>
<text x="244.0" y="1477.1" font-size="12.3" text-anchor="end" fill="#222">200K</text>
<text x="244.0" y="1505.6" font-size="12.3" text-anchor="end" fill="#222">150K</text>
<text x="244.0" y="1534.2" font-size="12.3" text-anchor="end" fill="#222">100K</text>
<text x="244.0" y="1562.7" font-size="12.3" text-anchor="end" fill="#222">50K</text>
<text x="244.0" y="1591.3" font-size="12.3" text-anchor="end" fill="#222">0</text>
<path d="M246.7 1444.2h4M246.7 1472.8h4M246.7 1501.3h4M246.7 1529.9h4M246.7 1558.4h4M246.7 1587.0h4M248.7 1449.9h2M248.7 1455.6h2M248.7 1461.3h2M248.7 1467.0h2M248.7 1478.5h2M248.7 1484.2h2M248.7 1489.9h2M248.7 1495.6h2M248.7 1507.0h2M248.7 1512.7h2M248.7 1518.5h2M248.7 1524.2h2M248.7 1535.6h2M248.7 1541.3h2M248.7 1547.0h2M248.7 1552.7h2M248.7 1564.2h2M248.7 1569.9h2M248.7 1575.6h2M248.7 1581.3h2M259.5 1588.1v4M283.7 1588.1v4M307.7 1588.1v4M347.3 1588.1v4M382.6 1588.1v4M262.4 1588.1v2M265.1 1588.1v2M267.5 1588.1v2M269.7 1588.1v2M271.6 1588.1v2M273.6 1588.1v2M275.5 1588.1v2M277.4 1588.1v2M279.4 1588.1v2M288.1 1588.1v2M290.0 1588.1v2M291.9 1588.1v2M293.8 1588.1v2M295.7 1588.1v2M297.7 1588.1v2M299.6 1588.1v2M301.5 1588.1v2M303.4 1588.1v2M305.3 1588.1v2M319.7 1588.1v2M326.6 1588.1v2M331.6 1588.1v2M335.4 1588.1v2M338.6 1588.1v2M341.2 1588.1v2M343.5 1588.1v2M345.5 1588.1v2M358.0 1588.1v2M364.2 1588.1v2M368.6 1588.1v2M372.0 1588.1v2M374.8 1588.1v2M377.2 1588.1v2M379.2 1588.1v2M381.0 1588.1v2M393.1 1588.1v2M257.1 1588.1v2M255.7 1588.1v2M254.7 1588.1v2M253.9 1588.1v2" stroke="#222" stroke-width="0.9" fill="none"/>
<rect x="281.3" y="1588.1" width="5.4" height="2.6" fill="#000"/>
<text x="259.1" y="1605.6" font-size="12" text-anchor="middle" fill="#222">-10<tspan dy="-4.5" font-size="8.5">3</tspan></text>
<text x="283.7" y="1605.6" font-size="12" text-anchor="middle" fill="#222">0</text>
<text x="309.7" y="1605.6" font-size="12" text-anchor="middle" fill="#222">10<tspan dy="-4.5" font-size="8.5">3</tspan></text>
<text x="349.8" y="1605.6" font-size="12" text-anchor="middle" fill="#222">10<tspan dy="-4.5" font-size="8.5">4</tspan></text>
<text x="386.6" y="1605.6" font-size="12" text-anchor="middle" fill="#222">10<tspan dy="-4.5" font-size="8.5">5</tspan></text>
<path d="M306.7 1588.1 L325.2 1480.8 L396.7 1480.8" stroke="#222" stroke-width="1" fill="none"/>
<text x="392.2" y="1467.7" font-size="24.7" text-anchor="end">46.6%</text>
<g transform="translate(448.7 1437.5) scale(.5)" stroke-width="1.9" stroke-linecap="square" fill="none">
<path d="M159 43h0M57 246h0M120 62h0M160 161h0M63 207h0M131 59h0M89 136h0M58 256h0M114 72h0M48 254h0M146 53h0M166 65h0M150 251h0M141 70h0M158 70h0M144 57h0M135 40h0M151 244h0M130 68h0M56 268h0M74 209h0M108 111h0M157 186h0M75 276h0M146 211h0M141 268h0M163 58h0M120 87h0M80 154h0M159 211h0M125 59h0M137 76h0M79 276h0M129 76h0M99 133h0M116 93h0M110 121h0M143 74h0M141 116h0M157 91h0M150 125h0M167 246h0M99 143h0M158 55h0M89 157h0M156 59h0M151 205h0M161 72h0M138 71h0M167 246h0M88 272h0M108 116h0M154 189h0M150 85h0M157 114h0M130 73h0M149 221h0M78 194h0M156 80h0M146 125h0M137 95h0M88 160h0M130 270h0M142 235h0M151 111h0M135 86h0M147 186h0M127 99h0M149 156h0M153 54h0M109 275h0M148 190h0M137 90h0M121 98h0M116 111h0M154 121h0M102 139h0M146 106h0M133 96h0M68 261h0M140 81h0M134 80h0M141 259h0M78 199h0M143 86h0M114 124h0M154 175h0M152 99h0M135 255h0M116 118h0M100 174h0M134 85h0M150 87h0M121 113h0M137 267h0M75 224h0M145 239h0M146 149h0M144 185h0M147 226h0M149 97h0M134 111h0M100 140h0M148 201h0M94 158h0M123 107h0M148 171h0M129 108h0M124 267h0M72 225h0M124 271h0M148 229h0M98 167h0M95 178h0M97 164h0M90 151h0M89 159h0M129 75h0M133 83h0M137 108h0M68 266h0M150 154h0M148 90h0M147 242h0M73 250h0M106 276h0M114 106h0M74 257h0M61 263h0M148 83h0M73 259h0M141 111h0M120 267h0M91 273h0M144 165h0M98 270h0M105 139h0M112 107h0M140 129h0M93 170h0M142 109h0M74 244h0M102 158h0M94 182h0M75 270h0M152 109h0M70 235h0M74 220h0M146 186h0M80 200h0M74 265h0M71 248h0M93 168h0M67 221h0M141 99h0M143 158h0M145 93h0M68 260h0M69 267h0M131 258h0M66 229h0M82 194h0M146 180h0M96 146h0M100 155h0M138 246h0M133 266h0M107 144h0M143 218h0M128 266h0M112 118h0M143 247h0M112 128h0M144 131h0M141 102h0M122 103h0M146 169h0M140 210h0M82 204h0M69 242h0M112 126h0M74 222h0M143 197h0M140 194h0M145 96h0M145 104h0M139 108h0M138 224h0M145 201h0M140 101h0M95 148h0M135 159h0M109 164h0M88 188h0M80 210h0M75 244h0M144 128h0M70 260h0M75 264h0M138 245h0M145 112h0M150 98h0M98 184h0M133 109h0M144 225h0M135 251h0M84 263h0M75 207h0M136 250h0M72 254h0M146 134h0M141 240h0M144 155h0M79 235h0M142 220h0M148 170h0M78 238h0M88 270h0M136 255h0M141 199h0M88 271h0M149 140h0M107 147h0M145 143h0M130 104h0M143 197h0M146 171h0M111 139h0M86 197h0M119 129h0M141 144h0M143 113h0M101 154h0M147 104h0M147 174h0M80 220h0M137 169h0M148 93h0M133 110h0M101 142h0M78 224h0M112 149h0M140 180h0M133 123h0M110 130h0M115 128h0M142 243h0M65 247h0M134 267h0M108 150h0M142 149h0M85 209h0M140 238h0M94 183h0M109 158h0M135 149h0M139 136h0M79 232h0M77 251h0M139 127h0M133 257h0M107 160h0M119 274h0M125 103h0M93 271h0M82 210h0M94 193h0M145 120h0M117 139h0M146 87h0M127 127h0M131 135h0M85 200h0M143 164h0M127 118h0M137 159h0M139 144h0M147 125h0M140 109h0M74 245h0M140 143h0M127 113h0M126 121h0M103 175h0M101 163h0M123 107h0M133 128h0M142 148h0M143 209h0M116 151h0M84 259h0M135 261h0M113 267h0M137 210h0M107 153h0M68 251h0M124 109h0M86 218h0M119 142h0M75 265h0M120 131h0M137 159h0M138 190h0M142 91h0M125 142h0M138 234h0M130 128h0M120 122h0M84 231h0M121 131h0M86 190h0M140 206h0M125 132h0M126 137h0M128 145h0M130 130h0M100 168h0M93 184h0M131 261h0M117 114h0M117 265h0M79 244h0M133 151h0M78 265h0M120 112h0M126 268h0M149 131h0M84 265h0M75 260h0M150 97h0M75 247h0M98 271h0M102 159h0M138 243h0M93 194h0M71 264h0M145 139h0M131 155h0M115 271h0M142 202h0M138 116h0M112 266h0M137 166h0M108 150h0M143 110h0M125 145h0M118 261h0M93 265h0M150 133h0M111 121h0M145 173h0M71 257h0M99 168h0M124 127h0M79 250h0M145 130h0M131 255h0M147 136h0M82 201h0M70 224h0M148 141h0M96 271h0M75 239h0M85 194h0M119 145h0M130 266h0M131 117h0M81 235h0M134 111h0M106 269h0M110 131h0M79 244h0M111 266h0M139 254h0M119 123h0M133 245h0M149 137h0M102 175h0M110 134h0M132 135h0M80 220h0M107 158h0M132 160h0M121 264h0M144 183h0M89 256h0M130 122h0M130 117h0M70 248h0M106 261h0M104 183h0M68 248h0M83 209h0M120 156h0M83 265h0M110 174h0M137 141h0M140 128h0M78 228h0M133 124h0M134 152h0M117 271h0M131 131h0M98 274h0M130 164h0M136 138h0M126 113h0M93 192h0M139 128h0M115 272h0M77 232h0M132 254h0M111 136h0M102 270h0M140 191h0M134 265h0M113 146h0M83 234h0M132 157h0M132 112h0M96 266h0M78 241h0M129 170h0M140 157h0M123 140h0M120 129h0M136 185h0M122 162h0M143 108h0M145 159h0M132 149h0M82 216h0M77 229h0M142 137h0M132 166h0M105 153h0M92 189h0M112 161h0M121 144h0M138 199h0M143 168h0M85 206h0M103 154h0M76 231h0M83 246h0M94 198h0M118 159h0M94 204h0M85 205h0M100 162h0M124 159h0M97 264h0M136 172h0M132 217h0M115 262h0M112 262h0M101 182h0M133 177h0M122 255h0M83 258h0M73 242h0M109 170h0M88 209h0M128 153h0M134 238h0M136 172h0M133 209h0M109 180h0M131 242h0M77 248h0M122 148h0M108 164h0M89 253h0M120 120h0M109 274h0M121 115h0M123 153h0M129 112h0M133 174h0M106 144h0M87 266h0M118 122h0M138 145h0M94 204h0M122 261h0M128 140h0M133 248h0M82 216h0M149 104h0M96 196h0M98 187h0M83 223h0M121 144h0M80 236h0M127 156h0M134 168h0M103 185h0M121 133h0M113 130h0M117 163h0M105 173h0M79 227h0M114 273h0M86 262h0M132 125h0M129 148h0M115 169h0M102 165h0M134 248h0M135 213h0M86 259h0M129 119h0M145 142h0M135 229h0M139 210h0M112 155h0M88 210h0M109 174h0M83 259h0M115 153h0M138 209h0M134 166h0M125 259h0M125 132h0M133 229h0M139 141h0M81 214h0M133 144h0M79 243h0M139 231h0M105 263h0M128 138h0M104 266h0M79 243h0M118 256h0M128 143h0M117 252h0M132 199h0M92 213h0M88 248h0M101 266h0M134 233h0M120 163h0M102 163h0M134 187h0M116 155h0M118 173h0M138 166h0M136 234h0M99 259h0M126 170h0M132 120h0M110 181h0M99 256h0M92 207h0M129 249h0M107 180h0M138 209h0M88 268h0M82 262h0M113 147h0M126 126h0M92 258h0M100 177h0M87 213h0M111 150h0M90 224h0M83 245h0M135 197h0M87 230h0M122 260h0M132 171h0M131 255h0M132 123h0M88 234h0M135 198h0M96 210h0M126 152h0M137 179h0M133 124h0M131 228h0M135 220h0M71 246h0M80 212h0M138 136h0M110 147h0M136 144h0M90 264h0M140 179h0M96 204h0M135 193h0M131 141h0M128 131h0M86 261h0M114 152h0M112 265h0M104 173h0M135 218h0M132 160h0M91 195h0M134 193h0M85 251h0M91 199h0M130 156h0M130 195h0M122 125h0M127 247h0M106 273h0M92 185h0M113 137h0M129 125h0M96 181h0M108 167h0M94 229h0M131 165h0M123 248h0M109 171h0M90 229h0M100 258h0M119 137h0M81 225h0M125 248h0M136 173h0M104 181h0M92 231h0M124 129h0M130 182h0M139 220h0M115 164h0M124 254h0M122 129h0M93 229h0M126 250h0M122 262h0M97 196h0M128 166h0M118 254h0M139 137h0M88 235h0M111 173h0M133 184h0M141 131h0M127 153h0M123 254h0M85 211h0M126 144h0M119 146h0M87 251h0M113 154h0M129 182h0M78 229h0M117 178h0M118 132h0M104 264h0M89 224h0M109 265h0M92 256h0M138 168h0M131 236h0M125 165h0M94 245h0M131 152h0M85 257h0M111 178h0M116 172h0M98 183h0M119 252h0M122 157h0M86 250h0M130 245h0M125 137h0M123 167h0M132 130h0M118 136h0M107 266h0M125 171h0M135 163h0M91 266h0M123 263h0M117 257h0M132 189h0M130 232h0M123 251h0M113 192h0M135 170h0M87 226h0M88 202h0M98 202h0M88 221h0M122 173h0M105 258h0M109 173h0M126 141h0M119 168h0M86 260h0M101 266h0M92 186h0M117 175h0M125 159h0M115 268h0M129 129h0M119 268h0M114 161h0M121 167h0M114 144h0M114 160h0M127 242h0M133 221h0M104 191h0M119 145h0M108 190h0M90 221h0M121 173h0M106 198h0M137 219h0M113 255h0M110 271h0M86 249h0M112 145h0M123 245h0M108 194h0M122 243h0M93 239h0M128 121h0M115 141h0M115 253h0M138 137h0M101 196h0M132 139h0M125 215h0M94 200h0M96 256h0M139 184h0M127 149h0M126 254h0M98 198h0M92 198h0M116 177h0M121 134h0M116 261h0M138 224h0M120 186h0M85 229h0M136 165h0M86 217h0M90 213h0M120 168h0M84 264h0M111 193h0M99 263h0M96 193h0M99 265h0M94 228h0M129 214h0M130 253h0M125 137h0M141 138h0M103 256h0M111 141h0M136 227h0M123 134h0M125 151h0M122 151h0M92 222h0M118 180h0M129 237h0M111 262h0M106 167h0M117 141h0M89 235h0M126 147h0M90 207h0M91 262h0M96 256h0M85 210h0M100 216h0M119 144h0M90 258h0M138 185h0M104 203h0M88 250h0M136 177h0M128 157h0M98 217h0M115 257h0M126 238h0M142 144h0M90 227h0M112 252h0M82 231h0M124 138h0M88 216h0M132 239h0M118 171h0M98 265h0M136 217h0M123 252h0M120 169h0M118 136h0M137 214h0M136 167h0M101 258h0M81 264h0M111 164h0M131 227h0M116 258h0M95 263h0M120 160h0M88 255h0M124 174h0M127 212h0M102 252h0M99 192h0M132 216h0M133 155h0M111 203h0M115 165h0M134 195h0M114 266h0M134 186h0M109 184h0M126 173h0M116 162h0M138 181h0M130 150h0M105 176h0M92 262h0M102 197h0M118 261h0M134 180h0M115 167h0M138 137h0M116 143h0M100 219h0M127 190h0M116 188h0M126 254h0M94 230h0M85 227h0M135 171h0M117 174h0M117 256h0M134 165h0M99 204h0M137 163h0M120 148h0M117 256h0M85 226h0M129 226h0M104 190h0M81 251h0M111 251h0M105 205h0M91 214h0M111 252h0M134 230h0M85 235h0M116 266h0M115 259h0M125 161h0M137 188h0M111 197h0M124 177h0M117 248h0M97 198h0M119 167h0M93 248h0M96 194h0M84 235h0M124 169h0M112 263h0M134 169h0M133 232h0M111 269h0M126 181h0M103 266h0M134 241h0M102 193h0M98 228h0M99 224h0M107 188h0M109 168h0M131 190h0M106 157h0M111 165h0M106 170h0M139 143h0M92 223h0M133 217h0M101 266h0M115 256h0M125 195h0M98 211h0M136 214h0M127 221h0M132 190h0M109 188h0M124 155h0M94 215h0M101 269h0M119 180h0M122 141h0M133 149h0M125 151h0M115 158h0M103 246h0M103 195h0M89 207h0M134 141h0M109 251h0M91 258h0M105 159h0M104 177h0M127 150h0M117 166h0M127 181h0M132 186h0M138 161h0M82 242h0M88 256h0M123 170h0M101 242h0M90 254h0M128 153h0M102 262h0M116 157h0M103 189h0M109 265h0M127 146h0M133 243h0M126 157h0M94 216h0M108 198h0M105 247h0M114 268h0M110 250h0M131 185h0M126 214h0M80 249h0M106 200h0M120 196h0M113 155h0M101 258h0M120 156h0M95 212h0M118 142h0M127 241h0M90 208h0M100 209h0M126 125h0M91 244h0M123 196h0M138 140h0M95 252h0M119 244h0M122 236h0M116 190h0M100 234h0M117 189h0M125 198h0M92 223h0M123 185h0M86 242h0M130 161h0M81 239h0M115 191h0M132 181h0M93 204h0M135 190h0M123 247h0M101 214h0M90 222h0M128 225h0M119 165h0M133 248h0M90 245h0M98 232h0M90 211h0M91 237h0M104 244h0M116 207h0M135 212h0M133 168h0M110 199h0M135 205h0M133 236h0M132 221h0M98 216h0M130 205h0M107 192h0M106 180h0M89 220h0M90 235h0M94 210h0M127 216h0M114 173h0M129 160h0M131 157h0M87 251h0M86 254h0M126 250h0M111 250h0M81 240h0M87 229h0M100 264h0M123 245h0M122 199h0M109 167h0M127 245h0M92 201h0M99 219h0M124 153h0M127 242h0M85 256h0M128 245h0M127 198h0M116 184h0M127 178h0M93 208h0M120 227h0M116 160h0M92 249h0M108 207h0M137 181h0M93 230h0M87 247h0M112 199h0M93 209h0M114 252h0M116 182h0M114 180h0M101 210h0M135 227h0M103 262h0M129 253h0M105 256h0M109 171h0M120 221h0M96 246h0M124 186h0M107 250h0M131 176h0M111 261h0M91 248h0M92 213h0M100 257h0M128 250h0M119 245h0M90 201h0M130 202h0M101 175h0M110 182h0M114 244h0M121 192h0M109 240h0M107 264h0M99 235h0M126 236h0M132 224h0M123 203h0M131 218h0M100 189h0M98 246h0M108 257h0M106 207h0M100 257h0M133 198h0M127 205h0M104 256h0M121 188h0M129 218h0M86 231h0M120 210h0M100 187h0M122 171h0M122 210h0M132 182h0M121 199h0M95 263h0M131 206h0M125 250h0M104 181h0M120 246h0M130 214h0M100 216h0M114 162h0M133 243h0M116 180h0M128 210h0M120 219h0M130 209h0M109 243h0M100 257h0M102 196h0M109 260h0M113 171h0M125 181h0M126 199h0M82 240h0M114 200h0M113 192h0M88 241h0M113 244h0M128 195h0M118 259h0M124 173h0M122 162h0M131 172h0M110 252h0M128 232h0M108 172h0M126 247h0M101 246h0M95 238h0M103 191h0M121 199h0M121 226h0M134 166h0M110 244h0M89 246h0M101 246h0M132 208h0M123 248h0M99 246h0M113 251h0M119 215h0M123 172h0M108 184h0M127 228h0M92 241h0M131 233h0M99 214h0M89 230h0M83 238h0M125 219h0M91 244h0M101 224h0M96 238h0M103 179h0M111 241h0M97 191h0M88 253h0M102 222h0M110 205h0M98 253h0M98 240h0M95 212h0M115 208h0M121 182h0M90 249h0M98 228h0M125 209h0M103 175h0M120 182h0M91 234h0M125 207h0M133 177h0M126 155h0M95 216h0M134 235h0M131 178h0M117 239h0M124 243h0M128 189h0M112 207h0M96 222h0M107 253h0M108 190h0M121 222h0M111 253h0M117 210h0M127 228h0M103 201h0M101 191h0M120 239h0M107 201h0M131 188h0M87 241h0M84 238h0M121 192h0M128 239h0M110 192h0M122 226h0M97 188h0M91 258h0M103 192h0M118 161h0M103 229h0M101 183h0M116 170h0M88 260h0M123 202h0M96 213h0M121 217h0M123 187h0M110 177h0M129 198h0M110 239h0M115 234h0M96 194h0M90 243h0M121 241h0M125 244h0M96 211h0M109 213h0M96 215h0M131 206h0M129 161h0M132 216h0M129 233h0M92 247h0M131 178h0M104 245h0M125 181h0M109 204h0M103 195h0M115 195h0M121 189h0M119 177h0M110 214h0M132 174h0M100 254h0M112 191h0M126 214h0M113 204h0M126 247h0M132 215h0M128 199h0M121 226h0M126 154h0M115 252h0M109 249h0M125 180h0M123 175h0M125 177h0M126 236h0M113 194h0M121 165h0M108 188h0M125 239h0M107 212h0M118 249h0M130 175h0M126 242h0M107 241h0M124 210h0M128 167h0M123 232h0M127 197h0M101 192h0M102 227h0M122 184h0M122 210h0M90 218h0M130 189h0M133 211h0M88 248h0M126 183h0M123 173h0M119 188h0M89 237h0M122 169h0M90 236h0M102 237h0M102 252h0M105 246h0M88 257h0M125 162h0M88 240h0M116 257h0M128 174h0M98 202h0M123 231h0M104 219h0M107 192h0M94 207h0M127 170h0M126 182h0M114 245h0M115 160h0M93 247h0" stroke="#2a2af2"/>
<path d="M110 200h0M116 256h0M121 221h0M111 240h0M102 190h0M116 192h0M100 232h0M128 203h0M116 246h0M126 213h0M126 232h0M91 243h0M113 243h0M96 194h0M128 195h0M108 217h0M115 242h0M94 248h0M108 253h0M101 233h0M108 181h0M94 252h0M95 252h0M96 218h0M134 196h0M93 244h0M127 182h0M107 244h0M102 213h0M129 202h0M110 262h0M127 175h0M122 231h0M94 222h0M101 236h0M102 199h0M113 256h0M117 218h0M107 235h0M103 206h0M125 172h0M92 215h0M105 203h0M107 183h0M102 187h0M116 236h0M112 258h0M111 205h0M111 183h0M100 205h0M99 245h0M88 259h0M117 243h0M117 182h0M111 192h0M129 208h0M99 235h0M123 197h0M128 177h0M126 220h0M113 202h0M112 208h0M108 235h0M88 226h0M123 190h0M128 173h0M93 258h0M118 170h0M121 199h0M97 206h0M97 219h0M125 214h0M109 215h0M123 238h0M133 209h0M97 256h0M114 188h0M117 167h0M120 232h0M100 193h0M128 232h0M131 230h0M96 258h0M98 233h0M122 232h0M118 207h0M119 176h0M132 175h0M121 250h0M109 193h0M130 182h0M100 197h0M110 193h0M126 200h0M125 189h0M91 214h0M111 217h0M124 196h0M110 182h0M107 176h0M121 245h0M116 165h0M133 206h0M116 242h0M107 214h0M117 178h0M120 235h0M99 212h0M110 251h0M131 191h0M134 191h0M118 232h0M122 239h0M94 239h0M114 204h0M111 256h0M127 180h0M134 187h0M127 184h0M94 225h0M114 205h0M89 254h0M104 217h0M119 239h0M118 224h0M124 192h0M119 239h0M114 239h0M87 232h0M133 188h0M100 201h0M122 189h0M94 235h0M134 196h0M106 206h0M126 200h0M118 164h0M112 181h0M111 255h0M109 180h0M131 227h0M90 231h0M85 242h0M132 181h0M131 200h0M100 242h0M110 225h0M135 231h0M121 224h0M97 249h0M97 233h0M119 161h0M106 245h0M105 211h0M118 173h0M96 236h0M111 176h0M97 250h0M117 223h0M97 213h0M96 199h0M118 228h0M127 209h0M114 246h0M112 174h0M114 188h0M132 228h0M111 192h0M107 255h0M113 219h0M97 257h0M98 256h0M119 233h0M113 198h0M118 186h0M127 193h0M108 191h0M97 231h0M116 242h0M97 229h0M113 203h0M116 239h0M112 225h0M111 220h0M127 199h0M123 207h0M134 204h0M119 214h0M109 216h0M133 186h0M132 231h0M115 240h0M118 186h0M114 204h0M108 197h0M114 244h0M88 249h0M119 212h0M102 227h0M92 245h0M105 184h0M109 209h0M119 207h0M134 202h0M124 233h0M129 186h0M114 253h0M135 179h0M112 258h0M94 243h0M134 234h0M128 229h0M105 248h0M113 209h0M118 166h0M123 190h0M122 220h0M101 250h0M115 210h0M117 248h0M110 187h0M111 180h0M93 236h0M91 248h0M103 251h0M97 233h0M114 259h0M129 210h0M110 245h0M107 213h0M127 230h0M105 219h0M111 243h0M124 209h0M132 233h0M124 214h0M106 249h0M113 172h0M105 222h0M129 214h0M90 222h0M92 228h0M116 211h0M127 219h0M118 202h0M107 241h0M113 207h0M124 222h0M105 185h0M124 181h0M107 233h0M92 252h0M122 205h0M125 231h0M108 243h0M115 197h0M124 195h0M99 208h0M134 192h0M130 174h0M130 231h0M128 217h0M118 245h0M124 188h0M93 248h0M104 250h0M101 231h0M119 202h0M99 199h0M104 253h0M86 241h0M124 220h0M103 234h0M114 234h0M102 252h0M110 220h0M111 228h0M119 175h0M118 255h0M101 208h0M116 195h0M102 210h0M106 180h0M124 177h0M121 201h0M115 179h0M120 225h0M99 205h0M94 246h0M93 234h0M115 202h0M126 178h0M102 212h0M116 203h0M104 204h0M114 176h0M92 226h0M118 215h0M109 205h0M124 180h0M103 189h0M119 191h0M113 255h0M101 193h0M117 195h0M105 210h0M127 211h0M126 222h0M117 232h0M104 201h0M124 223h0M105 217h0M88 241h0M104 224h0M124 184h0M112 213h0M116 219h0M119 194h0M121 202h0M108 236h0" stroke="#2f74f5"/>
<path d="M112 186h0M104 214h0M99 215h0M125 209h0M104 252h0M95 229h0M97 217h0M98 253h0M102 243h0M115 216h0M91 223h0M117 254h0M107 184h0M120 208h0M114 190h0M107 191h0M111 248h0M112 238h0M116 231h0M100 246h0M96 208h0M119 201h0M107 247h0M104 205h0M126 205h0M116 182h0M126 224h0M124 175h0M111 184h0M127 220h0M124 183h0M119 181h0M120 201h0M107 183h0M101 209h0M91 242h0M126 181h0M125 212h0M106 193h0M104 235h0M97 214h0M102 209h0M121 200h0M121 189h0M111 215h0M102 220h0M97 235h0M107 212h0M110 212h0M97 224h0M95 238h0M118 181h0M130 182h0M115 179h0M95 237h0M123 233h0M122 216h0M128 228h0M113 183h0M94 226h0M122 188h0M110 234h0M113 198h0M127 232h0M122 234h0M97 235h0M124 191h0M117 182h0M113 210h0M95 247h0M111 176h0M106 204h0M98 235h0M98 221h0M110 248h0M115 194h0M102 208h0M102 195h0M118 201h0M101 225h0M112 196h0M97 235h0M100 202h0M118 222h0M110 229h0M95 241h0M115 231h0M108 229h0M101 206h0M127 224h0M98 210h0M94 250h0M116 248h0M115 244h0M127 207h0M105 249h0M97 217h0M122 220h0M107 215h0M118 197h0M118 218h0M109 227h0M100 221h0M106 215h0M102 196h0M98 240h0M106 233h0M112 196h0M114 178h0M122 173h0M100 223h0M127 198h0M115 235h0M120 236h0M105 238h0M110 207h0M121 226h0M123 237h0M113 194h0M126 195h0M102 249h0M95 222h0M128 205h0M122 190h0M122 202h0M120 215h0M117 238h0M108 211h0M119 213h0M115 226h0M111 251h0M102 242h0M91 230h0M120 183h0M113 224h0M126 199h0M122 212h0M111 244h0M106 240h0M108 216h0M119 208h0M102 227h0M102 230h0M113 247h0M130 222h0M109 224h0M108 255h0M117 237h0M120 200h0M103 222h0M122 239h0M99 231h0M101 231h0M109 253h0M110 235h0M110 243h0M103 215h0M99 215h0M104 251h0M109 228h0M107 217h0M120 242h0M117 206h0M111 188h0M109 218h0M106 195h0M113 234h0M126 229h0M106 249h0M101 197h0M106 254h0M111 232h0M104 212h0M113 233h0M99 240h0M117 244h0M100 195h0M93 238h0M101 197h0M130 202h0M114 245h0M111 245h0M104 245h0M94 238h0M119 202h0M123 221h0M102 237h0M118 186h0M108 233h0M117 209h0M104 249h0M129 195h0M127 232h0M116 175h0M102 236h0M122 200h0M121 191h0M108 241h0M111 241h0M104 237h0M111 250h0M96 237h0M112 192h0M107 206h0M119 200h0M121 223h0M107 209h0M125 197h0M96 248h0M117 182h0M100 247h0M116 177h0M113 239h0M115 210h0M104 253h0M108 204h0M94 249h0M109 188h0M126 208h0M101 227h0M105 209h0M113 225h0M100 214h0M123 205h0M122 218h0M111 199h0M113 186h0M113 232h0M113 195h0M109 198h0M101 236h0M108 236h0M107 212h0M96 221h0M111 217h0M111 217h0M115 188h0M117 221h0M130 230h0M127 199h0M121 189h0M116 221h0M110 246h0M125 209h0M115 215h0M114 230h0M129 194h0M114 240h0M118 199h0M111 195h0M114 222h0" stroke="#2cb8c4"/>
<path d="M108 230h0M115 216h0M112 192h0M118 236h0M107 191h0M129 207h0M109 231h0M100 251h0M128 194h0M101 225h0M115 216h0M111 225h0M104 229h0M114 223h0M114 247h0M125 227h0M126 193h0M125 180h0M106 221h0M120 197h0M106 199h0M122 186h0M130 232h0M114 242h0M98 238h0M123 212h0M117 248h0M123 235h0M113 213h0M111 230h0M105 228h0M107 202h0M123 205h0M121 207h0M111 216h0M106 199h0M104 228h0M96 223h0M123 197h0M127 210h0M111 226h0M116 210h0M103 237h0M116 187h0M110 228h0M104 249h0M109 220h0M119 181h0M107 235h0M126 194h0M109 246h0M111 236h0M110 203h0M122 188h0M126 205h0M123 201h0M105 203h0M98 247h0M117 207h0M112 240h0M112 223h0M101 231h0M116 227h0M99 239h0M115 244h0M111 253h0M126 203h0M123 218h0M118 227h0M119 205h0M103 218h0M122 235h0M117 205h0M100 245h0M107 242h0M102 254h0M120 196h0M102 235h0M100 254h0M107 213h0M101 223h0M109 212h0M109 227h0M107 236h0M110 214h0M105 248h0M100 224h0M126 199h0M115 235h0M100 228h0M108 228h0M115 242h0M130 203h0M105 245h0M97 241h0M127 192h0M113 218h0M98 223h0M117 249h0M117 235h0M96 240h0M106 238h0M110 222h0M109 205h0M114 212h0M100 228h0M116 242h0M121 234h0M127 196h0M111 226h0M111 218h0M102 239h0M110 208h0M98 223h0M111 199h0M109 216h0M130 227h0M129 201h0M129 226h0M120 214h0M116 214h0M105 212h0M105 247h0M123 226h0M113 216h0M111 247h0M95 239h0M120 226h0M122 224h0M103 245h0M120 197h0M103 221h0M109 224h0M120 230h0M128 200h0M117 224h0M99 233h0M118 232h0M114 204h0M105 247h0M119 201h0M123 203h0M96 233h0M120 223h0M100 247h0M97 217h0M100 214h0M106 232h0M124 223h0M107 237h0M114 239h0M112 209h0M116 220h0M116 242h0M114 205h0M117 203h0M120 216h0M116 216h0M120 232h0M109 227h0M118 220h0M117 230h0M122 205h0M125 205h0M122 198h0M105 208h0M101 243h0M104 206h0M96 226h0M117 232h0M124 231h0M120 218h0M116 223h0M119 205h0M101 208h0M109 246h0M120 207h0M100 236h0M105 205h0M114 228h0M118 231h0M105 227h0M117 214h0M114 214h0M119 208h0M118 242h0M104 212h0M102 237h0M124 197h0M96 227h0M101 221h0M117 228h0M120 218h0M105 233h0M99 237h0M124 198h0M117 224h0M112 225h0M121 217h0M120 212h0M116 206h0M123 233h0M104 244h0M109 230h0M113 216h0M105 226h0M120 205h0M110 241h0M116 208h0M117 207h0M111 230h0M111 223h0M113 233h0M115 227h0M97 235h0M116 236h0M117 233h0M120 235h0M124 198h0M114 212h0M110 235h0M104 231h0M118 240h0M106 248h0M124 203h0M123 234h0M115 239h0M102 211h0M106 226h0M102 239h0M124 224h0M110 234h0M111 227h0M111 229h0M102 234h0M106 249h0M116 229h0M111 205h0M119 227h0M123 223h0M117 242h0M119 217h0M112 235h0M115 204h0M121 229h0M109 250h0M111 238h0M105 239h0M97 238h0M105 222h0M119 233h0M118 204h0M120 221h0M111 232h0M108 216h0M108 213h0M95 226h0M113 234h0M123 213h0M123 211h0M120 216h0M110 234h0M112 207h0" stroke="#3cc45a"/>
<path d="M112 244h0M106 228h0M106 224h0M117 225h0M114 234h0M117 214h0M100 233h0M120 217h0M102 215h0M116 234h0M119 211h0M100 243h0M104 235h0M113 215h0M116 234h0M118 214h0M101 241h0M114 218h0M121 208h0M117 221h0M111 215h0M115 234h0M118 200h0M109 236h0M102 224h0M123 217h0M123 215h0M113 220h0M117 230h0M107 247h0M118 227h0M107 216h0M109 216h0M108 238h0M106 241h0M108 238h0M113 212h0M110 221h0M114 239h0M101 224h0M106 236h0M101 233h0M104 239h0M119 212h0M122 217h0M109 212h0M120 200h0M116 220h0M120 226h0M106 229h0M101 225h0M100 231h0M107 244h0M103 219h0M119 215h0M110 213h0M110 218h0M106 223h0M125 226h0M113 223h0M110 220h0M101 234h0M111 217h0M114 221h0M119 216h0M117 220h0M109 220h0M113 243h0M114 214h0M115 231h0M105 223h0M108 232h0M103 221h0M108 220h0M104 218h0M117 220h0M106 218h0M120 234h0M114 219h0M117 216h0M105 242h0M113 232h0M107 235h0M113 235h0M101 233h0M101 221h0M112 219h0M115 229h0M108 243h0M115 233h0M105 233h0M114 220h0M113 239h0M109 219h0M106 238h0M119 228h0M114 210h0M107 223h0" stroke="#b8d030"/>
<path d="M117 212h0M107 227h0M103 231h0M106 224h0M101 222h0M117 235h0M109 231h0M113 226h0M107 222h0M113 235h0M118 231h0M111 222h0M111 222h0M118 223h0M110 228h0M116 219h0M105 229h0M108 227h0M101 225h0M103 233h0M104 234h0M120 219h0M101 234h0M107 218h0M114 237h0M119 226h0M102 232h0M101 232h0M113 219h0M119 225h0M109 223h0M113 212h0M114 221h0M115 214h0M111 220h0M108 231h0M111 231h0M116 233h0M114 225h0M111 228h0M114 215h0M109 233h0M112 210h0M112 226h0M118 228h0M117 225h0M114 211h0M115 213h0M118 216h0M116 217h0M108 227h0" stroke="#f0a020"/>
<path d="M111 223h0M113 232h0M114 237h0M115 234h0M105 226h0M106 222h0M113 227h0M110 221h0M119 219h0M107 226h0M108 232h0M114 219h0M119 223h0M117 223h0M109 226h0M106 224h0M105 224h0M115 220h0M111 228h0M114 228h0M110 216h0M113 217h0" stroke="#ee4416"/>
</g>
<rect x="448.7" y="1437.5" width="146" height="150.6" fill="none" stroke="#333" stroke-width="0.9"/>
<text x="442.0" y="1448.5" font-size="12.3" text-anchor="end" fill="#222">250K</text>
<text x="442.0" y="1477.1" font-size="12.3" text-anchor="end" fill="#222">200K</text>
<text x="442.0" y="1505.6" font-size="12.3" text-anchor="end" fill="#222">150K</text>
<text x="442.0" y="1534.2" font-size="12.3" text-anchor="end" fill="#222">100K</text>
<text x="442.0" y="1562.7" font-size="12.3" text-anchor="end" fill="#222">50K</text>
<text x="442.0" y="1591.3" font-size="12.3" text-anchor="end" fill="#222">0</text>
<path d="M444.7 1444.2h4M444.7 1472.8h4M444.7 1501.3h4M444.7 1529.9h4M444.7 1558.4h4M444.7 1587.0h4M446.7 1449.9h2M446.7 1455.6h2M446.7 1461.3h2M446.7 1467.0h2M446.7 1478.5h2M446.7 1484.2h2M446.7 1489.9h2M446.7 1495.6h2M446.7 1507.0h2M446.7 1512.7h2M446.7 1518.5h2M446.7 1524.2h2M446.7 1535.6h2M446.7 1541.3h2M446.7 1547.0h2M446.7 1552.7h2M446.7 1564.2h2M446.7 1569.9h2M446.7 1575.6h2M446.7 1581.3h2M457.5 1588.1v4M481.7 1588.1v4M505.7 1588.1v4M545.3 1588.1v4M580.6 1588.1v4M460.4 1588.1v2M463.0 1588.1v2M465.5 1588.1v2M467.6 1588.1v2M469.6 1588.1v2M471.5 1588.1v2M473.5 1588.1v2M475.4 1588.1v2M477.3 1588.1v2M486.0 1588.1v2M487.9 1588.1v2M489.8 1588.1v2M491.8 1588.1v2M493.7 1588.1v2M495.6 1588.1v2M497.5 1588.1v2M499.4 1588.1v2M501.4 1588.1v2M503.3 1588.1v2M517.6 1588.1v2M524.6 1588.1v2M529.5 1588.1v2M533.4 1588.1v2M536.5 1588.1v2M539.1 1588.1v2M541.4 1588.1v2M543.5 1588.1v2M555.9 1588.1v2M562.1 1588.1v2M566.5 1588.1v2M570.0 1588.1v2M572.7 1588.1v2M575.1 1588.1v2M577.2 1588.1v2M579.0 1588.1v2M591.1 1588.1v2M455.1 1588.1v2M453.7 1588.1v2M452.7 1588.1v2M451.9 1588.1v2" stroke="#222" stroke-width="0.9" fill="none"/>
<rect x="479.3" y="1588.1" width="5.4" height="2.6" fill="#000"/>
<text x="457.1" y="1605.6" font-size="12" text-anchor="middle" fill="#222">-10<tspan dy="-4.5" font-size="8.5">3</tspan></text>
<text x="481.7" y="1605.6" font-size="12" text-anchor="middle" fill="#222">0</text>
<text x="507.7" y="1605.6" font-size="12" text-anchor="middle" fill="#222">10<tspan dy="-4.5" font-size="8.5">3</tspan></text>
<text x="547.8" y="1605.6" font-size="12" text-anchor="middle" fill="#222">10<tspan dy="-4.5" font-size="8.5">4</tspan></text>
<text x="584.6" y="1605.6" font-size="12" text-anchor="middle" fill="#222">10<tspan dy="-4.5" font-size="8.5">5</tspan></text>
<path d="M504.2 1588.1 L522.7 1480.8 L594.7 1480.8" stroke="#222" stroke-width="1" fill="none"/>
<text x="590.2" y="1467.7" font-size="24.7" text-anchor="end">24.0%</text>
<g transform="translate(646.6 1437.5) scale(.5)" stroke-width="1.9" stroke-linecap="square" fill="none">
<path d="M207 217h0M195 108h0M145 162h0M176 54h0M59 232h0M135 79h0M206 131h0M181 94h0M203 78h0M188 267h0M185 265h0M204 105h0M51 253h0M132 59h0M106 111h0M164 42h0M149 69h0M138 80h0M198 178h0M164 263h0M95 151h0M202 142h0M196 210h0M133 256h0M203 167h0M89 172h0M196 67h0M211 73h0M151 49h0M157 44h0M63 200h0M172 207h0M118 276h0M185 252h0M126 87h0M180 150h0M193 118h0M199 149h0M135 272h0M134 90h0M189 193h0M78 188h0M181 249h0M183 232h0M141 197h0M179 259h0M160 237h0M112 104h0M142 115h0M78 177h0M107 118h0M145 142h0M118 101h0M137 89h0M183 229h0M141 78h0M178 254h0M130 93h0M194 229h0M157 73h0M197 153h0M183 178h0M64 217h0M130 60h0M180 168h0M167 235h0M194 247h0M83 191h0M61 214h0M193 224h0M66 230h0M155 98h0M181 175h0M193 128h0M140 237h0M65 272h0M155 57h0M113 98h0M152 136h0M141 175h0M141 178h0M124 266h0M184 184h0M125 99h0M124 107h0M198 159h0M191 173h0M177 207h0M180 235h0M111 138h0M145 120h0M119 115h0M195 115h0M191 137h0M143 110h0M149 133h0M179 235h0M65 225h0M196 165h0M175 203h0M145 114h0M164 61h0M192 239h0M132 265h0M161 69h0M146 144h0M183 191h0M75 206h0M173 252h0M141 108h0M194 130h0M172 224h0M182 203h0M166 227h0M79 200h0M133 105h0M153 87h0M193 167h0M145 194h0M146 171h0M167 252h0M141 223h0M144 186h0M144 89h0M180 204h0M82 180h0M133 269h0M193 231h0M137 105h0M186 230h0M66 220h0M186 149h0M187 208h0M142 190h0M133 103h0M183 179h0M118 112h0M167 223h0M178 258h0M79 184h0M193 150h0M144 121h0M193 224h0M141 150h0M183 193h0M193 111h0M152 128h0M153 82h0M185 189h0M152 92h0M138 209h0M60 263h0M136 229h0M70 235h0M114 142h0M135 195h0M175 241h0M173 217h0M141 189h0M76 205h0M149 78h0M138 176h0M183 156h0M182 239h0M99 146h0M65 258h0M91 175h0M113 120h0M133 251h0M183 184h0M145 92h0M136 248h0M115 108h0M98 175h0M138 107h0M73 230h0M188 136h0M115 132h0M140 189h0M190 197h0M178 221h0M146 97h0M69 223h0M85 184h0M106 144h0M170 251h0M140 241h0M169 226h0M122 269h0M179 217h0M192 203h0M113 147h0M153 81h0M188 162h0M185 163h0M174 247h0M109 149h0M152 79h0M135 242h0M60 249h0M135 218h0M192 136h0M148 99h0M135 101h0M71 232h0M140 157h0M187 163h0M195 146h0M124 122h0M189 213h0M131 123h0M111 273h0M136 141h0M136 91h0M181 215h0M188 188h0M133 201h0M78 208h0M130 248h0M139 150h0M107 148h0M94 183h0M190 161h0M147 84h0M96 152h0M190 203h0M190 144h0M186 215h0M139 100h0M184 202h0M76 211h0M74 233h0M192 204h0M98 276h0M133 207h0M132 133h0M138 218h0M71 240h0M141 166h0M110 119h0M140 190h0M67 247h0M150 90h0M187 221h0M73 219h0M181 222h0M136 130h0M105 150h0M183 217h0M141 153h0M78 273h0M62 269h0M142 105h0M66 272h0M119 123h0M130 257h0M192 153h0M135 96h0M119 113h0M145 133h0M116 272h0M112 129h0M137 134h0M68 262h0M73 269h0M78 231h0M60 265h0M148 127h0M115 134h0M174 222h0M126 117h0M140 130h0M127 114h0M173 252h0M131 236h0M101 153h0M135 123h0M71 254h0M119 270h0M125 132h0M138 214h0M115 266h0M62 269h0M133 143h0M186 208h0M138 217h0M104 149h0M138 167h0M183 202h0M134 149h0M66 244h0M124 143h0M128 114h0M135 161h0M71 221h0M133 172h0M138 215h0M135 114h0M123 132h0M83 204h0M139 133h0M132 212h0M118 147h0M93 187h0M71 261h0M126 131h0M125 128h0M101 156h0M104 177h0M139 158h0M131 153h0M137 182h0M85 201h0M76 234h0M113 125h0M133 116h0M97 188h0M128 115h0M72 226h0M129 142h0M127 244h0M131 216h0M79 269h0M132 141h0M131 197h0M79 237h0M118 136h0M130 170h0M128 145h0M114 159h0M70 264h0M83 198h0M132 179h0M119 133h0M131 189h0M135 143h0M112 128h0M125 117h0M139 141h0M114 159h0M101 162h0M95 178h0M70 245h0M141 135h0M122 143h0M122 118h0M73 252h0M109 155h0M105 270h0M120 139h0M130 223h0M77 223h0M127 124h0M87 272h0M85 222h0M76 214h0M122 152h0M132 251h0M139 188h0M126 165h0M143 130h0M70 247h0M132 136h0M73 220h0M87 199h0M89 211h0M132 171h0M129 246h0M88 271h0M130 134h0M123 132h0M102 156h0M133 202h0M76 219h0M124 150h0M79 242h0M77 268h0M116 131h0M66 248h0M134 115h0M118 128h0M129 141h0M127 172h0M129 239h0M122 163h0M140 146h0M75 235h0M135 147h0M90 194h0M133 239h0M66 258h0M112 147h0M127 230h0M101 189h0M130 196h0M132 138h0M90 189h0M76 214h0M77 233h0M137 157h0M121 163h0M126 232h0M99 184h0M131 197h0M117 152h0M104 190h0M105 159h0M127 128h0M121 259h0M101 273h0M89 198h0M96 185h0M103 173h0M84 215h0M92 211h0M115 162h0M121 148h0M122 263h0M123 152h0M132 155h0M86 275h0M67 248h0M128 134h0M75 260h0M129 209h0M137 194h0M78 245h0M87 214h0M132 167h0M131 233h0M125 144h0M73 233h0M116 130h0M112 268h0M132 147h0M127 165h0M112 152h0M121 155h0M125 219h0M127 179h0M78 253h0M126 236h0M131 118h0M127 161h0M136 179h0M136 125h0M81 207h0M135 166h0M88 220h0M126 186h0M91 270h0M138 138h0M97 270h0M130 173h0M84 225h0M127 235h0M129 112h0M127 187h0M131 128h0M119 137h0M130 223h0M127 195h0M86 200h0M79 225h0M133 117h0M90 274h0M80 216h0M90 211h0M114 272h0M123 247h0M121 141h0M87 202h0M81 270h0M127 117h0M130 168h0M133 160h0M134 159h0M133 229h0M117 145h0M128 180h0M130 188h0M121 257h0M125 120h0M125 164h0M103 192h0M106 160h0M78 243h0M88 222h0M98 275h0M94 197h0M95 195h0M128 151h0M123 174h0M132 225h0M88 221h0M105 162h0M131 138h0M103 169h0M117 256h0M82 225h0M116 161h0M76 272h0M125 141h0M137 139h0M139 163h0M79 223h0M128 156h0M134 177h0M120 134h0M134 170h0M135 126h0M75 251h0M82 273h0M78 241h0M105 180h0M130 173h0M83 265h0M110 160h0M117 163h0M71 261h0M121 129h0M82 212h0M107 165h0M84 215h0M132 126h0M108 172h0M128 147h0M98 192h0M132 176h0M114 169h0M120 147h0M121 139h0M119 258h0M85 227h0M137 162h0M71 251h0M101 170h0M134 216h0M126 210h0M83 210h0M127 157h0M111 168h0M132 158h0M104 197h0M128 201h0M86 224h0M89 227h0M108 177h0M72 259h0M130 157h0M84 261h0M84 261h0M101 186h0M82 264h0M106 181h0M125 121h0M110 156h0M128 224h0M91 190h0M122 140h0M129 248h0M111 267h0M82 238h0M129 118h0M77 243h0M122 259h0M82 274h0M121 195h0M130 132h0M120 158h0M129 184h0M71 265h0M129 248h0M102 174h0M113 270h0M102 174h0M121 239h0M111 168h0M70 262h0M111 265h0M89 273h0M129 159h0M122 179h0M77 249h0M126 152h0M107 178h0M78 230h0M125 247h0M121 142h0M76 251h0M126 198h0M133 193h0M96 185h0M127 210h0M101 170h0M128 226h0M114 153h0M78 263h0M132 181h0M127 157h0M83 265h0M125 200h0M102 179h0M71 265h0M72 258h0M131 211h0M119 161h0M91 190h0M90 201h0M134 139h0M120 248h0M93 193h0M120 239h0M106 273h0M117 151h0M103 191h0M113 167h0M101 187h0M127 215h0M123 188h0M99 195h0M109 159h0M76 262h0M101 185h0M112 260h0M88 223h0M82 258h0M124 153h0M120 146h0M117 148h0M100 200h0M129 226h0M126 214h0M81 258h0M73 254h0M129 126h0M81 258h0M75 268h0M85 204h0M133 158h0M111 185h0M84 256h0M126 198h0M78 261h0M90 209h0M101 203h0M70 258h0M79 251h0M89 206h0M84 240h0M119 262h0M121 252h0M101 169h0M127 233h0M99 206h0M125 240h0M88 236h0M110 180h0M125 126h0M74 246h0M133 197h0M129 181h0M121 247h0M90 268h0M91 275h0M128 192h0M87 267h0M121 237h0M111 264h0M81 251h0M130 133h0M103 168h0M134 154h0M79 247h0M123 209h0M109 192h0M134 181h0M123 173h0M125 168h0M121 137h0M122 155h0M125 246h0M79 250h0M117 263h0M97 212h0M94 192h0M120 162h0M125 227h0M103 203h0M127 170h0M126 142h0M71 256h0M112 169h0M128 153h0M108 272h0M76 243h0M125 194h0M119 151h0M124 144h0M89 263h0M133 155h0M134 163h0M100 271h0M130 177h0M81 226h0M92 230h0M120 179h0M119 152h0M118 259h0M89 222h0M94 205h0M112 181h0M113 170h0M85 273h0M88 210h0M118 150h0M123 160h0M102 172h0M102 202h0M117 172h0M110 196h0M127 213h0M122 211h0M135 185h0M70 261h0M87 240h0M125 180h0M121 188h0M86 221h0M85 252h0M100 267h0M128 216h0M113 159h0M120 196h0M80 245h0M119 250h0M83 254h0M87 215h0M100 268h0M76 260h0M118 248h0M118 241h0M89 269h0M131 167h0M82 249h0M121 203h0M89 199h0M115 161h0M92 193h0M129 182h0M121 248h0M118 166h0M129 248h0M82 260h0M82 216h0M122 158h0M121 187h0M76 236h0M97 218h0M103 182h0M72 255h0M118 184h0M124 212h0M118 240h0M79 251h0M125 229h0M113 194h0M91 219h0M101 187h0M92 193h0M102 269h0M104 200h0M82 229h0M128 204h0M82 218h0M119 184h0M112 164h0M93 272h0M89 231h0M79 244h0M123 172h0M108 183h0M89 268h0M95 219h0M97 187h0M108 166h0M120 193h0M127 181h0M82 233h0M128 163h0M123 168h0M104 210h0M125 187h0M98 202h0M93 191h0M116 152h0M125 182h0M100 272h0M93 220h0M89 236h0M114 202h0M92 201h0M123 254h0M126 224h0M85 222h0M122 236h0M132 187h0M95 210h0M87 231h0M114 162h0M123 222h0M115 251h0M86 271h0M124 191h0M97 200h0M125 183h0M86 234h0M87 265h0M81 270h0M122 177h0M129 244h0M90 253h0M111 189h0M110 186h0M92 210h0M117 170h0M130 152h0M102 205h0M105 263h0M107 262h0M104 204h0M97 267h0M112 166h0M121 249h0M118 186h0M125 146h0M106 180h0M83 235h0M124 174h0M94 263h0M128 181h0M88 272h0M117 190h0M125 213h0M100 207h0M102 199h0M116 212h0M126 175h0M85 242h0M124 209h0M88 214h0M104 194h0M109 170h0M109 161h0M102 273h0M121 214h0M125 162h0M109 166h0M129 200h0M95 222h0M85 241h0M104 199h0M122 207h0M113 164h0M104 271h0M126 159h0M89 248h0M115 206h0M100 193h0M95 267h0M113 169h0M93 271h0M92 194h0M100 205h0M114 175h0M123 222h0M102 194h0M103 272h0M105 192h0M126 216h0M126 205h0M85 211h0M111 195h0M124 160h0M120 171h0M133 190h0M96 268h0M113 207h0M118 218h0M114 187h0M92 271h0M113 185h0M92 204h0M88 218h0M111 259h0M115 167h0M86 247h0M102 195h0M91 204h0M126 174h0M90 215h0M78 262h0M85 262h0M101 209h0M127 233h0M125 208h0M112 205h0M118 200h0M123 213h0M110 208h0M88 243h0M108 201h0M97 265h0M119 190h0M123 246h0M75 267h0M107 265h0M129 167h0M107 180h0M124 165h0M109 206h0M92 228h0M109 171h0M85 233h0M121 243h0M114 187h0M129 190h0M87 239h0M96 267h0M122 156h0M115 256h0M113 178h0M133 189h0M112 168h0M117 168h0M133 189h0M110 194h0M109 209h0M111 171h0M116 173h0M88 259h0M114 174h0M109 209h0M114 264h0M105 217h0M116 164h0M125 174h0M88 254h0M118 254h0M111 179h0M96 261h0M88 233h0M88 220h0M93 266h0M96 264h0M118 218h0M125 169h0M126 209h0M85 241h0M100 200h0M126 169h0M113 251h0M105 220h0M88 222h0M87 270h0M124 173h0M112 186h0M97 269h0M130 160h0M109 268h0M122 168h0M118 225h0M106 186h0M116 168h0M119 209h0M111 176h0M107 261h0M117 225h0M121 230h0M121 230h0M103 205h0M124 218h0M83 261h0M86 268h0M130 186h0M77 259h0M115 213h0M107 180h0M108 269h0M108 192h0M89 267h0M91 263h0M129 183h0M100 229h0M107 204h0M87 273h0M107 263h0M129 189h0M112 211h0M119 223h0M91 268h0M127 205h0M91 250h0M89 239h0M93 202h0M120 229h0M90 241h0M94 256h0M90 221h0M83 258h0M94 259h0M120 197h0M102 214h0M102 260h0M109 210h0M78 246h0M90 253h0M112 245h0M97 228h0M105 217h0M100 269h0M103 187h0M94 197h0M117 234h0M95 215h0M121 211h0M102 202h0M114 253h0M101 190h0M91 200h0M82 261h0M115 258h0M125 202h0M92 243h0M116 239h0M112 188h0M85 228h0M124 224h0M121 171h0M106 173h0M108 175h0M97 201h0M112 218h0M113 166h0M117 199h0M122 227h0M126 225h0M107 249h0M95 263h0M112 212h0M97 221h0M124 189h0M87 264h0M117 222h0M122 174h0M101 209h0M90 229h0M128 230h0M126 190h0M100 197h0M128 224h0M118 193h0M95 216h0M98 226h0M109 208h0M125 247h0M98 210h0M112 199h0M94 199h0M97 227h0M123 224h0M125 181h0M89 253h0M77 257h0M104 268h0M124 231h0M90 242h0M104 196h0M93 207h0M121 198h0M115 194h0M109 170h0M122 210h0M122 173h0M115 236h0M113 248h0M120 199h0M114 202h0M118 193h0M95 263h0M120 175h0M97 230h0M93 252h0M113 237h0M95 198h0M98 249h0M94 218h0M90 255h0M115 207h0M105 187h0M117 259h0M98 194h0M83 256h0M117 244h0M97 202h0M115 212h0M99 203h0M118 212h0M113 204h0M94 229h0M94 203h0M116 175h0M112 196h0M89 218h0M105 268h0M83 240h0M117 236h0M84 247h0M122 188h0M121 172h0M91 227h0M121 227h0M103 268h0M89 245h0M123 224h0M88 261h0M126 171h0M91 225h0M116 245h0M100 241h0M90 260h0M102 259h0M110 262h0M107 260h0M111 216h0M130 183h0M99 219h0M107 172h0M88 260h0M118 259h0M97 211h0M89 262h0M99 197h0M110 210h0M87 268h0M93 261h0M112 246h0M102 189h0M86 246h0M111 187h0M90 211h0M118 246h0M89 260h0M90 248h0M121 185h0M86 231h0M104 231h0M99 263h0M116 244h0M109 185h0M91 200h0M119 238h0M90 260h0M89 267h0M115 200h0M109 186h0M91 265h0M111 216h0M101 225h0M110 167h0M112 203h0M90 238h0M112 180h0M125 199h0M118 212h0M83 260h0M99 215h0M109 196h0M78 261h0M90 212h0M126 189h0M112 195h0M113 214h0M83 266h0M89 225h0M86 251h0M95 259h0M90 222h0M88 219h0M115 225h0M120 249h0M125 218h0M114 225h0M100 243h0M107 263h0M93 262h0M82 236h0M109 255h0M81 252h0M118 211h0M94 221h0M104 231h0M119 185h0M96 196h0M129 193h0M125 184h0M115 249h0M118 255h0M103 254h0M122 203h0M88 221h0M100 231h0M97 223h0M83 266h0M106 252h0M129 193h0M117 241h0M91 264h0M125 176h0M113 202h0M110 256h0M126 193h0M110 233h0M92 251h0M102 256h0M120 179h0M120 170h0M92 215h0M113 265h0M118 189h0M114 261h0M119 240h0M113 192h0M111 205h0M121 169h0M113 260h0M88 232h0M101 222h0M81 241h0M95 265h0M106 257h0M99 234h0M85 269h0M112 184h0M118 206h0M110 240h0M87 259h0M113 247h0M113 249h0M88 240h0M95 249h0M105 209h0M115 173h0M82 248h0M85 227h0M86 255h0M116 235h0M113 257h0M105 247h0M124 212h0M114 177h0M91 233h0M124 203h0M104 241h0M90 227h0M109 241h0M120 208h0M118 173h0M116 182h0M124 236h0M96 266h0M107 217h0M117 170h0M109 211h0M111 191h0M114 166h0M108 210h0M112 178h0M89 262h0M110 257h0M112 186h0M116 206h0M87 262h0M117 250h0" stroke="#2a2af2"/>
<path d="M121 184h0M89 237h0M122 193h0M91 260h0M84 255h0M123 197h0M103 217h0M95 253h0M111 190h0M106 251h0M89 226h0M93 219h0M106 241h0M97 204h0M128 183h0M99 245h0M90 255h0M119 236h0M110 220h0M97 246h0M100 211h0M108 242h0M102 238h0M116 184h0M101 204h0M118 199h0M111 246h0M82 264h0M118 202h0M94 217h0M82 267h0M121 243h0M120 236h0M97 211h0M94 237h0M112 214h0M98 242h0M91 230h0M123 238h0M105 263h0M97 208h0M110 211h0M98 214h0M110 202h0M98 248h0M98 245h0M81 238h0M114 183h0M115 186h0M88 236h0M114 191h0M115 235h0M93 225h0M101 228h0M120 237h0M123 246h0M98 207h0M116 252h0M115 181h0M100 270h0M104 227h0M112 192h0M84 251h0M98 238h0M122 189h0M96 236h0M122 217h0M119 248h0M102 264h0M99 196h0M120 246h0M96 244h0M85 258h0M97 207h0M89 252h0M119 235h0M93 236h0M115 232h0M106 187h0M123 209h0M110 223h0M82 242h0M90 262h0M118 239h0M120 205h0M105 231h0M118 184h0M101 256h0M125 245h0M114 202h0M116 196h0M108 257h0M123 210h0M110 243h0M109 238h0M124 219h0M105 224h0M120 218h0M111 193h0M106 259h0M103 238h0M113 200h0M106 212h0M108 259h0M112 192h0M124 197h0M106 238h0M118 240h0M118 215h0M113 220h0M84 257h0M119 172h0M82 242h0M106 246h0M96 260h0M114 236h0M121 225h0M104 206h0M91 228h0M116 181h0M113 186h0M119 169h0M103 245h0M93 222h0M97 262h0M116 168h0M123 212h0M112 213h0M123 180h0M88 246h0M103 195h0M109 221h0M117 249h0M119 198h0M111 235h0M122 179h0M124 185h0M116 214h0M115 205h0M122 245h0M105 208h0M98 270h0M122 230h0M80 236h0M112 212h0M105 202h0M86 243h0M96 207h0M88 249h0M111 231h0M101 191h0M107 246h0M108 242h0M104 193h0M118 205h0M83 256h0M110 200h0M105 263h0M120 183h0M108 195h0M116 170h0M93 238h0M98 229h0M107 206h0M112 199h0M93 252h0M110 245h0M124 187h0M108 215h0M101 250h0M111 185h0M84 254h0M83 236h0M92 240h0M116 182h0M96 264h0M116 226h0M115 236h0M111 216h0M101 236h0M115 250h0M101 267h0M114 230h0M93 263h0M112 205h0M104 241h0M125 199h0M124 207h0M93 217h0M125 223h0M120 232h0M93 218h0M104 254h0M101 232h0M111 231h0M105 260h0M122 228h0M96 267h0M107 220h0M104 265h0M117 207h0M92 220h0M113 193h0M105 235h0M121 201h0M113 256h0M103 195h0M115 193h0M97 232h0M99 225h0M115 185h0M114 245h0M100 200h0M82 248h0M116 199h0M96 200h0M115 218h0M99 243h0M95 244h0M83 260h0M103 214h0M110 223h0M116 224h0M116 193h0M105 258h0M118 246h0M117 204h0M119 233h0M101 228h0M122 228h0M123 215h0M122 217h0M96 267h0M120 203h0M120 211h0M98 236h0M100 211h0M111 249h0M120 211h0M117 236h0M118 181h0M91 248h0M82 252h0M98 235h0M83 240h0M116 200h0M115 186h0M114 260h0M100 253h0M101 234h0M118 194h0M112 197h0M90 245h0M101 204h0M104 242h0M118 239h0M118 251h0M100 213h0M92 243h0M119 247h0M83 255h0M116 236h0M106 197h0M120 229h0M88 251h0M108 194h0M117 234h0M84 252h0M123 231h0M92 225h0M116 248h0M117 203h0M117 219h0M87 237h0M108 249h0M89 236h0M98 222h0M114 252h0M92 267h0M114 190h0M107 217h0M88 248h0M107 190h0M93 244h0M115 251h0M116 186h0M101 234h0M117 249h0M122 226h0M88 250h0M114 257h0M112 239h0M96 239h0M105 239h0M120 206h0M124 206h0M108 199h0M97 238h0M110 209h0M105 189h0M119 251h0M101 221h0M119 185h0M89 244h0M114 228h0M103 249h0M99 220h0M115 186h0M100 212h0M82 244h0M111 259h0M104 270h0M101 235h0M107 225h0M109 242h0M89 242h0M118 245h0M106 234h0M114 184h0M108 202h0M101 229h0" stroke="#2f74f5"/>
<path d="M112 231h0M113 254h0M101 249h0M122 185h0M99 260h0M119 220h0M82 254h0M99 222h0M107 227h0M117 212h0M104 231h0M102 210h0M87 235h0M108 240h0M116 225h0M113 217h0M112 194h0M121 221h0M107 197h0M88 265h0M96 262h0M89 239h0M120 194h0M106 233h0M95 241h0M115 196h0M97 243h0M84 248h0M108 259h0M95 244h0M98 250h0M103 214h0M101 250h0M98 238h0M82 252h0M112 237h0M121 209h0M118 219h0M85 251h0M116 232h0M120 241h0M98 232h0M98 262h0M90 249h0M125 216h0M113 201h0M101 215h0M86 249h0M110 233h0M116 232h0M107 248h0M95 241h0M113 220h0M102 249h0M105 206h0M108 229h0M108 248h0M109 217h0M92 226h0M101 223h0M120 201h0M102 208h0M112 236h0M102 256h0M103 240h0M108 258h0M97 235h0M101 223h0M106 237h0M119 245h0M119 203h0M85 252h0M90 233h0M105 220h0M107 249h0M112 187h0M118 222h0M94 269h0M109 237h0M107 250h0M103 208h0M115 246h0M118 227h0M107 227h0M115 228h0M102 254h0M105 210h0M94 238h0M95 232h0M93 252h0M97 237h0M102 231h0M105 244h0M97 230h0M104 233h0M108 260h0M115 204h0M104 222h0M104 231h0M100 221h0M112 227h0M107 222h0M86 240h0M109 216h0M111 228h0M99 250h0M110 245h0M113 247h0M100 220h0M109 196h0M105 214h0M109 252h0M111 253h0M118 193h0M108 204h0M91 255h0M104 255h0M98 249h0M106 196h0M108 249h0M89 244h0M116 210h0M119 208h0M86 241h0M114 234h0M107 265h0M108 233h0M107 238h0M99 244h0M117 220h0M99 263h0M113 204h0M109 252h0M97 239h0M106 220h0M117 248h0M91 251h0M109 204h0M119 254h0M97 250h0M116 237h0M99 223h0M117 200h0M109 242h0M101 262h0M112 224h0M102 246h0M107 199h0M103 240h0M93 251h0M112 212h0M101 218h0M118 206h0M107 192h0M100 264h0M121 224h0M97 227h0M85 261h0M119 194h0M117 222h0M112 228h0M95 239h0M112 219h0M123 225h0M119 189h0M111 214h0M101 232h0M95 262h0M99 258h0M116 197h0M100 254h0M107 247h0M115 199h0M113 208h0M118 211h0M91 237h0M87 249h0M112 197h0M94 241h0M93 242h0M98 256h0M106 225h0M106 252h0M116 225h0M102 261h0M116 186h0M115 222h0M97 233h0M113 237h0M114 195h0M119 206h0M115 214h0M98 245h0M99 257h0M88 264h0M107 236h0M105 203h0M108 263h0M105 216h0M108 216h0M102 233h0M111 220h0M105 217h0M112 234h0M100 227h0M101 211h0M109 231h0M105 244h0M106 198h0M102 219h0M98 253h0M120 187h0M119 193h0M110 220h0M101 255h0M114 250h0M107 251h0M88 246h0M111 257h0M110 228h0M114 256h0M98 259h0M101 206h0M122 222h0M111 206h0M123 223h0M116 225h0M87 259h0M94 246h0M106 237h0M119 222h0M109 244h0M91 244h0M107 244h0M86 249h0M98 225h0M102 229h0M99 242h0M114 243h0M114 247h0M100 220h0M99 227h0M94 231h0M102 216h0M113 225h0M90 253h0M119 201h0M112 225h0M114 187h0M100 264h0M105 259h0M92 233h0" stroke="#2cb8c4"/>
<path d="M111 204h0M103 257h0M102 263h0M91 261h0M85 242h0M103 213h0M92 263h0M107 238h0M118 197h0M106 210h0M112 185h0M97 257h0M116 235h0M107 199h0M108 204h0M102 238h0M106 234h0M111 202h0M114 254h0M98 225h0M112 237h0M106 244h0M113 228h0M111 259h0M93 246h0M119 219h0M99 247h0M120 226h0M88 245h0M98 231h0M105 255h0M112 191h0M94 264h0M114 210h0M109 212h0M120 222h0M108 242h0M100 228h0M101 215h0M90 248h0M101 224h0M111 207h0M107 260h0M104 227h0M91 258h0M116 229h0M116 209h0M90 263h0M99 252h0M103 260h0M98 243h0M89 253h0M111 254h0M92 234h0M115 205h0M95 240h0M107 212h0M112 230h0M108 246h0M116 214h0M97 227h0M102 260h0M99 261h0M98 221h0M113 225h0M104 241h0M111 204h0M96 248h0M93 251h0M103 222h0M96 231h0M108 218h0M106 253h0M105 264h0M114 257h0M105 226h0M109 238h0M108 241h0M113 256h0M105 212h0M101 240h0M106 220h0M102 265h0M101 264h0M98 226h0M106 246h0M104 251h0M115 219h0M102 216h0M119 218h0M97 227h0M117 225h0M114 248h0M117 208h0M109 239h0M112 214h0M96 252h0M101 228h0M96 231h0M99 251h0M117 217h0M104 234h0M106 255h0M116 223h0M106 229h0M113 214h0M97 244h0M109 250h0M105 215h0M109 224h0M98 244h0M93 239h0M96 260h0M90 242h0M112 201h0M108 220h0M115 235h0M89 252h0M96 253h0M113 232h0M111 232h0M102 216h0M107 255h0M98 252h0M104 235h0M104 256h0M114 241h0M103 225h0M115 209h0M110 230h0M104 220h0M115 208h0M111 213h0M112 208h0M105 248h0M117 231h0M93 258h0M112 210h0M117 210h0M102 254h0M117 218h0M105 259h0M109 218h0M106 254h0M104 251h0M96 223h0M114 255h0M103 238h0M98 224h0M99 242h0M106 215h0M119 226h0M107 215h0M102 225h0M101 234h0M107 259h0M103 227h0M95 251h0M104 218h0M107 211h0M112 240h0M117 216h0M96 261h0M97 225h0M113 231h0M93 252h0M107 241h0M99 251h0M95 236h0M94 241h0M95 243h0M100 233h0M109 242h0M108 255h0M115 232h0M90 249h0M96 259h0M112 207h0M104 231h0M112 230h0M112 221h0M119 221h0M102 257h0M108 211h0M115 219h0M119 217h0M116 223h0M113 240h0M114 246h0M106 245h0M97 237h0M101 236h0M115 233h0M117 222h0M108 212h0M100 256h0M93 253h0M105 254h0M104 224h0M94 256h0M90 257h0M119 219h0M104 219h0M93 259h0M97 236h0M97 249h0M106 221h0M93 255h0M111 239h0M113 213h0M105 226h0M112 232h0M99 231h0M90 249h0M107 248h0M104 255h0M116 218h0M106 221h0M103 235h0M100 230h0M98 230h0M107 224h0M95 249h0M106 256h0M109 234h0M97 249h0M112 233h0M94 258h0M114 211h0M100 257h0M105 242h0M99 244h0M108 258h0M111 227h0M119 225h0M98 238h0M105 258h0M119 235h0M99 247h0M103 239h0M94 245h0M101 233h0M102 259h0M97 228h0M106 244h0M102 228h0M99 245h0M105 254h0M98 252h0M109 233h0M95 227h0M110 226h0M119 221h0M108 225h0M105 223h0M95 237h0M110 253h0M114 254h0M104 217h0M111 220h0M108 219h0M95 252h0M95 258h0M97 236h0" stroke="#3cc45a"/>
<path d="M109 244h0M118 230h0M115 229h0M103 258h0M104 228h0M104 245h0M118 230h0M109 257h0M90 241h0M103 226h0M114 229h0M101 247h0M105 231h0M114 234h0M115 232h0M91 257h0M115 229h0M110 239h0M105 246h0M113 227h0M103 257h0M97 253h0M103 258h0M113 231h0M102 234h0M100 242h0M119 232h0M101 245h0M100 255h0M97 260h0M105 231h0M112 223h0M91 246h0M95 246h0M99 246h0M114 219h0M95 251h0M102 235h0M105 252h0M109 227h0M93 245h0M95 253h0M95 260h0M99 232h0M111 238h0M98 244h0M106 218h0M98 232h0M111 214h0M93 253h0M91 249h0M109 250h0M102 241h0M109 223h0M91 242h0M102 259h0M112 223h0M112 239h0M99 248h0M100 246h0M95 260h0M101 239h0M113 237h0M106 252h0M111 216h0M102 237h0M102 252h0M118 226h0M113 223h0M100 255h0M112 217h0M104 222h0M96 257h0M108 215h0M112 227h0M98 250h0M108 252h0M110 227h0M107 229h0M103 233h0M101 229h0M112 217h0M98 256h0M105 228h0M115 236h0M102 246h0M103 232h0M107 221h0M95 238h0M102 223h0M103 238h0M105 250h0M96 257h0M102 243h0M103 245h0M108 220h0M113 238h0M102 251h0" stroke="#b8d030"/>
<path d="M109 244h0M106 245h0M101 245h0M104 257h0M102 223h0M106 248h0M111 223h0M104 232h0M105 253h0M110 230h0M106 244h0M106 248h0M109 220h0M96 250h0M113 221h0M109 225h0M100 252h0M105 253h0M113 222h0M110 223h0M104 242h0M109 222h0M108 250h0M101 255h0M114 228h0M107 239h0M110 218h0M99 248h0M112 230h0M107 252h0M105 223h0M107 237h0M112 231h0M108 224h0M108 245h0M105 238h0M109 218h0M112 222h0M104 247h0M106 215h0M100 222h0M97 246h0M106 253h0M97 255h0M113 226h0M111 221h0M96 251h0M109 237h0M111 224h0M110 226h0M106 252h0" stroke="#f0a020"/>
<path d="M111 229h0M110 219h0M105 243h0M110 221h0M111 235h0M112 234h0M100 244h0M101 239h0M113 234h0M114 228h0M114 232h0M107 234h0M107 227h0M106 228h0M113 234h0M109 232h0M104 231h0M101 231h0M104 233h0M109 235h0M106 227h0M107 228h0" stroke="#ee4416"/>
</g>
<rect x="646.6" y="1437.5" width="146" height="150.6" fill="none" stroke="#333" stroke-width="0.9"/>
<text x="639.9" y="1448.5" font-size="12.3" text-anchor="end" fill="#222">250K</text>
<text x="639.9" y="1477.1" font-size="12.3" text-anchor="end" fill="#222">200K</text>
<text x="639.9" y="1505.6" font-size="12.3" text-anchor="end" fill="#222">150K</text>
<text x="639.9" y="1534.2" font-size="12.3" text-anchor="end" fill="#222">100K</text>
<text x="639.9" y="1562.7" font-size="12.3" text-anchor="end" fill="#222">50K</text>
<text x="639.9" y="1591.3" font-size="12.3" text-anchor="end" fill="#222">0</text>
<path d="M642.6 1444.2h4M642.6 1472.8h4M642.6 1501.3h4M642.6 1529.9h4M642.6 1558.4h4M642.6 1587.0h4M644.6 1449.9h2M644.6 1455.6h2M644.6 1461.3h2M644.6 1467.0h2M644.6 1478.5h2M644.6 1484.2h2M644.6 1489.9h2M644.6 1495.6h2M644.6 1507.0h2M644.6 1512.7h2M644.6 1518.5h2M644.6 1524.2h2M644.6 1535.6h2M644.6 1541.3h2M644.6 1547.0h2M644.6 1552.7h2M644.6 1564.2h2M644.6 1569.9h2M644.6 1575.6h2M644.6 1581.3h2M655.4 1588.1v4M679.6 1588.1v4M703.6 1588.1v4M743.2 1588.1v4M778.5 1588.1v4M658.3 1588.1v2M661.0 1588.1v2M663.4 1588.1v2M665.6 1588.1v2M667.5 1588.1v2M669.5 1588.1v2M671.4 1588.1v2M673.3 1588.1v2M675.3 1588.1v2M683.9 1588.1v2M685.9 1588.1v2M687.8 1588.1v2M689.7 1588.1v2M691.6 1588.1v2M693.5 1588.1v2M695.5 1588.1v2M697.4 1588.1v2M699.3 1588.1v2M701.2 1588.1v2M715.5 1588.1v2M722.5 1588.1v2M727.5 1588.1v2M731.3 1588.1v2M734.4 1588.1v2M737.1 1588.1v2M739.4 1588.1v2M741.4 1588.1v2M753.8 1588.1v2M760.1 1588.1v2M764.5 1588.1v2M767.9 1588.1v2M770.7 1588.1v2M773.1 1588.1v2M775.1 1588.1v2M776.9 1588.1v2M789.0 1588.1v2M653.0 1588.1v2M651.6 1588.1v2M650.6 1588.1v2M649.8 1588.1v2" stroke="#222" stroke-width="0.9" fill="none"/>
<rect x="677.2" y="1588.1" width="5.4" height="2.6" fill="#000"/>
<text x="655.0" y="1605.6" font-size="12" text-anchor="middle" fill="#222">-10<tspan dy="-4.5" font-size="8.5">3</tspan></text>
<text x="679.6" y="1605.6" font-size="12" text-anchor="middle" fill="#222">0</text>
<text x="705.6" y="1605.6" font-size="12" text-anchor="middle" fill="#222">10<tspan dy="-4.5" font-size="8.5">3</tspan></text>
<text x="745.7" y="1605.6" font-size="12" text-anchor="middle" fill="#222">10<tspan dy="-4.5" font-size="8.5">4</tspan></text>
<text x="782.5" y="1605.6" font-size="12" text-anchor="middle" fill="#222">10<tspan dy="-4.5" font-size="8.5">5</tspan></text>
<path d="M701.6 1588.1 L720.1 1480.8 L792.6 1480.8" stroke="#222" stroke-width="1" fill="none"/>
<text x="788.1" y="1467.7" font-size="24.7" text-anchor="end">18.0%</text>
<g transform="translate(844.6 1437.5) scale(.5)" stroke-width="1.9" stroke-linecap="square" fill="none">
<path d="M154 183h0M190 118h0M176 201h0M67 150h0M181 193h0M200 242h0M77 71h0M171 243h0M203 270h0M108 68h0M99 55h0M212 267h0M57 193h0M188 221h0M164 191h0M47 246h0M117 274h0M184 232h0M119 65h0M179 224h0M204 224h0M227 259h0M59 202h0M91 85h0M129 236h0M118 119h0M122 222h0M70 139h0M184 216h0M197 209h0M224 229h0M112 56h0M107 76h0M118 210h0M111 47h0M116 189h0M124 251h0M56 205h0M183 240h0M141 211h0M200 224h0M160 204h0M136 211h0M116 132h0M118 216h0M132 238h0M58 217h0M84 110h0M147 275h0M229 262h0M143 272h0M163 221h0M104 50h0M185 246h0M178 276h0M153 211h0M151 221h0M105 273h0M108 80h0M108 55h0M165 235h0M124 250h0M134 244h0M205 248h0M57 268h0M74 182h0M214 253h0M69 178h0M78 275h0M194 264h0M83 123h0M112 48h0M79 138h0M117 159h0M57 265h0M167 231h0M150 205h0M78 151h0M168 245h0M94 93h0M147 242h0M165 222h0M150 239h0M150 228h0M110 79h0M154 225h0M110 260h0M174 225h0M228 256h0M164 261h0M149 276h0M120 277h0M121 278h0M155 226h0M207 253h0M59 230h0M143 263h0M110 138h0M156 264h0M117 263h0M66 174h0M63 218h0M154 232h0M71 159h0M89 128h0M70 191h0M169 279h0M183 223h0M95 275h0M138 238h0M158 215h0M164 229h0M90 119h0M139 212h0M71 175h0M149 259h0M179 276h0M185 274h0M149 265h0M132 266h0M209 255h0M127 268h0M113 137h0M74 176h0M109 108h0M108 93h0M112 242h0M167 273h0M152 249h0M174 276h0M113 194h0M146 244h0M163 219h0M174 254h0M117 188h0M102 109h0M186 250h0M117 247h0M112 220h0M87 121h0M104 99h0M180 259h0M75 140h0M145 269h0M151 252h0M70 272h0M96 113h0M159 212h0M201 258h0M111 177h0M99 94h0M104 270h0M57 252h0M79 148h0M160 260h0M209 257h0M136 261h0M103 98h0M202 264h0M74 192h0M181 269h0M197 256h0M92 103h0M184 262h0M76 158h0M170 225h0M107 87h0M149 245h0M182 250h0M134 261h0M140 250h0M172 250h0M110 128h0M134 255h0M135 241h0M178 265h0M130 269h0M99 97h0M64 237h0M159 263h0M160 271h0M112 140h0M141 260h0M69 200h0M180 249h0M204 257h0M68 271h0M104 271h0M120 265h0M180 254h0M108 152h0M138 245h0M111 137h0M111 154h0M154 270h0M114 198h0M100 108h0M63 267h0M102 89h0M150 229h0M167 254h0M163 236h0M157 248h0M174 266h0M191 256h0M86 126h0M167 262h0M133 264h0M138 260h0M64 263h0M93 99h0M106 115h0M122 260h0M174 261h0M107 110h0M113 219h0M82 132h0M85 142h0M160 236h0M98 96h0M173 273h0M97 93h0M153 265h0M104 107h0M64 224h0M106 87h0M180 261h0M154 256h0M62 260h0M137 268h0M111 252h0M154 265h0M191 258h0M117 257h0M78 276h0M79 176h0M145 250h0M106 86h0M64 225h0M65 237h0M67 272h0M79 168h0M89 123h0M160 266h0M110 236h0M105 140h0M129 265h0M189 257h0M149 249h0M184 263h0M174 276h0M184 251h0M89 276h0M161 236h0M137 256h0M92 132h0M135 255h0M63 259h0M151 260h0M85 151h0M162 253h0M62 269h0M114 148h0M192 258h0M112 228h0M96 100h0M91 94h0M158 268h0M112 229h0M176 260h0M79 172h0M136 251h0M107 128h0M69 208h0M158 263h0M144 248h0M104 121h0M65 269h0M166 261h0M106 266h0M84 135h0M109 129h0M90 137h0M115 163h0M172 264h0M88 152h0M64 231h0M173 253h0M93 137h0M111 241h0M165 247h0M159 247h0M106 94h0M114 184h0M96 123h0M62 241h0M105 121h0M111 150h0M95 118h0M105 121h0M115 133h0M115 206h0M177 254h0M181 261h0M105 187h0M109 234h0M108 135h0M106 190h0M176 265h0M107 154h0M173 266h0M135 263h0M158 249h0M82 146h0M105 235h0M186 251h0M167 266h0M167 268h0M134 260h0M77 272h0M85 279h0M113 170h0M97 98h0M103 270h0M155 254h0M140 261h0M66 269h0M67 272h0M181 256h0M88 273h0M104 128h0M179 250h0M114 260h0M169 255h0M112 252h0M97 115h0M76 161h0M105 118h0M75 179h0M105 242h0M102 260h0M111 208h0M165 252h0M79 171h0M106 146h0M172 254h0M65 220h0M96 130h0M69 260h0M115 237h0M105 94h0M70 269h0M60 237h0M166 267h0M96 121h0M136 259h0M69 267h0M89 154h0M158 244h0M103 150h0M89 145h0M107 118h0M112 248h0M102 115h0M166 264h0M167 257h0M99 114h0M173 259h0M94 128h0M81 157h0M111 226h0M99 139h0M84 157h0M150 248h0M114 202h0M113 168h0M156 241h0M106 267h0M100 136h0M132 265h0M95 145h0M104 98h0M95 127h0M106 168h0M91 140h0M108 147h0M85 140h0M180 258h0M102 148h0M106 252h0M158 254h0M83 164h0M62 256h0M109 197h0M158 246h0M80 190h0M93 158h0M175 275h0M74 196h0M160 246h0M87 139h0M76 166h0M69 270h0M101 156h0M104 121h0M100 138h0M84 171h0M105 121h0M108 224h0M104 113h0M101 131h0M105 252h0M67 240h0M102 264h0M91 128h0M104 163h0M89 159h0M98 123h0M95 129h0M70 240h0M70 215h0M75 260h0M78 175h0M93 136h0M88 272h0M107 237h0M110 208h0M71 208h0M104 259h0M183 256h0M66 231h0M98 150h0M76 268h0M78 195h0M107 196h0M94 135h0M94 145h0M96 98h0M82 155h0M108 203h0M72 201h0M100 130h0M112 204h0M107 119h0M77 203h0M106 140h0M92 130h0M108 166h0M104 137h0M104 264h0M109 129h0M93 155h0M63 258h0M72 194h0M102 170h0M87 140h0M109 189h0M107 260h0M101 143h0M69 232h0M80 159h0M106 256h0M105 162h0M92 147h0M79 270h0M113 214h0M114 226h0M98 163h0M91 127h0M66 218h0M67 252h0M107 171h0M74 200h0M80 164h0M76 190h0M104 112h0M90 157h0M73 261h0M97 164h0M106 196h0M64 250h0M79 158h0M80 272h0M78 192h0M99 265h0M104 260h0M88 138h0M71 214h0M91 266h0M68 213h0M68 257h0M178 259h0M102 116h0M103 256h0M99 154h0M90 150h0M69 229h0M71 216h0M102 145h0M86 272h0M82 168h0M91 155h0M86 169h0M99 168h0M109 248h0M103 268h0M80 271h0M81 269h0M67 233h0M92 162h0M96 136h0M63 258h0M78 174h0M73 218h0M74 213h0M74 262h0M77 174h0M92 141h0M101 207h0M99 166h0M96 122h0M102 167h0M108 206h0M77 196h0M104 129h0M99 116h0M66 257h0M82 179h0M88 165h0M106 181h0M82 267h0M68 245h0M83 267h0M102 186h0M101 239h0M108 165h0M65 230h0M106 165h0M61 255h0M109 164h0M74 202h0M100 159h0M74 217h0M100 267h0M101 152h0M96 131h0M101 172h0M106 196h0M89 163h0M109 231h0M97 266h0M100 163h0M98 123h0M102 188h0M105 178h0M83 268h0M83 158h0M74 258h0M106 247h0M101 245h0M92 269h0M102 136h0M97 157h0M106 163h0M74 259h0M92 146h0M95 270h0M105 118h0M103 140h0M105 219h0M98 131h0M72 228h0M103 268h0M103 253h0M100 122h0M102 127h0M105 245h0M74 222h0M104 201h0M89 145h0M108 233h0M107 249h0M105 259h0M79 264h0M90 163h0M108 141h0M103 140h0M93 154h0M88 172h0M107 226h0M92 271h0M104 123h0M73 230h0M90 271h0M101 148h0M71 232h0M85 144h0M74 205h0M108 190h0M102 157h0M107 242h0M72 260h0M107 199h0M104 258h0M94 273h0M107 170h0M90 169h0M103 164h0M103 144h0M93 136h0M73 236h0M95 261h0M92 161h0M77 200h0M104 198h0M109 227h0M84 192h0M90 152h0M107 140h0M75 239h0M98 266h0M84 164h0M73 219h0M99 167h0M101 182h0M100 132h0M78 196h0M67 250h0M81 190h0M93 162h0M105 198h0M90 161h0M70 229h0M109 188h0M102 224h0M84 270h0M73 207h0M107 176h0M74 223h0M102 199h0M87 146h0M109 240h0M103 251h0M109 230h0M69 263h0M95 168h0M108 189h0M66 247h0M101 150h0M72 244h0M97 152h0M105 184h0M103 263h0M89 170h0M102 159h0M97 179h0M97 138h0M106 177h0M72 241h0M74 223h0M105 219h0M92 141h0M106 243h0M97 131h0M87 185h0M82 173h0M108 252h0M87 165h0M107 236h0M94 273h0M105 177h0M66 261h0M102 180h0M102 134h0M100 130h0M76 190h0M103 257h0M105 261h0M101 250h0M104 179h0M86 265h0M93 268h0M102 229h0M86 264h0M99 178h0M95 143h0M103 143h0M71 232h0M101 166h0M83 193h0M110 167h0M103 176h0M96 166h0M100 191h0M103 156h0M73 245h0M90 160h0M93 179h0M100 151h0M82 164h0M101 183h0M104 206h0M103 262h0M81 186h0M68 263h0M89 174h0M105 148h0M101 203h0M100 208h0M94 156h0M76 194h0M101 251h0M74 214h0M66 215h0M97 140h0M106 224h0M88 175h0M86 262h0M104 173h0M77 189h0M93 261h0M75 262h0M107 169h0M93 172h0M99 204h0M93 165h0M69 247h0M78 194h0M95 145h0M97 263h0M91 152h0M106 171h0M104 188h0M97 158h0M108 221h0M70 267h0M89 169h0M90 274h0M95 174h0M97 156h0M83 192h0M72 217h0M99 207h0M102 185h0M91 267h0M104 231h0M107 165h0M101 206h0M87 261h0M100 169h0M108 187h0M97 150h0M108 196h0M82 161h0M70 228h0M105 215h0M72 241h0M93 170h0M99 203h0M95 152h0M82 196h0M92 257h0M97 266h0M86 169h0M88 167h0M75 211h0M80 162h0M94 171h0M75 243h0M101 209h0M81 167h0M79 213h0M99 144h0M78 266h0M102 242h0M101 203h0M69 222h0M86 262h0M94 149h0M108 219h0M100 174h0M103 149h0M81 162h0M102 227h0M92 144h0M97 155h0M101 225h0M75 230h0M83 164h0M94 156h0M72 251h0M95 266h0M75 233h0M94 177h0M103 212h0M96 251h0M98 167h0M89 260h0M93 154h0M103 145h0M88 264h0M109 215h0M70 256h0M90 157h0M83 173h0M100 169h0M94 166h0M100 253h0M107 209h0M71 252h0M80 216h0M104 197h0M99 146h0M91 260h0M102 234h0M95 262h0M94 171h0M90 157h0M72 213h0M69 252h0M103 241h0M103 238h0M73 239h0M105 223h0M79 219h0M65 257h0M77 215h0M89 182h0M76 267h0M90 172h0M93 148h0M98 198h0M86 187h0M106 224h0M98 159h0M93 160h0M77 222h0M97 257h0M72 235h0M67 249h0M77 218h0M106 211h0M99 233h0M110 194h0M104 210h0M105 214h0M103 165h0M100 246h0M88 184h0M98 200h0M98 252h0M72 233h0M101 213h0M107 201h0M96 221h0M85 214h0M98 196h0M72 234h0M96 185h0M65 244h0M68 230h0M95 137h0M96 190h0M80 199h0M71 244h0M87 204h0M82 203h0M77 261h0M89 266h0M76 263h0M95 173h0M83 185h0M96 214h0M89 260h0M94 188h0M83 193h0M104 169h0M97 224h0M77 209h0M88 201h0M93 148h0M104 223h0M102 257h0M105 242h0M78 267h0M106 225h0M88 255h0M68 251h0M94 266h0M69 225h0M81 173h0M77 228h0M75 251h0M90 161h0M102 246h0M105 210h0M91 184h0M78 209h0M102 176h0M98 157h0M87 183h0M77 227h0M83 180h0M103 214h0M98 220h0M68 255h0M89 191h0M106 207h0M92 146h0M97 203h0M99 147h0M98 187h0M84 186h0M66 240h0M96 188h0M71 260h0M88 268h0M92 151h0M99 258h0M88 176h0M85 184h0M73 218h0M104 221h0M75 206h0M73 242h0M106 210h0M79 193h0M77 246h0M108 202h0M79 197h0M101 165h0M82 196h0M95 179h0M84 179h0M78 256h0M68 233h0M90 181h0M73 221h0M97 143h0M82 252h0M103 245h0M100 165h0M83 182h0M96 142h0M96 237h0M83 181h0M99 179h0M96 243h0M85 179h0M108 226h0M74 263h0M73 224h0M84 250h0M91 199h0M107 210h0M100 212h0M99 234h0M97 242h0M69 249h0M96 251h0M78 190h0M91 264h0M95 268h0M79 259h0M80 258h0M109 212h0M85 258h0M84 243h0M70 240h0M99 157h0M98 226h0M98 252h0M95 169h0M80 255h0M90 180h0M73 218h0M96 245h0M78 254h0M67 246h0M89 184h0M103 202h0M79 209h0M84 268h0M97 149h0M83 180h0M69 252h0M89 267h0M94 251h0M101 160h0M104 166h0M83 209h0M69 242h0M80 204h0M93 186h0M97 179h0M80 221h0M98 245h0M102 176h0M75 225h0M84 259h0M84 187h0M89 171h0M105 191h0M95 222h0M79 252h0M73 255h0M94 171h0M84 182h0M91 252h0M96 211h0M85 258h0M98 255h0M97 237h0M84 183h0M66 246h0M72 257h0M101 224h0M92 266h0M101 215h0M94 270h0M98 209h0M91 254h0M77 258h0M77 208h0M99 158h0M66 226h0M78 204h0M100 198h0M102 235h0M91 265h0M88 173h0M81 269h0M86 200h0M92 262h0M98 226h0M75 251h0M70 249h0M78 258h0M79 218h0M80 237h0M90 270h0M90 261h0M76 249h0M72 263h0M101 175h0M96 241h0M75 230h0M74 226h0M106 224h0M80 233h0M80 239h0M85 257h0M102 196h0M84 211h0M78 210h0M95 178h0M96 259h0M77 224h0M78 205h0M80 219h0M99 194h0M83 198h0M85 268h0M90 152h0M82 221h0M90 259h0M103 260h0M79 257h0M93 167h0M90 246h0M96 252h0M98 244h0M96 198h0M95 246h0M84 171h0M80 179h0M97 240h0M104 250h0M77 222h0M84 201h0M97 172h0M94 206h0M91 174h0M80 194h0M104 189h0M91 254h0M95 218h0M101 208h0M97 217h0M93 232h0M95 224h0M95 220h0M96 232h0M88 249h0M76 202h0M101 213h0M72 225h0M88 265h0M101 182h0M82 260h0M103 245h0M101 244h0M82 214h0M89 250h0M96 151h0M94 253h0M79 197h0M99 195h0M98 162h0M83 215h0M98 175h0M97 191h0M85 193h0M93 232h0M88 197h0M85 250h0M78 246h0M68 251h0M87 192h0M85 246h0M100 212h0M103 237h0M75 240h0M96 240h0M75 228h0M79 254h0M86 240h0M78 205h0M87 252h0M93 234h0M105 167h0M104 197h0M79 254h0M98 187h0M93 168h0M101 176h0M93 259h0M80 215h0M89 181h0M81 207h0M95 259h0M105 205h0M90 213h0M102 174h0M85 262h0M95 240h0M105 240h0M99 190h0M95 245h0M85 207h0M101 251h0M88 171h0M85 197h0M99 174h0M99 164h0M102 206h0M88 190h0M93 232h0M89 176h0M100 189h0M77 249h0M77 206h0M100 170h0M94 253h0M86 191h0M98 217h0M76 242h0M83 208h0M93 178h0M90 191h0M94 223h0M88 250h0M74 223h0M102 245h0M90 259h0M99 195h0M84 194h0M94 196h0M103 185h0M84 253h0M96 192h0M78 240h0M82 244h0M81 195h0M94 234h0M96 263h0M97 166h0M99 227h0M85 174h0M97 239h0M94 221h0M74 239h0M99 165h0M90 194h0M76 259h0M81 239h0M94 167h0M90 239h0M71 250h0M92 259h0M103 218h0M85 212h0M99 247h0M101 246h0M101 185h0M80 262h0M97 232h0M82 256h0M83 262h0M82 233h0M87 202h0M83 268h0M98 210h0M70 235h0M88 217h0M78 241h0M98 213h0M102 174h0M81 248h0M79 247h0M75 216h0M89 256h0M93 212h0M76 256h0M92 188h0M77 206h0M99 185h0M90 249h0M102 215h0M74 253h0M85 212h0M97 231h0M72 254h0M85 171h0M83 197h0M84 214h0M88 194h0M75 247h0M95 261h0M97 231h0M97 265h0M74 260h0M90 193h0M74 226h0M104 240h0M101 224h0M95 201h0M84 222h0M66 253h0M73 237h0M77 245h0M93 202h0M92 169h0M97 192h0M101 200h0M93 181h0M92 177h0M94 170h0M90 198h0M97 196h0M95 261h0M78 260h0M87 211h0M97 208h0M72 256h0M78 250h0M79 262h0M93 190h0M85 230h0M88 211h0M97 178h0M85 186h0M101 175h0M96 212h0M80 267h0M78 239h0M83 242h0M101 228h0M81 261h0M80 269h0M91 232h0M102 165h0M86 246h0M91 252h0M83 233h0M89 258h0" stroke="#2a2af2"/>
<path d="M90 208h0M104 246h0M85 243h0M97 239h0M92 241h0M73 248h0M99 237h0M83 267h0M86 174h0M84 219h0M70 242h0M87 259h0M76 261h0M98 232h0M73 255h0M90 245h0M72 238h0M93 248h0M80 222h0M97 246h0M78 209h0M92 257h0M83 189h0M100 167h0M71 231h0M104 222h0M94 173h0M74 221h0M101 198h0M82 268h0M81 205h0M101 225h0M99 172h0M91 191h0M78 226h0M84 251h0M93 178h0M92 245h0M96 245h0M84 239h0M74 240h0M90 226h0M102 191h0M96 232h0M90 238h0M95 191h0M92 204h0M89 187h0M87 192h0M79 265h0M91 224h0M82 261h0M91 176h0M79 226h0M86 212h0M88 259h0M97 199h0M81 240h0M98 185h0M99 252h0M87 237h0M86 174h0M100 250h0M87 232h0M89 177h0M100 250h0M100 183h0M74 242h0M90 259h0M92 184h0M91 260h0M89 195h0M85 222h0M75 247h0M103 237h0M86 222h0M89 222h0M102 227h0M84 201h0M73 251h0M70 224h0M83 192h0M74 249h0M79 253h0M92 173h0M98 234h0M104 217h0M91 244h0M89 215h0M104 204h0M95 231h0M84 231h0M104 195h0M77 229h0M99 167h0M92 259h0M83 249h0M72 223h0M85 197h0M83 216h0M100 212h0M92 260h0M94 247h0M81 252h0M94 184h0M89 215h0M98 208h0M76 232h0M101 185h0M84 215h0M97 251h0M82 217h0M73 236h0M104 213h0M82 235h0M101 196h0M81 211h0M82 188h0M101 186h0M89 253h0M89 264h0M77 265h0M90 235h0M92 251h0M101 209h0M94 189h0M105 221h0M70 260h0M96 188h0M87 214h0M86 242h0M93 194h0M100 183h0M95 211h0M82 261h0M98 173h0M91 245h0M95 249h0M89 230h0M91 261h0M98 195h0M83 202h0M105 217h0M88 204h0M87 218h0M87 224h0M92 249h0M85 212h0M80 242h0M89 222h0M102 192h0M92 251h0M88 200h0M94 216h0M88 200h0M85 244h0M98 238h0M80 253h0M88 197h0M88 225h0M84 186h0M83 192h0M92 238h0M88 220h0M86 183h0M94 260h0M104 189h0M73 238h0M104 208h0M104 194h0M77 240h0M97 236h0M84 189h0M105 244h0M81 230h0M96 259h0M100 223h0M81 255h0M73 260h0M91 238h0M87 215h0M76 253h0M83 255h0M104 229h0M102 227h0M70 223h0M94 226h0M78 213h0M81 188h0M95 183h0M91 252h0M91 204h0M89 224h0M96 211h0M102 221h0M96 203h0M77 245h0M82 198h0M96 203h0M85 202h0M97 234h0M97 175h0M90 183h0M79 239h0M94 185h0M93 188h0M101 243h0M103 223h0M91 231h0M92 193h0M75 259h0M93 254h0M93 251h0M91 245h0M72 246h0M96 182h0M82 242h0M86 254h0M86 243h0M99 176h0M79 254h0M97 218h0M72 249h0M84 190h0M72 248h0M89 195h0M93 258h0M98 227h0M99 253h0M91 237h0M93 230h0M97 254h0M102 222h0M101 227h0M88 222h0M99 255h0M104 224h0M79 239h0M88 205h0M76 211h0M77 240h0M104 241h0M71 226h0M94 229h0M76 259h0M82 235h0M82 244h0M88 189h0M87 241h0M84 256h0M93 176h0M88 201h0M78 262h0M83 264h0M93 210h0M88 171h0M90 253h0M87 264h0M91 189h0M78 243h0M89 198h0M93 199h0M80 220h0M84 198h0M84 194h0M92 222h0M94 240h0M78 246h0M87 180h0M72 247h0M93 181h0M74 240h0M99 171h0M89 212h0M80 232h0M74 223h0M78 250h0M95 229h0M96 253h0M91 184h0M99 188h0M93 208h0M94 212h0M82 200h0M81 251h0M92 174h0M90 177h0M91 204h0M78 262h0M95 202h0M83 236h0M102 215h0M84 240h0M90 210h0M89 223h0M76 257h0M85 190h0M94 228h0M94 197h0M97 245h0M86 222h0M98 194h0M88 228h0M100 231h0M95 178h0M91 189h0M95 201h0M94 210h0M89 219h0M90 181h0M90 221h0M96 190h0M82 241h0M99 231h0M89 255h0M89 208h0M86 260h0M89 242h0M96 175h0M78 249h0M93 250h0" stroke="#2f74f5"/>
<path d="M96 230h0M99 237h0M85 178h0M105 225h0M81 239h0M86 190h0M85 191h0M92 199h0M83 249h0M100 220h0M94 189h0M73 257h0M94 229h0M85 223h0M85 255h0M99 174h0M84 217h0M93 198h0M89 193h0M71 257h0M86 210h0M90 225h0M96 189h0M89 242h0M80 217h0M74 226h0M97 236h0M85 202h0M73 254h0M79 226h0M85 232h0M93 193h0M76 247h0M71 226h0M90 177h0M94 208h0M97 228h0M96 216h0M80 245h0M80 250h0M88 201h0M89 227h0M93 228h0M81 240h0M91 243h0M82 240h0M98 238h0M89 239h0M91 206h0M81 214h0M74 224h0M73 253h0M95 192h0M94 255h0M93 211h0M72 226h0M98 243h0M84 251h0M89 204h0M71 235h0M94 180h0M90 175h0M74 254h0M84 205h0M90 222h0M76 221h0M87 245h0M76 241h0M92 206h0M96 218h0M79 219h0M87 232h0M87 206h0M95 241h0M91 235h0M97 231h0M84 246h0M77 230h0M96 258h0M99 225h0M96 225h0M96 181h0M93 209h0M94 216h0M80 221h0M91 251h0M91 239h0M91 177h0M80 263h0M87 214h0M86 178h0M86 197h0M94 194h0M80 216h0M93 208h0M82 231h0M98 248h0M91 231h0M98 245h0M87 217h0M99 187h0M96 248h0M91 238h0M91 177h0M93 216h0M99 239h0M97 209h0M91 183h0M77 247h0M96 211h0M79 253h0M81 235h0M97 220h0M100 248h0M84 230h0M94 190h0M82 196h0M92 203h0M76 239h0M93 189h0M100 243h0M92 230h0M85 180h0M86 183h0M76 247h0M89 194h0M79 219h0M92 187h0M97 220h0M96 240h0M80 236h0M83 229h0M95 223h0M90 205h0M88 215h0M88 185h0M84 240h0M79 233h0M90 208h0M97 236h0M84 249h0M86 193h0M77 249h0M95 215h0M97 188h0M94 247h0M90 242h0M91 210h0M94 210h0M95 206h0M82 251h0M81 217h0M88 220h0M97 191h0M80 256h0M91 241h0M80 253h0M84 216h0M90 235h0M78 231h0M99 241h0M88 201h0M76 255h0M87 208h0M84 197h0M91 252h0M91 230h0M98 219h0M97 203h0M76 244h0M91 180h0M99 181h0M83 259h0M93 256h0M88 249h0M90 258h0M77 227h0M76 226h0M80 212h0M100 220h0M91 212h0M89 229h0M82 227h0M93 193h0M77 220h0M92 193h0M94 179h0M88 253h0M92 241h0M78 228h0M97 252h0M82 211h0M96 187h0M97 221h0M88 184h0M99 202h0M81 200h0M93 219h0M91 203h0M83 217h0M98 229h0M87 255h0M78 248h0M93 209h0M90 230h0M79 219h0M78 251h0M91 180h0M99 229h0M79 217h0M82 218h0M81 258h0M82 259h0M91 236h0M86 256h0M85 243h0M83 204h0M86 252h0M93 221h0M96 210h0M88 231h0M83 227h0M84 243h0M82 260h0M77 238h0M98 213h0M87 252h0M81 260h0M82 204h0M75 226h0M88 221h0M98 201h0M83 212h0M93 251h0M100 200h0M92 251h0M85 191h0M86 182h0M88 214h0M91 211h0M93 178h0M99 181h0M100 193h0M82 215h0M85 244h0M90 212h0M80 246h0M94 177h0M99 199h0M89 232h0M91 201h0M93 207h0" stroke="#2cb8c4"/>
<path d="M93 225h0M97 191h0M83 221h0M77 227h0M84 247h0M79 232h0M92 206h0M79 230h0M91 230h0M92 185h0M93 240h0M96 226h0M94 225h0M75 233h0M95 245h0M100 192h0M94 177h0M99 241h0M98 187h0M83 233h0M75 227h0M92 177h0M91 253h0M84 252h0M92 181h0M81 244h0M86 237h0M87 205h0M90 220h0M86 244h0M92 240h0M98 185h0M88 191h0M95 227h0M80 233h0M99 185h0M90 215h0M80 227h0M91 200h0M90 192h0M85 225h0M92 196h0M90 189h0M88 207h0M87 196h0M87 227h0M85 214h0M88 191h0M86 213h0M82 221h0M87 207h0M91 197h0M94 257h0M85 225h0M92 198h0M88 244h0M86 234h0M80 236h0M79 244h0M95 228h0M81 223h0M84 206h0M85 244h0M97 245h0M81 209h0M94 201h0M100 217h0M77 229h0M95 224h0M91 235h0M79 229h0M83 223h0M85 250h0M85 253h0M95 195h0M81 260h0M96 197h0M77 237h0M88 204h0M89 194h0M95 189h0M89 241h0M87 209h0M96 222h0M75 254h0M85 208h0M94 198h0M91 234h0M77 244h0M98 191h0M77 239h0M76 246h0M84 237h0M90 254h0M92 243h0M82 248h0M90 240h0M80 254h0M92 242h0M92 233h0M84 249h0M89 231h0M96 219h0M97 219h0M87 234h0M86 237h0M93 191h0M92 232h0M89 199h0M82 257h0M96 240h0M87 203h0M97 235h0M94 187h0M99 232h0M89 201h0M99 212h0M87 221h0M93 251h0M94 196h0M85 220h0M90 241h0M82 233h0M83 209h0M83 238h0M81 237h0M94 245h0M88 215h0M93 227h0M86 187h0M85 225h0M85 208h0M100 236h0M89 221h0M94 241h0M76 229h0M79 229h0M99 222h0M87 233h0M86 244h0M82 258h0M87 208h0M88 197h0M98 188h0M83 243h0M98 219h0M79 241h0M83 248h0M88 248h0M75 254h0M89 242h0M83 247h0M96 244h0M80 244h0M83 209h0M98 243h0M78 234h0M93 222h0M89 206h0M95 198h0M86 215h0M92 220h0M92 249h0M90 219h0M91 223h0M96 227h0M96 213h0M94 200h0M83 223h0M79 221h0M100 212h0M92 194h0M86 193h0M92 234h0M87 205h0M87 205h0M94 236h0M81 231h0M81 234h0M93 186h0M99 247h0M86 237h0M99 215h0M79 228h0M75 229h0M92 187h0M81 246h0M89 202h0M95 189h0M97 239h0M82 216h0M89 234h0M87 241h0M88 254h0M88 233h0M84 246h0M95 195h0M97 191h0M98 226h0M86 244h0M86 195h0M98 219h0M94 254h0M86 253h0M79 243h0M83 254h0M88 194h0M84 246h0M84 224h0M85 229h0M92 252h0M86 208h0M89 215h0M100 191h0M93 241h0M97 225h0M83 255h0M91 191h0M89 245h0M81 227h0M93 211h0M91 206h0M81 248h0M86 233h0M93 187h0M86 224h0M91 255h0M80 242h0M93 240h0M83 242h0M95 212h0M84 227h0M93 207h0M90 245h0M90 233h0M82 217h0M87 223h0M75 238h0M85 225h0M93 215h0M95 247h0M87 230h0M93 241h0M82 226h0M87 230h0M84 230h0M88 202h0M82 251h0M84 250h0M81 252h0M86 233h0M85 235h0M87 251h0M82 234h0M86 248h0M79 235h0M80 248h0M92 213h0M92 215h0M87 245h0M77 236h0M93 238h0M86 238h0M90 218h0" stroke="#3cc45a"/>
<path d="M78 245h0M84 236h0M79 235h0M81 238h0M93 224h0M85 241h0M87 221h0M95 195h0M81 211h0M82 213h0M84 240h0M86 224h0M92 229h0M84 229h0M85 237h0M93 238h0M89 210h0M83 221h0M88 225h0M94 187h0M82 231h0M83 234h0M94 233h0M80 239h0M80 247h0M83 219h0M87 242h0M89 235h0M92 208h0M93 221h0M87 212h0M93 219h0M95 193h0M87 217h0M82 231h0M93 195h0M90 199h0M88 229h0M85 232h0M90 210h0M88 207h0M90 192h0M90 192h0M94 208h0M82 238h0M92 222h0M91 229h0M93 210h0M89 213h0M94 224h0M85 221h0M92 233h0M90 221h0M84 240h0M91 194h0M84 222h0M83 219h0M90 229h0M84 240h0M81 222h0M87 211h0M89 222h0M86 235h0M91 195h0M92 214h0M83 242h0M88 233h0M91 217h0M84 236h0M80 228h0M90 235h0M92 229h0M90 220h0M93 221h0M88 242h0M88 214h0M89 243h0M86 236h0M90 214h0M85 225h0M87 216h0M90 236h0M87 238h0M92 238h0M81 220h0M88 231h0M86 230h0M95 206h0M91 216h0M82 222h0M82 218h0M87 234h0M87 205h0M93 223h0M90 220h0M84 229h0M90 226h0M95 212h0M95 235h0" stroke="#b8d030"/>
<path d="M87 233h0M87 215h0M87 219h0M93 211h0M93 234h0M91 210h0M86 233h0M92 222h0M87 210h0M90 230h0M92 214h0M88 210h0M82 225h0M94 210h0M86 228h0M85 224h0M90 234h0M90 229h0M86 221h0M83 223h0M93 218h0M87 211h0M81 235h0M85 225h0M88 213h0M92 218h0M93 227h0M85 213h0M93 214h0M87 219h0M91 235h0M90 212h0M92 233h0M89 232h0M81 221h0M89 232h0M92 219h0M86 233h0M95 212h0M88 224h0M86 233h0M93 224h0M92 236h0M86 224h0M90 219h0M94 217h0M88 227h0M89 215h0M88 234h0M91 224h0M82 232h0" stroke="#f0a020"/>
<path d="M89 237h0M89 212h0M84 239h0M91 218h0M88 239h0M85 222h0M92 216h0M86 228h0M89 211h0M80 225h0M88 217h0M91 230h0M90 220h0M94 230h0M86 225h0M86 219h0M87 219h0M93 227h0M85 227h0M88 218h0M88 216h0M87 225h0" stroke="#ee4416"/>
</g>
<rect x="844.6" y="1437.5" width="146" height="150.6" fill="none" stroke="#333" stroke-width="0.9"/>
<text x="837.9" y="1448.5" font-size="12.3" text-anchor="end" fill="#222">250K</text>
<text x="837.9" y="1477.1" font-size="12.3" text-anchor="end" fill="#222">200K</text>
<text x="837.9" y="1505.6" font-size="12.3" text-anchor="end" fill="#222">150K</text>
<text x="837.9" y="1534.2" font-size="12.3" text-anchor="end" fill="#222">100K</text>
<text x="837.9" y="1562.7" font-size="12.3" text-anchor="end" fill="#222">50K</text>
<text x="837.9" y="1591.3" font-size="12.3" text-anchor="end" fill="#222">0</text>
<path d="M840.6 1444.2h4M840.6 1472.8h4M840.6 1501.3h4M840.6 1529.9h4M840.6 1558.4h4M840.6 1587.0h4M842.6 1449.9h2M842.6 1455.6h2M842.6 1461.3h2M842.6 1467.0h2M842.6 1478.5h2M842.6 1484.2h2M842.6 1489.9h2M842.6 1495.6h2M842.6 1507.0h2M842.6 1512.7h2M842.6 1518.5h2M842.6 1524.2h2M842.6 1535.6h2M842.6 1541.3h2M842.6 1547.0h2M842.6 1552.7h2M842.6 1564.2h2M842.6 1569.9h2M842.6 1575.6h2M842.6 1581.3h2M853.4 1588.1v4M877.6 1588.1v4M901.6 1588.1v4M941.2 1588.1v4M976.5 1588.1v4M856.3 1588.1v2M858.9 1588.1v2M861.3 1588.1v2M863.5 1588.1v2M865.5 1588.1v2M867.4 1588.1v2M869.3 1588.1v2M871.3 1588.1v2M873.2 1588.1v2M881.9 1588.1v2M883.8 1588.1v2M885.7 1588.1v2M887.6 1588.1v2M889.6 1588.1v2M891.5 1588.1v2M893.4 1588.1v2M895.3 1588.1v2M897.2 1588.1v2M899.2 1588.1v2M913.5 1588.1v2M920.5 1588.1v2M925.4 1588.1v2M929.2 1588.1v2M932.4 1588.1v2M935.0 1588.1v2M937.3 1588.1v2M939.3 1588.1v2M951.8 1588.1v2M958.0 1588.1v2M962.4 1588.1v2M965.8 1588.1v2M968.6 1588.1v2M971.0 1588.1v2M973.0 1588.1v2M974.8 1588.1v2M986.9 1588.1v2M851.0 1588.1v2M849.5 1588.1v2M848.5 1588.1v2M847.8 1588.1v2" stroke="#222" stroke-width="0.9" fill="none"/>
<rect x="875.2" y="1588.1" width="5.4" height="2.6" fill="#000"/>
<text x="853.0" y="1605.6" font-size="12" text-anchor="middle" fill="#222">-10<tspan dy="-4.5" font-size="8.5">3</tspan></text>
<text x="877.6" y="1605.6" font-size="12" text-anchor="middle" fill="#222">0</text>
<text x="903.6" y="1605.6" font-size="12" text-anchor="middle" fill="#222">10<tspan dy="-4.5" font-size="8.5">3</tspan></text>
<text x="943.7" y="1605.6" font-size="12" text-anchor="middle" fill="#222">10<tspan dy="-4.5" font-size="8.5">4</tspan></text>
<text x="980.5" y="1605.6" font-size="12" text-anchor="middle" fill="#222">10<tspan dy="-4.5" font-size="8.5">5</tspan></text>
<path d="M900.6 1588.1 L919.1 1480.8 L990.6 1480.8" stroke="#222" stroke-width="1" fill="none"/>
<text x="986.1" y="1467.7" font-size="24.7" text-anchor="end">7.04%</text>
<g transform="translate(1042.5 1437.5) scale(.5)" stroke-width="1.9" stroke-linecap="square" fill="none">
<path d="M48 256h0M219 232h0M134 179h0M127 216h0M164 270h0M159 192h0M192 188h0M143 152h0M123 261h0M163 146h0M172 155h0M75 153h0M72 125h0M167 216h0M143 217h0M182 222h0M135 144h0M124 137h0M83 121h0M178 181h0M150 220h0M151 213h0M162 173h0M152 272h0M212 200h0M162 231h0M187 259h0M149 202h0M154 168h0M140 222h0M54 205h0M149 277h0M171 229h0M196 199h0M147 134h0M50 271h0M140 245h0M178 199h0M197 235h0M120 105h0M193 209h0M155 250h0M131 205h0M201 248h0M54 241h0M105 63h0M174 194h0M120 79h0M123 238h0M174 276h0M84 109h0M146 265h0M181 198h0M124 72h0M93 81h0M57 230h0M69 197h0M123 149h0M146 240h0M118 113h0M172 256h0M187 217h0M169 142h0M128 244h0M202 248h0M186 216h0M198 245h0M180 241h0M176 253h0M157 210h0M130 203h0M143 274h0M173 275h0M186 202h0M125 190h0M190 221h0M169 217h0M198 231h0M93 83h0M178 207h0M165 244h0M162 247h0M133 235h0M156 214h0M61 273h0M198 243h0M170 229h0M179 243h0M107 64h0M73 166h0M124 103h0M133 235h0M111 43h0M153 256h0M114 54h0M109 77h0M203 230h0M160 200h0M112 45h0M126 204h0M121 208h0M121 187h0M94 97h0M171 235h0M96 79h0M110 69h0M74 173h0M153 256h0M89 107h0M88 115h0M174 207h0M75 160h0M86 131h0M119 218h0M173 245h0M84 142h0M159 206h0M110 59h0M139 238h0M113 101h0M116 130h0M100 92h0M103 82h0M118 153h0M119 212h0M106 82h0M176 203h0M59 234h0M104 75h0M117 246h0M114 74h0M111 46h0M94 100h0M88 124h0M67 267h0M121 233h0M99 92h0M118 233h0M114 53h0M101 107h0M132 240h0M99 96h0M109 73h0M108 99h0M157 259h0M157 258h0M161 207h0M117 125h0M119 199h0M118 126h0M104 271h0M62 270h0M120 203h0M107 47h0M78 162h0M87 142h0M118 155h0M121 179h0M114 138h0M104 106h0M111 124h0M68 209h0M80 184h0M111 105h0M115 107h0M63 221h0M92 277h0M159 256h0M79 177h0M83 159h0M89 139h0M124 185h0M103 105h0M62 237h0M153 250h0M99 105h0M91 117h0M112 144h0M116 226h0M70 215h0M97 110h0M106 107h0M117 216h0M77 277h0M119 240h0M65 220h0M115 249h0M115 183h0M95 139h0M93 96h0M104 96h0M100 131h0M66 271h0M83 156h0M113 179h0M113 262h0M112 261h0M75 192h0M61 232h0M79 166h0M124 210h0M115 179h0M78 172h0M68 254h0M111 108h0M116 147h0M97 120h0M62 238h0M80 165h0M94 113h0M99 111h0M91 131h0M103 119h0M112 178h0M113 261h0M118 162h0M63 264h0M67 267h0M87 149h0M113 243h0M76 272h0M119 180h0M69 243h0M114 243h0M105 111h0M112 252h0M113 129h0M73 201h0M111 156h0M111 153h0M83 152h0M105 275h0M63 247h0M108 263h0M100 130h0M90 153h0M68 225h0M117 138h0M91 116h0M93 126h0M114 149h0M111 109h0M110 117h0M76 271h0M110 266h0M101 98h0M72 272h0M100 120h0M117 162h0M88 167h0M100 119h0M72 268h0M108 139h0M103 102h0M89 144h0M100 131h0M111 123h0M68 230h0M110 208h0M66 216h0M87 159h0M94 138h0M113 143h0M114 139h0M70 259h0M60 257h0M104 101h0M101 119h0M110 258h0M102 266h0M78 176h0M85 167h0M69 215h0M97 127h0M94 147h0M68 247h0M65 257h0M109 132h0M110 195h0M80 185h0M107 115h0M112 158h0M81 174h0M98 139h0M61 258h0M76 269h0M79 194h0M89 155h0M95 154h0M110 112h0M78 265h0M80 153h0M113 142h0M90 169h0M108 140h0M66 248h0M95 103h0M112 242h0M102 100h0M117 240h0M60 257h0M119 177h0M89 169h0M67 244h0M107 104h0M114 131h0M105 116h0M66 232h0M96 140h0M112 203h0M68 214h0M111 262h0M79 180h0M68 233h0M97 116h0M86 151h0M97 141h0M67 248h0M65 254h0M67 214h0M78 267h0M93 121h0M107 121h0M100 145h0M99 135h0M114 184h0M71 209h0M100 272h0M114 245h0M116 210h0M98 120h0M85 166h0M110 162h0M87 171h0M111 239h0M73 274h0M72 274h0M110 260h0M83 270h0M78 202h0M111 183h0M108 106h0M70 262h0M118 197h0M110 119h0M64 252h0M107 125h0M92 111h0M110 261h0M111 156h0M110 178h0M98 137h0M94 135h0M99 143h0M95 131h0M93 155h0M112 167h0M111 134h0M104 137h0M110 120h0M95 122h0M73 273h0M95 120h0M116 200h0M101 149h0M111 257h0M114 194h0M96 135h0M106 154h0M112 203h0M76 190h0M113 194h0M80 184h0M72 249h0M103 110h0M96 128h0M101 128h0M105 150h0M103 141h0M101 151h0M111 133h0M87 168h0M104 260h0M92 142h0M84 171h0M81 184h0M114 190h0M102 262h0M102 142h0M91 115h0M91 272h0M108 152h0M88 176h0M75 199h0M107 142h0M114 251h0M69 253h0M82 267h0M112 154h0M98 152h0M82 269h0M75 220h0M80 266h0M72 224h0M76 199h0M106 264h0M98 273h0M72 213h0M107 123h0M109 269h0M84 165h0M96 159h0M112 207h0M106 157h0M101 111h0M98 162h0M86 266h0M91 270h0M104 138h0M77 201h0M114 127h0M96 150h0M110 146h0M109 167h0M69 255h0M77 219h0M74 216h0M111 260h0M102 265h0M108 144h0M109 264h0M69 236h0M114 217h0M108 215h0M102 256h0M107 150h0M74 215h0M103 131h0M72 256h0M105 261h0M114 159h0M101 157h0M107 140h0M72 242h0M107 258h0M71 261h0M112 193h0M93 159h0M79 206h0M105 262h0M69 252h0M107 223h0M74 257h0M105 180h0M110 252h0M114 170h0M110 207h0M91 273h0M97 154h0M113 225h0M107 189h0M80 259h0M81 187h0M98 120h0M77 189h0M112 166h0M96 165h0M81 266h0M102 122h0M111 170h0M86 267h0M105 164h0M106 194h0M93 265h0M105 157h0M89 157h0M115 156h0M112 200h0M87 267h0M108 185h0M113 235h0M74 238h0M111 248h0M75 263h0M106 179h0M98 138h0M103 158h0M99 169h0M108 253h0M112 237h0M93 164h0M102 162h0M87 159h0M84 172h0M89 267h0M95 272h0M107 210h0M73 244h0M103 132h0M71 211h0M84 178h0M109 161h0M108 121h0M105 192h0M106 222h0M90 139h0M71 221h0M112 210h0M109 237h0M108 260h0M98 273h0M106 147h0M109 125h0M75 214h0M100 274h0M97 150h0M108 125h0M111 230h0M109 145h0M105 240h0M110 243h0M98 119h0M106 160h0M88 155h0M110 127h0M94 158h0M97 169h0M95 173h0M111 202h0M87 163h0M98 274h0M104 189h0M89 166h0M78 198h0M109 151h0M111 228h0M110 180h0M106 176h0M94 165h0M72 266h0M93 154h0M90 182h0M71 252h0M113 161h0M112 196h0M104 123h0M102 133h0M79 261h0M85 185h0M73 249h0M92 271h0M94 273h0M79 222h0M85 180h0M93 155h0M109 165h0M109 245h0M97 150h0M102 149h0M79 216h0M112 237h0M95 173h0M83 193h0M99 168h0M107 172h0M75 228h0M99 117h0M76 219h0M91 151h0M79 257h0M107 250h0M81 213h0M109 122h0M114 224h0M79 212h0M111 242h0M108 171h0M93 153h0M85 204h0M81 187h0M96 261h0M97 142h0M109 246h0M103 165h0M88 167h0M96 264h0M105 175h0M112 234h0M110 232h0M107 226h0M73 239h0M70 241h0M79 254h0M107 191h0M110 231h0M97 165h0M80 227h0M101 164h0M100 154h0M106 128h0M81 198h0M77 207h0M106 180h0M94 174h0M108 253h0M76 196h0M112 204h0M93 177h0M110 215h0M97 138h0M98 270h0M80 185h0M67 251h0M107 214h0M106 226h0M103 165h0M85 187h0M77 221h0M85 207h0M78 264h0M83 203h0M103 154h0M74 226h0M86 159h0M114 246h0M107 170h0M110 122h0M100 264h0M77 193h0M82 185h0M93 164h0M85 208h0M77 202h0M105 188h0M72 238h0M109 149h0M83 200h0M79 190h0M108 251h0M100 194h0M103 120h0M101 124h0M75 218h0M99 146h0M106 171h0M110 210h0M114 238h0M83 214h0M84 188h0M80 190h0M93 165h0M81 264h0M76 223h0M102 142h0M94 171h0M104 166h0M104 158h0M87 189h0M102 198h0M72 224h0M85 194h0M98 161h0M108 195h0M84 183h0M93 154h0M94 266h0M103 180h0M108 183h0M70 257h0M114 203h0M98 171h0M107 196h0M108 212h0M91 265h0M90 159h0M72 224h0M79 249h0M77 257h0M102 165h0M74 220h0M77 269h0M74 241h0M91 264h0M80 193h0M108 147h0M105 242h0M77 267h0M105 255h0M97 268h0M97 260h0M96 188h0M105 140h0M82 269h0M102 154h0M89 181h0M108 156h0M97 139h0M106 252h0M106 153h0M103 174h0M76 243h0M114 207h0M98 144h0M78 270h0M104 179h0M86 194h0M110 202h0M105 157h0M82 203h0M77 247h0M78 269h0M83 260h0M102 208h0M82 214h0M79 219h0M96 145h0M108 219h0M101 172h0M86 263h0M105 160h0M105 194h0M105 179h0M101 189h0M100 262h0M74 258h0M93 183h0M71 248h0M87 172h0M82 205h0M80 228h0M97 187h0M71 248h0M94 174h0M98 149h0M79 217h0M103 187h0M85 194h0M110 234h0M97 264h0M76 238h0M103 259h0M106 188h0M85 257h0M75 213h0M110 258h0M75 227h0M84 270h0M75 255h0M87 204h0M81 185h0M109 232h0M103 146h0M101 173h0M78 194h0M80 203h0M102 212h0M107 227h0M96 149h0M93 170h0M72 237h0M75 226h0M71 229h0M83 199h0M78 226h0M96 153h0M90 260h0M84 214h0M106 186h0M103 221h0M106 181h0M84 255h0M104 215h0M103 229h0M103 169h0M78 247h0M76 207h0M78 226h0M79 195h0M103 195h0M92 178h0M74 252h0M82 269h0M108 244h0M82 208h0M100 255h0M106 200h0M91 184h0M106 150h0M98 159h0M78 227h0M90 183h0M98 187h0M102 251h0M104 180h0M101 185h0M102 196h0M104 210h0M77 232h0M92 188h0M98 165h0M101 189h0M84 202h0M80 252h0M80 200h0M84 190h0M107 180h0M94 179h0M107 241h0M105 197h0M102 167h0M80 244h0M72 252h0M71 239h0M100 151h0M102 144h0M107 166h0M106 189h0M101 230h0M109 162h0M83 217h0M98 253h0M72 237h0M83 231h0M101 235h0M101 152h0M79 214h0M86 175h0M106 205h0M105 171h0M76 239h0M80 257h0M80 245h0M89 183h0M100 172h0M92 266h0M106 251h0M80 251h0M84 257h0M107 202h0M108 231h0M77 240h0M88 189h0M106 209h0M103 157h0M87 258h0M86 268h0M108 207h0M101 165h0M77 265h0M88 172h0M84 233h0M80 206h0M110 210h0M81 223h0M101 178h0M106 229h0M78 216h0M95 158h0M107 229h0M106 229h0M78 245h0M106 168h0M72 224h0M101 223h0M98 146h0M90 181h0M100 228h0M82 216h0M105 149h0M101 185h0M101 206h0M78 226h0M105 179h0M76 248h0M100 153h0M87 178h0M104 181h0M79 233h0M83 242h0M92 177h0M92 199h0M96 189h0M77 214h0M84 201h0M84 201h0M93 159h0M79 235h0M92 167h0M78 213h0M72 231h0M108 246h0M77 247h0M90 269h0M88 260h0M104 169h0M85 181h0M81 249h0M84 210h0M82 243h0M84 217h0M105 207h0M107 223h0M103 186h0M106 166h0M108 210h0M100 204h0M101 189h0M110 154h0M98 261h0M86 176h0M85 191h0M93 170h0M97 155h0M105 176h0M83 250h0M108 182h0M76 223h0M85 268h0M95 182h0M79 263h0M85 262h0M93 255h0M104 247h0M86 262h0M87 257h0M108 223h0M100 218h0M107 232h0M98 173h0M98 264h0M99 253h0M90 254h0M103 166h0M85 229h0M96 268h0M96 267h0M91 175h0M88 194h0M95 189h0M100 174h0M103 147h0M78 257h0M102 177h0M103 230h0M96 262h0M92 263h0M73 237h0M97 258h0M80 262h0M108 238h0M79 235h0M87 205h0M74 237h0M98 191h0M101 155h0M107 209h0M79 238h0M86 256h0M73 241h0M103 254h0M100 185h0M107 201h0M79 265h0M93 196h0M102 256h0M80 215h0M104 241h0M104 252h0M88 268h0M99 228h0M94 190h0M100 212h0M103 158h0M91 203h0M78 255h0M77 214h0M78 261h0M96 219h0M107 217h0M101 195h0M91 172h0M77 245h0M75 235h0M93 203h0M80 231h0M98 156h0M103 188h0M106 197h0M84 265h0M100 232h0M93 197h0M86 222h0M88 215h0M90 211h0M104 217h0M76 253h0M95 186h0M82 214h0M76 225h0M97 197h0M88 193h0M87 222h0M97 257h0M82 199h0M92 202h0M87 218h0M88 213h0M98 230h0M94 256h0M87 191h0M105 192h0M105 223h0M104 179h0M104 153h0M98 258h0M81 237h0M92 264h0M79 252h0M77 253h0M95 255h0M107 233h0M93 252h0M101 174h0M97 175h0M101 197h0M96 173h0M98 232h0M83 238h0M107 232h0M99 262h0M80 256h0M103 239h0M87 200h0M82 226h0M101 157h0M105 220h0M89 188h0M105 197h0M87 218h0M100 222h0M107 219h0M88 204h0M107 242h0M104 200h0M88 191h0M97 188h0M100 244h0M91 268h0M87 197h0M97 156h0M84 232h0M107 197h0M85 230h0M85 220h0M91 182h0M87 186h0M95 215h0M102 162h0M80 215h0M105 249h0M86 226h0M91 255h0M100 156h0M77 238h0M99 162h0M91 209h0M101 182h0M85 221h0M90 214h0M90 193h0M94 251h0M89 246h0M77 241h0M101 162h0M104 235h0M95 215h0M76 219h0M99 248h0M91 177h0M92 200h0M93 190h0M78 226h0M97 246h0M92 269h0M90 173h0M93 270h0M90 266h0M107 234h0M100 197h0M95 155h0M99 159h0M103 211h0M73 243h0M103 179h0M87 188h0M83 218h0M79 233h0M94 212h0M90 263h0M100 212h0M84 232h0M108 249h0M99 191h0M86 213h0M95 223h0M85 231h0M78 244h0M92 218h0M92 214h0M97 263h0M94 194h0M106 183h0M81 230h0M86 210h0M97 232h0M97 247h0M92 267h0M103 152h0M97 166h0M84 202h0M95 178h0M101 253h0M90 178h0M92 174h0M84 226h0M86 187h0M97 246h0M79 235h0M95 202h0M84 260h0M82 233h0M86 199h0M102 208h0M102 173h0M96 200h0M88 233h0M109 249h0M99 231h0M95 165h0M88 190h0M86 253h0M91 191h0M76 232h0M90 191h0M107 223h0M87 224h0M85 261h0M79 234h0M97 161h0M98 234h0M81 194h0M91 225h0M101 242h0M99 201h0M97 252h0M87 215h0M82 191h0M107 238h0M102 163h0M100 199h0M103 230h0M100 253h0M99 169h0M95 247h0M95 167h0M105 206h0M103 167h0M90 267h0M96 242h0M87 248h0M93 213h0M90 267h0M102 235h0M85 224h0M102 240h0M88 225h0M102 211h0M107 250h0M94 212h0M89 205h0M101 248h0M102 185h0M108 228h0M79 257h0M99 219h0M93 180h0M106 224h0M85 263h0M98 200h0M80 204h0M81 252h0M90 254h0M101 163h0M91 209h0M80 240h0M81 245h0M102 247h0M107 221h0M98 194h0M93 181h0M97 218h0M92 217h0M90 197h0M87 190h0M97 189h0M79 260h0M79 259h0M83 245h0M103 197h0M101 230h0M98 194h0M87 264h0M110 220h0M83 194h0M87 202h0M93 250h0M102 193h0M96 224h0M80 228h0M105 198h0M81 192h0M103 201h0M84 218h0M101 178h0M81 265h0M100 171h0M101 241h0M96 193h0M96 201h0M96 168h0M78 235h0M103 166h0M102 186h0M91 263h0M89 180h0M91 259h0M88 230h0M82 247h0M90 178h0M101 223h0M91 231h0M106 197h0M96 254h0M88 205h0M100 205h0M96 223h0M87 255h0M103 216h0M102 235h0M97 257h0M91 178h0M76 220h0M93 177h0M100 249h0M99 171h0M95 193h0M103 253h0M99 194h0M96 189h0M87 229h0M108 227h0M102 203h0M102 253h0M85 232h0M89 203h0M103 165h0M106 213h0M88 227h0M91 237h0M86 249h0M100 240h0M89 188h0M107 231h0M108 219h0M108 202h0M93 180h0M90 195h0M103 196h0M88 255h0M105 221h0M93 205h0" stroke="#2a2af2"/>
<path d="M103 219h0M92 228h0M101 203h0M95 213h0M77 225h0M89 231h0M90 237h0M108 231h0M96 246h0M101 222h0M104 196h0M91 224h0M96 223h0M104 225h0M102 176h0M92 262h0M101 170h0M86 259h0M92 228h0M93 182h0M95 192h0M103 195h0M101 238h0M100 253h0M98 240h0M95 185h0M97 217h0M99 253h0M102 212h0M103 214h0M94 216h0M89 229h0M90 209h0M92 251h0M108 241h0M100 207h0M109 214h0M83 246h0M82 256h0M86 225h0M101 242h0M100 184h0M78 253h0M90 180h0M91 192h0M96 208h0M97 250h0M96 248h0M96 237h0M93 233h0M102 203h0M88 225h0M91 213h0M104 221h0M94 265h0M90 265h0M91 213h0M86 219h0M82 198h0M99 240h0M79 246h0M98 197h0M105 209h0M98 186h0M87 212h0M103 177h0M86 210h0M99 228h0M92 224h0M76 230h0M108 239h0M105 235h0M108 206h0M104 212h0M97 247h0M89 223h0M81 240h0M102 179h0M79 233h0M96 185h0M98 175h0M96 198h0M83 239h0M92 265h0M82 199h0M79 259h0M87 192h0M85 259h0M100 223h0M95 224h0M80 237h0M85 227h0M92 251h0M90 203h0M99 180h0M106 227h0M97 249h0M85 257h0M106 208h0M104 249h0M97 221h0M103 175h0M82 227h0M77 221h0M97 250h0M90 196h0M85 209h0M76 247h0M104 221h0M91 187h0M103 190h0M99 233h0M89 246h0M88 240h0M103 228h0M79 231h0M85 218h0M98 212h0M90 214h0M96 255h0M100 197h0M104 238h0M97 250h0M96 178h0M78 241h0M103 183h0M80 226h0M88 253h0M99 180h0M91 246h0M92 233h0M83 198h0M96 212h0M87 193h0M81 258h0M102 182h0M83 260h0M91 243h0M91 178h0M96 205h0M91 216h0M99 175h0M93 265h0M89 216h0M100 186h0M104 245h0M103 195h0M90 180h0M81 210h0M102 225h0M83 245h0M80 205h0M84 259h0M90 206h0M99 201h0M78 243h0M97 258h0M89 251h0M95 248h0M101 208h0M90 223h0M79 239h0M105 196h0M84 210h0M102 172h0M82 204h0M89 258h0M97 231h0M87 256h0M98 224h0M98 206h0M97 199h0M102 221h0M86 264h0M102 189h0M99 221h0M97 205h0M85 211h0M94 236h0M98 230h0M95 173h0M82 263h0M82 247h0M95 176h0M99 260h0M86 209h0M98 187h0M97 225h0M81 254h0M87 236h0M95 214h0M86 207h0M83 219h0M82 225h0M93 196h0M101 218h0M102 189h0M95 186h0M89 214h0M98 186h0M84 256h0M100 178h0M80 247h0M99 202h0M84 220h0M98 237h0M92 209h0M94 230h0M85 241h0M90 249h0M81 236h0M103 176h0M88 217h0M89 239h0M87 210h0M79 232h0M97 228h0M103 195h0M86 250h0M91 208h0M96 240h0M78 247h0M97 175h0M84 210h0M96 179h0M101 187h0M86 252h0M91 183h0M87 262h0M84 198h0M85 257h0M79 237h0M93 255h0M94 235h0M85 217h0M95 216h0M91 184h0M96 227h0M105 191h0M83 256h0M94 236h0M88 248h0M96 227h0M97 218h0M97 181h0M80 233h0M99 220h0M94 187h0M87 236h0M98 197h0M78 234h0M88 197h0M104 182h0M89 247h0M97 219h0M85 192h0M104 198h0M103 214h0M97 244h0M88 188h0M83 263h0M86 234h0M93 175h0M95 252h0M99 207h0M81 227h0M94 183h0M86 221h0M105 224h0M96 173h0M90 244h0M101 176h0M93 201h0M86 228h0M98 234h0M94 180h0M103 238h0M91 199h0M89 204h0M101 235h0M99 179h0M91 183h0M104 208h0M88 200h0M86 254h0M99 260h0M85 246h0M95 257h0M83 199h0M95 179h0M95 262h0M98 181h0M94 214h0M98 177h0M85 227h0M81 242h0M93 256h0M90 222h0M93 202h0M89 194h0M83 231h0M103 203h0M78 240h0M83 253h0M94 180h0M85 230h0M82 222h0M84 232h0M102 204h0M93 239h0M101 208h0M88 220h0M81 195h0M83 257h0M104 197h0M89 235h0M83 246h0M92 258h0M93 205h0M94 201h0" stroke="#2f74f5"/>
<path d="M99 212h0M95 208h0M99 230h0M97 232h0M93 232h0M103 219h0M96 186h0M98 234h0M82 231h0M90 220h0M94 187h0M103 228h0M85 251h0M96 246h0M99 229h0M89 220h0M91 193h0M90 255h0M102 230h0M77 241h0M104 195h0M85 255h0M101 196h0M82 242h0M90 239h0M95 175h0M92 221h0M81 243h0M92 258h0M95 192h0M100 241h0M89 227h0M95 197h0M88 234h0M89 192h0M99 226h0M100 216h0M94 204h0M99 248h0M99 209h0M91 224h0M98 230h0M78 242h0M93 194h0M105 207h0M88 221h0M98 247h0M100 207h0M83 260h0M93 196h0M102 212h0M93 191h0M88 230h0M99 181h0M87 204h0M101 227h0M91 230h0M101 200h0M88 190h0M89 209h0M102 216h0M85 191h0M98 185h0M98 179h0M100 222h0M87 232h0M99 253h0M89 248h0M90 202h0M88 190h0M87 241h0M99 216h0M92 194h0M83 219h0M86 236h0M102 223h0M84 240h0M99 197h0M91 201h0M99 245h0M100 198h0M92 181h0M91 258h0M90 248h0M105 248h0M100 204h0M82 227h0M90 240h0M97 181h0M90 212h0M95 232h0M102 211h0M88 254h0M100 236h0M92 205h0M88 215h0M92 258h0M86 210h0M93 205h0M102 240h0M105 218h0M99 196h0M83 259h0M102 221h0M89 198h0M83 252h0M84 230h0M99 191h0M103 214h0M100 243h0M88 231h0M96 218h0M82 243h0M95 184h0M95 176h0M95 209h0M91 200h0M100 235h0M97 186h0M83 240h0M93 202h0M82 223h0M88 197h0M88 245h0M94 241h0M100 242h0M103 234h0M87 256h0M90 257h0M96 231h0M102 211h0M97 245h0M96 189h0M92 199h0M89 259h0M91 218h0M92 232h0M85 245h0M99 198h0M82 232h0M91 242h0M105 211h0M82 221h0M96 225h0M86 235h0M98 215h0M101 211h0M87 233h0M93 190h0M103 206h0M86 203h0M89 224h0M86 194h0M92 233h0M86 231h0M91 223h0M85 195h0M83 258h0M90 241h0M92 252h0M80 244h0M105 249h0M88 194h0M94 254h0M97 239h0M85 251h0M89 222h0M97 252h0M98 231h0M81 245h0M100 242h0M88 229h0M95 213h0M98 177h0M96 196h0M91 203h0M100 231h0M89 246h0M88 198h0M101 242h0M90 200h0M95 198h0M96 244h0M97 225h0M89 198h0M92 245h0M92 189h0M100 208h0M90 234h0M92 193h0M104 196h0M97 220h0M95 204h0M94 197h0M104 247h0M95 222h0M81 217h0M100 213h0M90 234h0M89 202h0M89 201h0M103 235h0M100 206h0M102 201h0M85 212h0M99 247h0M97 239h0M87 251h0M97 199h0M98 228h0M86 199h0M84 225h0M88 250h0M90 257h0M97 202h0M100 222h0M88 204h0M95 212h0M99 199h0M84 231h0M91 217h0M91 214h0M82 243h0M99 181h0M99 184h0M90 232h0M92 242h0M103 209h0M92 228h0M104 217h0M85 251h0M86 256h0M88 226h0M102 204h0M103 202h0M83 243h0M98 252h0M96 237h0M91 259h0M82 259h0M92 210h0M94 220h0M81 220h0M99 238h0M91 218h0M85 260h0M93 203h0M101 241h0M98 251h0M95 221h0M100 231h0M90 196h0" stroke="#2cb8c4"/>
<path d="M97 221h0M89 202h0M80 216h0M89 244h0M83 244h0M100 242h0M84 231h0M94 243h0M104 239h0M81 235h0M88 252h0M92 251h0M98 251h0M103 201h0M87 218h0M86 201h0M100 195h0M81 229h0M94 257h0M98 199h0M95 193h0M82 221h0M84 220h0M94 238h0M100 236h0M94 195h0M85 230h0M101 208h0M92 221h0M89 222h0M99 229h0M89 198h0M85 243h0M89 210h0M89 205h0M99 219h0M81 251h0M88 215h0M87 233h0M90 218h0M89 214h0M97 209h0M90 251h0M99 243h0M93 243h0M98 248h0M81 236h0M98 230h0M86 242h0M100 232h0M89 216h0M98 241h0M102 235h0M103 216h0M96 236h0M85 234h0M101 226h0M91 246h0M93 195h0M91 244h0M99 197h0M97 222h0M91 257h0M96 226h0M92 235h0M89 216h0M97 195h0M93 243h0M96 207h0M95 229h0M96 231h0M88 198h0M94 239h0M101 242h0M84 250h0M91 224h0M89 258h0M96 240h0M87 255h0M97 211h0M97 206h0M100 203h0M102 211h0M103 236h0M100 235h0M98 195h0M91 226h0M104 223h0M87 260h0M104 220h0M92 205h0M94 210h0M101 241h0M92 207h0M82 248h0M104 230h0M94 234h0M93 233h0M89 224h0M89 237h0M102 232h0M92 206h0M90 217h0M82 251h0M97 239h0M102 242h0M91 222h0M86 252h0M90 198h0M103 233h0M100 216h0M89 222h0M96 198h0M80 238h0M82 237h0M81 249h0M86 211h0M90 254h0M88 240h0M87 229h0M91 217h0M92 240h0M95 243h0M92 207h0M88 250h0M97 240h0M103 240h0M85 232h0M94 201h0M98 214h0M88 223h0M97 201h0M100 227h0M81 236h0M88 226h0M88 238h0M104 240h0M87 240h0M90 227h0M95 211h0M87 216h0M95 228h0M94 249h0M82 227h0M100 244h0M91 209h0M103 240h0M89 218h0M94 245h0M82 248h0M96 218h0M98 242h0M81 246h0M95 247h0M84 237h0M99 231h0M80 245h0M88 216h0M99 220h0M97 221h0M96 198h0M87 240h0M88 251h0M96 250h0M97 249h0M95 245h0M96 229h0M100 237h0M88 242h0M99 212h0M95 237h0M98 199h0M95 229h0M90 210h0M91 210h0M86 245h0M93 219h0M100 205h0M100 246h0M98 242h0M87 253h0M97 208h0M98 214h0M97 212h0M98 236h0M92 242h0M91 255h0M92 227h0M89 222h0M87 254h0M89 240h0M91 246h0M97 209h0M100 249h0M85 235h0M94 214h0M93 205h0M96 237h0M94 218h0M98 238h0M96 224h0M87 246h0M91 226h0M81 238h0M98 231h0M98 214h0M86 237h0M97 205h0M95 243h0M89 238h0M92 213h0M97 211h0M93 210h0M90 249h0M94 210h0M95 207h0M96 245h0M96 226h0M98 216h0M99 210h0M86 224h0M87 233h0M97 212h0M94 237h0M87 221h0M99 206h0M96 224h0M92 251h0M98 222h0M98 215h0M96 199h0M88 223h0M88 232h0M99 202h0M86 237h0M95 252h0M90 227h0M94 243h0M92 254h0M96 247h0M92 226h0M90 223h0M96 206h0M95 231h0M86 244h0M99 205h0M88 222h0M95 236h0M86 250h0M91 243h0M99 208h0M99 224h0M95 202h0M96 200h0M89 227h0M90 233h0M93 216h0M90 220h0M85 220h0M89 229h0M99 224h0M92 246h0M98 212h0" stroke="#3cc45a"/>
<path d="M87 251h0M95 227h0M89 244h0M91 236h0M90 239h0M89 253h0M89 255h0M97 231h0M86 244h0M94 252h0M86 237h0M94 217h0M87 222h0M92 240h0M94 229h0M92 225h0M92 250h0M95 213h0M99 226h0M94 253h0M90 221h0M94 241h0M92 202h0M95 204h0M98 248h0M88 219h0M89 247h0M99 234h0M99 221h0M97 211h0M94 217h0M91 251h0M96 229h0M97 214h0M89 249h0M88 231h0M88 219h0M88 246h0M92 238h0M93 244h0M96 235h0M93 243h0M99 231h0M98 235h0M90 247h0M100 223h0M99 243h0M98 244h0M87 236h0M86 232h0M100 235h0M100 208h0M88 234h0M98 244h0M91 245h0M99 216h0M93 231h0M90 232h0M92 211h0M99 206h0M87 244h0M96 220h0M100 249h0M90 213h0M85 242h0M88 239h0M100 208h0M90 223h0M92 207h0M97 229h0M86 242h0M87 229h0M94 211h0M94 211h0M96 220h0M96 207h0M93 223h0M88 222h0M98 233h0M98 221h0M88 223h0M90 239h0M89 244h0M97 245h0M93 231h0M96 249h0M92 231h0M100 219h0M94 246h0M94 245h0M93 239h0M93 243h0M89 250h0M95 225h0M90 236h0M93 239h0M97 215h0M95 238h0" stroke="#b8d030"/>
<path d="M94 218h0M99 215h0M87 245h0M88 249h0M94 232h0M94 225h0M93 242h0M88 235h0M93 217h0M93 243h0M93 237h0M93 211h0M87 235h0M94 220h0M93 247h0M88 245h0M95 240h0M93 212h0M96 231h0M90 228h0M86 232h0M88 243h0M99 239h0M92 223h0M88 237h0M90 249h0M88 244h0M94 233h0M98 241h0M99 237h0M93 225h0M93 225h0M91 241h0M89 243h0M93 219h0M91 225h0M93 239h0M93 247h0M90 246h0M93 247h0M96 236h0M92 215h0M92 231h0M100 243h0M93 239h0M87 237h0M92 242h0M98 243h0M95 243h0M91 226h0M98 236h0" stroke="#f0a020"/>
<path d="M90 217h0M94 219h0M96 241h0M94 236h0M90 230h0M92 236h0M91 239h0M91 235h0M94 238h0M90 245h0M91 238h0M91 242h0M94 234h0M95 239h0M90 232h0M92 241h0M90 241h0M93 239h0M91 242h0M94 239h0M92 243h0M93 238h0" stroke="#ee4416"/>
</g>
<rect x="1042.5" y="1437.5" width="146" height="150.6" fill="none" stroke="#333" stroke-width="0.9"/>
<text x="1035.8" y="1448.5" font-size="12.3" text-anchor="end" fill="#222">250K</text>
<text x="1035.8" y="1477.1" font-size="12.3" text-anchor="end" fill="#222">200K</text>
<text x="1035.8" y="1505.6" font-size="12.3" text-anchor="end" fill="#222">150K</text>
<text x="1035.8" y="1534.2" font-size="12.3" text-anchor="end" fill="#222">100K</text>
<text x="1035.8" y="1562.7" font-size="12.3" text-anchor="end" fill="#222">50K</text>
<text x="1035.8" y="1591.3" font-size="12.3" text-anchor="end" fill="#222">0</text>
<path d="M1038.5 1444.2h4M1038.5 1472.8h4M1038.5 1501.3h4M1038.5 1529.9h4M1038.5 1558.4h4M1038.5 1587.0h4M1040.5 1449.9h2M1040.5 1455.6h2M1040.5 1461.3h2M1040.5 1467.0h2M1040.5 1478.5h2M1040.5 1484.2h2M1040.5 1489.9h2M1040.5 1495.6h2M1040.5 1507.0h2M1040.5 1512.7h2M1040.5 1518.5h2M1040.5 1524.2h2M1040.5 1535.6h2M1040.5 1541.3h2M1040.5 1547.0h2M1040.5 1552.7h2M1040.5 1564.2h2M1040.5 1569.9h2M1040.5 1575.6h2M1040.5 1581.3h2M1051.3 1588.1v4M1075.5 1588.1v4M1099.5 1588.1v4M1139.1 1588.1v4M1174.4 1588.1v4M1054.2 1588.1v2M1056.9 1588.1v2M1059.3 1588.1v2M1061.5 1588.1v2M1063.4 1588.1v2M1065.3 1588.1v2M1067.3 1588.1v2M1069.2 1588.1v2M1071.1 1588.1v2M1079.8 1588.1v2M1081.7 1588.1v2M1083.7 1588.1v2M1085.6 1588.1v2M1087.5 1588.1v2M1089.4 1588.1v2M1091.3 1588.1v2M1093.3 1588.1v2M1095.2 1588.1v2M1097.1 1588.1v2M1111.4 1588.1v2M1118.4 1588.1v2M1123.3 1588.1v2M1127.2 1588.1v2M1130.3 1588.1v2M1133.0 1588.1v2M1135.3 1588.1v2M1137.3 1588.1v2M1149.7 1588.1v2M1155.9 1588.1v2M1160.4 1588.1v2M1163.8 1588.1v2M1166.6 1588.1v2M1168.9 1588.1v2M1171.0 1588.1v2M1172.8 1588.1v2M1184.9 1588.1v2M1048.9 1588.1v2M1047.5 1588.1v2M1046.5 1588.1v2M1045.7 1588.1v2" stroke="#222" stroke-width="0.9" fill="none"/>
<rect x="1073.1" y="1588.1" width="5.4" height="2.6" fill="#000"/>
<text x="1050.9" y="1605.6" font-size="12" text-anchor="middle" fill="#222">-10<tspan dy="-4.5" font-size="8.5">3</tspan></text>
<text x="1075.5" y="1605.6" font-size="12" text-anchor="middle" fill="#222">0</text>
<text x="1101.5" y="1605.6" font-size="12" text-anchor="middle" fill="#222">10<tspan dy="-4.5" font-size="8.5">3</tspan></text>
<text x="1141.6" y="1605.6" font-size="12" text-anchor="middle" fill="#222">10<tspan dy="-4.5" font-size="8.5">4</tspan></text>
<text x="1178.4" y="1605.6" font-size="12" text-anchor="middle" fill="#222">10<tspan dy="-4.5" font-size="8.5">5</tspan></text>
<path d="M1098.5 1588.1 L1117.0 1480.8 L1188.5 1480.8" stroke="#222" stroke-width="1" fill="none"/>
<text x="1184.0" y="1467.7" font-size="24.7" text-anchor="end">3.38%</text>
</g>
</svg>
</body></html>
